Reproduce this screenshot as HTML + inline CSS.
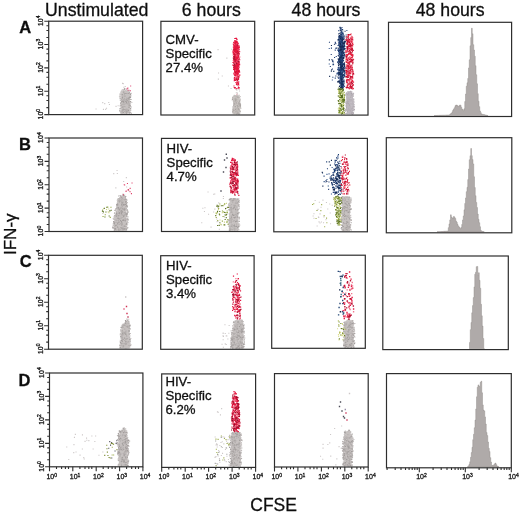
<!DOCTYPE html>
<html><head><meta charset="utf-8"><style>
html,body{margin:0;padding:0;background:#fff;width:520px;height:514px;overflow:hidden}
svg{display:block;font-family:"Liberation Sans", sans-serif}
text{stroke:#111;stroke-width:0.3px}
</style></head><body>
<svg width="520" height="514" viewBox="0 0 520 514">
<defs><filter id="bl" x="-5%" y="-5%" width="110%" height="110%"><feGaussianBlur stdDeviation="0.35"/></filter><filter id="gb" filterUnits="userSpaceOnUse" x="0" y="0" width="520" height="514"><feGaussianBlur stdDeviation="0.3"/></filter></defs>
<rect width="520" height="514" fill="#fff"/>
<g filter="url(#gb)">
<g filter="url(#bl)">
<path fill="#c5c0bf" d="M122.6 90.8 L121.9 92.0 L121.4 93.2 L121.2 94.3 L121.1 95.5 L121.1 113.8 L129.9 113.8 L129.9 95.5 L129.8 94.3 L129.6 93.2 L129.1 92.0 L128.4 90.8Z"/>
<path fill="#e6163f" d="M234.8 41.0 L234.2 45.0 L233.8 55.0 L234.1 68.0 L234.7 75.0 L238.5 75.0 L238.7 68.0 L238.9 55.0 L238.3 45.0 L237.1 41.0Z"/>
<path fill="#c5c0bd" d="M235.0 94.9 L234.2 95.3 L233.7 95.8 L233.4 96.2 L233.3 96.6 L233.2 97.0 L233.2 114.2 L239.6 114.2 L239.6 97.0 L239.5 96.6 L239.4 96.2 L239.1 95.8 L238.6 95.3 L237.8 94.9Z"/>
<path fill="#1f3c70" d="M340.4 34.0 L340.1 40.0 L339.9 70.0 L340.4 82.0 L340.8 89.0 L342.6 89.0 L342.8 82.0 L343.0 70.0 L342.8 40.0 L342.4 34.0Z"/>
<path fill="#c4bfc6" d="M347.8 92.1 L347.3 92.8 L347.0 93.5 L346.9 94.1 L346.8 94.8 L346.8 114.3 L353.0 114.3 L353.0 94.8 L352.9 94.1 L352.8 93.5 L352.5 92.8 L352.0 92.1Z"/>
<path fill="#c5c0bf" d="M120.6 195.4 L119.0 199.0 L117.8 204.7 L114.5 217.9 L113.8 230.7 L126.6 230.7 L126.6 217.9 L126.0 204.7 L125.8 199.0 L125.2 195.4Z"/>
<path fill="#c5c0bf" d="M229.7 198.5 L229.7 230.7 L238.4 230.7 L238.4 198.5Z"/>
<path fill="#c5c0bf" d="M342.3 196.4 L342.3 231.0 L350.0 231.0 L350.0 196.4Z"/>
<path fill="#c5c0bf" d="M126.0 320.5 L123.5 324.0 L121.3 328.6 L120.8 348.4 L129.6 348.4 L129.6 328.6 L129.6 324.0 L129.2 320.5Z"/>
<path fill="#c5c0bf" d="M236.1 319.8 L234.5 322.0 L233.0 330.0 L231.1 348.5 L243.4 348.5 L243.4 330.0 L242.7 322.0 L241.7 319.8Z"/>
<path fill="#c5c0bf" d="M346.9 320.2 L345.8 320.8 L345.2 321.5 L344.7 322.2 L344.5 322.8 L344.4 323.5 L344.4 347.5 L353.6 347.5 L353.6 323.5 L353.5 322.8 L353.3 322.2 L352.8 321.5 L352.2 320.8 L351.1 320.2Z"/>
<path fill="#c5c0bf" d="M121.0 429.8 L119.9 432.2 L119.2 434.5 L118.7 436.8 L118.5 439.2 L118.4 441.5 L119.2 466.0 L127.2 466.0 L127.8 441.5 L127.7 439.2 L127.5 436.8 L127.0 434.5 L126.3 432.2 L125.2 429.8Z"/>
<path fill="#c5c0bf" d="M236.2 431.0 L233.7 431.8 L232.6 432.7 L231.9 433.5 L231.4 434.3 L231.2 435.2 L231.1 436.0 L231.1 466.6 L240.1 466.6 L240.9 436.0 L240.8 435.2 L240.6 434.3 L240.1 433.5 L239.4 432.7 L238.3 431.8 L235.8 431.0Z"/>
<path fill="#c5c0bf" d="M346.4 431.5 L345.4 433.5 L344.8 435.5 L344.4 437.5 L344.2 439.5 L344.1 441.5 L344.1 466.2 L351.2 466.2 L352.0 441.5 L351.9 439.5 L351.7 437.5 L351.3 435.5 L350.7 433.5 L349.7 431.5Z"/>
<path fill="#c7c2c1" d="M127.1 96.5h1.1v1.1h-1.1zM124.5 89.7h1.1v1.1h-1.1zM125.0 104.7h1.1v1.1h-1.1zM126.1 92.8h1.1v1.1h-1.1zM125.9 89.6h1.1v1.1h-1.1zM128.2 99.6h1.1v1.1h-1.1zM127.3 102.2h1.1v1.1h-1.1zM129.0 108.2h1.1v1.1h-1.1zM120.3 92.2h1.1v1.1h-1.1zM122.7 100.6h1.1v1.1h-1.1zM128.0 108.4h1.1v1.1h-1.1zM120.1 104.6h1.1v1.1h-1.1zM122.9 89.4h1.1v1.1h-1.1zM120.9 111.0h1.1v1.1h-1.1zM128.6 110.1h1.1v1.1h-1.1zM130.9 112.9h1.1v1.1h-1.1zM122.7 93.7h1.1v1.1h-1.1zM129.4 99.1h1.1v1.1h-1.1zM129.2 111.5h1.1v1.1h-1.1zM124.5 102.4h1.1v1.1h-1.1zM122.5 102.3h1.1v1.1h-1.1zM123.9 107.6h1.1v1.1h-1.1zM124.6 91.6h1.1v1.1h-1.1zM122.9 96.8h1.1v1.1h-1.1zM122.7 99.3h1.1v1.1h-1.1zM124.7 94.8h1.1v1.1h-1.1zM120.8 103.0h1.1v1.1h-1.1zM125.8 99.7h1.1v1.1h-1.1zM120.6 101.8h1.1v1.1h-1.1zM127.8 96.3h1.1v1.1h-1.1zM122.8 97.0h1.1v1.1h-1.1zM130.3 93.1h1.1v1.1h-1.1zM127.0 96.7h1.1v1.1h-1.1zM122.0 89.2h1.1v1.1h-1.1zM122.5 110.8h1.1v1.1h-1.1zM123.5 91.9h1.1v1.1h-1.1zM118.9 96.2h1.1v1.1h-1.1zM119.5 93.3h1.1v1.1h-1.1zM123.8 89.3h1.1v1.1h-1.1zM127.7 107.4h1.1v1.1h-1.1zM126.3 109.4h1.1v1.1h-1.1zM129.0 101.3h1.1v1.1h-1.1zM127.2 111.3h1.1v1.1h-1.1zM119.5 105.4h1.1v1.1h-1.1zM120.0 101.8h1.1v1.1h-1.1zM121.5 94.3h1.1v1.1h-1.1zM123.0 89.8h1.1v1.1h-1.1zM124.9 111.9h1.1v1.1h-1.1zM130.2 95.2h1.1v1.1h-1.1zM129.4 106.3h1.1v1.1h-1.1zM122.9 100.9h1.1v1.1h-1.1zM124.1 103.4h1.1v1.1h-1.1zM129.9 109.9h1.1v1.1h-1.1zM122.3 94.7h1.1v1.1h-1.1zM123.6 107.5h1.1v1.1h-1.1zM122.3 110.7h1.1v1.1h-1.1zM130.3 109.6h1.1v1.1h-1.1zM124.8 90.8h1.1v1.1h-1.1zM124.7 95.8h1.1v1.1h-1.1zM122.2 105.4h1.1v1.1h-1.1zM128.3 105.5h1.1v1.1h-1.1zM129.8 107.8h1.1v1.1h-1.1zM130.3 99.0h1.1v1.1h-1.1zM128.5 111.4h1.1v1.1h-1.1zM126.5 107.6h1.1v1.1h-1.1zM122.0 92.8h1.1v1.1h-1.1zM123.6 112.8h1.1v1.1h-1.1zM120.9 98.0h1.1v1.1h-1.1zM128.1 98.7h1.1v1.1h-1.1zM128.1 111.9h1.1v1.1h-1.1zM122.2 112.8h1.1v1.1h-1.1zM130.3 111.9h1.1v1.1h-1.1zM127.0 90.1h1.1v1.1h-1.1zM131.3 102.0h1.1v1.1h-1.1zM124.8 89.9h1.1v1.1h-1.1zM123.5 95.5h1.1v1.1h-1.1zM129.0 94.3h1.1v1.1h-1.1zM123.8 103.0h1.1v1.1h-1.1zM120.0 108.1h1.1v1.1h-1.1zM122.9 93.1h1.1v1.1h-1.1zM125.6 93.3h1.1v1.1h-1.1zM120.6 102.6h1.1v1.1h-1.1zM129.9 95.6h1.1v1.1h-1.1zM128.7 93.4h1.1v1.1h-1.1zM126.0 111.9h1.1v1.1h-1.1zM121.7 113.0h1.1v1.1h-1.1zM129.0 93.6h1.1v1.1h-1.1zM122.3 102.4h1.1v1.1h-1.1zM124.8 105.2h1.1v1.1h-1.1zM127.9 94.1h1.1v1.1h-1.1zM124.7 90.9h1.1v1.1h-1.1zM129.4 108.0h1.1v1.1h-1.1zM121.6 101.3h1.1v1.1h-1.1zM128.2 105.0h1.1v1.1h-1.1zM124.6 97.6h1.1v1.1h-1.1zM120.0 96.3h1.1v1.1h-1.1zM120.8 101.6h1.1v1.1h-1.1zM122.0 90.6h1.1v1.1h-1.1zM121.1 104.2h1.1v1.1h-1.1zM119.4 94.4h1.1v1.1h-1.1zM119.7 108.1h1.1v1.1h-1.1zM122.1 107.4h1.1v1.1h-1.1zM127.5 96.4h1.1v1.1h-1.1zM125.7 99.5h1.1v1.1h-1.1zM121.3 91.6h1.1v1.1h-1.1zM120.5 111.9h1.1v1.1h-1.1zM126.7 109.8h1.1v1.1h-1.1zM127.3 90.7h1.1v1.1h-1.1zM123.0 95.8h1.1v1.1h-1.1zM125.5 97.4h1.1v1.1h-1.1zM122.6 95.1h1.1v1.1h-1.1zM126.2 106.3h1.1v1.1h-1.1zM129.6 111.2h1.1v1.1h-1.1zM123.8 111.4h1.1v1.1h-1.1zM127.6 101.7h1.1v1.1h-1.1zM120.5 105.4h1.1v1.1h-1.1zM128.7 91.4h1.1v1.1h-1.1zM121.2 106.4h1.1v1.1h-1.1zM129.4 90.3h1.1v1.1h-1.1zM120.8 93.3h1.1v1.1h-1.1zM126.6 98.4h1.1v1.1h-1.1zM127.3 90.2h1.1v1.1h-1.1zM122.3 97.2h1.1v1.1h-1.1zM121.9 112.3h1.1v1.1h-1.1zM128.8 97.0h1.1v1.1h-1.1zM128.3 102.6h1.1v1.1h-1.1zM121.1 111.3h1.1v1.1h-1.1zM122.2 102.6h1.1v1.1h-1.1zM127.0 100.0h1.1v1.1h-1.1zM126.4 113.0h1.1v1.1h-1.1zM123.5 105.7h1.1v1.1h-1.1zM125.3 97.4h1.1v1.1h-1.1zM128.5 99.3h1.1v1.1h-1.1zM119.8 111.1h1.1v1.1h-1.1zM127.0 111.6h1.1v1.1h-1.1zM126.7 103.9h1.1v1.1h-1.1zM128.1 105.4h1.1v1.1h-1.1zM122.4 102.7h1.1v1.1h-1.1zM119.8 104.7h1.1v1.1h-1.1zM129.7 109.1h1.1v1.1h-1.1zM130.0 103.4h1.1v1.1h-1.1zM127.1 91.6h1.1v1.1h-1.1zM122.8 99.9h1.1v1.1h-1.1zM128.5 103.7h1.1v1.1h-1.1zM122.2 99.7h1.1v1.1h-1.1zM126.5 107.9h1.1v1.1h-1.1zM123.6 97.4h1.1v1.1h-1.1zM123.3 92.0h1.1v1.1h-1.1zM121.6 94.7h1.1v1.1h-1.1zM125.3 102.4h1.1v1.1h-1.1zM120.9 103.5h1.1v1.1h-1.1zM126.5 104.8h1.1v1.1h-1.1zM122.1 112.3h1.1v1.1h-1.1zM120.4 96.4h1.1v1.1h-1.1zM120.4 91.4h1.1v1.1h-1.1zM124.5 97.1h1.1v1.1h-1.1zM119.6 95.4h1.1v1.1h-1.1zM124.5 101.6h1.1v1.1h-1.1zM127.6 91.4h1.1v1.1h-1.1zM122.6 100.7h1.1v1.1h-1.1zM126.4 92.2h1.1v1.1h-1.1zM127.7 101.0h1.1v1.1h-1.1zM120.5 94.2h1.1v1.1h-1.1zM120.2 106.7h1.1v1.1h-1.1zM120.8 90.9h1.1v1.1h-1.1zM121.6 102.5h1.1v1.1h-1.1zM123.8 112.2h1.1v1.1h-1.1zM121.5 94.8h1.1v1.1h-1.1zM124.5 94.4h1.1v1.1h-1.1zM126.5 104.8h1.1v1.1h-1.1zM121.1 100.2h1.1v1.1h-1.1zM126.9 104.2h1.1v1.1h-1.1zM124.5 102.4h1.1v1.1h-1.1zM124.6 94.8h1.1v1.1h-1.1zM120.3 107.9h1.1v1.1h-1.1zM122.7 107.5h1.1v1.1h-1.1zM125.8 212.4h1.1v1.1h-1.1zM118.3 200.1h1.1v1.1h-1.1zM120.3 211.8h1.1v1.1h-1.1zM124.0 203.9h1.1v1.1h-1.1zM125.3 205.6h1.1v1.1h-1.1zM126.0 205.6h1.1v1.1h-1.1zM116.5 204.4h1.1v1.1h-1.1zM117.6 214.4h1.1v1.1h-1.1zM116.8 210.6h1.1v1.1h-1.1zM126.1 229.2h1.1v1.1h-1.1zM113.3 228.0h1.1v1.1h-1.1zM127.5 216.3h1.1v1.1h-1.1zM116.7 229.2h1.1v1.1h-1.1zM116.2 224.5h1.1v1.1h-1.1zM125.3 222.7h1.1v1.1h-1.1zM122.8 220.6h1.1v1.1h-1.1zM116.1 213.2h1.1v1.1h-1.1zM118.5 213.9h1.1v1.1h-1.1zM118.0 200.0h1.1v1.1h-1.1zM124.6 222.8h1.1v1.1h-1.1zM124.3 204.3h1.1v1.1h-1.1zM116.4 214.9h1.1v1.1h-1.1zM121.8 204.3h1.1v1.1h-1.1zM117.0 228.4h1.1v1.1h-1.1zM116.7 217.6h1.1v1.1h-1.1zM116.0 221.0h1.1v1.1h-1.1zM127.4 218.6h1.1v1.1h-1.1zM125.1 222.7h1.1v1.1h-1.1zM122.2 215.4h1.1v1.1h-1.1zM118.7 208.2h1.1v1.1h-1.1zM118.4 222.8h1.1v1.1h-1.1zM120.6 215.3h1.1v1.1h-1.1zM117.7 222.1h1.1v1.1h-1.1zM126.2 202.8h1.1v1.1h-1.1zM116.9 208.6h1.1v1.1h-1.1zM119.3 225.5h1.1v1.1h-1.1zM122.6 228.8h1.1v1.1h-1.1zM126.1 199.2h1.1v1.1h-1.1zM120.6 216.5h1.1v1.1h-1.1zM119.9 210.8h1.1v1.1h-1.1zM121.6 200.5h1.1v1.1h-1.1zM117.0 226.5h1.1v1.1h-1.1zM123.6 204.7h1.1v1.1h-1.1zM124.7 205.1h1.1v1.1h-1.1zM117.2 220.8h1.1v1.1h-1.1zM118.3 206.3h1.1v1.1h-1.1zM119.0 222.2h1.1v1.1h-1.1zM113.0 225.1h1.1v1.1h-1.1zM116.9 201.5h1.1v1.1h-1.1zM119.0 226.5h1.1v1.1h-1.1zM118.7 221.0h1.1v1.1h-1.1zM121.7 201.4h1.1v1.1h-1.1zM116.1 224.5h1.1v1.1h-1.1zM123.1 224.6h1.1v1.1h-1.1zM118.5 227.4h1.1v1.1h-1.1zM114.7 215.4h1.1v1.1h-1.1zM120.8 214.4h1.1v1.1h-1.1zM120.9 215.3h1.1v1.1h-1.1zM124.2 218.5h1.1v1.1h-1.1zM117.0 203.0h1.1v1.1h-1.1zM126.0 220.1h1.1v1.1h-1.1zM115.8 226.9h1.1v1.1h-1.1zM117.1 206.6h1.1v1.1h-1.1zM126.3 226.5h1.1v1.1h-1.1zM123.7 227.1h1.1v1.1h-1.1zM119.6 203.3h1.1v1.1h-1.1zM119.7 203.3h1.1v1.1h-1.1zM125.6 204.1h1.1v1.1h-1.1zM124.0 203.9h1.1v1.1h-1.1zM124.3 197.0h1.1v1.1h-1.1zM122.0 214.1h1.1v1.1h-1.1zM118.7 201.5h1.1v1.1h-1.1zM119.9 199.4h1.1v1.1h-1.1zM118.3 216.7h1.1v1.1h-1.1zM117.0 204.7h1.1v1.1h-1.1zM124.8 228.5h1.1v1.1h-1.1zM123.6 201.5h1.1v1.1h-1.1zM124.1 210.2h1.1v1.1h-1.1zM125.4 209.5h1.1v1.1h-1.1zM118.8 209.9h1.1v1.1h-1.1zM114.0 218.5h1.1v1.1h-1.1zM121.6 213.8h1.1v1.1h-1.1zM117.7 222.8h1.1v1.1h-1.1zM124.8 211.1h1.1v1.1h-1.1zM123.6 209.0h1.1v1.1h-1.1zM126.2 207.1h1.1v1.1h-1.1zM117.0 216.7h1.1v1.1h-1.1zM118.6 205.2h1.1v1.1h-1.1zM117.6 217.3h1.1v1.1h-1.1zM116.5 212.8h1.1v1.1h-1.1zM124.7 198.9h1.1v1.1h-1.1zM123.4 207.9h1.1v1.1h-1.1zM126.4 209.2h1.1v1.1h-1.1zM119.0 226.5h1.1v1.1h-1.1zM124.2 222.8h1.1v1.1h-1.1zM121.7 204.4h1.1v1.1h-1.1zM122.8 195.7h1.1v1.1h-1.1zM116.4 207.2h1.1v1.1h-1.1zM116.9 227.0h1.1v1.1h-1.1zM124.0 219.8h1.1v1.1h-1.1zM121.1 211.4h1.1v1.1h-1.1zM124.3 220.0h1.1v1.1h-1.1zM115.3 210.2h1.1v1.1h-1.1zM114.7 217.9h1.1v1.1h-1.1zM120.9 218.0h1.1v1.1h-1.1zM114.5 224.6h1.1v1.1h-1.1zM116.9 203.0h1.1v1.1h-1.1zM123.2 207.3h1.1v1.1h-1.1zM123.5 226.2h1.1v1.1h-1.1zM124.6 213.6h1.1v1.1h-1.1zM124.0 203.6h1.1v1.1h-1.1zM115.3 216.9h1.1v1.1h-1.1zM121.7 202.2h1.1v1.1h-1.1zM123.5 228.3h1.1v1.1h-1.1zM125.3 206.2h1.1v1.1h-1.1zM118.3 201.7h1.1v1.1h-1.1zM125.9 228.4h1.1v1.1h-1.1zM120.1 211.4h1.1v1.1h-1.1zM116.7 199.7h1.1v1.1h-1.1zM115.9 206.2h1.1v1.1h-1.1zM124.5 213.5h1.1v1.1h-1.1zM118.6 225.2h1.1v1.1h-1.1zM118.2 200.3h1.1v1.1h-1.1zM126.5 199.5h1.1v1.1h-1.1zM122.0 202.0h1.1v1.1h-1.1zM118.3 228.0h1.1v1.1h-1.1zM116.0 225.8h1.1v1.1h-1.1zM125.4 201.8h1.1v1.1h-1.1zM113.3 216.5h1.1v1.1h-1.1zM126.5 199.6h1.1v1.1h-1.1zM121.0 211.9h1.1v1.1h-1.1zM126.4 199.4h1.1v1.1h-1.1zM122.5 196.2h1.1v1.1h-1.1zM122.5 228.6h1.1v1.1h-1.1zM125.6 213.7h1.1v1.1h-1.1zM122.3 203.1h1.1v1.1h-1.1zM120.1 216.9h1.1v1.1h-1.1zM116.7 205.0h1.1v1.1h-1.1zM120.8 209.4h1.1v1.1h-1.1zM115.9 212.9h1.1v1.1h-1.1zM119.4 206.2h1.1v1.1h-1.1zM122.5 215.3h1.1v1.1h-1.1zM122.3 221.9h1.1v1.1h-1.1zM119.9 226.4h1.1v1.1h-1.1zM122.8 223.2h1.1v1.1h-1.1zM125.6 209.9h1.1v1.1h-1.1zM120.2 223.3h1.1v1.1h-1.1zM121.5 227.9h1.1v1.1h-1.1zM123.3 197.5h1.1v1.1h-1.1zM126.0 218.8h1.1v1.1h-1.1zM124.0 196.0h1.1v1.1h-1.1zM115.0 208.4h1.1v1.1h-1.1zM126.3 221.9h1.1v1.1h-1.1zM126.7 219.1h1.1v1.1h-1.1zM117.2 225.6h1.1v1.1h-1.1zM121.6 229.9h1.1v1.1h-1.1zM125.6 203.0h1.1v1.1h-1.1zM124.6 227.3h1.1v1.1h-1.1zM117.1 208.6h1.1v1.1h-1.1zM122.0 227.4h1.1v1.1h-1.1zM116.4 215.5h1.1v1.1h-1.1zM121.5 207.4h1.1v1.1h-1.1zM122.9 219.9h1.1v1.1h-1.1zM118.6 211.3h1.1v1.1h-1.1zM120.9 225.1h1.1v1.1h-1.1zM126.9 227.1h1.1v1.1h-1.1zM121.6 216.1h1.1v1.1h-1.1zM118.1 208.8h1.1v1.1h-1.1zM118.0 211.5h1.1v1.1h-1.1zM125.3 214.4h1.1v1.1h-1.1zM119.5 198.9h1.1v1.1h-1.1zM126.5 223.5h1.1v1.1h-1.1zM123.9 215.4h1.1v1.1h-1.1zM122.0 206.8h1.1v1.1h-1.1zM125.6 205.6h1.1v1.1h-1.1zM121.1 215.7h1.1v1.1h-1.1zM125.4 215.8h1.1v1.1h-1.1zM119.1 222.2h1.1v1.1h-1.1zM118.0 197.9h1.1v1.1h-1.1zM117.2 209.4h1.1v1.1h-1.1zM120.9 214.0h1.1v1.1h-1.1zM117.3 221.3h1.1v1.1h-1.1zM117.2 210.6h1.1v1.1h-1.1zM122.6 211.9h1.1v1.1h-1.1zM118.3 206.3h1.1v1.1h-1.1zM125.6 222.4h1.1v1.1h-1.1zM122.7 205.8h1.1v1.1h-1.1zM119.0 219.7h1.1v1.1h-1.1zM125.1 214.8h1.1v1.1h-1.1zM119.0 220.5h1.1v1.1h-1.1zM116.6 211.1h1.1v1.1h-1.1zM119.1 211.6h1.1v1.1h-1.1zM119.1 204.3h1.1v1.1h-1.1zM124.4 210.2h1.1v1.1h-1.1zM125.7 228.3h1.1v1.1h-1.1zM120.8 220.7h1.1v1.1h-1.1zM123.7 226.6h1.1v1.1h-1.1zM114.8 215.5h1.1v1.1h-1.1zM121.9 199.3h1.1v1.1h-1.1zM125.1 218.3h1.1v1.1h-1.1zM113.9 212.8h1.1v1.1h-1.1zM122.1 229.7h1.1v1.1h-1.1zM123.0 206.2h1.1v1.1h-1.1zM117.7 218.5h1.1v1.1h-1.1zM126.0 223.4h1.1v1.1h-1.1zM122.7 205.6h1.1v1.1h-1.1zM119.1 197.2h1.1v1.1h-1.1zM113.9 215.0h1.1v1.1h-1.1zM120.5 220.0h1.1v1.1h-1.1zM119.9 198.6h1.1v1.1h-1.1zM120.7 221.0h1.1v1.1h-1.1zM121.2 218.9h1.1v1.1h-1.1zM117.5 199.7h1.1v1.1h-1.1zM118.4 228.4h1.1v1.1h-1.1zM119.3 202.9h1.1v1.1h-1.1zM118.4 226.0h1.1v1.1h-1.1zM123.0 216.1h1.1v1.1h-1.1zM113.9 220.6h1.1v1.1h-1.1zM124.1 211.0h1.1v1.1h-1.1zM126.3 227.6h1.1v1.1h-1.1zM117.2 199.4h1.1v1.1h-1.1zM121.1 224.6h1.1v1.1h-1.1zM127.2 211.0h1.1v1.1h-1.1zM119.2 229.4h1.1v1.1h-1.1zM123.2 214.9h1.1v1.1h-1.1zM123.3 201.6h1.1v1.1h-1.1zM122.5 193.6h1.1v1.1h-1.1zM116.1 219.5h1.1v1.1h-1.1zM126.3 224.8h1.1v1.1h-1.1zM116.5 227.3h1.1v1.1h-1.1zM121.6 228.5h1.1v1.1h-1.1zM119.0 220.2h1.1v1.1h-1.1zM123.8 197.9h1.1v1.1h-1.1zM120.4 220.3h1.1v1.1h-1.1zM119.4 207.0h1.1v1.1h-1.1zM115.4 208.4h1.1v1.1h-1.1zM117.0 209.7h1.1v1.1h-1.1zM123.9 204.4h1.1v1.1h-1.1zM124.3 208.0h1.1v1.1h-1.1zM113.3 222.6h1.1v1.1h-1.1zM124.1 199.1h1.1v1.1h-1.1zM116.4 216.9h1.1v1.1h-1.1zM123.2 208.4h1.1v1.1h-1.1zM118.7 211.1h1.1v1.1h-1.1zM123.6 213.9h1.1v1.1h-1.1zM115.8 229.5h1.1v1.1h-1.1zM127.5 227.2h1.1v1.1h-1.1zM117.0 214.2h1.1v1.1h-1.1zM125.8 226.0h1.1v1.1h-1.1zM117.2 226.7h1.1v1.1h-1.1zM119.4 202.8h1.1v1.1h-1.1zM124.2 204.1h1.1v1.1h-1.1zM113.9 215.3h1.1v1.1h-1.1zM125.4 205.3h1.1v1.1h-1.1zM122.9 218.5h1.1v1.1h-1.1zM119.8 198.6h1.1v1.1h-1.1zM120.0 203.8h1.1v1.1h-1.1zM118.8 213.0h1.1v1.1h-1.1zM118.2 215.1h1.1v1.1h-1.1zM126.0 203.7h1.1v1.1h-1.1zM117.3 220.2h1.1v1.1h-1.1zM122.4 201.8h1.1v1.1h-1.1zM118.7 202.7h1.1v1.1h-1.1zM125.0 202.8h1.1v1.1h-1.1zM119.6 209.3h1.1v1.1h-1.1zM116.6 206.1h1.1v1.1h-1.1zM114.9 214.9h1.1v1.1h-1.1zM123.1 217.0h1.1v1.1h-1.1zM118.0 204.8h1.1v1.1h-1.1zM112.3 225.6h1.1v1.1h-1.1zM114.5 218.5h1.1v1.1h-1.1zM121.6 214.4h1.1v1.1h-1.1zM126.9 219.7h1.1v1.1h-1.1zM114.3 224.9h1.1v1.1h-1.1zM125.3 199.6h1.1v1.1h-1.1zM127.5 221.9h1.1v1.1h-1.1zM126.7 221.1h1.1v1.1h-1.1zM114.4 221.2h1.1v1.1h-1.1zM123.9 197.7h1.1v1.1h-1.1zM121.1 196.6h1.1v1.1h-1.1zM119.7 211.9h1.1v1.1h-1.1zM114.9 226.5h1.1v1.1h-1.1zM116.6 211.5h1.1v1.1h-1.1zM123.8 213.5h1.1v1.1h-1.1zM125.6 215.4h1.1v1.1h-1.1zM125.1 205.1h1.1v1.1h-1.1zM116.5 207.7h1.1v1.1h-1.1zM114.1 210.0h1.1v1.1h-1.1zM113.0 222.0h1.1v1.1h-1.1zM113.9 216.9h1.1v1.1h-1.1zM113.8 216.7h1.1v1.1h-1.1zM118.8 229.7h1.1v1.1h-1.1zM126.5 213.6h1.1v1.1h-1.1zM120.1 201.5h1.1v1.1h-1.1zM113.9 215.6h1.1v1.1h-1.1zM112.4 227.8h1.1v1.1h-1.1zM119.0 222.7h1.1v1.1h-1.1zM121.4 228.0h1.1v1.1h-1.1zM118.1 219.2h1.1v1.1h-1.1zM115.0 222.9h1.1v1.1h-1.1zM121.9 214.8h1.1v1.1h-1.1zM126.6 221.2h1.1v1.1h-1.1zM122.8 219.1h1.1v1.1h-1.1zM114.3 225.7h1.1v1.1h-1.1zM125.8 220.3h1.1v1.1h-1.1zM117.7 213.3h1.1v1.1h-1.1zM115.5 227.5h1.1v1.1h-1.1zM115.1 221.5h1.1v1.1h-1.1zM121.8 217.7h1.1v1.1h-1.1zM116.9 222.9h1.1v1.1h-1.1zM125.6 214.5h1.1v1.1h-1.1zM120.8 222.9h1.1v1.1h-1.1zM116.7 202.6h1.1v1.1h-1.1zM115.7 220.6h1.1v1.1h-1.1zM116.3 207.4h1.1v1.1h-1.1zM127.0 221.3h1.1v1.1h-1.1zM116.3 221.2h1.1v1.1h-1.1zM122.3 225.6h1.1v1.1h-1.1zM124.9 206.8h1.1v1.1h-1.1zM124.3 224.6h1.1v1.1h-1.1zM121.7 207.6h1.1v1.1h-1.1zM124.7 206.1h1.1v1.1h-1.1zM123.3 203.4h1.1v1.1h-1.1zM121.1 228.1h1.1v1.1h-1.1zM116.3 229.4h1.1v1.1h-1.1zM119.0 210.3h1.1v1.1h-1.1zM124.7 218.7h1.1v1.1h-1.1zM120.4 227.2h1.1v1.1h-1.1zM127.1 223.5h1.1v1.1h-1.1zM124.6 216.6h1.1v1.1h-1.1zM118.6 215.9h1.1v1.1h-1.1zM119.0 209.7h1.1v1.1h-1.1zM118.5 225.8h1.1v1.1h-1.1zM113.6 222.4h1.1v1.1h-1.1zM123.5 219.3h1.1v1.1h-1.1zM121.6 198.0h1.1v1.1h-1.1zM124.1 194.5h1.1v1.1h-1.1zM125.3 210.6h1.1v1.1h-1.1zM116.0 227.9h1.1v1.1h-1.1zM119.5 215.6h1.1v1.1h-1.1zM112.7 218.1h1.1v1.1h-1.1zM125.3 206.0h1.1v1.1h-1.1zM121.9 214.1h1.1v1.1h-1.1zM113.0 221.0h1.1v1.1h-1.1zM126.4 224.3h1.1v1.1h-1.1zM126.2 215.3h1.1v1.1h-1.1zM114.2 224.8h1.1v1.1h-1.1zM122.4 213.2h1.1v1.1h-1.1zM118.4 208.0h1.1v1.1h-1.1zM120.7 201.7h1.1v1.1h-1.1zM116.4 222.9h1.1v1.1h-1.1zM125.4 199.2h1.1v1.1h-1.1zM114.1 228.0h1.1v1.1h-1.1zM126.9 201.9h1.1v1.1h-1.1zM125.1 219.3h1.1v1.1h-1.1zM116.2 228.1h1.1v1.1h-1.1zM120.4 222.5h1.1v1.1h-1.1zM126.6 214.0h1.1v1.1h-1.1zM234.1 200.9h1.1v1.1h-1.1zM230.1 219.6h1.1v1.1h-1.1zM231.2 220.8h1.1v1.1h-1.1zM237.0 224.3h1.1v1.1h-1.1zM236.8 208.1h1.1v1.1h-1.1zM232.5 221.1h1.1v1.1h-1.1zM236.6 208.7h1.1v1.1h-1.1zM228.2 219.7h1.1v1.1h-1.1zM229.1 209.3h1.1v1.1h-1.1zM237.8 217.3h1.1v1.1h-1.1zM230.1 211.4h1.1v1.1h-1.1zM234.7 225.7h1.1v1.1h-1.1zM231.0 205.0h1.1v1.1h-1.1zM237.0 223.1h1.1v1.1h-1.1zM233.8 200.6h1.1v1.1h-1.1zM229.0 225.4h1.1v1.1h-1.1zM234.2 210.5h1.1v1.1h-1.1zM228.9 209.9h1.1v1.1h-1.1zM229.9 226.7h1.1v1.1h-1.1zM234.7 210.7h1.1v1.1h-1.1zM237.5 201.8h1.1v1.1h-1.1zM234.2 200.7h1.1v1.1h-1.1zM228.8 215.9h1.1v1.1h-1.1zM238.8 224.6h1.1v1.1h-1.1zM231.7 219.8h1.1v1.1h-1.1zM234.5 203.9h1.1v1.1h-1.1zM236.8 208.0h1.1v1.1h-1.1zM239.2 224.6h1.1v1.1h-1.1zM228.8 228.4h1.1v1.1h-1.1zM238.6 219.3h1.1v1.1h-1.1zM229.1 217.2h1.1v1.1h-1.1zM235.1 219.5h1.1v1.1h-1.1zM229.1 202.6h1.1v1.1h-1.1zM229.8 209.6h1.1v1.1h-1.1zM234.2 206.7h1.1v1.1h-1.1zM237.1 203.1h1.1v1.1h-1.1zM237.4 216.6h1.1v1.1h-1.1zM235.7 222.2h1.1v1.1h-1.1zM235.3 207.2h1.1v1.1h-1.1zM237.9 198.7h1.1v1.1h-1.1zM229.4 210.5h1.1v1.1h-1.1zM238.3 198.3h1.1v1.1h-1.1zM235.4 214.6h1.1v1.1h-1.1zM229.1 214.6h1.1v1.1h-1.1zM232.0 210.6h1.1v1.1h-1.1zM234.2 219.5h1.1v1.1h-1.1zM229.5 206.6h1.1v1.1h-1.1zM232.3 217.9h1.1v1.1h-1.1zM231.9 217.6h1.1v1.1h-1.1zM229.0 216.3h1.1v1.1h-1.1zM230.9 209.2h1.1v1.1h-1.1zM233.1 201.5h1.1v1.1h-1.1zM229.6 203.8h1.1v1.1h-1.1zM234.4 213.5h1.1v1.1h-1.1zM232.5 208.0h1.1v1.1h-1.1zM233.1 205.0h1.1v1.1h-1.1zM237.5 224.9h1.1v1.1h-1.1zM237.3 226.9h1.1v1.1h-1.1zM238.2 211.7h1.1v1.1h-1.1zM234.1 206.9h1.1v1.1h-1.1zM227.5 219.8h1.1v1.1h-1.1zM228.6 205.6h1.1v1.1h-1.1zM229.2 208.4h1.1v1.1h-1.1zM238.2 226.3h1.1v1.1h-1.1zM232.8 216.5h1.1v1.1h-1.1zM234.2 210.2h1.1v1.1h-1.1zM236.0 203.9h1.1v1.1h-1.1zM235.7 201.5h1.1v1.1h-1.1zM236.9 229.7h1.1v1.1h-1.1zM228.6 220.5h1.1v1.1h-1.1zM236.3 199.3h1.1v1.1h-1.1zM232.7 217.9h1.1v1.1h-1.1zM235.0 199.3h1.1v1.1h-1.1zM232.6 227.1h1.1v1.1h-1.1zM231.0 209.9h1.1v1.1h-1.1zM230.7 204.2h1.1v1.1h-1.1zM236.8 205.6h1.1v1.1h-1.1zM235.5 222.0h1.1v1.1h-1.1zM230.0 213.5h1.1v1.1h-1.1zM235.7 202.8h1.1v1.1h-1.1zM230.0 201.6h1.1v1.1h-1.1zM232.2 222.7h1.1v1.1h-1.1zM235.8 227.2h1.1v1.1h-1.1zM235.1 224.0h1.1v1.1h-1.1zM235.4 207.2h1.1v1.1h-1.1zM235.2 209.6h1.1v1.1h-1.1zM238.3 223.2h1.1v1.1h-1.1zM236.4 216.8h1.1v1.1h-1.1zM229.1 216.3h1.1v1.1h-1.1zM238.8 220.9h1.1v1.1h-1.1zM233.5 221.7h1.1v1.1h-1.1zM236.1 211.1h1.1v1.1h-1.1zM230.7 211.9h1.1v1.1h-1.1zM232.3 208.1h1.1v1.1h-1.1zM236.9 216.3h1.1v1.1h-1.1zM233.8 227.6h1.1v1.1h-1.1zM232.1 205.7h1.1v1.1h-1.1zM231.7 204.0h1.1v1.1h-1.1zM231.8 220.7h1.1v1.1h-1.1zM236.9 220.9h1.1v1.1h-1.1zM238.2 229.0h1.1v1.1h-1.1zM229.8 216.1h1.1v1.1h-1.1zM237.2 207.7h1.1v1.1h-1.1zM230.4 222.4h1.1v1.1h-1.1zM238.1 203.7h1.1v1.1h-1.1zM230.2 200.1h1.1v1.1h-1.1zM235.4 211.3h1.1v1.1h-1.1zM232.0 198.4h1.1v1.1h-1.1zM228.7 199.1h1.1v1.1h-1.1zM235.2 202.4h1.1v1.1h-1.1zM237.0 222.2h1.1v1.1h-1.1zM233.3 207.1h1.1v1.1h-1.1zM236.4 217.3h1.1v1.1h-1.1zM232.9 217.6h1.1v1.1h-1.1zM236.3 200.0h1.1v1.1h-1.1zM229.2 215.3h1.1v1.1h-1.1zM237.1 212.4h1.1v1.1h-1.1zM237.3 212.5h1.1v1.1h-1.1zM233.9 213.3h1.1v1.1h-1.1zM230.6 226.7h1.1v1.1h-1.1zM236.5 200.7h1.1v1.1h-1.1zM234.0 209.5h1.1v1.1h-1.1zM233.9 206.5h1.1v1.1h-1.1zM238.1 217.3h1.1v1.1h-1.1zM235.4 222.2h1.1v1.1h-1.1zM230.2 220.2h1.1v1.1h-1.1zM238.1 199.3h1.1v1.1h-1.1zM235.7 221.9h1.1v1.1h-1.1zM238.7 202.0h1.1v1.1h-1.1zM232.0 223.5h1.1v1.1h-1.1zM232.6 223.9h1.1v1.1h-1.1zM230.7 213.6h1.1v1.1h-1.1zM229.8 205.1h1.1v1.1h-1.1zM238.2 223.5h1.1v1.1h-1.1zM238.5 203.9h1.1v1.1h-1.1zM235.0 213.8h1.1v1.1h-1.1zM229.4 213.7h1.1v1.1h-1.1zM230.5 199.3h1.1v1.1h-1.1zM238.3 198.4h1.1v1.1h-1.1zM230.0 212.9h1.1v1.1h-1.1zM231.2 224.2h1.1v1.1h-1.1zM232.5 218.9h1.1v1.1h-1.1zM231.9 218.8h1.1v1.1h-1.1zM228.7 219.7h1.1v1.1h-1.1zM231.4 204.6h1.1v1.1h-1.1zM228.9 206.3h1.1v1.1h-1.1zM234.2 225.6h1.1v1.1h-1.1zM238.0 198.5h1.1v1.1h-1.1zM232.1 202.7h1.1v1.1h-1.1zM229.6 206.8h1.1v1.1h-1.1zM229.8 220.7h1.1v1.1h-1.1zM232.0 206.2h1.1v1.1h-1.1zM237.2 213.4h1.1v1.1h-1.1zM232.5 217.9h1.1v1.1h-1.1zM237.2 213.9h1.1v1.1h-1.1zM228.9 214.1h1.1v1.1h-1.1zM233.4 198.7h1.1v1.1h-1.1zM232.7 222.4h1.1v1.1h-1.1zM236.2 203.2h1.1v1.1h-1.1zM228.7 213.2h1.1v1.1h-1.1zM235.1 224.4h1.1v1.1h-1.1zM231.4 217.0h1.1v1.1h-1.1zM228.5 206.8h1.1v1.1h-1.1zM230.8 212.0h1.1v1.1h-1.1zM237.3 213.7h1.1v1.1h-1.1zM234.6 199.7h1.1v1.1h-1.1zM233.6 215.0h1.1v1.1h-1.1zM235.4 215.8h1.1v1.1h-1.1zM231.6 200.6h1.1v1.1h-1.1zM236.5 207.7h1.1v1.1h-1.1zM236.6 228.0h1.1v1.1h-1.1zM228.9 220.2h1.1v1.1h-1.1zM237.6 228.6h1.1v1.1h-1.1zM236.4 213.5h1.1v1.1h-1.1zM234.0 200.2h1.1v1.1h-1.1zM228.5 226.1h1.1v1.1h-1.1zM235.3 216.4h1.1v1.1h-1.1zM232.2 215.6h1.1v1.1h-1.1zM236.1 201.5h1.1v1.1h-1.1zM238.9 217.9h1.1v1.1h-1.1zM232.3 199.0h1.1v1.1h-1.1zM231.8 227.4h1.1v1.1h-1.1zM231.0 222.6h1.1v1.1h-1.1zM236.3 221.6h1.1v1.1h-1.1zM228.1 206.2h1.1v1.1h-1.1zM234.9 210.5h1.1v1.1h-1.1zM234.1 227.9h1.1v1.1h-1.1zM228.5 205.4h1.1v1.1h-1.1zM234.7 215.5h1.1v1.1h-1.1zM235.6 215.8h1.1v1.1h-1.1zM230.5 215.0h1.1v1.1h-1.1zM233.5 216.9h1.1v1.1h-1.1zM229.8 217.3h1.1v1.1h-1.1zM230.3 200.5h1.1v1.1h-1.1zM234.5 221.5h1.1v1.1h-1.1zM231.6 198.2h1.1v1.1h-1.1zM236.4 216.7h1.1v1.1h-1.1zM230.9 205.9h1.1v1.1h-1.1zM231.8 203.0h1.1v1.1h-1.1zM238.8 200.1h1.1v1.1h-1.1zM237.3 213.9h1.1v1.1h-1.1zM231.3 216.7h1.1v1.1h-1.1zM232.4 203.1h1.1v1.1h-1.1zM238.2 200.5h1.1v1.1h-1.1zM230.9 201.5h1.1v1.1h-1.1zM233.8 207.2h1.1v1.1h-1.1zM236.3 223.9h1.1v1.1h-1.1zM236.2 221.5h1.1v1.1h-1.1zM238.2 205.0h1.1v1.1h-1.1zM233.8 203.5h1.1v1.1h-1.1zM231.9 223.3h1.1v1.1h-1.1zM236.5 199.8h1.1v1.1h-1.1zM229.8 223.1h1.1v1.1h-1.1zM232.4 201.1h1.1v1.1h-1.1zM230.0 210.3h1.1v1.1h-1.1zM233.0 221.4h1.1v1.1h-1.1zM233.0 227.8h1.1v1.1h-1.1zM230.3 224.0h1.1v1.1h-1.1zM229.0 223.2h1.1v1.1h-1.1zM234.6 219.6h1.1v1.1h-1.1zM231.8 219.7h1.1v1.1h-1.1zM234.3 198.2h1.1v1.1h-1.1zM235.7 219.8h1.1v1.1h-1.1zM233.9 220.3h1.1v1.1h-1.1zM237.1 227.6h1.1v1.1h-1.1zM233.5 220.2h1.1v1.1h-1.1zM234.2 225.1h1.1v1.1h-1.1zM227.9 223.9h1.1v1.1h-1.1zM237.3 221.1h1.1v1.1h-1.1zM237.8 200.5h1.1v1.1h-1.1zM230.5 200.4h1.1v1.1h-1.1zM231.9 199.4h1.1v1.1h-1.1zM233.1 221.9h1.1v1.1h-1.1zM229.5 224.1h1.1v1.1h-1.1zM237.0 217.8h1.1v1.1h-1.1zM228.8 205.1h1.1v1.1h-1.1zM232.5 224.2h1.1v1.1h-1.1zM236.4 225.4h1.1v1.1h-1.1zM229.1 227.5h1.1v1.1h-1.1zM238.9 207.5h1.1v1.1h-1.1zM238.3 212.7h1.1v1.1h-1.1zM231.1 213.3h1.1v1.1h-1.1zM229.6 213.0h1.1v1.1h-1.1zM238.4 223.1h1.1v1.1h-1.1zM234.3 226.4h1.1v1.1h-1.1zM238.3 229.2h1.1v1.1h-1.1zM230.2 212.5h1.1v1.1h-1.1zM229.5 221.4h1.1v1.1h-1.1zM231.7 207.1h1.1v1.1h-1.1zM232.4 225.2h1.1v1.1h-1.1zM236.0 228.4h1.1v1.1h-1.1zM229.1 198.4h1.1v1.1h-1.1zM235.7 223.8h1.1v1.1h-1.1zM235.8 228.7h1.1v1.1h-1.1zM233.5 221.6h1.1v1.1h-1.1zM235.5 205.4h1.1v1.1h-1.1zM236.8 198.5h1.1v1.1h-1.1zM228.7 226.1h1.1v1.1h-1.1zM236.5 216.4h1.1v1.1h-1.1zM233.8 208.0h1.1v1.1h-1.1zM229.8 215.4h1.1v1.1h-1.1zM231.8 222.2h1.1v1.1h-1.1zM228.7 219.0h1.1v1.1h-1.1zM229.8 198.4h1.1v1.1h-1.1zM229.0 223.5h1.1v1.1h-1.1zM232.2 214.3h1.1v1.1h-1.1zM233.1 216.2h1.1v1.1h-1.1zM234.2 217.0h1.1v1.1h-1.1zM238.4 208.4h1.1v1.1h-1.1zM234.2 206.3h1.1v1.1h-1.1zM232.5 217.5h1.1v1.1h-1.1zM236.2 213.0h1.1v1.1h-1.1zM341.9 229.2h1.1v1.1h-1.1zM347.0 215.1h1.1v1.1h-1.1zM345.4 216.8h1.1v1.1h-1.1zM348.3 208.5h1.1v1.1h-1.1zM343.2 226.5h1.1v1.1h-1.1zM343.7 222.8h1.1v1.1h-1.1zM343.6 201.2h1.1v1.1h-1.1zM341.6 207.4h1.1v1.1h-1.1zM350.0 201.0h1.1v1.1h-1.1zM344.1 220.5h1.1v1.1h-1.1zM350.5 197.6h1.1v1.1h-1.1zM348.3 202.7h1.1v1.1h-1.1zM342.3 211.7h1.1v1.1h-1.1zM348.6 219.4h1.1v1.1h-1.1zM343.2 205.1h1.1v1.1h-1.1zM347.3 224.9h1.1v1.1h-1.1zM350.1 225.1h1.1v1.1h-1.1zM344.0 228.9h1.1v1.1h-1.1zM347.7 197.8h1.1v1.1h-1.1zM345.7 198.5h1.1v1.1h-1.1zM347.8 208.1h1.1v1.1h-1.1zM343.1 224.7h1.1v1.1h-1.1zM344.7 222.6h1.1v1.1h-1.1zM344.4 222.1h1.1v1.1h-1.1zM345.6 218.9h1.1v1.1h-1.1zM341.3 220.4h1.1v1.1h-1.1zM344.1 201.9h1.1v1.1h-1.1zM342.4 226.8h1.1v1.1h-1.1zM340.9 203.2h1.1v1.1h-1.1zM343.5 220.7h1.1v1.1h-1.1zM346.2 209.2h1.1v1.1h-1.1zM347.8 221.3h1.1v1.1h-1.1zM346.3 224.7h1.1v1.1h-1.1zM342.8 222.3h1.1v1.1h-1.1zM342.2 206.7h1.1v1.1h-1.1zM343.4 211.3h1.1v1.1h-1.1zM350.4 199.2h1.1v1.1h-1.1zM346.9 228.6h1.1v1.1h-1.1zM344.5 224.7h1.1v1.1h-1.1zM341.0 220.3h1.1v1.1h-1.1zM346.6 224.4h1.1v1.1h-1.1zM349.5 220.4h1.1v1.1h-1.1zM347.8 223.0h1.1v1.1h-1.1zM341.7 213.6h1.1v1.1h-1.1zM349.2 212.1h1.1v1.1h-1.1zM350.0 201.6h1.1v1.1h-1.1zM344.8 196.2h1.1v1.1h-1.1zM346.7 221.2h1.1v1.1h-1.1zM348.9 216.4h1.1v1.1h-1.1zM349.3 215.5h1.1v1.1h-1.1zM347.6 214.8h1.1v1.1h-1.1zM349.5 205.1h1.1v1.1h-1.1zM341.9 197.4h1.1v1.1h-1.1zM344.8 221.4h1.1v1.1h-1.1zM350.2 214.7h1.1v1.1h-1.1zM343.8 202.6h1.1v1.1h-1.1zM346.0 208.8h1.1v1.1h-1.1zM345.6 224.8h1.1v1.1h-1.1zM341.2 227.1h1.1v1.1h-1.1zM349.7 216.9h1.1v1.1h-1.1zM343.9 202.3h1.1v1.1h-1.1zM346.8 227.1h1.1v1.1h-1.1zM349.9 211.4h1.1v1.1h-1.1zM346.8 202.6h1.1v1.1h-1.1zM343.9 218.6h1.1v1.1h-1.1zM343.9 199.6h1.1v1.1h-1.1zM348.5 200.6h1.1v1.1h-1.1zM345.5 205.4h1.1v1.1h-1.1zM348.0 201.5h1.1v1.1h-1.1zM340.9 209.6h1.1v1.1h-1.1zM349.1 205.2h1.1v1.1h-1.1zM344.1 216.4h1.1v1.1h-1.1zM349.0 221.4h1.1v1.1h-1.1zM341.2 211.2h1.1v1.1h-1.1zM345.3 226.1h1.1v1.1h-1.1zM348.5 225.6h1.1v1.1h-1.1zM349.3 229.3h1.1v1.1h-1.1zM346.0 219.4h1.1v1.1h-1.1zM347.3 229.2h1.1v1.1h-1.1zM344.1 207.3h1.1v1.1h-1.1zM349.2 202.5h1.1v1.1h-1.1zM342.7 205.3h1.1v1.1h-1.1zM340.9 198.2h1.1v1.1h-1.1zM347.7 211.7h1.1v1.1h-1.1zM342.7 219.3h1.1v1.1h-1.1zM346.2 229.6h1.1v1.1h-1.1zM340.9 202.3h1.1v1.1h-1.1zM347.5 209.5h1.1v1.1h-1.1zM346.2 221.9h1.1v1.1h-1.1zM349.5 203.0h1.1v1.1h-1.1zM341.9 200.1h1.1v1.1h-1.1zM346.6 203.9h1.1v1.1h-1.1zM350.5 198.9h1.1v1.1h-1.1zM349.8 228.9h1.1v1.1h-1.1zM347.2 211.6h1.1v1.1h-1.1zM343.0 214.4h1.1v1.1h-1.1zM342.0 226.4h1.1v1.1h-1.1zM349.5 228.2h1.1v1.1h-1.1zM348.0 227.6h1.1v1.1h-1.1zM350.3 197.8h1.1v1.1h-1.1zM349.1 215.2h1.1v1.1h-1.1zM348.2 225.8h1.1v1.1h-1.1zM350.0 208.2h1.1v1.1h-1.1zM346.8 217.5h1.1v1.1h-1.1zM341.0 209.7h1.1v1.1h-1.1zM348.1 225.0h1.1v1.1h-1.1zM343.5 205.5h1.1v1.1h-1.1zM341.1 220.9h1.1v1.1h-1.1zM347.9 228.2h1.1v1.1h-1.1zM345.7 213.0h1.1v1.1h-1.1zM346.0 211.0h1.1v1.1h-1.1zM346.5 221.7h1.1v1.1h-1.1zM347.3 225.9h1.1v1.1h-1.1zM345.3 210.2h1.1v1.1h-1.1zM348.0 202.4h1.1v1.1h-1.1zM343.4 202.2h1.1v1.1h-1.1zM341.6 213.4h1.1v1.1h-1.1zM348.0 210.6h1.1v1.1h-1.1zM346.9 215.3h1.1v1.1h-1.1zM350.1 217.0h1.1v1.1h-1.1zM346.8 223.5h1.1v1.1h-1.1zM346.8 215.8h1.1v1.1h-1.1zM341.8 221.1h1.1v1.1h-1.1zM345.9 226.4h1.1v1.1h-1.1zM350.7 219.5h1.1v1.1h-1.1zM340.9 212.9h1.1v1.1h-1.1zM348.6 200.9h1.1v1.1h-1.1zM344.7 215.8h1.1v1.1h-1.1zM346.4 208.3h1.1v1.1h-1.1zM349.2 212.5h1.1v1.1h-1.1zM341.6 220.5h1.1v1.1h-1.1zM346.7 229.3h1.1v1.1h-1.1zM342.3 217.6h1.1v1.1h-1.1zM347.1 202.9h1.1v1.1h-1.1zM349.5 219.9h1.1v1.1h-1.1zM340.6 220.5h1.1v1.1h-1.1zM344.3 203.5h1.1v1.1h-1.1zM346.6 208.8h1.1v1.1h-1.1zM341.4 204.9h1.1v1.1h-1.1zM341.6 219.0h1.1v1.1h-1.1zM347.4 214.6h1.1v1.1h-1.1zM346.2 213.7h1.1v1.1h-1.1zM347.6 223.3h1.1v1.1h-1.1zM342.7 218.2h1.1v1.1h-1.1zM341.1 213.7h1.1v1.1h-1.1zM341.4 209.1h1.1v1.1h-1.1zM347.4 219.5h1.1v1.1h-1.1zM346.6 221.1h1.1v1.1h-1.1zM344.4 221.6h1.1v1.1h-1.1zM349.8 208.9h1.1v1.1h-1.1zM349.1 202.8h1.1v1.1h-1.1zM341.2 220.2h1.1v1.1h-1.1zM347.0 227.5h1.1v1.1h-1.1zM343.7 229.7h1.1v1.1h-1.1zM345.7 219.7h1.1v1.1h-1.1zM341.7 221.9h1.1v1.1h-1.1zM350.4 202.1h1.1v1.1h-1.1zM347.6 205.3h1.1v1.1h-1.1zM344.1 216.7h1.1v1.1h-1.1zM348.6 217.4h1.1v1.1h-1.1zM346.8 223.4h1.1v1.1h-1.1zM341.8 230.1h1.1v1.1h-1.1zM345.0 202.8h1.1v1.1h-1.1zM346.4 210.1h1.1v1.1h-1.1zM341.3 224.6h1.1v1.1h-1.1zM341.6 196.1h1.1v1.1h-1.1zM347.6 216.4h1.1v1.1h-1.1zM345.0 202.1h1.1v1.1h-1.1zM349.9 215.2h1.1v1.1h-1.1zM343.0 202.7h1.1v1.1h-1.1zM345.5 214.3h1.1v1.1h-1.1zM342.0 200.8h1.1v1.1h-1.1zM344.5 223.2h1.1v1.1h-1.1zM341.0 201.6h1.1v1.1h-1.1zM344.7 197.4h1.1v1.1h-1.1zM344.3 224.6h1.1v1.1h-1.1zM347.4 222.8h1.1v1.1h-1.1zM348.2 213.2h1.1v1.1h-1.1zM346.7 199.4h1.1v1.1h-1.1zM346.7 201.5h1.1v1.1h-1.1zM341.9 216.2h1.1v1.1h-1.1zM341.1 219.9h1.1v1.1h-1.1zM341.9 214.7h1.1v1.1h-1.1zM348.2 228.4h1.1v1.1h-1.1zM344.6 206.8h1.1v1.1h-1.1zM341.9 219.0h1.1v1.1h-1.1zM346.3 217.9h1.1v1.1h-1.1zM342.2 197.8h1.1v1.1h-1.1zM341.4 219.1h1.1v1.1h-1.1zM345.2 212.9h1.1v1.1h-1.1zM349.3 217.3h1.1v1.1h-1.1zM342.3 202.2h1.1v1.1h-1.1zM346.1 230.1h1.1v1.1h-1.1zM348.8 228.2h1.1v1.1h-1.1zM342.0 210.7h1.1v1.1h-1.1zM348.7 214.2h1.1v1.1h-1.1zM346.5 202.6h1.1v1.1h-1.1zM344.0 213.6h1.1v1.1h-1.1zM349.9 226.8h1.1v1.1h-1.1zM342.1 210.6h1.1v1.1h-1.1zM348.5 220.1h1.1v1.1h-1.1zM343.5 226.3h1.1v1.1h-1.1zM342.0 199.6h1.1v1.1h-1.1zM349.3 202.8h1.1v1.1h-1.1zM343.8 214.1h1.1v1.1h-1.1zM346.0 208.8h1.1v1.1h-1.1zM348.6 209.4h1.1v1.1h-1.1zM349.9 207.9h1.1v1.1h-1.1zM348.8 200.5h1.1v1.1h-1.1zM348.9 224.0h1.1v1.1h-1.1zM349.9 206.1h1.1v1.1h-1.1zM346.6 198.4h1.1v1.1h-1.1zM346.0 207.6h1.1v1.1h-1.1zM341.0 216.2h1.1v1.1h-1.1zM340.6 227.8h1.1v1.1h-1.1zM346.4 199.7h1.1v1.1h-1.1zM348.1 221.7h1.1v1.1h-1.1zM344.1 207.6h1.1v1.1h-1.1zM341.1 213.2h1.1v1.1h-1.1zM345.6 210.7h1.1v1.1h-1.1zM345.6 203.0h1.1v1.1h-1.1zM350.3 216.8h1.1v1.1h-1.1zM349.4 200.8h1.1v1.1h-1.1zM345.4 206.7h1.1v1.1h-1.1zM342.7 200.7h1.1v1.1h-1.1zM341.8 214.0h1.1v1.1h-1.1zM345.6 202.7h1.1v1.1h-1.1zM349.2 225.9h1.1v1.1h-1.1zM120.6 344.7h1.1v1.1h-1.1zM124.9 324.1h1.1v1.1h-1.1zM127.7 346.6h1.1v1.1h-1.1zM123.7 337.7h1.1v1.1h-1.1zM122.4 333.5h1.1v1.1h-1.1zM120.6 346.5h1.1v1.1h-1.1zM128.9 342.3h1.1v1.1h-1.1zM124.7 342.8h1.1v1.1h-1.1zM128.9 340.5h1.1v1.1h-1.1zM130.1 345.1h1.1v1.1h-1.1zM122.4 336.2h1.1v1.1h-1.1zM126.6 343.2h1.1v1.1h-1.1zM127.6 345.9h1.1v1.1h-1.1zM123.0 332.8h1.1v1.1h-1.1zM129.5 343.6h1.1v1.1h-1.1zM122.5 325.8h1.1v1.1h-1.1zM119.6 345.9h1.1v1.1h-1.1zM123.0 334.9h1.1v1.1h-1.1zM126.5 338.9h1.1v1.1h-1.1zM121.4 331.6h1.1v1.1h-1.1zM122.5 335.7h1.1v1.1h-1.1zM123.1 341.4h1.1v1.1h-1.1zM127.3 324.9h1.1v1.1h-1.1zM128.5 339.2h1.1v1.1h-1.1zM128.1 323.7h1.1v1.1h-1.1zM121.0 341.9h1.1v1.1h-1.1zM120.3 331.1h1.1v1.1h-1.1zM126.8 326.2h1.1v1.1h-1.1zM126.8 336.6h1.1v1.1h-1.1zM119.9 333.9h1.1v1.1h-1.1zM124.8 339.1h1.1v1.1h-1.1zM122.6 332.9h1.1v1.1h-1.1zM124.4 329.9h1.1v1.1h-1.1zM120.9 330.3h1.1v1.1h-1.1zM121.5 346.0h1.1v1.1h-1.1zM122.9 340.4h1.1v1.1h-1.1zM126.2 343.8h1.1v1.1h-1.1zM130.5 344.2h1.1v1.1h-1.1zM120.2 328.9h1.1v1.1h-1.1zM126.9 326.3h1.1v1.1h-1.1zM129.7 324.4h1.1v1.1h-1.1zM128.9 343.6h1.1v1.1h-1.1zM125.5 333.3h1.1v1.1h-1.1zM122.7 323.9h1.1v1.1h-1.1zM120.8 338.6h1.1v1.1h-1.1zM126.0 335.0h1.1v1.1h-1.1zM120.7 346.9h1.1v1.1h-1.1zM126.3 321.0h1.1v1.1h-1.1zM122.4 332.8h1.1v1.1h-1.1zM122.1 329.5h1.1v1.1h-1.1zM126.6 322.0h1.1v1.1h-1.1zM122.5 344.5h1.1v1.1h-1.1zM127.0 346.2h1.1v1.1h-1.1zM120.0 341.2h1.1v1.1h-1.1zM120.4 334.2h1.1v1.1h-1.1zM122.4 346.2h1.1v1.1h-1.1zM120.4 327.2h1.1v1.1h-1.1zM126.2 320.6h1.1v1.1h-1.1zM121.4 325.1h1.1v1.1h-1.1zM119.8 341.9h1.1v1.1h-1.1zM128.6 342.1h1.1v1.1h-1.1zM127.6 325.5h1.1v1.1h-1.1zM126.8 345.2h1.1v1.1h-1.1zM119.5 345.1h1.1v1.1h-1.1zM125.3 342.6h1.1v1.1h-1.1zM122.3 338.2h1.1v1.1h-1.1zM125.7 325.0h1.1v1.1h-1.1zM129.0 341.2h1.1v1.1h-1.1zM125.1 344.4h1.1v1.1h-1.1zM126.2 344.4h1.1v1.1h-1.1zM122.8 327.4h1.1v1.1h-1.1zM129.0 336.5h1.1v1.1h-1.1zM125.2 334.1h1.1v1.1h-1.1zM122.6 329.4h1.1v1.1h-1.1zM119.8 334.4h1.1v1.1h-1.1zM129.5 341.7h1.1v1.1h-1.1zM128.9 342.9h1.1v1.1h-1.1zM123.6 347.1h1.1v1.1h-1.1zM122.3 329.8h1.1v1.1h-1.1zM126.4 343.3h1.1v1.1h-1.1zM122.3 344.7h1.1v1.1h-1.1zM127.0 346.8h1.1v1.1h-1.1zM123.6 336.0h1.1v1.1h-1.1zM129.8 343.6h1.1v1.1h-1.1zM125.9 329.6h1.1v1.1h-1.1zM121.8 336.4h1.1v1.1h-1.1zM126.8 332.6h1.1v1.1h-1.1zM123.8 346.9h1.1v1.1h-1.1zM122.7 336.8h1.1v1.1h-1.1zM123.4 329.3h1.1v1.1h-1.1zM125.0 334.8h1.1v1.1h-1.1zM125.2 324.9h1.1v1.1h-1.1zM121.4 346.7h1.1v1.1h-1.1zM128.8 323.5h1.1v1.1h-1.1zM119.8 342.6h1.1v1.1h-1.1zM120.2 334.7h1.1v1.1h-1.1zM126.3 333.3h1.1v1.1h-1.1zM122.6 327.1h1.1v1.1h-1.1zM129.0 327.2h1.1v1.1h-1.1zM120.1 345.6h1.1v1.1h-1.1zM126.2 347.5h1.1v1.1h-1.1zM127.7 333.2h1.1v1.1h-1.1zM128.3 323.7h1.1v1.1h-1.1zM121.6 327.2h1.1v1.1h-1.1zM130.3 337.9h1.1v1.1h-1.1zM129.3 342.8h1.1v1.1h-1.1zM123.2 323.5h1.1v1.1h-1.1zM121.8 342.2h1.1v1.1h-1.1zM125.1 347.6h1.1v1.1h-1.1zM125.6 347.1h1.1v1.1h-1.1zM124.6 328.3h1.1v1.1h-1.1zM123.8 343.9h1.1v1.1h-1.1zM121.9 341.3h1.1v1.1h-1.1zM119.5 347.3h1.1v1.1h-1.1zM127.0 328.2h1.1v1.1h-1.1zM124.7 346.3h1.1v1.1h-1.1zM129.1 324.9h1.1v1.1h-1.1zM129.2 346.6h1.1v1.1h-1.1zM123.4 333.1h1.1v1.1h-1.1zM123.2 333.1h1.1v1.1h-1.1zM122.8 335.3h1.1v1.1h-1.1zM123.1 327.3h1.1v1.1h-1.1zM126.8 340.1h1.1v1.1h-1.1zM120.1 329.8h1.1v1.1h-1.1zM127.0 344.2h1.1v1.1h-1.1zM125.9 325.1h1.1v1.1h-1.1zM129.8 328.3h1.1v1.1h-1.1zM127.8 327.3h1.1v1.1h-1.1zM124.2 328.9h1.1v1.1h-1.1zM128.4 322.6h1.1v1.1h-1.1zM125.6 335.2h1.1v1.1h-1.1zM127.3 324.1h1.1v1.1h-1.1zM124.6 330.0h1.1v1.1h-1.1zM124.6 333.5h1.1v1.1h-1.1zM124.7 327.3h1.1v1.1h-1.1zM122.7 340.7h1.1v1.1h-1.1zM123.3 329.9h1.1v1.1h-1.1zM121.7 324.6h1.1v1.1h-1.1zM123.5 333.4h1.1v1.1h-1.1zM119.9 346.1h1.1v1.1h-1.1zM121.2 338.1h1.1v1.1h-1.1zM120.4 335.9h1.1v1.1h-1.1zM120.5 346.8h1.1v1.1h-1.1zM127.4 328.9h1.1v1.1h-1.1zM124.1 330.0h1.1v1.1h-1.1zM129.9 333.0h1.1v1.1h-1.1zM129.4 335.3h1.1v1.1h-1.1zM119.7 333.6h1.1v1.1h-1.1zM124.7 330.6h1.1v1.1h-1.1zM126.1 335.7h1.1v1.1h-1.1zM126.0 346.0h1.1v1.1h-1.1zM120.1 341.6h1.1v1.1h-1.1zM127.5 338.0h1.1v1.1h-1.1zM121.2 337.9h1.1v1.1h-1.1zM120.2 329.1h1.1v1.1h-1.1zM129.0 344.1h1.1v1.1h-1.1zM128.2 318.7h1.1v1.1h-1.1zM122.5 339.8h1.1v1.1h-1.1zM126.6 333.8h1.1v1.1h-1.1zM128.7 330.1h1.1v1.1h-1.1zM122.6 324.2h1.1v1.1h-1.1zM122.2 323.7h1.1v1.1h-1.1zM120.5 342.4h1.1v1.1h-1.1zM122.8 333.3h1.1v1.1h-1.1zM127.1 346.4h1.1v1.1h-1.1zM122.7 330.5h1.1v1.1h-1.1zM119.8 339.8h1.1v1.1h-1.1zM126.7 321.0h1.1v1.1h-1.1zM122.0 335.9h1.1v1.1h-1.1zM128.7 336.9h1.1v1.1h-1.1zM120.0 345.0h1.1v1.1h-1.1zM125.3 330.2h1.1v1.1h-1.1zM120.8 347.2h1.1v1.1h-1.1zM123.5 337.5h1.1v1.1h-1.1zM122.4 332.0h1.1v1.1h-1.1zM122.7 325.3h1.1v1.1h-1.1zM125.7 327.7h1.1v1.1h-1.1zM128.3 325.0h1.1v1.1h-1.1zM120.5 336.2h1.1v1.1h-1.1zM123.4 326.6h1.1v1.1h-1.1zM127.9 330.2h1.1v1.1h-1.1zM121.7 334.8h1.1v1.1h-1.1zM127.3 333.5h1.1v1.1h-1.1zM129.3 337.6h1.1v1.1h-1.1zM127.7 342.3h1.1v1.1h-1.1zM121.9 337.4h1.1v1.1h-1.1zM124.5 345.8h1.1v1.1h-1.1zM125.3 345.0h1.1v1.1h-1.1zM124.9 344.9h1.1v1.1h-1.1zM239.0 325.9h1.1v1.1h-1.1zM238.2 339.4h1.1v1.1h-1.1zM242.4 323.1h1.1v1.1h-1.1zM235.7 347.6h1.1v1.1h-1.1zM232.7 336.6h1.1v1.1h-1.1zM232.4 337.5h1.1v1.1h-1.1zM234.0 342.4h1.1v1.1h-1.1zM235.5 336.0h1.1v1.1h-1.1zM235.7 333.6h1.1v1.1h-1.1zM237.1 321.3h1.1v1.1h-1.1zM240.2 338.1h1.1v1.1h-1.1zM231.0 336.8h1.1v1.1h-1.1zM237.1 322.8h1.1v1.1h-1.1zM240.3 335.8h1.1v1.1h-1.1zM235.6 345.3h1.1v1.1h-1.1zM231.0 337.2h1.1v1.1h-1.1zM236.7 327.9h1.1v1.1h-1.1zM234.5 343.1h1.1v1.1h-1.1zM241.3 319.6h1.1v1.1h-1.1zM235.5 331.0h1.1v1.1h-1.1zM238.9 345.6h1.1v1.1h-1.1zM244.3 337.4h1.1v1.1h-1.1zM233.1 333.7h1.1v1.1h-1.1zM237.2 322.9h1.1v1.1h-1.1zM236.8 323.5h1.1v1.1h-1.1zM239.9 325.4h1.1v1.1h-1.1zM244.0 343.8h1.1v1.1h-1.1zM234.8 327.4h1.1v1.1h-1.1zM239.8 338.4h1.1v1.1h-1.1zM234.4 326.9h1.1v1.1h-1.1zM231.9 330.3h1.1v1.1h-1.1zM233.5 341.6h1.1v1.1h-1.1zM239.4 347.0h1.1v1.1h-1.1zM235.3 339.3h1.1v1.1h-1.1zM243.7 335.0h1.1v1.1h-1.1zM240.2 323.5h1.1v1.1h-1.1zM237.8 347.6h1.1v1.1h-1.1zM237.1 337.7h1.1v1.1h-1.1zM236.4 339.6h1.1v1.1h-1.1zM232.4 336.1h1.1v1.1h-1.1zM241.7 343.9h1.1v1.1h-1.1zM241.7 342.8h1.1v1.1h-1.1zM232.0 340.5h1.1v1.1h-1.1zM234.0 339.0h1.1v1.1h-1.1zM235.1 325.2h1.1v1.1h-1.1zM234.7 347.2h1.1v1.1h-1.1zM243.8 340.6h1.1v1.1h-1.1zM241.9 320.1h1.1v1.1h-1.1zM238.4 339.8h1.1v1.1h-1.1zM232.6 334.7h1.1v1.1h-1.1zM240.4 344.2h1.1v1.1h-1.1zM234.0 340.0h1.1v1.1h-1.1zM239.1 322.9h1.1v1.1h-1.1zM235.2 337.8h1.1v1.1h-1.1zM239.9 344.1h1.1v1.1h-1.1zM232.6 327.4h1.1v1.1h-1.1zM242.5 328.5h1.1v1.1h-1.1zM240.5 328.7h1.1v1.1h-1.1zM235.9 347.5h1.1v1.1h-1.1zM235.5 335.3h1.1v1.1h-1.1zM236.6 334.4h1.1v1.1h-1.1zM236.0 330.8h1.1v1.1h-1.1zM239.6 340.7h1.1v1.1h-1.1zM239.9 335.0h1.1v1.1h-1.1zM238.6 345.4h1.1v1.1h-1.1zM236.4 339.5h1.1v1.1h-1.1zM239.2 331.6h1.1v1.1h-1.1zM232.5 338.0h1.1v1.1h-1.1zM237.3 337.5h1.1v1.1h-1.1zM239.4 332.7h1.1v1.1h-1.1zM243.5 327.9h1.1v1.1h-1.1zM243.5 330.6h1.1v1.1h-1.1zM243.3 327.8h1.1v1.1h-1.1zM231.4 340.2h1.1v1.1h-1.1zM230.3 341.2h1.1v1.1h-1.1zM240.9 346.9h1.1v1.1h-1.1zM234.7 328.2h1.1v1.1h-1.1zM243.9 341.6h1.1v1.1h-1.1zM240.5 324.7h1.1v1.1h-1.1zM236.0 322.7h1.1v1.1h-1.1zM238.6 336.0h1.1v1.1h-1.1zM234.4 332.4h1.1v1.1h-1.1zM240.3 332.1h1.1v1.1h-1.1zM239.3 321.0h1.1v1.1h-1.1zM242.9 345.8h1.1v1.1h-1.1zM240.5 329.4h1.1v1.1h-1.1zM233.8 343.5h1.1v1.1h-1.1zM234.4 332.8h1.1v1.1h-1.1zM230.0 347.6h1.1v1.1h-1.1zM233.8 332.6h1.1v1.1h-1.1zM231.6 343.9h1.1v1.1h-1.1zM239.4 342.4h1.1v1.1h-1.1zM236.3 328.7h1.1v1.1h-1.1zM236.7 328.5h1.1v1.1h-1.1zM237.7 342.6h1.1v1.1h-1.1zM243.5 343.6h1.1v1.1h-1.1zM235.8 329.6h1.1v1.1h-1.1zM234.7 327.3h1.1v1.1h-1.1zM241.1 327.7h1.1v1.1h-1.1zM240.0 338.4h1.1v1.1h-1.1zM242.7 335.7h1.1v1.1h-1.1zM236.5 341.4h1.1v1.1h-1.1zM238.2 321.7h1.1v1.1h-1.1zM237.6 345.1h1.1v1.1h-1.1zM243.8 342.4h1.1v1.1h-1.1zM234.4 326.4h1.1v1.1h-1.1zM235.0 335.1h1.1v1.1h-1.1zM240.9 328.4h1.1v1.1h-1.1zM235.8 325.4h1.1v1.1h-1.1zM232.6 330.5h1.1v1.1h-1.1zM240.1 343.8h1.1v1.1h-1.1zM242.9 336.9h1.1v1.1h-1.1zM232.3 336.9h1.1v1.1h-1.1zM237.6 330.3h1.1v1.1h-1.1zM237.4 343.5h1.1v1.1h-1.1zM235.5 344.7h1.1v1.1h-1.1zM242.1 333.1h1.1v1.1h-1.1zM231.2 335.7h1.1v1.1h-1.1zM238.6 322.3h1.1v1.1h-1.1zM234.2 334.4h1.1v1.1h-1.1zM236.1 332.8h1.1v1.1h-1.1zM236.2 324.2h1.1v1.1h-1.1zM239.6 320.0h1.1v1.1h-1.1zM232.0 338.2h1.1v1.1h-1.1zM239.1 327.2h1.1v1.1h-1.1zM235.0 331.4h1.1v1.1h-1.1zM234.7 341.7h1.1v1.1h-1.1zM238.7 345.5h1.1v1.1h-1.1zM242.2 322.0h1.1v1.1h-1.1zM235.9 335.6h1.1v1.1h-1.1zM239.2 340.8h1.1v1.1h-1.1zM239.5 322.2h1.1v1.1h-1.1zM236.0 336.6h1.1v1.1h-1.1zM239.7 323.8h1.1v1.1h-1.1zM235.6 336.6h1.1v1.1h-1.1zM230.6 330.3h1.1v1.1h-1.1zM233.8 345.8h1.1v1.1h-1.1zM236.2 333.8h1.1v1.1h-1.1zM239.2 338.3h1.1v1.1h-1.1zM242.3 330.1h1.1v1.1h-1.1zM231.4 334.3h1.1v1.1h-1.1zM241.0 324.8h1.1v1.1h-1.1zM242.1 324.0h1.1v1.1h-1.1zM238.5 343.9h1.1v1.1h-1.1zM233.4 334.9h1.1v1.1h-1.1zM238.9 341.6h1.1v1.1h-1.1zM237.8 340.5h1.1v1.1h-1.1zM239.5 331.6h1.1v1.1h-1.1zM242.8 325.3h1.1v1.1h-1.1zM234.2 330.2h1.1v1.1h-1.1zM232.5 347.5h1.1v1.1h-1.1zM239.1 345.6h1.1v1.1h-1.1zM232.0 325.3h1.1v1.1h-1.1zM231.9 332.1h1.1v1.1h-1.1zM239.0 325.1h1.1v1.1h-1.1zM238.5 340.7h1.1v1.1h-1.1zM234.7 342.7h1.1v1.1h-1.1zM237.6 333.1h1.1v1.1h-1.1zM239.2 324.8h1.1v1.1h-1.1zM236.3 344.1h1.1v1.1h-1.1zM234.8 347.7h1.1v1.1h-1.1zM233.6 345.2h1.1v1.1h-1.1zM235.9 346.9h1.1v1.1h-1.1zM232.2 333.2h1.1v1.1h-1.1zM238.4 323.2h1.1v1.1h-1.1zM242.2 337.6h1.1v1.1h-1.1zM237.8 345.3h1.1v1.1h-1.1zM240.7 319.4h1.1v1.1h-1.1zM234.3 344.8h1.1v1.1h-1.1zM232.0 332.7h1.1v1.1h-1.1zM235.7 339.2h1.1v1.1h-1.1zM230.9 332.0h1.1v1.1h-1.1zM239.8 336.0h1.1v1.1h-1.1zM236.2 336.6h1.1v1.1h-1.1zM239.6 336.1h1.1v1.1h-1.1zM233.1 342.7h1.1v1.1h-1.1zM241.8 335.6h1.1v1.1h-1.1zM241.0 336.4h1.1v1.1h-1.1zM234.6 329.8h1.1v1.1h-1.1zM235.3 321.8h1.1v1.1h-1.1zM242.1 343.9h1.1v1.1h-1.1zM239.0 346.3h1.1v1.1h-1.1zM243.3 345.9h1.1v1.1h-1.1zM237.9 332.9h1.1v1.1h-1.1zM240.0 330.7h1.1v1.1h-1.1zM242.8 345.9h1.1v1.1h-1.1zM240.0 322.0h1.1v1.1h-1.1zM242.2 332.0h1.1v1.1h-1.1zM238.5 333.4h1.1v1.1h-1.1zM234.3 336.4h1.1v1.1h-1.1zM240.9 334.3h1.1v1.1h-1.1zM239.6 345.3h1.1v1.1h-1.1zM236.0 325.1h1.1v1.1h-1.1zM233.2 325.3h1.1v1.1h-1.1zM234.6 335.3h1.1v1.1h-1.1zM239.9 346.6h1.1v1.1h-1.1zM232.8 322.5h1.1v1.1h-1.1zM235.8 321.9h1.1v1.1h-1.1zM236.6 337.3h1.1v1.1h-1.1zM233.3 334.8h1.1v1.1h-1.1zM233.6 324.0h1.1v1.1h-1.1zM243.5 335.9h1.1v1.1h-1.1zM236.7 345.8h1.1v1.1h-1.1zM237.2 344.3h1.1v1.1h-1.1zM238.8 320.0h1.1v1.1h-1.1zM237.2 343.2h1.1v1.1h-1.1zM235.2 346.8h1.1v1.1h-1.1zM236.4 332.3h1.1v1.1h-1.1zM231.9 332.9h1.1v1.1h-1.1zM236.2 335.4h1.1v1.1h-1.1zM241.5 326.0h1.1v1.1h-1.1zM236.0 340.3h1.1v1.1h-1.1zM235.3 343.5h1.1v1.1h-1.1zM237.8 326.2h1.1v1.1h-1.1zM236.8 332.0h1.1v1.1h-1.1zM241.2 331.1h1.1v1.1h-1.1zM242.9 329.0h1.1v1.1h-1.1zM235.6 320.3h1.1v1.1h-1.1zM234.5 346.8h1.1v1.1h-1.1zM234.4 347.5h1.1v1.1h-1.1zM241.7 331.8h1.1v1.1h-1.1zM243.6 332.6h1.1v1.1h-1.1zM230.5 337.4h1.1v1.1h-1.1zM241.0 320.6h1.1v1.1h-1.1zM240.1 328.7h1.1v1.1h-1.1zM242.2 328.7h1.1v1.1h-1.1zM234.4 347.2h1.1v1.1h-1.1zM242.9 328.5h1.1v1.1h-1.1zM240.6 343.6h1.1v1.1h-1.1zM233.2 324.0h1.1v1.1h-1.1zM239.4 319.5h1.1v1.1h-1.1zM241.9 322.8h1.1v1.1h-1.1zM237.6 326.9h1.1v1.1h-1.1zM233.2 344.1h1.1v1.1h-1.1zM240.5 347.5h1.1v1.1h-1.1zM238.8 330.0h1.1v1.1h-1.1zM237.0 341.9h1.1v1.1h-1.1zM240.8 329.1h1.1v1.1h-1.1zM233.3 329.4h1.1v1.1h-1.1zM238.6 344.1h1.1v1.1h-1.1zM237.5 327.1h1.1v1.1h-1.1zM237.2 327.8h1.1v1.1h-1.1zM238.2 334.3h1.1v1.1h-1.1zM239.4 337.2h1.1v1.1h-1.1zM233.9 346.3h1.1v1.1h-1.1zM232.1 343.5h1.1v1.1h-1.1zM236.3 319.6h1.1v1.1h-1.1zM235.7 334.9h1.1v1.1h-1.1zM240.3 330.0h1.1v1.1h-1.1zM235.8 346.2h1.1v1.1h-1.1zM232.6 332.2h1.1v1.1h-1.1zM242.9 334.5h1.1v1.1h-1.1zM240.2 345.8h1.1v1.1h-1.1zM235.6 342.6h1.1v1.1h-1.1zM242.1 334.7h1.1v1.1h-1.1zM238.6 329.8h1.1v1.1h-1.1zM240.9 340.2h1.1v1.1h-1.1zM242.5 345.9h1.1v1.1h-1.1zM240.5 327.5h1.1v1.1h-1.1zM233.9 335.1h1.1v1.1h-1.1zM241.5 322.3h1.1v1.1h-1.1zM237.8 320.1h1.1v1.1h-1.1zM234.9 342.6h1.1v1.1h-1.1zM243.6 327.5h1.1v1.1h-1.1zM241.5 322.1h1.1v1.1h-1.1zM230.3 343.2h1.1v1.1h-1.1zM229.9 343.7h1.1v1.1h-1.1zM238.1 330.0h1.1v1.1h-1.1zM242.7 339.5h1.1v1.1h-1.1zM238.1 341.3h1.1v1.1h-1.1zM233.2 339.3h1.1v1.1h-1.1zM239.9 330.5h1.1v1.1h-1.1zM239.8 324.0h1.1v1.1h-1.1zM241.7 339.9h1.1v1.1h-1.1zM241.6 321.7h1.1v1.1h-1.1zM233.0 330.3h1.1v1.1h-1.1zM242.0 339.2h1.1v1.1h-1.1zM239.1 334.2h1.1v1.1h-1.1zM242.6 327.1h1.1v1.1h-1.1zM234.4 342.9h1.1v1.1h-1.1zM239.5 332.9h1.1v1.1h-1.1zM233.4 327.0h1.1v1.1h-1.1zM236.3 330.1h1.1v1.1h-1.1zM236.3 343.4h1.1v1.1h-1.1zM240.8 321.3h1.1v1.1h-1.1zM235.0 323.8h1.1v1.1h-1.1zM236.3 330.5h1.1v1.1h-1.1zM237.2 322.0h1.1v1.1h-1.1zM239.4 327.9h1.1v1.1h-1.1zM237.3 345.8h1.1v1.1h-1.1zM235.3 338.7h1.1v1.1h-1.1zM231.0 339.1h1.1v1.1h-1.1zM234.8 327.0h1.1v1.1h-1.1zM241.6 319.7h1.1v1.1h-1.1zM235.6 345.2h1.1v1.1h-1.1zM237.8 333.3h1.1v1.1h-1.1zM242.0 321.1h1.1v1.1h-1.1zM349.7 323.7h1.1v1.1h-1.1zM353.5 323.1h1.1v1.1h-1.1zM353.3 328.5h1.1v1.1h-1.1zM352.7 324.7h1.1v1.1h-1.1zM354.1 330.4h1.1v1.1h-1.1zM346.5 321.4h1.1v1.1h-1.1zM344.7 329.5h1.1v1.1h-1.1zM343.5 337.3h1.1v1.1h-1.1zM347.3 346.2h1.1v1.1h-1.1zM346.2 340.3h1.1v1.1h-1.1zM343.2 336.4h1.1v1.1h-1.1zM343.8 327.3h1.1v1.1h-1.1zM345.5 329.0h1.1v1.1h-1.1zM354.4 332.9h1.1v1.1h-1.1zM351.4 327.6h1.1v1.1h-1.1zM343.4 321.9h1.1v1.1h-1.1zM343.4 339.0h1.1v1.1h-1.1zM352.6 332.4h1.1v1.1h-1.1zM352.3 337.5h1.1v1.1h-1.1zM349.9 334.2h1.1v1.1h-1.1zM351.0 345.2h1.1v1.1h-1.1zM345.4 333.9h1.1v1.1h-1.1zM347.4 320.3h1.1v1.1h-1.1zM350.4 334.9h1.1v1.1h-1.1zM347.5 329.7h1.1v1.1h-1.1zM349.8 323.2h1.1v1.1h-1.1zM349.6 345.4h1.1v1.1h-1.1zM348.6 342.0h1.1v1.1h-1.1zM354.2 342.4h1.1v1.1h-1.1zM348.7 338.3h1.1v1.1h-1.1zM350.7 339.0h1.1v1.1h-1.1zM344.5 330.1h1.1v1.1h-1.1zM346.8 337.9h1.1v1.1h-1.1zM342.8 328.0h1.1v1.1h-1.1zM346.9 319.4h1.1v1.1h-1.1zM348.5 338.5h1.1v1.1h-1.1zM352.4 334.9h1.1v1.1h-1.1zM347.3 321.8h1.1v1.1h-1.1zM344.2 321.5h1.1v1.1h-1.1zM348.5 342.3h1.1v1.1h-1.1zM347.2 340.2h1.1v1.1h-1.1zM343.6 326.9h1.1v1.1h-1.1zM346.1 342.4h1.1v1.1h-1.1zM351.6 327.6h1.1v1.1h-1.1zM344.7 330.6h1.1v1.1h-1.1zM344.1 338.8h1.1v1.1h-1.1zM343.6 345.1h1.1v1.1h-1.1zM343.5 343.3h1.1v1.1h-1.1zM344.6 337.4h1.1v1.1h-1.1zM353.5 327.7h1.1v1.1h-1.1zM353.0 333.1h1.1v1.1h-1.1zM351.1 321.9h1.1v1.1h-1.1zM351.7 345.8h1.1v1.1h-1.1zM351.2 319.9h1.1v1.1h-1.1zM344.8 340.3h1.1v1.1h-1.1zM350.9 325.1h1.1v1.1h-1.1zM352.1 341.4h1.1v1.1h-1.1zM353.9 333.0h1.1v1.1h-1.1zM354.2 342.4h1.1v1.1h-1.1zM346.5 344.6h1.1v1.1h-1.1zM343.5 337.3h1.1v1.1h-1.1zM347.4 322.2h1.1v1.1h-1.1zM343.3 344.0h1.1v1.1h-1.1zM347.9 336.8h1.1v1.1h-1.1zM346.4 344.9h1.1v1.1h-1.1zM352.0 345.3h1.1v1.1h-1.1zM349.9 329.9h1.1v1.1h-1.1zM343.9 323.8h1.1v1.1h-1.1zM349.8 345.4h1.1v1.1h-1.1zM345.8 330.5h1.1v1.1h-1.1zM346.1 345.0h1.1v1.1h-1.1zM352.4 336.9h1.1v1.1h-1.1zM346.8 323.0h1.1v1.1h-1.1zM354.2 342.1h1.1v1.1h-1.1zM344.9 340.1h1.1v1.1h-1.1zM345.2 337.3h1.1v1.1h-1.1zM348.5 342.0h1.1v1.1h-1.1zM349.4 324.5h1.1v1.1h-1.1zM349.8 321.8h1.1v1.1h-1.1zM344.8 327.0h1.1v1.1h-1.1zM350.7 324.8h1.1v1.1h-1.1zM343.7 340.7h1.1v1.1h-1.1zM342.9 329.3h1.1v1.1h-1.1zM348.5 332.3h1.1v1.1h-1.1zM351.6 329.0h1.1v1.1h-1.1zM350.7 335.7h1.1v1.1h-1.1zM347.0 326.5h1.1v1.1h-1.1zM349.8 321.4h1.1v1.1h-1.1zM347.7 342.5h1.1v1.1h-1.1zM354.3 336.6h1.1v1.1h-1.1zM345.1 344.6h1.1v1.1h-1.1zM349.9 336.5h1.1v1.1h-1.1zM352.2 340.3h1.1v1.1h-1.1zM343.8 346.7h1.1v1.1h-1.1zM352.3 329.1h1.1v1.1h-1.1zM351.4 332.6h1.1v1.1h-1.1zM353.7 326.8h1.1v1.1h-1.1zM346.8 330.1h1.1v1.1h-1.1zM344.5 341.8h1.1v1.1h-1.1zM346.2 335.5h1.1v1.1h-1.1zM351.7 320.1h1.1v1.1h-1.1zM346.2 334.1h1.1v1.1h-1.1zM348.3 339.0h1.1v1.1h-1.1zM351.0 345.8h1.1v1.1h-1.1zM350.5 328.1h1.1v1.1h-1.1zM345.3 342.4h1.1v1.1h-1.1zM354.3 342.6h1.1v1.1h-1.1zM351.7 333.8h1.1v1.1h-1.1zM344.1 342.0h1.1v1.1h-1.1zM350.4 339.7h1.1v1.1h-1.1zM348.9 324.5h1.1v1.1h-1.1zM351.8 345.1h1.1v1.1h-1.1zM346.4 324.5h1.1v1.1h-1.1zM347.7 323.7h1.1v1.1h-1.1zM349.2 341.9h1.1v1.1h-1.1zM348.4 327.0h1.1v1.1h-1.1zM343.7 329.3h1.1v1.1h-1.1zM353.5 331.2h1.1v1.1h-1.1zM352.3 321.7h1.1v1.1h-1.1zM345.1 333.9h1.1v1.1h-1.1zM351.2 331.3h1.1v1.1h-1.1zM345.6 344.0h1.1v1.1h-1.1zM352.5 323.5h1.1v1.1h-1.1zM347.9 328.0h1.1v1.1h-1.1zM344.4 327.4h1.1v1.1h-1.1zM350.7 346.1h1.1v1.1h-1.1zM345.8 331.9h1.1v1.1h-1.1zM346.4 328.3h1.1v1.1h-1.1zM346.8 321.1h1.1v1.1h-1.1zM347.6 336.2h1.1v1.1h-1.1zM350.8 330.5h1.1v1.1h-1.1zM349.4 326.4h1.1v1.1h-1.1zM351.7 328.5h1.1v1.1h-1.1zM346.7 324.5h1.1v1.1h-1.1zM343.0 330.2h1.1v1.1h-1.1zM343.4 340.9h1.1v1.1h-1.1zM346.7 337.7h1.1v1.1h-1.1zM349.8 341.1h1.1v1.1h-1.1zM350.5 326.0h1.1v1.1h-1.1zM353.4 333.4h1.1v1.1h-1.1zM349.9 333.2h1.1v1.1h-1.1zM344.5 336.7h1.1v1.1h-1.1zM347.9 336.6h1.1v1.1h-1.1zM351.1 320.9h1.1v1.1h-1.1zM343.4 344.7h1.1v1.1h-1.1zM348.0 330.4h1.1v1.1h-1.1zM346.0 337.3h1.1v1.1h-1.1zM345.6 323.1h1.1v1.1h-1.1zM347.7 324.6h1.1v1.1h-1.1zM353.1 323.3h1.1v1.1h-1.1zM346.7 322.9h1.1v1.1h-1.1zM352.1 322.7h1.1v1.1h-1.1zM349.3 320.0h1.1v1.1h-1.1zM343.1 341.4h1.1v1.1h-1.1zM347.3 336.3h1.1v1.1h-1.1zM347.0 339.3h1.1v1.1h-1.1zM343.0 336.6h1.1v1.1h-1.1zM348.2 336.1h1.1v1.1h-1.1zM343.7 332.3h1.1v1.1h-1.1zM343.4 324.3h1.1v1.1h-1.1zM350.9 340.1h1.1v1.1h-1.1zM342.9 336.5h1.1v1.1h-1.1zM353.8 329.9h1.1v1.1h-1.1zM349.5 320.9h1.1v1.1h-1.1zM348.4 334.4h1.1v1.1h-1.1zM353.1 343.5h1.1v1.1h-1.1zM343.9 330.9h1.1v1.1h-1.1zM351.4 339.4h1.1v1.1h-1.1zM352.5 339.1h1.1v1.1h-1.1zM350.5 346.7h1.1v1.1h-1.1zM352.5 333.2h1.1v1.1h-1.1zM347.4 323.0h1.1v1.1h-1.1zM343.2 325.4h1.1v1.1h-1.1zM347.3 335.8h1.1v1.1h-1.1zM345.2 335.1h1.1v1.1h-1.1zM344.5 336.0h1.1v1.1h-1.1zM353.5 330.5h1.1v1.1h-1.1zM351.5 331.5h1.1v1.1h-1.1zM344.2 327.6h1.1v1.1h-1.1zM346.9 330.5h1.1v1.1h-1.1zM347.4 346.2h1.1v1.1h-1.1zM343.4 324.5h1.1v1.1h-1.1zM352.1 325.7h1.1v1.1h-1.1zM344.3 325.6h1.1v1.1h-1.1zM344.7 329.7h1.1v1.1h-1.1zM343.1 327.4h1.1v1.1h-1.1zM343.5 331.7h1.1v1.1h-1.1zM345.0 331.1h1.1v1.1h-1.1zM346.5 342.7h1.1v1.1h-1.1zM345.0 343.5h1.1v1.1h-1.1zM349.1 328.9h1.1v1.1h-1.1zM348.6 325.6h1.1v1.1h-1.1zM348.1 342.0h1.1v1.1h-1.1zM351.6 331.7h1.1v1.1h-1.1zM347.9 333.3h1.1v1.1h-1.1zM350.7 340.0h1.1v1.1h-1.1zM353.0 341.4h1.1v1.1h-1.1zM348.4 320.6h1.1v1.1h-1.1zM351.1 342.2h1.1v1.1h-1.1zM344.5 329.9h1.1v1.1h-1.1zM343.9 332.9h1.1v1.1h-1.1zM353.8 329.5h1.1v1.1h-1.1zM351.5 332.9h1.1v1.1h-1.1zM350.9 336.1h1.1v1.1h-1.1zM351.0 340.1h1.1v1.1h-1.1zM344.7 330.8h1.1v1.1h-1.1zM351.0 333.4h1.1v1.1h-1.1zM344.6 342.4h1.1v1.1h-1.1zM349.6 332.3h1.1v1.1h-1.1zM344.2 337.2h1.1v1.1h-1.1zM342.9 340.3h1.1v1.1h-1.1zM345.0 330.0h1.1v1.1h-1.1zM348.5 320.7h1.1v1.1h-1.1zM344.2 337.4h1.1v1.1h-1.1zM351.8 334.0h1.1v1.1h-1.1zM344.1 344.6h1.1v1.1h-1.1zM354.4 323.0h1.1v1.1h-1.1zM350.1 344.4h1.1v1.1h-1.1zM344.6 342.0h1.1v1.1h-1.1zM349.6 320.8h1.1v1.1h-1.1zM344.9 325.5h1.1v1.1h-1.1zM347.2 324.9h1.1v1.1h-1.1zM351.4 322.4h1.1v1.1h-1.1zM347.2 345.6h1.1v1.1h-1.1zM345.2 332.1h1.1v1.1h-1.1zM349.6 322.4h1.1v1.1h-1.1zM344.2 337.2h1.1v1.1h-1.1zM347.3 339.7h1.1v1.1h-1.1zM348.5 322.1h1.1v1.1h-1.1zM353.1 346.2h1.1v1.1h-1.1zM350.8 345.0h1.1v1.1h-1.1zM349.3 334.8h1.1v1.1h-1.1zM346.5 340.7h1.1v1.1h-1.1zM344.4 342.3h1.1v1.1h-1.1zM346.3 326.1h1.1v1.1h-1.1zM346.7 323.6h1.1v1.1h-1.1zM344.4 325.2h1.1v1.1h-1.1zM118.5 440.0h1.1v1.1h-1.1zM118.0 434.6h1.1v1.1h-1.1zM127.1 449.8h1.1v1.1h-1.1zM127.3 463.1h1.1v1.1h-1.1zM124.4 457.7h1.1v1.1h-1.1zM127.9 439.6h1.1v1.1h-1.1zM118.8 440.9h1.1v1.1h-1.1zM126.8 461.2h1.1v1.1h-1.1zM118.4 458.0h1.1v1.1h-1.1zM125.1 445.2h1.1v1.1h-1.1zM119.7 454.2h1.1v1.1h-1.1zM119.3 445.5h1.1v1.1h-1.1zM117.8 444.5h1.1v1.1h-1.1zM125.4 441.5h1.1v1.1h-1.1zM121.9 448.8h1.1v1.1h-1.1zM116.9 445.4h1.1v1.1h-1.1zM123.5 449.8h1.1v1.1h-1.1zM125.6 462.1h1.1v1.1h-1.1zM119.7 440.9h1.1v1.1h-1.1zM126.1 430.2h1.1v1.1h-1.1zM117.8 453.6h1.1v1.1h-1.1zM126.5 464.9h1.1v1.1h-1.1zM119.2 438.2h1.1v1.1h-1.1zM122.2 459.4h1.1v1.1h-1.1zM120.6 456.5h1.1v1.1h-1.1zM126.6 456.6h1.1v1.1h-1.1zM123.0 458.6h1.1v1.1h-1.1zM126.2 460.1h1.1v1.1h-1.1zM120.6 443.7h1.1v1.1h-1.1zM126.9 464.0h1.1v1.1h-1.1zM119.3 451.7h1.1v1.1h-1.1zM121.3 440.5h1.1v1.1h-1.1zM118.9 438.6h1.1v1.1h-1.1zM121.0 455.3h1.1v1.1h-1.1zM117.1 443.4h1.1v1.1h-1.1zM119.7 438.3h1.1v1.1h-1.1zM124.3 439.4h1.1v1.1h-1.1zM118.1 455.4h1.1v1.1h-1.1zM126.2 461.5h1.1v1.1h-1.1zM119.2 446.6h1.1v1.1h-1.1zM127.2 439.8h1.1v1.1h-1.1zM123.2 428.9h1.1v1.1h-1.1zM120.5 461.5h1.1v1.1h-1.1zM121.0 440.6h1.1v1.1h-1.1zM124.1 455.2h1.1v1.1h-1.1zM124.7 461.0h1.1v1.1h-1.1zM125.2 454.3h1.1v1.1h-1.1zM123.6 453.1h1.1v1.1h-1.1zM126.9 450.3h1.1v1.1h-1.1zM123.0 449.9h1.1v1.1h-1.1zM121.5 454.4h1.1v1.1h-1.1zM120.7 446.5h1.1v1.1h-1.1zM120.5 444.8h1.1v1.1h-1.1zM129.1 440.6h1.1v1.1h-1.1zM124.9 462.6h1.1v1.1h-1.1zM119.2 454.6h1.1v1.1h-1.1zM128.0 452.9h1.1v1.1h-1.1zM126.6 442.1h1.1v1.1h-1.1zM127.1 451.2h1.1v1.1h-1.1zM122.8 427.9h1.1v1.1h-1.1zM125.1 448.1h1.1v1.1h-1.1zM126.7 459.8h1.1v1.1h-1.1zM122.7 454.2h1.1v1.1h-1.1zM125.1 450.9h1.1v1.1h-1.1zM117.5 453.4h1.1v1.1h-1.1zM119.5 462.8h1.1v1.1h-1.1zM122.9 446.6h1.1v1.1h-1.1zM124.1 464.1h1.1v1.1h-1.1zM117.1 449.1h1.1v1.1h-1.1zM123.0 436.1h1.1v1.1h-1.1zM126.4 452.2h1.1v1.1h-1.1zM118.7 447.8h1.1v1.1h-1.1zM125.6 431.1h1.1v1.1h-1.1zM123.8 447.9h1.1v1.1h-1.1zM121.2 440.0h1.1v1.1h-1.1zM121.8 438.7h1.1v1.1h-1.1zM123.8 462.0h1.1v1.1h-1.1zM118.6 431.5h1.1v1.1h-1.1zM126.5 464.2h1.1v1.1h-1.1zM116.5 442.2h1.1v1.1h-1.1zM122.3 432.9h1.1v1.1h-1.1zM122.4 440.8h1.1v1.1h-1.1zM121.9 439.4h1.1v1.1h-1.1zM119.2 453.3h1.1v1.1h-1.1zM120.4 442.0h1.1v1.1h-1.1zM119.5 444.9h1.1v1.1h-1.1zM119.5 451.7h1.1v1.1h-1.1zM121.0 456.0h1.1v1.1h-1.1zM119.6 454.8h1.1v1.1h-1.1zM119.4 448.4h1.1v1.1h-1.1zM124.4 435.1h1.1v1.1h-1.1zM121.8 439.3h1.1v1.1h-1.1zM119.1 457.0h1.1v1.1h-1.1zM120.7 461.3h1.1v1.1h-1.1zM124.7 460.2h1.1v1.1h-1.1zM120.4 446.6h1.1v1.1h-1.1zM126.4 434.8h1.1v1.1h-1.1zM122.6 459.0h1.1v1.1h-1.1zM121.2 434.2h1.1v1.1h-1.1zM119.2 450.4h1.1v1.1h-1.1zM117.7 458.2h1.1v1.1h-1.1zM123.3 444.2h1.1v1.1h-1.1zM123.3 440.3h1.1v1.1h-1.1zM118.9 458.3h1.1v1.1h-1.1zM118.8 434.7h1.1v1.1h-1.1zM116.7 443.9h1.1v1.1h-1.1zM128.1 439.4h1.1v1.1h-1.1zM127.7 454.1h1.1v1.1h-1.1zM121.4 445.6h1.1v1.1h-1.1zM118.1 442.8h1.1v1.1h-1.1zM126.0 452.9h1.1v1.1h-1.1zM127.2 461.5h1.1v1.1h-1.1zM122.4 463.7h1.1v1.1h-1.1zM124.8 462.4h1.1v1.1h-1.1zM118.4 448.6h1.1v1.1h-1.1zM120.4 436.6h1.1v1.1h-1.1zM123.3 452.5h1.1v1.1h-1.1zM126.6 460.3h1.1v1.1h-1.1zM119.7 435.4h1.1v1.1h-1.1zM122.9 460.1h1.1v1.1h-1.1zM124.1 460.3h1.1v1.1h-1.1zM117.7 455.2h1.1v1.1h-1.1zM118.7 437.1h1.1v1.1h-1.1zM126.2 440.2h1.1v1.1h-1.1zM126.8 445.2h1.1v1.1h-1.1zM124.8 458.4h1.1v1.1h-1.1zM126.6 453.7h1.1v1.1h-1.1zM125.3 462.3h1.1v1.1h-1.1zM119.8 439.1h1.1v1.1h-1.1zM119.7 454.6h1.1v1.1h-1.1zM125.3 434.9h1.1v1.1h-1.1zM121.2 447.3h1.1v1.1h-1.1zM119.3 459.7h1.1v1.1h-1.1zM122.3 453.8h1.1v1.1h-1.1zM122.9 448.5h1.1v1.1h-1.1zM123.9 441.3h1.1v1.1h-1.1zM120.8 463.4h1.1v1.1h-1.1zM125.7 463.2h1.1v1.1h-1.1zM126.9 438.8h1.1v1.1h-1.1zM127.5 450.6h1.1v1.1h-1.1zM122.2 445.7h1.1v1.1h-1.1zM118.5 451.4h1.1v1.1h-1.1zM121.5 456.3h1.1v1.1h-1.1zM119.3 435.3h1.1v1.1h-1.1zM128.3 440.0h1.1v1.1h-1.1zM126.0 431.8h1.1v1.1h-1.1zM126.8 458.3h1.1v1.1h-1.1zM127.3 446.5h1.1v1.1h-1.1zM121.0 464.4h1.1v1.1h-1.1zM122.8 442.2h1.1v1.1h-1.1zM128.1 442.4h1.1v1.1h-1.1zM123.8 437.9h1.1v1.1h-1.1zM118.5 459.2h1.1v1.1h-1.1zM126.8 431.7h1.1v1.1h-1.1zM120.2 439.1h1.1v1.1h-1.1zM121.1 435.1h1.1v1.1h-1.1zM124.1 443.9h1.1v1.1h-1.1zM116.9 435.1h1.1v1.1h-1.1zM125.0 441.7h1.1v1.1h-1.1zM119.2 431.1h1.1v1.1h-1.1zM118.6 458.4h1.1v1.1h-1.1zM123.6 433.3h1.1v1.1h-1.1zM120.3 455.5h1.1v1.1h-1.1zM127.5 454.7h1.1v1.1h-1.1zM118.7 461.1h1.1v1.1h-1.1zM122.7 442.3h1.1v1.1h-1.1zM121.2 447.0h1.1v1.1h-1.1zM123.1 440.0h1.1v1.1h-1.1zM120.4 432.4h1.1v1.1h-1.1zM123.8 436.3h1.1v1.1h-1.1zM122.5 433.4h1.1v1.1h-1.1zM122.1 436.0h1.1v1.1h-1.1zM121.0 465.1h1.1v1.1h-1.1zM123.7 463.6h1.1v1.1h-1.1zM126.0 432.4h1.1v1.1h-1.1zM120.4 439.1h1.1v1.1h-1.1zM117.2 453.6h1.1v1.1h-1.1zM123.5 430.7h1.1v1.1h-1.1zM122.4 439.6h1.1v1.1h-1.1zM124.7 445.0h1.1v1.1h-1.1zM119.3 463.8h1.1v1.1h-1.1zM123.0 428.2h1.1v1.1h-1.1zM123.0 452.0h1.1v1.1h-1.1zM120.8 464.3h1.1v1.1h-1.1zM122.9 454.5h1.1v1.1h-1.1zM126.6 445.8h1.1v1.1h-1.1zM124.9 432.7h1.1v1.1h-1.1zM123.2 447.8h1.1v1.1h-1.1zM117.8 452.2h1.1v1.1h-1.1zM127.7 443.3h1.1v1.1h-1.1zM119.6 454.1h1.1v1.1h-1.1zM126.1 447.6h1.1v1.1h-1.1zM125.5 462.6h1.1v1.1h-1.1zM120.1 459.4h1.1v1.1h-1.1zM120.5 457.3h1.1v1.1h-1.1zM126.6 450.8h1.1v1.1h-1.1zM122.8 438.1h1.1v1.1h-1.1zM121.8 453.8h1.1v1.1h-1.1zM121.6 446.6h1.1v1.1h-1.1zM121.0 441.3h1.1v1.1h-1.1zM120.7 455.0h1.1v1.1h-1.1zM119.2 454.6h1.1v1.1h-1.1zM120.9 439.1h1.1v1.1h-1.1zM125.4 457.6h1.1v1.1h-1.1zM122.7 445.1h1.1v1.1h-1.1zM125.4 438.2h1.1v1.1h-1.1zM123.9 445.4h1.1v1.1h-1.1zM124.0 444.3h1.1v1.1h-1.1zM128.1 450.0h1.1v1.1h-1.1zM119.5 449.1h1.1v1.1h-1.1zM123.6 462.8h1.1v1.1h-1.1zM120.5 453.2h1.1v1.1h-1.1zM123.5 440.7h1.1v1.1h-1.1zM120.6 451.0h1.1v1.1h-1.1zM126.5 432.9h1.1v1.1h-1.1zM119.8 436.9h1.1v1.1h-1.1zM122.0 441.6h1.1v1.1h-1.1zM123.6 455.0h1.1v1.1h-1.1zM127.1 451.4h1.1v1.1h-1.1zM119.6 455.1h1.1v1.1h-1.1zM123.4 433.1h1.1v1.1h-1.1zM120.1 433.0h1.1v1.1h-1.1zM123.6 433.0h1.1v1.1h-1.1zM127.9 461.3h1.1v1.1h-1.1zM125.5 450.0h1.1v1.1h-1.1zM118.4 437.6h1.1v1.1h-1.1zM123.1 462.7h1.1v1.1h-1.1zM125.2 446.0h1.1v1.1h-1.1zM126.7 447.7h1.1v1.1h-1.1zM123.8 427.2h1.1v1.1h-1.1zM120.4 462.8h1.1v1.1h-1.1zM124.4 461.6h1.1v1.1h-1.1zM123.7 431.7h1.1v1.1h-1.1zM121.0 436.6h1.1v1.1h-1.1zM119.2 463.5h1.1v1.1h-1.1zM123.1 461.0h1.1v1.1h-1.1zM119.7 446.0h1.1v1.1h-1.1zM128.0 442.3h1.1v1.1h-1.1zM117.0 442.5h1.1v1.1h-1.1zM126.4 450.6h1.1v1.1h-1.1zM119.9 435.3h1.1v1.1h-1.1zM128.0 445.3h1.1v1.1h-1.1zM122.1 454.2h1.1v1.1h-1.1zM122.3 445.8h1.1v1.1h-1.1zM122.3 457.7h1.1v1.1h-1.1zM120.1 435.5h1.1v1.1h-1.1zM117.9 449.2h1.1v1.1h-1.1zM126.0 448.2h1.1v1.1h-1.1zM126.8 441.7h1.1v1.1h-1.1zM121.2 436.2h1.1v1.1h-1.1zM123.7 441.7h1.1v1.1h-1.1zM123.9 457.4h1.1v1.1h-1.1zM125.1 431.2h1.1v1.1h-1.1zM125.9 440.6h1.1v1.1h-1.1zM118.3 445.1h1.1v1.1h-1.1zM119.8 449.7h1.1v1.1h-1.1zM118.8 461.6h1.1v1.1h-1.1zM120.6 431.7h1.1v1.1h-1.1zM122.6 457.7h1.1v1.1h-1.1zM120.6 456.6h1.1v1.1h-1.1zM119.0 456.6h1.1v1.1h-1.1zM125.7 456.5h1.1v1.1h-1.1zM120.7 457.3h1.1v1.1h-1.1zM119.6 455.4h1.1v1.1h-1.1zM127.1 464.8h1.1v1.1h-1.1zM123.2 431.7h1.1v1.1h-1.1zM126.5 437.6h1.1v1.1h-1.1zM126.1 455.2h1.1v1.1h-1.1zM121.9 456.5h1.1v1.1h-1.1zM119.1 436.0h1.1v1.1h-1.1zM122.6 450.4h1.1v1.1h-1.1zM124.9 456.6h1.1v1.1h-1.1zM120.5 456.5h1.1v1.1h-1.1zM122.3 444.9h1.1v1.1h-1.1zM125.6 434.3h1.1v1.1h-1.1zM120.5 462.0h1.1v1.1h-1.1zM119.3 434.9h1.1v1.1h-1.1zM124.1 461.1h1.1v1.1h-1.1zM120.5 452.4h1.1v1.1h-1.1zM127.2 440.7h1.1v1.1h-1.1zM123.6 442.7h1.1v1.1h-1.1zM119.8 460.2h1.1v1.1h-1.1zM125.7 458.5h1.1v1.1h-1.1zM124.8 439.4h1.1v1.1h-1.1zM116.4 442.6h1.1v1.1h-1.1zM125.0 458.0h1.1v1.1h-1.1zM119.7 436.2h1.1v1.1h-1.1zM121.8 442.4h1.1v1.1h-1.1zM122.8 461.2h1.1v1.1h-1.1zM121.4 464.1h1.1v1.1h-1.1zM118.3 465.1h1.1v1.1h-1.1zM122.7 451.0h1.1v1.1h-1.1zM127.6 450.5h1.1v1.1h-1.1zM120.0 449.9h1.1v1.1h-1.1zM118.4 434.2h1.1v1.1h-1.1zM123.5 444.1h1.1v1.1h-1.1zM126.0 438.0h1.1v1.1h-1.1zM125.5 439.2h1.1v1.1h-1.1zM123.3 460.4h1.1v1.1h-1.1zM128.5 445.7h1.1v1.1h-1.1zM120.0 459.4h1.1v1.1h-1.1zM118.2 457.1h1.1v1.1h-1.1zM122.7 427.6h1.1v1.1h-1.1zM127.0 440.5h1.1v1.1h-1.1zM128.1 440.2h1.1v1.1h-1.1zM125.2 441.5h1.1v1.1h-1.1zM127.1 464.2h1.1v1.1h-1.1zM123.3 442.4h1.1v1.1h-1.1zM120.5 463.9h1.1v1.1h-1.1zM126.1 437.1h1.1v1.1h-1.1zM127.2 437.1h1.1v1.1h-1.1zM120.2 436.2h1.1v1.1h-1.1zM118.5 463.2h1.1v1.1h-1.1zM119.2 445.6h1.1v1.1h-1.1zM121.3 432.8h1.1v1.1h-1.1zM124.1 451.9h1.1v1.1h-1.1zM119.9 452.8h1.1v1.1h-1.1zM126.8 462.9h1.1v1.1h-1.1zM124.5 439.7h1.1v1.1h-1.1zM125.9 442.0h1.1v1.1h-1.1zM118.1 459.8h1.1v1.1h-1.1zM128.0 442.0h1.1v1.1h-1.1zM125.4 437.9h1.1v1.1h-1.1zM119.0 453.3h1.1v1.1h-1.1zM125.0 430.0h1.1v1.1h-1.1zM119.6 450.1h1.1v1.1h-1.1zM117.7 453.5h1.1v1.1h-1.1zM127.5 458.7h1.1v1.1h-1.1zM123.2 461.1h1.1v1.1h-1.1zM118.2 464.3h1.1v1.1h-1.1zM126.7 440.3h1.1v1.1h-1.1zM121.0 461.2h1.1v1.1h-1.1zM120.9 449.0h1.1v1.1h-1.1zM118.6 437.6h1.1v1.1h-1.1zM119.6 443.4h1.1v1.1h-1.1zM126.6 432.3h1.1v1.1h-1.1zM120.4 446.2h1.1v1.1h-1.1zM118.5 459.0h1.1v1.1h-1.1zM123.2 455.4h1.1v1.1h-1.1zM122.2 447.7h1.1v1.1h-1.1zM118.0 439.2h1.1v1.1h-1.1zM121.8 440.0h1.1v1.1h-1.1zM121.8 434.4h1.1v1.1h-1.1zM121.7 456.8h1.1v1.1h-1.1zM124.7 455.7h1.1v1.1h-1.1zM118.7 430.1h1.1v1.1h-1.1zM122.5 451.9h1.1v1.1h-1.1zM120.7 438.8h1.1v1.1h-1.1zM118.7 440.8h1.1v1.1h-1.1zM126.6 443.1h1.1v1.1h-1.1zM124.0 440.8h1.1v1.1h-1.1zM232.1 460.1h1.1v1.1h-1.1zM234.6 434.7h1.1v1.1h-1.1zM231.8 437.3h1.1v1.1h-1.1zM240.2 454.5h1.1v1.1h-1.1zM233.7 461.7h1.1v1.1h-1.1zM231.1 446.3h1.1v1.1h-1.1zM233.8 465.0h1.1v1.1h-1.1zM230.6 442.7h1.1v1.1h-1.1zM240.5 463.9h1.1v1.1h-1.1zM236.8 450.3h1.1v1.1h-1.1zM233.5 453.2h1.1v1.1h-1.1zM237.6 459.7h1.1v1.1h-1.1zM234.1 443.1h1.1v1.1h-1.1zM240.3 462.0h1.1v1.1h-1.1zM232.7 463.1h1.1v1.1h-1.1zM235.9 453.6h1.1v1.1h-1.1zM234.3 447.3h1.1v1.1h-1.1zM236.7 451.2h1.1v1.1h-1.1zM231.7 452.2h1.1v1.1h-1.1zM237.9 453.3h1.1v1.1h-1.1zM239.4 436.9h1.1v1.1h-1.1zM232.6 456.7h1.1v1.1h-1.1zM238.9 433.2h1.1v1.1h-1.1zM239.4 463.6h1.1v1.1h-1.1zM235.0 438.5h1.1v1.1h-1.1zM233.9 462.3h1.1v1.1h-1.1zM234.5 447.5h1.1v1.1h-1.1zM230.7 442.0h1.1v1.1h-1.1zM237.8 436.7h1.1v1.1h-1.1zM241.0 445.4h1.1v1.1h-1.1zM239.3 449.3h1.1v1.1h-1.1zM237.1 449.7h1.1v1.1h-1.1zM232.2 437.9h1.1v1.1h-1.1zM238.4 465.0h1.1v1.1h-1.1zM235.5 433.6h1.1v1.1h-1.1zM235.2 443.7h1.1v1.1h-1.1zM238.2 455.6h1.1v1.1h-1.1zM239.3 456.3h1.1v1.1h-1.1zM231.6 432.3h1.1v1.1h-1.1zM232.4 457.2h1.1v1.1h-1.1zM237.0 449.4h1.1v1.1h-1.1zM239.4 447.4h1.1v1.1h-1.1zM232.9 449.6h1.1v1.1h-1.1zM239.3 448.0h1.1v1.1h-1.1zM239.8 439.8h1.1v1.1h-1.1zM232.0 444.2h1.1v1.1h-1.1zM237.8 433.6h1.1v1.1h-1.1zM240.3 442.8h1.1v1.1h-1.1zM231.7 446.6h1.1v1.1h-1.1zM234.9 463.8h1.1v1.1h-1.1zM240.2 456.7h1.1v1.1h-1.1zM236.0 459.3h1.1v1.1h-1.1zM233.5 438.1h1.1v1.1h-1.1zM235.2 445.9h1.1v1.1h-1.1zM238.2 456.4h1.1v1.1h-1.1zM232.9 438.8h1.1v1.1h-1.1zM230.9 433.1h1.1v1.1h-1.1zM239.9 459.8h1.1v1.1h-1.1zM230.7 448.3h1.1v1.1h-1.1zM239.6 449.7h1.1v1.1h-1.1zM232.0 452.2h1.1v1.1h-1.1zM235.3 437.6h1.1v1.1h-1.1zM235.8 438.8h1.1v1.1h-1.1zM230.2 444.8h1.1v1.1h-1.1zM236.2 430.9h1.1v1.1h-1.1zM240.7 462.9h1.1v1.1h-1.1zM238.7 453.3h1.1v1.1h-1.1zM231.7 465.5h1.1v1.1h-1.1zM239.5 455.7h1.1v1.1h-1.1zM240.0 438.2h1.1v1.1h-1.1zM238.5 453.3h1.1v1.1h-1.1zM233.0 447.7h1.1v1.1h-1.1zM230.9 456.7h1.1v1.1h-1.1zM238.2 460.9h1.1v1.1h-1.1zM239.0 435.2h1.1v1.1h-1.1zM240.5 455.9h1.1v1.1h-1.1zM240.1 437.2h1.1v1.1h-1.1zM233.9 446.7h1.1v1.1h-1.1zM233.9 459.8h1.1v1.1h-1.1zM239.3 440.1h1.1v1.1h-1.1zM234.6 441.5h1.1v1.1h-1.1zM240.2 461.1h1.1v1.1h-1.1zM238.5 457.0h1.1v1.1h-1.1zM232.3 453.8h1.1v1.1h-1.1zM235.9 460.1h1.1v1.1h-1.1zM229.6 454.7h1.1v1.1h-1.1zM233.8 452.7h1.1v1.1h-1.1zM230.3 465.2h1.1v1.1h-1.1zM241.4 439.4h1.1v1.1h-1.1zM230.5 449.7h1.1v1.1h-1.1zM233.0 446.7h1.1v1.1h-1.1zM235.6 453.1h1.1v1.1h-1.1zM234.5 459.1h1.1v1.1h-1.1zM231.5 451.5h1.1v1.1h-1.1zM239.7 432.5h1.1v1.1h-1.1zM235.3 438.5h1.1v1.1h-1.1zM236.6 449.5h1.1v1.1h-1.1zM233.8 459.8h1.1v1.1h-1.1zM235.9 461.2h1.1v1.1h-1.1zM232.6 455.5h1.1v1.1h-1.1zM236.9 450.1h1.1v1.1h-1.1zM235.1 439.0h1.1v1.1h-1.1zM240.0 458.1h1.1v1.1h-1.1zM238.9 452.1h1.1v1.1h-1.1zM230.4 464.5h1.1v1.1h-1.1zM237.3 436.4h1.1v1.1h-1.1zM236.7 463.0h1.1v1.1h-1.1zM233.0 457.2h1.1v1.1h-1.1zM231.1 446.3h1.1v1.1h-1.1zM240.8 433.6h1.1v1.1h-1.1zM232.2 442.7h1.1v1.1h-1.1zM229.9 440.2h1.1v1.1h-1.1zM233.7 458.4h1.1v1.1h-1.1zM232.4 454.3h1.1v1.1h-1.1zM236.0 438.7h1.1v1.1h-1.1zM238.7 452.3h1.1v1.1h-1.1zM232.2 442.0h1.1v1.1h-1.1zM232.3 456.1h1.1v1.1h-1.1zM232.3 435.5h1.1v1.1h-1.1zM234.0 444.4h1.1v1.1h-1.1zM230.5 456.0h1.1v1.1h-1.1zM235.4 447.7h1.1v1.1h-1.1zM234.9 443.9h1.1v1.1h-1.1zM238.8 456.3h1.1v1.1h-1.1zM240.0 434.0h1.1v1.1h-1.1zM237.7 465.3h1.1v1.1h-1.1zM230.3 447.4h1.1v1.1h-1.1zM232.9 448.7h1.1v1.1h-1.1zM231.1 463.8h1.1v1.1h-1.1zM239.7 440.6h1.1v1.1h-1.1zM233.6 464.9h1.1v1.1h-1.1zM234.3 450.5h1.1v1.1h-1.1zM236.5 438.0h1.1v1.1h-1.1zM231.4 445.5h1.1v1.1h-1.1zM238.0 448.9h1.1v1.1h-1.1zM236.8 461.4h1.1v1.1h-1.1zM235.3 434.5h1.1v1.1h-1.1zM236.3 443.5h1.1v1.1h-1.1zM238.6 443.5h1.1v1.1h-1.1zM239.3 458.3h1.1v1.1h-1.1zM235.3 438.2h1.1v1.1h-1.1zM236.4 447.2h1.1v1.1h-1.1zM239.9 453.1h1.1v1.1h-1.1zM233.3 437.7h1.1v1.1h-1.1zM241.0 443.6h1.1v1.1h-1.1zM236.8 465.2h1.1v1.1h-1.1zM231.8 438.5h1.1v1.1h-1.1zM232.8 447.1h1.1v1.1h-1.1zM229.7 444.0h1.1v1.1h-1.1zM236.8 462.1h1.1v1.1h-1.1zM240.4 444.7h1.1v1.1h-1.1zM236.5 442.2h1.1v1.1h-1.1zM233.6 454.7h1.1v1.1h-1.1zM234.3 453.2h1.1v1.1h-1.1zM234.9 454.4h1.1v1.1h-1.1zM231.7 435.5h1.1v1.1h-1.1zM231.6 449.5h1.1v1.1h-1.1zM230.3 443.8h1.1v1.1h-1.1zM230.7 453.2h1.1v1.1h-1.1zM232.9 434.6h1.1v1.1h-1.1zM235.0 433.7h1.1v1.1h-1.1zM230.5 463.3h1.1v1.1h-1.1zM230.1 461.1h1.1v1.1h-1.1zM229.7 464.2h1.1v1.1h-1.1zM232.3 445.1h1.1v1.1h-1.1zM233.9 462.2h1.1v1.1h-1.1zM231.6 447.5h1.1v1.1h-1.1zM231.8 446.0h1.1v1.1h-1.1zM229.2 454.5h1.1v1.1h-1.1zM232.2 459.7h1.1v1.1h-1.1zM233.1 433.6h1.1v1.1h-1.1zM237.4 456.8h1.1v1.1h-1.1zM235.0 450.0h1.1v1.1h-1.1zM230.8 435.4h1.1v1.1h-1.1zM231.3 438.1h1.1v1.1h-1.1zM236.1 450.1h1.1v1.1h-1.1zM236.4 441.5h1.1v1.1h-1.1zM236.0 459.4h1.1v1.1h-1.1zM234.6 437.5h1.1v1.1h-1.1zM231.5 448.0h1.1v1.1h-1.1zM232.3 450.6h1.1v1.1h-1.1zM237.2 431.7h1.1v1.1h-1.1zM238.0 458.7h1.1v1.1h-1.1zM235.5 461.1h1.1v1.1h-1.1zM229.9 443.3h1.1v1.1h-1.1zM234.4 431.4h1.1v1.1h-1.1zM233.9 463.2h1.1v1.1h-1.1zM232.2 461.2h1.1v1.1h-1.1zM236.9 443.0h1.1v1.1h-1.1zM231.9 461.6h1.1v1.1h-1.1zM229.6 465.5h1.1v1.1h-1.1zM238.7 432.7h1.1v1.1h-1.1zM232.6 448.0h1.1v1.1h-1.1zM234.0 447.3h1.1v1.1h-1.1zM230.9 449.0h1.1v1.1h-1.1zM239.2 439.8h1.1v1.1h-1.1zM235.2 441.3h1.1v1.1h-1.1zM237.6 435.5h1.1v1.1h-1.1zM238.0 465.8h1.1v1.1h-1.1zM234.2 435.3h1.1v1.1h-1.1zM230.4 453.1h1.1v1.1h-1.1zM230.9 451.6h1.1v1.1h-1.1zM234.9 437.1h1.1v1.1h-1.1zM233.5 442.4h1.1v1.1h-1.1zM234.2 465.1h1.1v1.1h-1.1zM234.5 464.8h1.1v1.1h-1.1zM235.6 441.6h1.1v1.1h-1.1zM231.7 459.3h1.1v1.1h-1.1zM231.2 445.2h1.1v1.1h-1.1zM230.9 464.8h1.1v1.1h-1.1zM236.3 444.8h1.1v1.1h-1.1zM234.6 460.3h1.1v1.1h-1.1zM236.5 453.0h1.1v1.1h-1.1zM239.6 461.3h1.1v1.1h-1.1zM240.6 450.4h1.1v1.1h-1.1zM231.8 449.9h1.1v1.1h-1.1zM238.3 456.3h1.1v1.1h-1.1zM229.8 442.8h1.1v1.1h-1.1zM237.2 465.3h1.1v1.1h-1.1zM234.5 446.7h1.1v1.1h-1.1zM232.9 446.3h1.1v1.1h-1.1zM231.8 452.5h1.1v1.1h-1.1zM230.1 440.3h1.1v1.1h-1.1zM238.5 445.4h1.1v1.1h-1.1zM240.3 436.9h1.1v1.1h-1.1zM236.0 434.2h1.1v1.1h-1.1zM232.9 462.0h1.1v1.1h-1.1zM231.0 446.5h1.1v1.1h-1.1zM240.6 452.4h1.1v1.1h-1.1zM232.2 465.6h1.1v1.1h-1.1zM240.4 438.9h1.1v1.1h-1.1zM238.5 441.7h1.1v1.1h-1.1zM229.8 458.0h1.1v1.1h-1.1zM234.5 461.1h1.1v1.1h-1.1zM233.5 459.9h1.1v1.1h-1.1zM231.3 463.9h1.1v1.1h-1.1zM234.2 445.8h1.1v1.1h-1.1zM237.9 439.5h1.1v1.1h-1.1zM236.7 448.0h1.1v1.1h-1.1zM236.9 463.4h1.1v1.1h-1.1zM234.5 446.2h1.1v1.1h-1.1zM231.4 464.0h1.1v1.1h-1.1zM237.2 462.0h1.1v1.1h-1.1zM231.3 453.9h1.1v1.1h-1.1zM231.0 450.3h1.1v1.1h-1.1zM231.1 448.6h1.1v1.1h-1.1zM232.5 455.8h1.1v1.1h-1.1zM237.1 430.8h1.1v1.1h-1.1zM240.8 441.9h1.1v1.1h-1.1zM233.6 445.3h1.1v1.1h-1.1zM235.4 442.8h1.1v1.1h-1.1zM235.0 433.4h1.1v1.1h-1.1zM229.3 444.7h1.1v1.1h-1.1zM235.3 446.4h1.1v1.1h-1.1zM239.9 453.4h1.1v1.1h-1.1zM239.3 451.8h1.1v1.1h-1.1zM234.9 461.8h1.1v1.1h-1.1zM233.5 453.5h1.1v1.1h-1.1zM238.5 441.9h1.1v1.1h-1.1zM238.9 455.5h1.1v1.1h-1.1zM237.7 460.4h1.1v1.1h-1.1zM230.0 436.5h1.1v1.1h-1.1zM239.3 438.9h1.1v1.1h-1.1zM240.9 438.9h1.1v1.1h-1.1zM229.6 463.6h1.1v1.1h-1.1zM236.3 465.4h1.1v1.1h-1.1zM233.8 435.2h1.1v1.1h-1.1zM237.5 440.9h1.1v1.1h-1.1zM230.0 448.4h1.1v1.1h-1.1zM241.6 440.1h1.1v1.1h-1.1zM236.9 434.0h1.1v1.1h-1.1zM235.8 451.5h1.1v1.1h-1.1zM239.6 465.6h1.1v1.1h-1.1zM234.9 437.5h1.1v1.1h-1.1zM237.4 459.4h1.1v1.1h-1.1zM235.3 451.7h1.1v1.1h-1.1zM234.3 436.5h1.1v1.1h-1.1zM236.9 458.0h1.1v1.1h-1.1zM239.1 444.9h1.1v1.1h-1.1zM239.8 459.9h1.1v1.1h-1.1zM233.0 446.9h1.1v1.1h-1.1zM233.2 461.8h1.1v1.1h-1.1zM230.0 448.7h1.1v1.1h-1.1zM235.5 451.7h1.1v1.1h-1.1zM236.7 434.5h1.1v1.1h-1.1zM233.5 451.5h1.1v1.1h-1.1zM237.7 441.9h1.1v1.1h-1.1zM239.6 459.2h1.1v1.1h-1.1zM233.1 434.1h1.1v1.1h-1.1zM231.5 445.0h1.1v1.1h-1.1zM237.3 439.0h1.1v1.1h-1.1zM236.0 463.0h1.1v1.1h-1.1zM239.7 455.3h1.1v1.1h-1.1zM233.1 453.7h1.1v1.1h-1.1zM235.1 444.1h1.1v1.1h-1.1zM231.5 438.8h1.1v1.1h-1.1zM232.7 440.4h1.1v1.1h-1.1zM234.4 449.0h1.1v1.1h-1.1zM231.7 450.7h1.1v1.1h-1.1zM235.1 440.7h1.1v1.1h-1.1zM231.3 433.1h1.1v1.1h-1.1zM232.9 462.2h1.1v1.1h-1.1zM232.8 441.6h1.1v1.1h-1.1zM239.0 444.2h1.1v1.1h-1.1zM232.8 461.6h1.1v1.1h-1.1zM230.4 450.9h1.1v1.1h-1.1zM237.8 457.2h1.1v1.1h-1.1zM239.9 439.0h1.1v1.1h-1.1zM240.0 462.1h1.1v1.1h-1.1zM239.7 458.4h1.1v1.1h-1.1zM239.3 433.5h1.1v1.1h-1.1zM234.7 463.2h1.1v1.1h-1.1zM240.6 462.4h1.1v1.1h-1.1zM232.5 453.4h1.1v1.1h-1.1zM238.8 436.9h1.1v1.1h-1.1zM234.4 436.6h1.1v1.1h-1.1zM230.4 450.0h1.1v1.1h-1.1zM230.9 456.0h1.1v1.1h-1.1zM240.9 435.0h1.1v1.1h-1.1zM232.2 435.3h1.1v1.1h-1.1zM235.7 464.9h1.1v1.1h-1.1zM233.1 457.3h1.1v1.1h-1.1zM236.4 437.9h1.1v1.1h-1.1zM237.7 459.3h1.1v1.1h-1.1zM237.0 442.3h1.1v1.1h-1.1zM231.4 457.8h1.1v1.1h-1.1zM240.6 439.3h1.1v1.1h-1.1zM237.2 454.5h1.1v1.1h-1.1zM230.7 463.0h1.1v1.1h-1.1zM345.9 441.3h1.1v1.1h-1.1zM344.1 447.3h1.1v1.1h-1.1zM349.3 454.6h1.1v1.1h-1.1zM351.8 448.1h1.1v1.1h-1.1zM345.5 441.0h1.1v1.1h-1.1zM344.8 437.4h1.1v1.1h-1.1zM347.0 455.3h1.1v1.1h-1.1zM342.9 453.4h1.1v1.1h-1.1zM347.2 455.1h1.1v1.1h-1.1zM351.3 438.1h1.1v1.1h-1.1zM344.4 446.6h1.1v1.1h-1.1zM343.5 455.6h1.1v1.1h-1.1zM349.3 432.4h1.1v1.1h-1.1zM344.0 456.7h1.1v1.1h-1.1zM342.8 438.9h1.1v1.1h-1.1zM346.6 463.1h1.1v1.1h-1.1zM345.4 464.6h1.1v1.1h-1.1zM349.6 444.4h1.1v1.1h-1.1zM348.6 439.0h1.1v1.1h-1.1zM342.4 453.3h1.1v1.1h-1.1zM347.8 435.1h1.1v1.1h-1.1zM351.3 445.3h1.1v1.1h-1.1zM344.8 430.6h1.1v1.1h-1.1zM347.5 438.9h1.1v1.1h-1.1zM342.5 463.9h1.1v1.1h-1.1zM349.4 459.3h1.1v1.1h-1.1zM350.3 439.8h1.1v1.1h-1.1zM343.6 463.2h1.1v1.1h-1.1zM347.9 461.3h1.1v1.1h-1.1zM350.2 445.1h1.1v1.1h-1.1zM344.3 441.3h1.1v1.1h-1.1zM348.0 455.4h1.1v1.1h-1.1zM350.9 453.0h1.1v1.1h-1.1zM348.5 431.0h1.1v1.1h-1.1zM346.0 450.9h1.1v1.1h-1.1zM348.2 453.2h1.1v1.1h-1.1zM345.0 445.5h1.1v1.1h-1.1zM345.1 442.6h1.1v1.1h-1.1zM349.9 460.9h1.1v1.1h-1.1zM346.5 436.2h1.1v1.1h-1.1zM350.7 445.5h1.1v1.1h-1.1zM348.2 453.7h1.1v1.1h-1.1zM351.7 464.4h1.1v1.1h-1.1zM353.4 439.0h1.1v1.1h-1.1zM342.7 450.7h1.1v1.1h-1.1zM349.1 431.0h1.1v1.1h-1.1zM345.0 448.3h1.1v1.1h-1.1zM344.6 445.2h1.1v1.1h-1.1zM349.9 449.7h1.1v1.1h-1.1zM352.1 439.9h1.1v1.1h-1.1zM351.9 448.8h1.1v1.1h-1.1zM348.4 431.2h1.1v1.1h-1.1zM347.1 444.3h1.1v1.1h-1.1zM343.5 441.8h1.1v1.1h-1.1zM344.4 451.0h1.1v1.1h-1.1zM352.2 446.5h1.1v1.1h-1.1zM344.0 465.3h1.1v1.1h-1.1zM348.5 441.3h1.1v1.1h-1.1zM343.4 443.8h1.1v1.1h-1.1zM342.7 456.4h1.1v1.1h-1.1zM348.3 440.7h1.1v1.1h-1.1zM351.4 450.6h1.1v1.1h-1.1zM351.1 458.7h1.1v1.1h-1.1zM349.8 459.6h1.1v1.1h-1.1zM346.1 434.5h1.1v1.1h-1.1zM344.4 444.4h1.1v1.1h-1.1zM347.7 452.2h1.1v1.1h-1.1zM344.0 441.4h1.1v1.1h-1.1zM344.9 452.5h1.1v1.1h-1.1zM349.3 463.0h1.1v1.1h-1.1zM348.0 433.3h1.1v1.1h-1.1zM348.2 444.3h1.1v1.1h-1.1zM347.8 458.0h1.1v1.1h-1.1zM349.1 449.4h1.1v1.1h-1.1zM343.3 436.5h1.1v1.1h-1.1zM344.8 437.4h1.1v1.1h-1.1zM344.5 440.5h1.1v1.1h-1.1zM349.7 438.3h1.1v1.1h-1.1zM347.5 437.6h1.1v1.1h-1.1zM347.0 432.6h1.1v1.1h-1.1zM343.6 437.5h1.1v1.1h-1.1zM347.5 462.7h1.1v1.1h-1.1zM350.4 464.8h1.1v1.1h-1.1zM352.1 442.9h1.1v1.1h-1.1zM345.5 440.8h1.1v1.1h-1.1zM352.0 456.5h1.1v1.1h-1.1zM349.3 435.9h1.1v1.1h-1.1zM342.6 446.1h1.1v1.1h-1.1zM346.1 462.7h1.1v1.1h-1.1zM347.6 449.2h1.1v1.1h-1.1zM351.4 439.1h1.1v1.1h-1.1zM350.2 441.3h1.1v1.1h-1.1zM348.5 435.4h1.1v1.1h-1.1zM347.4 447.5h1.1v1.1h-1.1zM344.0 433.4h1.1v1.1h-1.1zM341.9 449.9h1.1v1.1h-1.1zM351.9 460.9h1.1v1.1h-1.1zM343.2 448.1h1.1v1.1h-1.1zM350.9 438.1h1.1v1.1h-1.1zM351.4 453.0h1.1v1.1h-1.1zM350.0 460.0h1.1v1.1h-1.1zM342.8 455.2h1.1v1.1h-1.1zM348.6 448.7h1.1v1.1h-1.1zM343.8 458.4h1.1v1.1h-1.1zM351.8 450.6h1.1v1.1h-1.1zM348.5 438.0h1.1v1.1h-1.1zM348.6 449.2h1.1v1.1h-1.1zM344.7 446.1h1.1v1.1h-1.1zM351.0 455.2h1.1v1.1h-1.1zM347.3 459.4h1.1v1.1h-1.1zM345.3 453.1h1.1v1.1h-1.1zM351.2 464.2h1.1v1.1h-1.1zM347.2 442.4h1.1v1.1h-1.1zM351.3 455.5h1.1v1.1h-1.1zM347.1 443.1h1.1v1.1h-1.1zM342.7 457.6h1.1v1.1h-1.1zM349.5 446.6h1.1v1.1h-1.1zM346.8 458.3h1.1v1.1h-1.1zM348.5 447.1h1.1v1.1h-1.1zM342.2 443.1h1.1v1.1h-1.1zM351.7 448.8h1.1v1.1h-1.1zM346.6 463.7h1.1v1.1h-1.1zM351.7 438.3h1.1v1.1h-1.1zM349.5 445.6h1.1v1.1h-1.1zM348.2 429.4h1.1v1.1h-1.1zM343.1 446.6h1.1v1.1h-1.1zM349.9 449.8h1.1v1.1h-1.1zM342.6 464.9h1.1v1.1h-1.1zM349.8 452.1h1.1v1.1h-1.1zM351.9 464.6h1.1v1.1h-1.1zM344.8 454.7h1.1v1.1h-1.1zM349.1 457.6h1.1v1.1h-1.1zM342.4 457.8h1.1v1.1h-1.1zM343.7 456.6h1.1v1.1h-1.1zM352.6 445.2h1.1v1.1h-1.1zM342.8 461.6h1.1v1.1h-1.1zM349.3 435.3h1.1v1.1h-1.1zM344.2 461.0h1.1v1.1h-1.1zM350.0 463.2h1.1v1.1h-1.1zM350.1 438.0h1.1v1.1h-1.1zM349.4 449.0h1.1v1.1h-1.1zM347.6 434.2h1.1v1.1h-1.1zM342.4 440.8h1.1v1.1h-1.1zM345.0 432.8h1.1v1.1h-1.1zM350.4 465.1h1.1v1.1h-1.1zM350.2 443.2h1.1v1.1h-1.1zM344.8 449.8h1.1v1.1h-1.1zM350.8 444.9h1.1v1.1h-1.1zM351.6 444.2h1.1v1.1h-1.1zM350.8 448.8h1.1v1.1h-1.1zM350.1 431.9h1.1v1.1h-1.1zM348.2 457.3h1.1v1.1h-1.1zM347.7 451.8h1.1v1.1h-1.1zM344.4 454.3h1.1v1.1h-1.1zM348.9 441.3h1.1v1.1h-1.1zM348.4 430.7h1.1v1.1h-1.1zM346.8 446.8h1.1v1.1h-1.1zM350.1 452.7h1.1v1.1h-1.1zM349.5 455.0h1.1v1.1h-1.1zM349.7 454.1h1.1v1.1h-1.1zM345.3 456.0h1.1v1.1h-1.1zM348.3 430.1h1.1v1.1h-1.1zM343.0 453.8h1.1v1.1h-1.1zM348.7 431.0h1.1v1.1h-1.1zM352.5 437.5h1.1v1.1h-1.1zM346.9 461.2h1.1v1.1h-1.1zM344.6 443.3h1.1v1.1h-1.1zM348.0 465.3h1.1v1.1h-1.1zM347.1 463.8h1.1v1.1h-1.1zM347.2 457.4h1.1v1.1h-1.1zM344.3 441.3h1.1v1.1h-1.1zM351.3 457.7h1.1v1.1h-1.1zM349.1 440.3h1.1v1.1h-1.1zM351.2 451.2h1.1v1.1h-1.1zM352.4 441.0h1.1v1.1h-1.1zM345.6 448.6h1.1v1.1h-1.1zM347.6 465.1h1.1v1.1h-1.1zM346.8 439.3h1.1v1.1h-1.1zM345.6 462.4h1.1v1.1h-1.1zM345.2 449.4h1.1v1.1h-1.1zM342.3 450.8h1.1v1.1h-1.1zM347.4 452.8h1.1v1.1h-1.1zM346.8 431.0h1.1v1.1h-1.1zM348.5 462.3h1.1v1.1h-1.1zM345.4 443.3h1.1v1.1h-1.1zM347.7 445.9h1.1v1.1h-1.1zM345.2 430.8h1.1v1.1h-1.1zM349.1 449.6h1.1v1.1h-1.1zM343.3 460.2h1.1v1.1h-1.1zM346.6 463.7h1.1v1.1h-1.1zM346.1 434.6h1.1v1.1h-1.1zM349.1 446.8h1.1v1.1h-1.1zM349.2 458.1h1.1v1.1h-1.1zM345.4 449.6h1.1v1.1h-1.1zM344.5 454.1h1.1v1.1h-1.1zM350.7 464.2h1.1v1.1h-1.1zM343.6 455.7h1.1v1.1h-1.1zM346.8 441.7h1.1v1.1h-1.1zM343.1 436.4h1.1v1.1h-1.1zM344.0 433.6h1.1v1.1h-1.1zM342.0 441.0h1.1v1.1h-1.1zM348.8 459.2h1.1v1.1h-1.1zM346.6 439.0h1.1v1.1h-1.1zM343.9 439.1h1.1v1.1h-1.1zM343.1 446.9h1.1v1.1h-1.1zM348.9 446.2h1.1v1.1h-1.1zM346.9 448.0h1.1v1.1h-1.1zM351.2 435.6h1.1v1.1h-1.1zM343.6 449.4h1.1v1.1h-1.1zM347.3 442.7h1.1v1.1h-1.1zM348.3 441.5h1.1v1.1h-1.1zM346.0 446.2h1.1v1.1h-1.1zM349.0 452.3h1.1v1.1h-1.1zM343.1 437.5h1.1v1.1h-1.1zM346.7 435.7h1.1v1.1h-1.1zM342.3 441.2h1.1v1.1h-1.1zM343.2 461.8h1.1v1.1h-1.1zM350.6 438.2h1.1v1.1h-1.1zM347.3 439.9h1.1v1.1h-1.1zM350.5 462.7h1.1v1.1h-1.1zM347.5 430.8h1.1v1.1h-1.1zM347.9 438.8h1.1v1.1h-1.1zM344.0 441.4h1.1v1.1h-1.1zM345.5 441.2h1.1v1.1h-1.1zM343.1 436.7h1.1v1.1h-1.1zM344.2 435.8h1.1v1.1h-1.1zM344.8 452.7h1.1v1.1h-1.1zM347.8 460.7h1.1v1.1h-1.1zM352.0 452.5h1.1v1.1h-1.1zM345.6 437.5h1.1v1.1h-1.1zM342.9 449.6h1.1v1.1h-1.1zM347.6 449.9h1.1v1.1h-1.1zM345.6 445.9h1.1v1.1h-1.1zM350.4 449.1h1.1v1.1h-1.1zM344.5 446.2h1.1v1.1h-1.1zM347.4 462.2h1.1v1.1h-1.1zM342.8 453.2h1.1v1.1h-1.1zM346.3 458.4h1.1v1.1h-1.1zM344.3 445.1h1.1v1.1h-1.1zM344.5 453.5h1.1v1.1h-1.1zM345.9 435.0h1.1v1.1h-1.1zM343.3 448.2h1.1v1.1h-1.1zM350.1 445.0h1.1v1.1h-1.1zM347.5 462.2h1.1v1.1h-1.1zM343.5 453.1h1.1v1.1h-1.1zM349.1 437.2h1.1v1.1h-1.1zM347.3 456.5h1.1v1.1h-1.1zM344.0 440.0h1.1v1.1h-1.1zM347.3 435.0h1.1v1.1h-1.1zM346.1 444.0h1.1v1.1h-1.1zM350.5 446.7h1.1v1.1h-1.1zM350.0 436.4h1.1v1.1h-1.1zM350.5 438.5h1.1v1.1h-1.1zM346.2 459.1h1.1v1.1h-1.1zM345.5 449.7h1.1v1.1h-1.1zM344.0 463.9h1.1v1.1h-1.1zM351.4 437.2h1.1v1.1h-1.1zM351.8 449.3h1.1v1.1h-1.1zM345.9 458.8h1.1v1.1h-1.1zM350.9 444.5h1.1v1.1h-1.1zM348.3 445.9h1.1v1.1h-1.1zM351.8 449.0h1.1v1.1h-1.1zM345.3 446.5h1.1v1.1h-1.1zM343.8 435.8h1.1v1.1h-1.1zM350.0 443.6h1.1v1.1h-1.1zM346.7 444.2h1.1v1.1h-1.1zM347.0 438.7h1.1v1.1h-1.1zM344.7 454.2h1.1v1.1h-1.1zM347.3 455.8h1.1v1.1h-1.1zM346.2 451.3h1.1v1.1h-1.1zM351.2 465.4h1.1v1.1h-1.1zM349.9 434.4h1.1v1.1h-1.1zM348.0 458.0h1.1v1.1h-1.1zM346.3 462.3h1.1v1.1h-1.1zM345.3 431.4h1.1v1.1h-1.1zM351.0 453.7h1.1v1.1h-1.1zM345.2 465.0h1.1v1.1h-1.1zM347.9 463.6h1.1v1.1h-1.1zM343.8 434.0h1.1v1.1h-1.1zM351.2 454.5h1.1v1.1h-1.1zM343.4 457.9h1.1v1.1h-1.1zM347.4 449.7h1.1v1.1h-1.1zM350.7 447.3h1.1v1.1h-1.1zM349.3 464.8h1.1v1.1h-1.1zM343.9 457.6h1.1v1.1h-1.1zM345.6 463.3h1.1v1.1h-1.1zM343.4 443.6h1.1v1.1h-1.1zM348.1 442.5h1.1v1.1h-1.1zM344.2 454.5h1.1v1.1h-1.1zM351.8 456.9h1.1v1.1h-1.1zM345.1 458.3h1.1v1.1h-1.1zM351.0 434.2h1.1v1.1h-1.1zM346.5 434.5h1.1v1.1h-1.1zM351.9 464.6h1.1v1.1h-1.1zM345.3 445.1h1.1v1.1h-1.1zM351.0 459.0h1.1v1.1h-1.1zM351.8 456.9h1.1v1.1h-1.1zM346.2 438.2h1.1v1.1h-1.1zM347.5 455.5h1.1v1.1h-1.1zM344.5 462.7h1.1v1.1h-1.1zM346.0 446.7h1.1v1.1h-1.1zM350.1 443.9h1.1v1.1h-1.1zM350.2 438.7h1.1v1.1h-1.1zM344.3 456.6h1.1v1.1h-1.1zM349.9 454.9h1.1v1.1h-1.1zM347.3 442.1h1.1v1.1h-1.1zM348.6 445.0h1.1v1.1h-1.1zM348.4 432.8h1.1v1.1h-1.1zM349.3 455.8h1.1v1.1h-1.1zM352.8 441.1h1.1v1.1h-1.1zM351.5 441.9h1.1v1.1h-1.1zM350.2 451.4h1.1v1.1h-1.1z"/>
<path fill="#b4afae" d="M121.1 110.5h1.1v1.1h-1.1zM120.9 98.9h1.1v1.1h-1.1zM129.3 103.0h1.1v1.1h-1.1zM128.5 105.0h1.1v1.1h-1.1zM126.6 102.7h1.1v1.1h-1.1zM122.1 110.6h1.1v1.1h-1.1zM119.5 97.4h1.1v1.1h-1.1zM126.7 109.8h1.1v1.1h-1.1zM127.6 111.7h1.1v1.1h-1.1zM121.2 107.2h1.1v1.1h-1.1zM129.2 105.1h1.1v1.1h-1.1zM128.4 92.9h1.1v1.1h-1.1zM124.4 106.1h1.1v1.1h-1.1zM121.3 110.7h1.1v1.1h-1.1zM129.8 105.7h1.1v1.1h-1.1zM120.3 104.5h1.1v1.1h-1.1zM128.3 97.3h1.1v1.1h-1.1zM127.1 97.7h1.1v1.1h-1.1zM124.0 88.0h1.1v1.1h-1.1zM130.5 92.7h1.1v1.1h-1.1zM125.5 111.7h1.1v1.1h-1.1zM128.6 89.7h1.1v1.1h-1.1zM129.3 112.9h1.1v1.1h-1.1zM129.9 101.3h1.1v1.1h-1.1zM120.7 105.1h1.1v1.1h-1.1zM121.7 103.8h1.1v1.1h-1.1zM121.9 111.5h1.1v1.1h-1.1zM121.5 100.5h1.1v1.1h-1.1zM122.8 108.3h1.1v1.1h-1.1zM126.9 98.4h1.1v1.1h-1.1zM121.6 97.8h1.1v1.1h-1.1zM130.4 98.9h1.1v1.1h-1.1zM121.6 111.0h1.1v1.1h-1.1zM130.2 95.5h1.1v1.1h-1.1zM126.4 98.0h1.1v1.1h-1.1zM123.8 98.5h1.1v1.1h-1.1zM125.7 111.3h1.1v1.1h-1.1zM127.1 109.3h1.1v1.1h-1.1zM123.8 110.7h1.1v1.1h-1.1zM125.7 102.8h1.1v1.1h-1.1zM121.2 112.4h1.1v1.1h-1.1zM127.9 102.4h1.1v1.1h-1.1zM129.2 96.3h1.1v1.1h-1.1zM125.4 88.5h1.1v1.1h-1.1zM128.7 97.4h1.1v1.1h-1.1zM119.2 110.3h1.1v1.1h-1.1zM121.0 100.8h1.1v1.1h-1.1zM123.4 102.1h1.1v1.1h-1.1zM129.1 98.6h1.1v1.1h-1.1zM128.0 98.7h1.1v1.1h-1.1zM126.2 110.2h1.1v1.1h-1.1zM120.0 112.4h1.1v1.1h-1.1zM123.2 99.1h1.1v1.1h-1.1zM124.1 97.8h1.1v1.1h-1.1zM122.3 95.3h1.1v1.1h-1.1zM129.9 105.1h1.1v1.1h-1.1zM120.6 105.2h1.1v1.1h-1.1zM127.4 103.6h1.1v1.1h-1.1zM124.4 100.1h1.1v1.1h-1.1zM127.2 111.2h1.1v1.1h-1.1zM125.6 101.1h1.1v1.1h-1.1zM122.2 96.4h1.1v1.1h-1.1zM126.2 108.4h1.1v1.1h-1.1zM121.0 104.8h1.1v1.1h-1.1zM128.1 106.7h1.1v1.1h-1.1zM122.8 109.2h1.1v1.1h-1.1zM123.1 100.5h1.1v1.1h-1.1zM126.1 97.5h1.1v1.1h-1.1zM122.2 106.0h1.1v1.1h-1.1zM124.4 103.5h1.1v1.1h-1.1zM128.6 98.9h1.1v1.1h-1.1zM125.7 109.5h1.1v1.1h-1.1zM123.6 105.9h1.1v1.1h-1.1zM129.7 93.5h1.1v1.1h-1.1zM121.5 100.5h1.1v1.1h-1.1zM129.6 97.1h1.1v1.1h-1.1zM130.7 106.5h1.1v1.1h-1.1zM129.8 93.5h1.1v1.1h-1.1zM125.1 111.4h1.1v1.1h-1.1zM123.3 104.1h1.1v1.1h-1.1zM124.1 110.8h1.1v1.1h-1.1zM121.1 100.7h1.1v1.1h-1.1zM120.0 103.0h1.1v1.1h-1.1zM125.6 92.9h1.1v1.1h-1.1zM124.5 99.2h1.1v1.1h-1.1zM122.0 97.0h1.1v1.1h-1.1zM129.4 104.4h1.1v1.1h-1.1zM122.5 98.7h1.1v1.1h-1.1zM126.3 101.3h1.1v1.1h-1.1zM125.1 109.8h1.1v1.1h-1.1zM127.5 100.3h1.1v1.1h-1.1zM118.2 229.2h1.1v1.1h-1.1zM122.0 205.2h1.1v1.1h-1.1zM117.6 215.0h1.1v1.1h-1.1zM121.2 223.1h1.1v1.1h-1.1zM123.5 195.1h1.1v1.1h-1.1zM114.5 226.1h1.1v1.1h-1.1zM122.9 229.1h1.1v1.1h-1.1zM125.4 225.9h1.1v1.1h-1.1zM117.2 224.0h1.1v1.1h-1.1zM121.3 206.7h1.1v1.1h-1.1zM126.2 228.1h1.1v1.1h-1.1zM126.8 209.4h1.1v1.1h-1.1zM121.5 224.4h1.1v1.1h-1.1zM125.3 218.3h1.1v1.1h-1.1zM116.0 207.5h1.1v1.1h-1.1zM116.2 214.6h1.1v1.1h-1.1zM120.3 215.4h1.1v1.1h-1.1zM121.3 201.1h1.1v1.1h-1.1zM117.3 217.3h1.1v1.1h-1.1zM124.9 212.8h1.1v1.1h-1.1zM115.4 213.7h1.1v1.1h-1.1zM118.3 227.9h1.1v1.1h-1.1zM124.2 218.6h1.1v1.1h-1.1zM116.0 214.8h1.1v1.1h-1.1zM113.8 229.7h1.1v1.1h-1.1zM120.7 214.0h1.1v1.1h-1.1zM120.0 195.4h1.1v1.1h-1.1zM115.3 229.2h1.1v1.1h-1.1zM122.0 210.6h1.1v1.1h-1.1zM121.1 204.9h1.1v1.1h-1.1zM124.5 208.8h1.1v1.1h-1.1zM121.2 199.0h1.1v1.1h-1.1zM123.8 207.5h1.1v1.1h-1.1zM121.1 201.5h1.1v1.1h-1.1zM126.9 219.0h1.1v1.1h-1.1zM116.8 217.6h1.1v1.1h-1.1zM118.8 212.7h1.1v1.1h-1.1zM117.3 198.5h1.1v1.1h-1.1zM115.7 221.7h1.1v1.1h-1.1zM116.0 224.8h1.1v1.1h-1.1zM126.7 227.5h1.1v1.1h-1.1zM114.2 222.0h1.1v1.1h-1.1zM118.3 214.8h1.1v1.1h-1.1zM117.9 222.1h1.1v1.1h-1.1zM114.3 228.7h1.1v1.1h-1.1zM122.0 223.8h1.1v1.1h-1.1zM127.6 211.7h1.1v1.1h-1.1zM125.4 214.1h1.1v1.1h-1.1zM123.9 208.6h1.1v1.1h-1.1zM115.7 211.2h1.1v1.1h-1.1zM121.8 202.9h1.1v1.1h-1.1zM122.4 226.5h1.1v1.1h-1.1zM116.6 207.6h1.1v1.1h-1.1zM125.8 203.1h1.1v1.1h-1.1zM117.1 203.1h1.1v1.1h-1.1zM118.3 219.0h1.1v1.1h-1.1zM124.5 218.6h1.1v1.1h-1.1zM118.9 198.6h1.1v1.1h-1.1zM122.2 216.8h1.1v1.1h-1.1zM116.8 204.4h1.1v1.1h-1.1zM122.7 201.6h1.1v1.1h-1.1zM121.9 198.2h1.1v1.1h-1.1zM114.8 228.5h1.1v1.1h-1.1zM119.0 198.3h1.1v1.1h-1.1zM125.1 218.7h1.1v1.1h-1.1zM125.5 208.2h1.1v1.1h-1.1zM124.1 199.1h1.1v1.1h-1.1zM125.8 200.6h1.1v1.1h-1.1zM124.4 228.1h1.1v1.1h-1.1zM120.8 197.3h1.1v1.1h-1.1zM118.1 212.7h1.1v1.1h-1.1zM115.2 219.5h1.1v1.1h-1.1zM124.4 220.2h1.1v1.1h-1.1zM116.3 204.9h1.1v1.1h-1.1zM127.1 210.2h1.1v1.1h-1.1zM112.3 226.7h1.1v1.1h-1.1zM119.0 221.7h1.1v1.1h-1.1zM122.4 212.3h1.1v1.1h-1.1zM117.9 219.9h1.1v1.1h-1.1zM126.6 209.3h1.1v1.1h-1.1zM127.8 219.3h1.1v1.1h-1.1zM115.8 224.4h1.1v1.1h-1.1zM116.2 208.3h1.1v1.1h-1.1zM126.6 206.4h1.1v1.1h-1.1zM124.5 205.9h1.1v1.1h-1.1zM124.4 213.5h1.1v1.1h-1.1zM127.0 217.7h1.1v1.1h-1.1zM117.2 206.6h1.1v1.1h-1.1zM126.0 214.4h1.1v1.1h-1.1zM121.9 205.5h1.1v1.1h-1.1zM124.3 199.5h1.1v1.1h-1.1zM116.5 203.7h1.1v1.1h-1.1zM122.0 197.5h1.1v1.1h-1.1zM119.8 229.2h1.1v1.1h-1.1zM126.8 206.0h1.1v1.1h-1.1zM117.6 198.8h1.1v1.1h-1.1zM123.1 203.7h1.1v1.1h-1.1zM121.7 206.2h1.1v1.1h-1.1zM124.6 218.7h1.1v1.1h-1.1zM115.1 228.0h1.1v1.1h-1.1zM125.1 212.0h1.1v1.1h-1.1zM125.2 223.7h1.1v1.1h-1.1zM122.5 228.2h1.1v1.1h-1.1zM115.6 215.3h1.1v1.1h-1.1zM124.0 209.3h1.1v1.1h-1.1zM118.1 195.5h1.1v1.1h-1.1zM115.6 207.9h1.1v1.1h-1.1zM122.8 201.7h1.1v1.1h-1.1zM120.3 209.2h1.1v1.1h-1.1zM119.4 198.4h1.1v1.1h-1.1zM124.2 214.4h1.1v1.1h-1.1zM116.3 219.8h1.1v1.1h-1.1zM117.2 222.6h1.1v1.1h-1.1zM119.9 223.0h1.1v1.1h-1.1zM123.0 204.9h1.1v1.1h-1.1zM114.6 215.2h1.1v1.1h-1.1zM124.9 197.2h1.1v1.1h-1.1zM117.7 200.0h1.1v1.1h-1.1zM123.5 199.1h1.1v1.1h-1.1zM114.3 224.4h1.1v1.1h-1.1zM114.8 227.9h1.1v1.1h-1.1zM121.4 199.9h1.1v1.1h-1.1zM116.1 212.5h1.1v1.1h-1.1zM122.4 226.5h1.1v1.1h-1.1zM125.7 207.9h1.1v1.1h-1.1zM112.8 226.7h1.1v1.1h-1.1zM118.3 212.8h1.1v1.1h-1.1zM124.7 206.2h1.1v1.1h-1.1zM119.5 223.6h1.1v1.1h-1.1zM117.5 212.8h1.1v1.1h-1.1zM118.8 224.0h1.1v1.1h-1.1zM123.2 203.6h1.1v1.1h-1.1zM127.1 212.0h1.1v1.1h-1.1zM117.4 200.8h1.1v1.1h-1.1zM123.1 216.1h1.1v1.1h-1.1zM122.5 208.9h1.1v1.1h-1.1zM123.9 211.9h1.1v1.1h-1.1zM114.4 227.9h1.1v1.1h-1.1zM127.3 211.4h1.1v1.1h-1.1zM114.3 214.8h1.1v1.1h-1.1zM118.3 212.7h1.1v1.1h-1.1zM121.8 228.9h1.1v1.1h-1.1zM117.4 226.8h1.1v1.1h-1.1zM125.1 201.3h1.1v1.1h-1.1zM114.2 212.2h1.1v1.1h-1.1zM122.8 208.7h1.1v1.1h-1.1zM118.2 210.7h1.1v1.1h-1.1zM235.3 213.6h1.1v1.1h-1.1zM236.1 215.1h1.1v1.1h-1.1zM228.5 219.7h1.1v1.1h-1.1zM233.2 198.1h1.1v1.1h-1.1zM231.7 200.7h1.1v1.1h-1.1zM236.1 223.6h1.1v1.1h-1.1zM235.9 200.4h1.1v1.1h-1.1zM234.8 203.1h1.1v1.1h-1.1zM228.4 223.1h1.1v1.1h-1.1zM238.0 224.5h1.1v1.1h-1.1zM231.0 217.6h1.1v1.1h-1.1zM230.8 208.1h1.1v1.1h-1.1zM230.5 210.3h1.1v1.1h-1.1zM236.6 225.9h1.1v1.1h-1.1zM230.6 198.0h1.1v1.1h-1.1zM236.6 216.7h1.1v1.1h-1.1zM237.5 201.6h1.1v1.1h-1.1zM232.8 225.1h1.1v1.1h-1.1zM234.9 201.7h1.1v1.1h-1.1zM231.3 224.4h1.1v1.1h-1.1zM230.6 200.2h1.1v1.1h-1.1zM232.6 220.8h1.1v1.1h-1.1zM228.8 199.5h1.1v1.1h-1.1zM235.4 211.6h1.1v1.1h-1.1zM233.9 207.1h1.1v1.1h-1.1zM235.3 228.5h1.1v1.1h-1.1zM238.2 205.0h1.1v1.1h-1.1zM231.1 204.1h1.1v1.1h-1.1zM231.2 219.0h1.1v1.1h-1.1zM235.4 220.8h1.1v1.1h-1.1zM231.0 224.5h1.1v1.1h-1.1zM234.0 217.6h1.1v1.1h-1.1zM235.0 205.1h1.1v1.1h-1.1zM230.2 221.7h1.1v1.1h-1.1zM236.6 198.5h1.1v1.1h-1.1zM236.3 213.6h1.1v1.1h-1.1zM235.1 207.8h1.1v1.1h-1.1zM228.7 206.9h1.1v1.1h-1.1zM234.7 214.1h1.1v1.1h-1.1zM238.1 203.7h1.1v1.1h-1.1zM234.8 198.2h1.1v1.1h-1.1zM231.2 209.3h1.1v1.1h-1.1zM228.5 209.4h1.1v1.1h-1.1zM232.2 226.3h1.1v1.1h-1.1zM234.2 214.6h1.1v1.1h-1.1zM230.8 215.6h1.1v1.1h-1.1zM231.8 229.1h1.1v1.1h-1.1zM228.8 221.9h1.1v1.1h-1.1zM238.0 226.1h1.1v1.1h-1.1zM229.8 207.7h1.1v1.1h-1.1zM236.5 220.3h1.1v1.1h-1.1zM237.2 212.8h1.1v1.1h-1.1zM236.0 202.6h1.1v1.1h-1.1zM229.4 226.4h1.1v1.1h-1.1zM234.2 229.3h1.1v1.1h-1.1zM231.7 218.7h1.1v1.1h-1.1zM236.7 220.9h1.1v1.1h-1.1zM234.9 216.3h1.1v1.1h-1.1zM228.5 221.3h1.1v1.1h-1.1zM238.6 221.0h1.1v1.1h-1.1zM232.2 202.1h1.1v1.1h-1.1zM237.1 198.9h1.1v1.1h-1.1zM233.3 207.6h1.1v1.1h-1.1zM228.4 203.3h1.1v1.1h-1.1zM230.2 209.1h1.1v1.1h-1.1zM233.6 228.7h1.1v1.1h-1.1zM229.5 204.7h1.1v1.1h-1.1zM231.1 198.3h1.1v1.1h-1.1zM234.1 225.5h1.1v1.1h-1.1zM233.5 204.5h1.1v1.1h-1.1zM237.9 205.3h1.1v1.1h-1.1zM233.4 228.4h1.1v1.1h-1.1zM233.8 219.9h1.1v1.1h-1.1zM228.5 225.3h1.1v1.1h-1.1zM233.0 198.3h1.1v1.1h-1.1zM234.5 199.6h1.1v1.1h-1.1zM234.2 227.4h1.1v1.1h-1.1zM233.7 227.6h1.1v1.1h-1.1zM233.4 204.7h1.1v1.1h-1.1zM233.9 224.1h1.1v1.1h-1.1zM231.9 200.0h1.1v1.1h-1.1zM229.5 198.9h1.1v1.1h-1.1zM233.3 220.2h1.1v1.1h-1.1zM238.4 212.0h1.1v1.1h-1.1zM230.9 222.2h1.1v1.1h-1.1zM232.7 199.2h1.1v1.1h-1.1zM232.1 213.9h1.1v1.1h-1.1zM230.6 228.7h1.1v1.1h-1.1zM236.0 206.5h1.1v1.1h-1.1zM236.8 215.5h1.1v1.1h-1.1zM238.6 205.9h1.1v1.1h-1.1zM229.1 229.3h1.1v1.1h-1.1zM229.7 212.1h1.1v1.1h-1.1zM236.2 219.8h1.1v1.1h-1.1zM229.3 219.8h1.1v1.1h-1.1zM234.3 205.8h1.1v1.1h-1.1zM230.0 229.2h1.1v1.1h-1.1zM231.8 224.3h1.1v1.1h-1.1zM340.8 197.5h1.1v1.1h-1.1zM348.3 197.1h1.1v1.1h-1.1zM341.2 228.3h1.1v1.1h-1.1zM341.5 199.4h1.1v1.1h-1.1zM348.1 223.4h1.1v1.1h-1.1zM348.7 202.8h1.1v1.1h-1.1zM343.5 200.1h1.1v1.1h-1.1zM344.4 197.5h1.1v1.1h-1.1zM350.8 208.2h1.1v1.1h-1.1zM349.0 209.1h1.1v1.1h-1.1zM345.1 202.3h1.1v1.1h-1.1zM340.7 217.2h1.1v1.1h-1.1zM341.0 217.5h1.1v1.1h-1.1zM348.5 200.4h1.1v1.1h-1.1zM344.3 206.1h1.1v1.1h-1.1zM345.0 228.4h1.1v1.1h-1.1zM341.7 215.7h1.1v1.1h-1.1zM344.0 222.9h1.1v1.1h-1.1zM340.7 222.0h1.1v1.1h-1.1zM341.7 229.1h1.1v1.1h-1.1zM347.3 205.6h1.1v1.1h-1.1zM345.9 217.7h1.1v1.1h-1.1zM349.4 218.6h1.1v1.1h-1.1zM350.7 219.8h1.1v1.1h-1.1zM344.1 202.3h1.1v1.1h-1.1zM341.7 200.4h1.1v1.1h-1.1zM341.0 202.1h1.1v1.1h-1.1zM344.0 197.3h1.1v1.1h-1.1zM346.8 207.3h1.1v1.1h-1.1zM347.5 214.9h1.1v1.1h-1.1zM342.1 213.2h1.1v1.1h-1.1zM346.3 224.3h1.1v1.1h-1.1zM343.6 218.2h1.1v1.1h-1.1zM348.8 226.3h1.1v1.1h-1.1zM347.1 226.0h1.1v1.1h-1.1zM346.1 222.7h1.1v1.1h-1.1zM341.1 198.5h1.1v1.1h-1.1zM345.4 210.1h1.1v1.1h-1.1zM347.0 216.1h1.1v1.1h-1.1zM346.2 228.3h1.1v1.1h-1.1zM345.6 203.5h1.1v1.1h-1.1zM342.1 213.5h1.1v1.1h-1.1zM347.9 208.4h1.1v1.1h-1.1zM350.1 223.9h1.1v1.1h-1.1zM347.5 201.6h1.1v1.1h-1.1zM342.2 196.0h1.1v1.1h-1.1zM344.1 200.5h1.1v1.1h-1.1zM348.6 226.4h1.1v1.1h-1.1zM341.0 218.7h1.1v1.1h-1.1zM350.5 200.3h1.1v1.1h-1.1zM345.9 218.7h1.1v1.1h-1.1zM342.2 208.2h1.1v1.1h-1.1zM348.6 211.1h1.1v1.1h-1.1zM349.7 204.8h1.1v1.1h-1.1zM347.1 226.9h1.1v1.1h-1.1zM349.3 206.7h1.1v1.1h-1.1zM344.6 227.4h1.1v1.1h-1.1zM342.0 225.1h1.1v1.1h-1.1zM342.6 226.2h1.1v1.1h-1.1zM342.7 214.9h1.1v1.1h-1.1zM346.8 229.7h1.1v1.1h-1.1zM350.6 222.1h1.1v1.1h-1.1zM349.5 225.5h1.1v1.1h-1.1zM343.4 199.8h1.1v1.1h-1.1zM347.7 228.1h1.1v1.1h-1.1zM349.2 197.0h1.1v1.1h-1.1zM340.7 224.6h1.1v1.1h-1.1zM341.5 197.1h1.1v1.1h-1.1zM347.1 209.6h1.1v1.1h-1.1zM342.1 213.2h1.1v1.1h-1.1zM344.4 207.4h1.1v1.1h-1.1zM341.1 228.5h1.1v1.1h-1.1zM344.4 198.0h1.1v1.1h-1.1zM349.4 227.5h1.1v1.1h-1.1zM347.0 215.9h1.1v1.1h-1.1zM342.2 203.5h1.1v1.1h-1.1zM344.0 218.8h1.1v1.1h-1.1zM350.4 219.2h1.1v1.1h-1.1zM345.5 215.6h1.1v1.1h-1.1zM340.9 206.9h1.1v1.1h-1.1zM341.7 210.3h1.1v1.1h-1.1zM346.6 207.6h1.1v1.1h-1.1zM348.5 203.8h1.1v1.1h-1.1zM347.8 198.8h1.1v1.1h-1.1zM121.5 341.4h1.1v1.1h-1.1zM128.3 330.0h1.1v1.1h-1.1zM124.0 342.9h1.1v1.1h-1.1zM127.8 341.3h1.1v1.1h-1.1zM123.3 343.1h1.1v1.1h-1.1zM129.7 345.0h1.1v1.1h-1.1zM124.6 324.9h1.1v1.1h-1.1zM125.4 341.6h1.1v1.1h-1.1zM122.6 326.6h1.1v1.1h-1.1zM127.6 323.0h1.1v1.1h-1.1zM121.9 331.9h1.1v1.1h-1.1zM126.9 337.9h1.1v1.1h-1.1zM127.0 325.5h1.1v1.1h-1.1zM129.0 333.6h1.1v1.1h-1.1zM125.4 323.3h1.1v1.1h-1.1zM121.2 344.6h1.1v1.1h-1.1zM128.9 337.4h1.1v1.1h-1.1zM128.7 325.8h1.1v1.1h-1.1zM126.4 318.6h1.1v1.1h-1.1zM120.1 343.5h1.1v1.1h-1.1zM128.7 328.0h1.1v1.1h-1.1zM121.7 332.7h1.1v1.1h-1.1zM129.9 340.6h1.1v1.1h-1.1zM129.2 328.3h1.1v1.1h-1.1zM126.7 326.4h1.1v1.1h-1.1zM122.6 345.5h1.1v1.1h-1.1zM125.9 333.4h1.1v1.1h-1.1zM125.7 325.8h1.1v1.1h-1.1zM122.1 337.5h1.1v1.1h-1.1zM128.9 327.4h1.1v1.1h-1.1zM124.0 339.9h1.1v1.1h-1.1zM122.5 334.4h1.1v1.1h-1.1zM124.2 332.1h1.1v1.1h-1.1zM125.0 339.3h1.1v1.1h-1.1zM125.9 334.9h1.1v1.1h-1.1zM126.1 343.3h1.1v1.1h-1.1zM127.1 319.8h1.1v1.1h-1.1zM121.3 335.8h1.1v1.1h-1.1zM123.3 333.4h1.1v1.1h-1.1zM120.1 332.7h1.1v1.1h-1.1zM124.4 332.7h1.1v1.1h-1.1zM119.6 341.2h1.1v1.1h-1.1zM124.7 344.2h1.1v1.1h-1.1zM127.5 325.4h1.1v1.1h-1.1zM122.1 338.1h1.1v1.1h-1.1zM126.2 335.8h1.1v1.1h-1.1zM121.8 336.8h1.1v1.1h-1.1zM121.5 326.9h1.1v1.1h-1.1zM122.2 333.4h1.1v1.1h-1.1zM122.1 325.6h1.1v1.1h-1.1zM125.5 330.2h1.1v1.1h-1.1zM126.9 325.6h1.1v1.1h-1.1zM128.3 327.4h1.1v1.1h-1.1zM128.3 344.9h1.1v1.1h-1.1zM125.4 343.1h1.1v1.1h-1.1zM129.0 345.5h1.1v1.1h-1.1zM122.7 324.6h1.1v1.1h-1.1zM127.2 341.6h1.1v1.1h-1.1zM121.2 339.7h1.1v1.1h-1.1zM122.5 327.0h1.1v1.1h-1.1zM128.2 321.2h1.1v1.1h-1.1zM122.5 346.7h1.1v1.1h-1.1zM122.2 345.5h1.1v1.1h-1.1zM124.2 328.6h1.1v1.1h-1.1zM128.2 340.9h1.1v1.1h-1.1zM125.2 338.2h1.1v1.1h-1.1zM121.5 326.2h1.1v1.1h-1.1zM126.7 325.9h1.1v1.1h-1.1zM236.5 329.0h1.1v1.1h-1.1zM242.9 336.2h1.1v1.1h-1.1zM241.3 328.4h1.1v1.1h-1.1zM237.0 326.2h1.1v1.1h-1.1zM232.2 341.1h1.1v1.1h-1.1zM237.3 345.1h1.1v1.1h-1.1zM237.4 343.2h1.1v1.1h-1.1zM239.3 330.6h1.1v1.1h-1.1zM236.6 332.1h1.1v1.1h-1.1zM240.6 329.8h1.1v1.1h-1.1zM236.6 324.6h1.1v1.1h-1.1zM232.8 335.6h1.1v1.1h-1.1zM243.2 327.8h1.1v1.1h-1.1zM240.0 339.5h1.1v1.1h-1.1zM239.1 325.9h1.1v1.1h-1.1zM230.7 338.6h1.1v1.1h-1.1zM239.1 333.3h1.1v1.1h-1.1zM241.9 323.7h1.1v1.1h-1.1zM243.1 328.2h1.1v1.1h-1.1zM237.1 346.1h1.1v1.1h-1.1zM237.2 345.0h1.1v1.1h-1.1zM237.6 335.8h1.1v1.1h-1.1zM237.4 321.4h1.1v1.1h-1.1zM240.9 338.4h1.1v1.1h-1.1zM240.4 336.6h1.1v1.1h-1.1zM233.5 333.5h1.1v1.1h-1.1zM234.5 328.7h1.1v1.1h-1.1zM236.2 330.9h1.1v1.1h-1.1zM233.4 332.8h1.1v1.1h-1.1zM234.8 332.7h1.1v1.1h-1.1zM241.9 345.9h1.1v1.1h-1.1zM231.7 337.8h1.1v1.1h-1.1zM239.6 343.2h1.1v1.1h-1.1zM239.9 330.6h1.1v1.1h-1.1zM230.6 337.6h1.1v1.1h-1.1zM230.4 346.1h1.1v1.1h-1.1zM234.7 326.3h1.1v1.1h-1.1zM238.7 330.5h1.1v1.1h-1.1zM234.9 336.3h1.1v1.1h-1.1zM231.2 334.1h1.1v1.1h-1.1zM240.6 342.9h1.1v1.1h-1.1zM241.3 323.4h1.1v1.1h-1.1zM242.4 337.1h1.1v1.1h-1.1zM241.9 338.9h1.1v1.1h-1.1zM238.2 323.5h1.1v1.1h-1.1zM236.9 334.5h1.1v1.1h-1.1zM233.9 328.9h1.1v1.1h-1.1zM239.8 331.0h1.1v1.1h-1.1zM236.3 339.2h1.1v1.1h-1.1zM232.8 339.4h1.1v1.1h-1.1zM240.1 341.7h1.1v1.1h-1.1zM236.3 325.6h1.1v1.1h-1.1zM241.9 347.1h1.1v1.1h-1.1zM232.2 339.4h1.1v1.1h-1.1zM232.2 340.0h1.1v1.1h-1.1zM234.4 324.6h1.1v1.1h-1.1zM241.7 345.8h1.1v1.1h-1.1zM240.2 328.5h1.1v1.1h-1.1zM238.6 343.4h1.1v1.1h-1.1zM238.2 335.6h1.1v1.1h-1.1zM232.3 341.0h1.1v1.1h-1.1zM243.8 331.4h1.1v1.1h-1.1zM233.1 321.7h1.1v1.1h-1.1zM238.2 330.3h1.1v1.1h-1.1zM239.4 341.1h1.1v1.1h-1.1zM232.0 329.6h1.1v1.1h-1.1zM235.6 347.6h1.1v1.1h-1.1zM238.6 335.1h1.1v1.1h-1.1zM237.5 328.4h1.1v1.1h-1.1zM234.3 329.7h1.1v1.1h-1.1zM235.8 343.2h1.1v1.1h-1.1zM241.7 347.3h1.1v1.1h-1.1zM233.0 342.2h1.1v1.1h-1.1zM242.0 324.3h1.1v1.1h-1.1zM240.6 326.6h1.1v1.1h-1.1zM243.5 324.3h1.1v1.1h-1.1zM234.9 325.7h1.1v1.1h-1.1zM232.4 347.3h1.1v1.1h-1.1zM242.6 321.0h1.1v1.1h-1.1zM232.6 335.9h1.1v1.1h-1.1zM240.4 342.5h1.1v1.1h-1.1zM233.9 342.5h1.1v1.1h-1.1zM234.0 343.1h1.1v1.1h-1.1zM235.4 344.6h1.1v1.1h-1.1zM230.8 344.6h1.1v1.1h-1.1zM238.0 321.1h1.1v1.1h-1.1zM236.7 339.8h1.1v1.1h-1.1zM243.1 326.3h1.1v1.1h-1.1zM233.4 329.9h1.1v1.1h-1.1zM236.9 341.2h1.1v1.1h-1.1zM235.8 330.5h1.1v1.1h-1.1zM243.9 339.2h1.1v1.1h-1.1zM234.5 320.6h1.1v1.1h-1.1zM242.5 331.4h1.1v1.1h-1.1zM239.3 322.6h1.1v1.1h-1.1zM232.1 337.2h1.1v1.1h-1.1zM243.3 330.9h1.1v1.1h-1.1zM233.0 343.9h1.1v1.1h-1.1zM236.3 333.9h1.1v1.1h-1.1zM236.0 336.6h1.1v1.1h-1.1zM239.3 327.4h1.1v1.1h-1.1zM234.4 339.6h1.1v1.1h-1.1zM233.6 327.9h1.1v1.1h-1.1zM232.4 335.5h1.1v1.1h-1.1zM234.0 336.1h1.1v1.1h-1.1zM232.1 338.9h1.1v1.1h-1.1zM239.7 336.4h1.1v1.1h-1.1zM236.2 327.9h1.1v1.1h-1.1zM239.5 347.2h1.1v1.1h-1.1zM238.6 338.0h1.1v1.1h-1.1zM239.2 344.6h1.1v1.1h-1.1zM231.8 332.2h1.1v1.1h-1.1zM236.1 331.7h1.1v1.1h-1.1zM241.8 328.7h1.1v1.1h-1.1zM243.0 343.6h1.1v1.1h-1.1zM241.9 329.2h1.1v1.1h-1.1zM235.4 335.5h1.1v1.1h-1.1zM236.8 324.0h1.1v1.1h-1.1zM238.6 344.8h1.1v1.1h-1.1zM241.2 342.7h1.1v1.1h-1.1zM243.6 337.5h1.1v1.1h-1.1zM239.2 325.7h1.1v1.1h-1.1zM241.2 320.6h1.1v1.1h-1.1zM233.3 341.6h1.1v1.1h-1.1zM237.7 342.6h1.1v1.1h-1.1zM233.2 321.3h1.1v1.1h-1.1zM240.5 339.2h1.1v1.1h-1.1zM236.3 326.9h1.1v1.1h-1.1zM232.3 335.5h1.1v1.1h-1.1zM241.6 334.7h1.1v1.1h-1.1zM240.2 324.1h1.1v1.1h-1.1zM231.5 345.9h1.1v1.1h-1.1zM235.2 328.8h1.1v1.1h-1.1zM236.4 323.4h1.1v1.1h-1.1zM237.3 335.2h1.1v1.1h-1.1zM243.1 347.1h1.1v1.1h-1.1zM231.0 340.1h1.1v1.1h-1.1zM239.3 336.5h1.1v1.1h-1.1zM231.0 339.1h1.1v1.1h-1.1zM236.3 347.1h1.1v1.1h-1.1zM238.7 341.4h1.1v1.1h-1.1zM346.3 340.2h1.1v1.1h-1.1zM350.2 321.8h1.1v1.1h-1.1zM344.3 344.9h1.1v1.1h-1.1zM351.5 337.1h1.1v1.1h-1.1zM351.8 341.2h1.1v1.1h-1.1zM352.8 344.5h1.1v1.1h-1.1zM352.9 340.4h1.1v1.1h-1.1zM353.1 330.9h1.1v1.1h-1.1zM348.7 337.4h1.1v1.1h-1.1zM353.1 346.6h1.1v1.1h-1.1zM351.0 323.3h1.1v1.1h-1.1zM353.1 333.8h1.1v1.1h-1.1zM343.1 331.1h1.1v1.1h-1.1zM348.6 345.6h1.1v1.1h-1.1zM349.0 319.2h1.1v1.1h-1.1zM351.3 326.6h1.1v1.1h-1.1zM351.8 330.1h1.1v1.1h-1.1zM348.8 327.4h1.1v1.1h-1.1zM346.5 330.4h1.1v1.1h-1.1zM344.1 322.6h1.1v1.1h-1.1zM343.4 343.6h1.1v1.1h-1.1zM351.5 338.7h1.1v1.1h-1.1zM349.5 326.3h1.1v1.1h-1.1zM344.7 339.5h1.1v1.1h-1.1zM350.7 345.0h1.1v1.1h-1.1zM348.3 332.2h1.1v1.1h-1.1zM351.8 339.6h1.1v1.1h-1.1zM348.5 326.2h1.1v1.1h-1.1zM345.1 332.4h1.1v1.1h-1.1zM348.1 331.6h1.1v1.1h-1.1zM350.8 338.8h1.1v1.1h-1.1zM352.6 322.0h1.1v1.1h-1.1zM349.5 337.2h1.1v1.1h-1.1zM350.4 324.2h1.1v1.1h-1.1zM350.6 332.9h1.1v1.1h-1.1zM353.6 346.5h1.1v1.1h-1.1zM352.6 337.3h1.1v1.1h-1.1zM345.5 343.7h1.1v1.1h-1.1zM349.7 324.6h1.1v1.1h-1.1zM348.1 325.4h1.1v1.1h-1.1zM349.3 338.7h1.1v1.1h-1.1zM350.0 344.8h1.1v1.1h-1.1zM352.9 341.1h1.1v1.1h-1.1zM348.1 336.0h1.1v1.1h-1.1zM353.7 335.8h1.1v1.1h-1.1zM353.0 345.0h1.1v1.1h-1.1zM348.9 333.8h1.1v1.1h-1.1zM347.8 333.8h1.1v1.1h-1.1zM345.7 323.3h1.1v1.1h-1.1zM347.7 346.4h1.1v1.1h-1.1zM344.8 336.4h1.1v1.1h-1.1zM348.6 329.0h1.1v1.1h-1.1zM344.7 343.6h1.1v1.1h-1.1zM346.5 343.9h1.1v1.1h-1.1zM347.7 338.7h1.1v1.1h-1.1zM352.2 333.0h1.1v1.1h-1.1zM348.3 325.5h1.1v1.1h-1.1zM350.5 332.6h1.1v1.1h-1.1zM343.7 321.7h1.1v1.1h-1.1zM345.4 324.6h1.1v1.1h-1.1zM351.1 336.5h1.1v1.1h-1.1zM349.2 322.4h1.1v1.1h-1.1zM351.7 339.5h1.1v1.1h-1.1zM352.4 326.9h1.1v1.1h-1.1zM345.2 337.1h1.1v1.1h-1.1zM350.9 335.2h1.1v1.1h-1.1zM349.9 322.4h1.1v1.1h-1.1zM346.2 337.9h1.1v1.1h-1.1zM351.6 330.9h1.1v1.1h-1.1zM344.4 325.6h1.1v1.1h-1.1zM351.5 334.5h1.1v1.1h-1.1zM346.4 322.5h1.1v1.1h-1.1zM347.2 346.6h1.1v1.1h-1.1zM344.1 321.9h1.1v1.1h-1.1zM349.9 329.0h1.1v1.1h-1.1zM348.1 324.4h1.1v1.1h-1.1zM349.5 324.1h1.1v1.1h-1.1zM346.0 323.9h1.1v1.1h-1.1zM343.0 345.1h1.1v1.1h-1.1zM345.6 344.0h1.1v1.1h-1.1zM345.0 323.6h1.1v1.1h-1.1zM344.4 331.1h1.1v1.1h-1.1zM126.5 445.7h1.1v1.1h-1.1zM124.8 442.5h1.1v1.1h-1.1zM125.9 464.4h1.1v1.1h-1.1zM118.7 451.3h1.1v1.1h-1.1zM121.9 457.1h1.1v1.1h-1.1zM117.9 437.9h1.1v1.1h-1.1zM127.2 448.0h1.1v1.1h-1.1zM124.5 434.5h1.1v1.1h-1.1zM120.6 453.4h1.1v1.1h-1.1zM122.9 439.5h1.1v1.1h-1.1zM118.7 446.0h1.1v1.1h-1.1zM125.4 458.8h1.1v1.1h-1.1zM117.4 451.9h1.1v1.1h-1.1zM123.6 428.0h1.1v1.1h-1.1zM121.6 431.0h1.1v1.1h-1.1zM118.3 445.8h1.1v1.1h-1.1zM124.3 464.3h1.1v1.1h-1.1zM122.7 461.0h1.1v1.1h-1.1zM118.5 452.0h1.1v1.1h-1.1zM128.1 441.5h1.1v1.1h-1.1zM123.8 459.1h1.1v1.1h-1.1zM123.9 461.4h1.1v1.1h-1.1zM121.6 435.4h1.1v1.1h-1.1zM121.7 456.9h1.1v1.1h-1.1zM125.8 438.1h1.1v1.1h-1.1zM125.5 448.6h1.1v1.1h-1.1zM118.3 454.5h1.1v1.1h-1.1zM123.6 464.3h1.1v1.1h-1.1zM122.7 460.4h1.1v1.1h-1.1zM127.4 462.3h1.1v1.1h-1.1zM125.2 439.9h1.1v1.1h-1.1zM120.9 458.3h1.1v1.1h-1.1zM120.6 463.4h1.1v1.1h-1.1zM122.7 459.9h1.1v1.1h-1.1zM125.1 464.7h1.1v1.1h-1.1zM126.3 437.9h1.1v1.1h-1.1zM122.0 457.9h1.1v1.1h-1.1zM124.5 439.3h1.1v1.1h-1.1zM126.6 460.5h1.1v1.1h-1.1zM124.5 435.9h1.1v1.1h-1.1zM117.6 459.5h1.1v1.1h-1.1zM122.7 446.7h1.1v1.1h-1.1zM123.6 437.0h1.1v1.1h-1.1zM118.2 447.8h1.1v1.1h-1.1zM125.7 458.2h1.1v1.1h-1.1zM127.1 455.1h1.1v1.1h-1.1zM122.3 447.8h1.1v1.1h-1.1zM119.6 452.8h1.1v1.1h-1.1zM126.7 441.0h1.1v1.1h-1.1zM127.1 462.7h1.1v1.1h-1.1zM118.3 453.0h1.1v1.1h-1.1zM123.5 459.4h1.1v1.1h-1.1zM126.1 445.8h1.1v1.1h-1.1zM117.6 464.6h1.1v1.1h-1.1zM123.1 459.0h1.1v1.1h-1.1zM123.7 454.5h1.1v1.1h-1.1zM125.5 431.8h1.1v1.1h-1.1zM126.0 434.1h1.1v1.1h-1.1zM118.7 438.4h1.1v1.1h-1.1zM124.6 453.9h1.1v1.1h-1.1zM116.8 441.9h1.1v1.1h-1.1zM127.8 445.1h1.1v1.1h-1.1zM127.2 449.2h1.1v1.1h-1.1zM125.4 456.6h1.1v1.1h-1.1zM118.9 431.5h1.1v1.1h-1.1zM119.5 435.0h1.1v1.1h-1.1zM118.3 459.9h1.1v1.1h-1.1zM127.5 461.0h1.1v1.1h-1.1zM117.5 439.8h1.1v1.1h-1.1zM125.4 451.7h1.1v1.1h-1.1zM119.1 444.5h1.1v1.1h-1.1zM121.9 429.8h1.1v1.1h-1.1zM127.3 465.0h1.1v1.1h-1.1zM119.3 437.8h1.1v1.1h-1.1zM124.8 455.9h1.1v1.1h-1.1zM123.9 429.3h1.1v1.1h-1.1zM128.4 451.8h1.1v1.1h-1.1zM123.7 452.0h1.1v1.1h-1.1zM123.7 459.1h1.1v1.1h-1.1zM119.6 452.4h1.1v1.1h-1.1zM128.0 453.3h1.1v1.1h-1.1zM125.5 441.9h1.1v1.1h-1.1zM124.3 443.2h1.1v1.1h-1.1zM117.9 433.1h1.1v1.1h-1.1zM121.0 438.5h1.1v1.1h-1.1zM127.8 442.2h1.1v1.1h-1.1zM125.7 449.8h1.1v1.1h-1.1zM119.9 440.4h1.1v1.1h-1.1zM123.2 461.9h1.1v1.1h-1.1zM127.2 461.2h1.1v1.1h-1.1zM122.2 441.7h1.1v1.1h-1.1zM122.7 453.0h1.1v1.1h-1.1zM120.2 447.9h1.1v1.1h-1.1zM127.8 442.2h1.1v1.1h-1.1zM126.9 447.3h1.1v1.1h-1.1zM122.0 458.0h1.1v1.1h-1.1zM124.1 452.7h1.1v1.1h-1.1zM125.4 445.6h1.1v1.1h-1.1zM117.8 433.0h1.1v1.1h-1.1zM126.2 451.0h1.1v1.1h-1.1zM127.7 464.9h1.1v1.1h-1.1zM121.8 439.8h1.1v1.1h-1.1zM119.7 432.2h1.1v1.1h-1.1zM117.6 451.1h1.1v1.1h-1.1zM124.8 439.3h1.1v1.1h-1.1zM122.0 449.6h1.1v1.1h-1.1zM118.4 463.7h1.1v1.1h-1.1zM123.5 453.5h1.1v1.1h-1.1zM125.1 453.6h1.1v1.1h-1.1zM121.0 459.6h1.1v1.1h-1.1zM126.9 456.9h1.1v1.1h-1.1zM121.1 464.0h1.1v1.1h-1.1zM127.4 445.1h1.1v1.1h-1.1zM122.1 456.7h1.1v1.1h-1.1zM122.8 449.1h1.1v1.1h-1.1zM126.3 440.3h1.1v1.1h-1.1zM121.3 445.7h1.1v1.1h-1.1zM117.1 453.3h1.1v1.1h-1.1zM119.4 448.2h1.1v1.1h-1.1zM124.2 451.1h1.1v1.1h-1.1zM124.8 463.4h1.1v1.1h-1.1zM119.4 456.1h1.1v1.1h-1.1zM116.8 439.0h1.1v1.1h-1.1zM126.4 438.0h1.1v1.1h-1.1zM118.0 447.2h1.1v1.1h-1.1zM232.1 432.0h1.1v1.1h-1.1zM238.0 457.0h1.1v1.1h-1.1zM230.6 446.5h1.1v1.1h-1.1zM240.5 452.1h1.1v1.1h-1.1zM229.5 465.5h1.1v1.1h-1.1zM231.2 441.4h1.1v1.1h-1.1zM240.1 458.7h1.1v1.1h-1.1zM238.8 443.2h1.1v1.1h-1.1zM233.3 458.8h1.1v1.1h-1.1zM237.8 443.5h1.1v1.1h-1.1zM237.9 449.8h1.1v1.1h-1.1zM240.1 452.6h1.1v1.1h-1.1zM233.8 453.6h1.1v1.1h-1.1zM237.8 449.7h1.1v1.1h-1.1zM234.3 446.9h1.1v1.1h-1.1zM236.2 453.9h1.1v1.1h-1.1zM235.0 451.6h1.1v1.1h-1.1zM233.8 457.6h1.1v1.1h-1.1zM231.6 450.3h1.1v1.1h-1.1zM229.5 456.2h1.1v1.1h-1.1zM240.2 438.4h1.1v1.1h-1.1zM238.4 444.4h1.1v1.1h-1.1zM235.3 457.1h1.1v1.1h-1.1zM236.2 431.0h1.1v1.1h-1.1zM235.6 457.6h1.1v1.1h-1.1zM229.2 434.8h1.1v1.1h-1.1zM239.2 450.9h1.1v1.1h-1.1zM237.5 446.8h1.1v1.1h-1.1zM236.6 434.6h1.1v1.1h-1.1zM235.4 459.5h1.1v1.1h-1.1zM237.9 437.0h1.1v1.1h-1.1zM233.7 457.2h1.1v1.1h-1.1zM230.7 459.8h1.1v1.1h-1.1zM233.7 452.2h1.1v1.1h-1.1zM230.0 439.4h1.1v1.1h-1.1zM230.9 459.2h1.1v1.1h-1.1zM230.4 436.7h1.1v1.1h-1.1zM236.4 456.5h1.1v1.1h-1.1zM235.0 463.4h1.1v1.1h-1.1zM239.5 447.6h1.1v1.1h-1.1zM232.2 438.8h1.1v1.1h-1.1zM239.0 458.1h1.1v1.1h-1.1zM230.1 452.8h1.1v1.1h-1.1zM232.3 445.1h1.1v1.1h-1.1zM236.7 443.9h1.1v1.1h-1.1zM235.9 455.9h1.1v1.1h-1.1zM233.6 453.7h1.1v1.1h-1.1zM235.9 445.1h1.1v1.1h-1.1zM232.5 460.4h1.1v1.1h-1.1zM239.5 434.0h1.1v1.1h-1.1zM234.2 446.8h1.1v1.1h-1.1zM231.6 438.7h1.1v1.1h-1.1zM234.9 449.8h1.1v1.1h-1.1zM238.5 436.3h1.1v1.1h-1.1zM234.2 440.0h1.1v1.1h-1.1zM237.0 458.3h1.1v1.1h-1.1zM238.1 446.8h1.1v1.1h-1.1zM231.9 453.2h1.1v1.1h-1.1zM236.3 443.9h1.1v1.1h-1.1zM236.1 449.0h1.1v1.1h-1.1zM235.3 459.4h1.1v1.1h-1.1zM241.0 457.9h1.1v1.1h-1.1zM239.4 432.2h1.1v1.1h-1.1zM232.0 432.7h1.1v1.1h-1.1zM232.6 439.9h1.1v1.1h-1.1zM234.2 448.6h1.1v1.1h-1.1zM235.9 456.8h1.1v1.1h-1.1zM231.0 436.5h1.1v1.1h-1.1zM240.7 439.9h1.1v1.1h-1.1zM233.2 445.3h1.1v1.1h-1.1zM235.1 463.0h1.1v1.1h-1.1zM237.0 460.2h1.1v1.1h-1.1zM235.3 440.3h1.1v1.1h-1.1zM231.0 463.1h1.1v1.1h-1.1zM234.9 435.8h1.1v1.1h-1.1zM231.3 438.3h1.1v1.1h-1.1zM241.0 449.7h1.1v1.1h-1.1zM231.5 459.8h1.1v1.1h-1.1zM236.9 450.6h1.1v1.1h-1.1zM232.6 436.4h1.1v1.1h-1.1zM235.4 454.5h1.1v1.1h-1.1zM233.4 437.6h1.1v1.1h-1.1zM230.0 451.4h1.1v1.1h-1.1zM232.6 447.6h1.1v1.1h-1.1zM231.9 454.8h1.1v1.1h-1.1zM238.9 456.5h1.1v1.1h-1.1zM234.5 465.5h1.1v1.1h-1.1zM238.2 434.6h1.1v1.1h-1.1zM232.5 440.9h1.1v1.1h-1.1zM238.9 442.8h1.1v1.1h-1.1zM233.6 451.3h1.1v1.1h-1.1zM237.0 454.6h1.1v1.1h-1.1zM238.8 438.6h1.1v1.1h-1.1zM234.8 439.7h1.1v1.1h-1.1zM234.1 444.3h1.1v1.1h-1.1zM236.2 437.6h1.1v1.1h-1.1zM240.0 465.5h1.1v1.1h-1.1zM229.2 443.6h1.1v1.1h-1.1zM229.7 453.8h1.1v1.1h-1.1zM231.3 461.7h1.1v1.1h-1.1zM229.6 437.8h1.1v1.1h-1.1zM236.5 443.5h1.1v1.1h-1.1zM233.3 433.3h1.1v1.1h-1.1zM234.8 441.8h1.1v1.1h-1.1zM239.2 447.4h1.1v1.1h-1.1zM236.3 449.5h1.1v1.1h-1.1zM237.6 446.9h1.1v1.1h-1.1zM236.6 432.8h1.1v1.1h-1.1zM238.6 452.1h1.1v1.1h-1.1zM236.9 464.3h1.1v1.1h-1.1zM239.0 443.6h1.1v1.1h-1.1zM235.3 444.8h1.1v1.1h-1.1zM232.4 443.7h1.1v1.1h-1.1zM234.5 442.2h1.1v1.1h-1.1zM239.5 454.4h1.1v1.1h-1.1zM240.1 433.9h1.1v1.1h-1.1zM230.5 464.8h1.1v1.1h-1.1zM232.6 433.6h1.1v1.1h-1.1zM234.3 438.6h1.1v1.1h-1.1zM233.4 463.6h1.1v1.1h-1.1zM349.9 449.7h1.1v1.1h-1.1zM349.7 449.7h1.1v1.1h-1.1zM351.7 441.5h1.1v1.1h-1.1zM349.3 465.0h1.1v1.1h-1.1zM348.6 447.6h1.1v1.1h-1.1zM349.2 458.2h1.1v1.1h-1.1zM342.1 450.4h1.1v1.1h-1.1zM350.1 435.9h1.1v1.1h-1.1zM347.8 454.0h1.1v1.1h-1.1zM342.7 463.6h1.1v1.1h-1.1zM349.0 459.5h1.1v1.1h-1.1zM351.3 448.3h1.1v1.1h-1.1zM352.0 454.9h1.1v1.1h-1.1zM351.1 450.7h1.1v1.1h-1.1zM351.2 454.6h1.1v1.1h-1.1zM342.2 447.8h1.1v1.1h-1.1zM344.3 465.2h1.1v1.1h-1.1zM343.7 454.6h1.1v1.1h-1.1zM348.8 454.3h1.1v1.1h-1.1zM348.0 451.7h1.1v1.1h-1.1zM343.1 455.1h1.1v1.1h-1.1zM345.2 464.3h1.1v1.1h-1.1zM343.8 441.7h1.1v1.1h-1.1zM348.1 464.8h1.1v1.1h-1.1zM345.1 441.9h1.1v1.1h-1.1zM350.3 447.9h1.1v1.1h-1.1zM348.4 436.9h1.1v1.1h-1.1zM344.8 432.1h1.1v1.1h-1.1zM347.6 460.1h1.1v1.1h-1.1zM345.1 458.0h1.1v1.1h-1.1zM351.4 456.1h1.1v1.1h-1.1zM351.0 461.0h1.1v1.1h-1.1zM346.6 436.8h1.1v1.1h-1.1zM345.2 462.5h1.1v1.1h-1.1zM348.3 462.6h1.1v1.1h-1.1zM342.2 463.6h1.1v1.1h-1.1zM351.2 444.6h1.1v1.1h-1.1zM348.5 441.4h1.1v1.1h-1.1zM351.7 442.0h1.1v1.1h-1.1zM349.3 462.5h1.1v1.1h-1.1zM349.3 465.2h1.1v1.1h-1.1zM344.4 440.1h1.1v1.1h-1.1zM346.2 448.4h1.1v1.1h-1.1zM344.6 456.3h1.1v1.1h-1.1zM346.0 444.4h1.1v1.1h-1.1zM347.6 449.0h1.1v1.1h-1.1zM343.4 457.8h1.1v1.1h-1.1zM344.0 445.4h1.1v1.1h-1.1zM351.8 451.0h1.1v1.1h-1.1zM344.5 436.8h1.1v1.1h-1.1zM348.3 456.3h1.1v1.1h-1.1zM346.1 436.5h1.1v1.1h-1.1zM348.7 462.9h1.1v1.1h-1.1zM343.8 462.7h1.1v1.1h-1.1zM346.9 451.8h1.1v1.1h-1.1zM342.6 442.7h1.1v1.1h-1.1zM344.1 438.5h1.1v1.1h-1.1zM349.7 455.1h1.1v1.1h-1.1zM349.2 461.3h1.1v1.1h-1.1zM348.9 460.6h1.1v1.1h-1.1zM343.0 457.0h1.1v1.1h-1.1zM346.3 443.8h1.1v1.1h-1.1zM349.0 459.1h1.1v1.1h-1.1zM344.0 447.7h1.1v1.1h-1.1zM351.0 452.7h1.1v1.1h-1.1zM344.2 435.2h1.1v1.1h-1.1zM347.6 448.5h1.1v1.1h-1.1zM347.2 438.2h1.1v1.1h-1.1zM349.5 458.5h1.1v1.1h-1.1zM345.0 443.2h1.1v1.1h-1.1zM345.5 452.5h1.1v1.1h-1.1zM348.7 437.9h1.1v1.1h-1.1zM342.2 454.6h1.1v1.1h-1.1zM344.1 453.6h1.1v1.1h-1.1zM345.3 463.7h1.1v1.1h-1.1zM344.8 450.9h1.1v1.1h-1.1zM348.5 451.5h1.1v1.1h-1.1zM346.1 461.1h1.1v1.1h-1.1zM342.2 445.9h1.1v1.1h-1.1zM351.6 456.9h1.1v1.1h-1.1zM347.4 434.1h1.1v1.1h-1.1zM350.2 443.8h1.1v1.1h-1.1zM344.7 457.0h1.1v1.1h-1.1zM347.8 447.0h1.1v1.1h-1.1zM347.1 439.6h1.1v1.1h-1.1zM343.0 451.7h1.1v1.1h-1.1zM347.4 464.7h1.1v1.1h-1.1zM350.4 459.0h1.1v1.1h-1.1zM342.4 441.1h1.1v1.1h-1.1zM343.2 454.6h1.1v1.1h-1.1zM351.8 461.9h1.1v1.1h-1.1zM345.2 448.3h1.1v1.1h-1.1zM345.4 444.6h1.1v1.1h-1.1zM349.2 456.0h1.1v1.1h-1.1zM343.7 437.9h1.1v1.1h-1.1zM347.5 446.7h1.1v1.1h-1.1zM343.0 456.8h1.1v1.1h-1.1zM344.3 435.2h1.1v1.1h-1.1zM343.7 462.8h1.1v1.1h-1.1zM347.8 457.4h1.1v1.1h-1.1zM345.9 437.8h1.1v1.1h-1.1zM346.5 451.5h1.1v1.1h-1.1zM350.2 455.6h1.1v1.1h-1.1zM348.7 449.9h1.1v1.1h-1.1zM343.3 449.4h1.1v1.1h-1.1zM347.8 451.1h1.1v1.1h-1.1zM343.0 457.4h1.1v1.1h-1.1zM348.3 458.0h1.1v1.1h-1.1zM349.0 429.8h1.1v1.1h-1.1zM347.4 445.1h1.1v1.1h-1.1zM347.6 462.3h1.1v1.1h-1.1zM345.7 442.5h1.1v1.1h-1.1zM349.1 447.3h1.1v1.1h-1.1zM351.3 444.0h1.1v1.1h-1.1zM345.9 440.0h1.1v1.1h-1.1zM347.2 453.5h1.1v1.1h-1.1zM345.2 450.8h1.1v1.1h-1.1zM343.9 457.9h1.1v1.1h-1.1zM350.9 445.2h1.1v1.1h-1.1zM343.0 455.7h1.1v1.1h-1.1zM351.8 440.1h1.1v1.1h-1.1zM351.6 445.0h1.1v1.1h-1.1zM341.6 447.6h1.1v1.1h-1.1zM344.9 450.9h1.1v1.1h-1.1zM351.0 444.9h1.1v1.1h-1.1zM352.5 438.4h1.1v1.1h-1.1zM350.1 431.2h1.1v1.1h-1.1zM349.4 452.7h1.1v1.1h-1.1zM343.2 450.6h1.1v1.1h-1.1zM348.0 430.2h1.1v1.1h-1.1zM344.3 465.0h1.1v1.1h-1.1zM348.5 456.7h1.1v1.1h-1.1zM342.7 449.6h1.1v1.1h-1.1zM350.2 443.6h1.1v1.1h-1.1zM343.4 464.7h1.1v1.1h-1.1zM343.4 459.0h1.1v1.1h-1.1z"/>
<path fill="#a29d9c" d="M119.7 98.2h1.1v1.1h-1.1zM122.1 109.4h1.1v1.1h-1.1zM128.7 96.9h1.1v1.1h-1.1zM125.9 101.8h1.1v1.1h-1.1zM123.1 102.2h1.1v1.1h-1.1zM121.7 94.0h1.1v1.1h-1.1zM130.0 96.8h1.1v1.1h-1.1zM123.1 100.9h1.1v1.1h-1.1zM124.4 95.6h1.1v1.1h-1.1zM121.0 101.4h1.1v1.1h-1.1zM127.9 109.8h1.1v1.1h-1.1zM122.3 106.7h1.1v1.1h-1.1zM126.6 99.8h1.1v1.1h-1.1zM123.2 91.6h1.1v1.1h-1.1zM128.9 92.2h1.1v1.1h-1.1zM121.9 97.1h1.1v1.1h-1.1zM126.3 111.3h1.1v1.1h-1.1zM119.8 99.7h1.1v1.1h-1.1zM122.8 111.9h1.1v1.1h-1.1zM119.5 108.2h1.1v1.1h-1.1zM130.1 101.1h1.1v1.1h-1.1zM123.7 88.8h1.1v1.1h-1.1zM128.7 104.5h1.1v1.1h-1.1zM122.7 109.2h1.1v1.1h-1.1zM130.0 93.9h1.1v1.1h-1.1zM119.5 109.7h1.1v1.1h-1.1zM125.8 99.2h1.1v1.1h-1.1zM127.6 92.9h1.1v1.1h-1.1zM128.3 101.3h1.1v1.1h-1.1zM123.8 93.3h1.1v1.1h-1.1zM124.3 109.0h1.1v1.1h-1.1zM129.6 96.9h1.1v1.1h-1.1zM125.3 92.9h1.1v1.1h-1.1zM125.7 112.7h1.1v1.1h-1.1zM130.1 107.9h1.1v1.1h-1.1zM122.3 100.6h1.1v1.1h-1.1zM129.0 96.7h1.1v1.1h-1.1zM128.6 106.7h1.1v1.1h-1.1zM125.2 100.9h1.1v1.1h-1.1zM129.4 111.9h1.1v1.1h-1.1zM121.5 101.1h1.1v1.1h-1.1zM127.9 98.2h1.1v1.1h-1.1zM120.8 211.6h1.1v1.1h-1.1zM116.9 226.4h1.1v1.1h-1.1zM125.5 201.0h1.1v1.1h-1.1zM123.3 219.9h1.1v1.1h-1.1zM123.6 208.4h1.1v1.1h-1.1zM125.2 198.5h1.1v1.1h-1.1zM121.0 224.4h1.1v1.1h-1.1zM126.4 213.9h1.1v1.1h-1.1zM121.2 227.6h1.1v1.1h-1.1zM123.3 214.8h1.1v1.1h-1.1zM116.3 213.7h1.1v1.1h-1.1zM117.8 207.1h1.1v1.1h-1.1zM125.2 195.9h1.1v1.1h-1.1zM114.5 227.9h1.1v1.1h-1.1zM124.7 204.0h1.1v1.1h-1.1zM116.2 204.1h1.1v1.1h-1.1zM126.3 204.8h1.1v1.1h-1.1zM116.2 215.7h1.1v1.1h-1.1zM122.4 227.7h1.1v1.1h-1.1zM119.5 195.2h1.1v1.1h-1.1zM126.3 215.6h1.1v1.1h-1.1zM122.8 219.3h1.1v1.1h-1.1zM119.1 213.1h1.1v1.1h-1.1zM114.8 209.4h1.1v1.1h-1.1zM117.0 222.7h1.1v1.1h-1.1zM118.2 229.4h1.1v1.1h-1.1zM122.2 219.8h1.1v1.1h-1.1zM125.8 229.2h1.1v1.1h-1.1zM114.7 228.3h1.1v1.1h-1.1zM123.1 215.9h1.1v1.1h-1.1zM115.9 212.8h1.1v1.1h-1.1zM118.3 207.7h1.1v1.1h-1.1zM126.7 213.0h1.1v1.1h-1.1zM125.2 201.5h1.1v1.1h-1.1zM121.6 201.9h1.1v1.1h-1.1zM125.9 213.3h1.1v1.1h-1.1zM119.9 220.1h1.1v1.1h-1.1zM113.4 218.7h1.1v1.1h-1.1zM118.2 215.3h1.1v1.1h-1.1zM117.2 204.3h1.1v1.1h-1.1zM119.3 200.2h1.1v1.1h-1.1zM122.1 208.2h1.1v1.1h-1.1zM117.9 207.5h1.1v1.1h-1.1zM124.3 228.3h1.1v1.1h-1.1zM121.1 204.2h1.1v1.1h-1.1zM120.9 212.9h1.1v1.1h-1.1zM115.2 224.9h1.1v1.1h-1.1zM121.0 221.3h1.1v1.1h-1.1zM121.5 222.5h1.1v1.1h-1.1zM123.8 209.5h1.1v1.1h-1.1zM124.9 220.2h1.1v1.1h-1.1zM120.8 196.7h1.1v1.1h-1.1zM112.7 223.4h1.1v1.1h-1.1zM126.2 222.7h1.1v1.1h-1.1zM119.5 200.4h1.1v1.1h-1.1zM121.3 203.6h1.1v1.1h-1.1zM120.8 220.7h1.1v1.1h-1.1zM119.2 218.5h1.1v1.1h-1.1zM118.3 221.5h1.1v1.1h-1.1zM113.9 222.6h1.1v1.1h-1.1zM125.8 205.3h1.1v1.1h-1.1zM121.6 211.1h1.1v1.1h-1.1zM120.6 217.4h1.1v1.1h-1.1zM121.4 211.9h1.1v1.1h-1.1zM120.3 207.6h1.1v1.1h-1.1zM122.9 203.9h1.1v1.1h-1.1zM121.7 214.5h1.1v1.1h-1.1zM118.7 201.5h1.1v1.1h-1.1zM114.5 227.9h1.1v1.1h-1.1zM126.0 223.7h1.1v1.1h-1.1zM125.0 203.9h1.1v1.1h-1.1zM118.5 208.8h1.1v1.1h-1.1zM120.3 211.3h1.1v1.1h-1.1zM124.3 225.7h1.1v1.1h-1.1zM122.3 194.5h1.1v1.1h-1.1zM126.6 205.5h1.1v1.1h-1.1zM118.8 212.1h1.1v1.1h-1.1zM120.3 227.2h1.1v1.1h-1.1zM125.5 198.8h1.1v1.1h-1.1zM120.7 209.9h1.1v1.1h-1.1zM113.5 223.4h1.1v1.1h-1.1zM123.6 228.6h1.1v1.1h-1.1zM112.4 227.0h1.1v1.1h-1.1zM122.9 194.8h1.1v1.1h-1.1zM123.6 204.3h1.1v1.1h-1.1zM118.9 209.3h1.1v1.1h-1.1zM117.5 217.9h1.1v1.1h-1.1zM125.7 202.4h1.1v1.1h-1.1zM123.7 225.6h1.1v1.1h-1.1zM118.1 217.7h1.1v1.1h-1.1zM113.2 221.1h1.1v1.1h-1.1zM236.7 209.5h1.1v1.1h-1.1zM235.0 209.1h1.1v1.1h-1.1zM234.9 221.1h1.1v1.1h-1.1zM233.7 225.1h1.1v1.1h-1.1zM237.1 227.1h1.1v1.1h-1.1zM232.5 200.1h1.1v1.1h-1.1zM230.5 206.8h1.1v1.1h-1.1zM230.7 225.7h1.1v1.1h-1.1zM229.4 227.7h1.1v1.1h-1.1zM238.8 216.7h1.1v1.1h-1.1zM229.9 198.4h1.1v1.1h-1.1zM236.8 202.4h1.1v1.1h-1.1zM238.3 225.9h1.1v1.1h-1.1zM232.6 208.1h1.1v1.1h-1.1zM228.8 229.7h1.1v1.1h-1.1zM229.5 229.4h1.1v1.1h-1.1zM230.6 206.7h1.1v1.1h-1.1zM229.4 217.8h1.1v1.1h-1.1zM230.7 220.4h1.1v1.1h-1.1zM234.5 216.9h1.1v1.1h-1.1zM236.8 216.5h1.1v1.1h-1.1zM233.4 217.0h1.1v1.1h-1.1zM232.0 213.8h1.1v1.1h-1.1zM229.4 218.3h1.1v1.1h-1.1zM228.1 204.5h1.1v1.1h-1.1zM232.3 214.6h1.1v1.1h-1.1zM233.6 198.3h1.1v1.1h-1.1zM231.3 211.6h1.1v1.1h-1.1zM233.1 214.8h1.1v1.1h-1.1zM237.2 213.1h1.1v1.1h-1.1zM235.5 220.9h1.1v1.1h-1.1zM235.9 225.8h1.1v1.1h-1.1zM233.7 205.5h1.1v1.1h-1.1zM231.0 216.7h1.1v1.1h-1.1zM237.7 209.2h1.1v1.1h-1.1zM233.5 207.0h1.1v1.1h-1.1zM229.1 199.0h1.1v1.1h-1.1zM238.2 200.8h1.1v1.1h-1.1zM228.5 208.9h1.1v1.1h-1.1zM234.5 226.0h1.1v1.1h-1.1zM344.8 206.6h1.1v1.1h-1.1zM341.8 203.0h1.1v1.1h-1.1zM346.0 209.9h1.1v1.1h-1.1zM349.5 209.3h1.1v1.1h-1.1zM346.4 196.4h1.1v1.1h-1.1zM348.1 203.0h1.1v1.1h-1.1zM346.1 221.3h1.1v1.1h-1.1zM344.0 216.0h1.1v1.1h-1.1zM349.1 218.2h1.1v1.1h-1.1zM343.6 206.1h1.1v1.1h-1.1zM345.4 209.7h1.1v1.1h-1.1zM344.7 203.0h1.1v1.1h-1.1zM340.8 197.1h1.1v1.1h-1.1zM348.8 204.7h1.1v1.1h-1.1zM341.2 212.4h1.1v1.1h-1.1zM346.5 221.3h1.1v1.1h-1.1zM348.4 211.6h1.1v1.1h-1.1zM342.2 198.6h1.1v1.1h-1.1zM343.8 208.2h1.1v1.1h-1.1zM346.4 201.1h1.1v1.1h-1.1zM341.9 209.3h1.1v1.1h-1.1zM350.7 229.5h1.1v1.1h-1.1zM341.1 226.9h1.1v1.1h-1.1zM342.9 214.9h1.1v1.1h-1.1zM348.3 216.7h1.1v1.1h-1.1zM341.3 219.3h1.1v1.1h-1.1zM346.5 210.5h1.1v1.1h-1.1zM341.5 200.0h1.1v1.1h-1.1zM343.0 222.3h1.1v1.1h-1.1zM342.7 226.0h1.1v1.1h-1.1zM341.7 224.8h1.1v1.1h-1.1zM341.9 208.4h1.1v1.1h-1.1zM340.8 200.7h1.1v1.1h-1.1zM343.7 214.1h1.1v1.1h-1.1zM344.8 199.4h1.1v1.1h-1.1zM346.7 204.6h1.1v1.1h-1.1zM345.6 223.0h1.1v1.1h-1.1zM345.7 203.7h1.1v1.1h-1.1zM347.3 221.8h1.1v1.1h-1.1zM346.3 228.9h1.1v1.1h-1.1zM342.6 207.2h1.1v1.1h-1.1zM345.7 227.0h1.1v1.1h-1.1zM348.5 226.3h1.1v1.1h-1.1zM350.4 208.9h1.1v1.1h-1.1zM342.1 207.8h1.1v1.1h-1.1zM346.6 225.3h1.1v1.1h-1.1zM340.8 200.0h1.1v1.1h-1.1zM345.1 215.2h1.1v1.1h-1.1zM346.3 207.0h1.1v1.1h-1.1zM345.2 215.3h1.1v1.1h-1.1zM341.0 212.6h1.1v1.1h-1.1zM343.7 212.5h1.1v1.1h-1.1zM350.2 199.5h1.1v1.1h-1.1zM343.1 229.6h1.1v1.1h-1.1zM347.6 211.9h1.1v1.1h-1.1zM343.9 210.6h1.1v1.1h-1.1zM129.6 339.1h1.1v1.1h-1.1zM125.4 320.9h1.1v1.1h-1.1zM121.7 330.3h1.1v1.1h-1.1zM127.3 326.5h1.1v1.1h-1.1zM120.4 337.3h1.1v1.1h-1.1zM124.9 320.1h1.1v1.1h-1.1zM122.5 339.0h1.1v1.1h-1.1zM123.9 337.6h1.1v1.1h-1.1zM123.6 324.6h1.1v1.1h-1.1zM121.4 334.3h1.1v1.1h-1.1zM125.2 331.4h1.1v1.1h-1.1zM121.0 339.9h1.1v1.1h-1.1zM126.2 338.4h1.1v1.1h-1.1zM129.3 325.0h1.1v1.1h-1.1zM125.2 334.0h1.1v1.1h-1.1zM120.2 335.9h1.1v1.1h-1.1zM128.6 330.2h1.1v1.1h-1.1zM125.3 341.1h1.1v1.1h-1.1zM124.6 333.0h1.1v1.1h-1.1zM128.5 330.9h1.1v1.1h-1.1zM123.4 331.7h1.1v1.1h-1.1zM123.0 345.5h1.1v1.1h-1.1zM125.4 343.5h1.1v1.1h-1.1zM129.5 325.5h1.1v1.1h-1.1zM125.0 322.6h1.1v1.1h-1.1zM119.4 344.6h1.1v1.1h-1.1zM121.9 340.6h1.1v1.1h-1.1zM120.7 326.8h1.1v1.1h-1.1zM119.7 347.1h1.1v1.1h-1.1zM122.2 332.9h1.1v1.1h-1.1zM128.6 333.4h1.1v1.1h-1.1zM120.0 342.1h1.1v1.1h-1.1zM121.3 342.9h1.1v1.1h-1.1zM129.1 339.2h1.1v1.1h-1.1zM236.5 336.9h1.1v1.1h-1.1zM231.2 332.7h1.1v1.1h-1.1zM238.4 345.4h1.1v1.1h-1.1zM238.1 332.0h1.1v1.1h-1.1zM243.3 345.8h1.1v1.1h-1.1zM233.4 333.5h1.1v1.1h-1.1zM236.8 337.1h1.1v1.1h-1.1zM238.9 325.9h1.1v1.1h-1.1zM239.7 336.5h1.1v1.1h-1.1zM232.3 327.8h1.1v1.1h-1.1zM238.2 330.4h1.1v1.1h-1.1zM237.6 334.8h1.1v1.1h-1.1zM231.7 339.1h1.1v1.1h-1.1zM237.7 338.7h1.1v1.1h-1.1zM240.2 341.4h1.1v1.1h-1.1zM230.9 342.1h1.1v1.1h-1.1zM238.4 347.4h1.1v1.1h-1.1zM235.8 347.4h1.1v1.1h-1.1zM236.2 337.1h1.1v1.1h-1.1zM241.4 346.8h1.1v1.1h-1.1zM237.9 346.0h1.1v1.1h-1.1zM241.4 337.5h1.1v1.1h-1.1zM230.9 342.7h1.1v1.1h-1.1zM241.1 329.1h1.1v1.1h-1.1zM231.1 344.5h1.1v1.1h-1.1zM237.0 347.3h1.1v1.1h-1.1zM241.7 328.2h1.1v1.1h-1.1zM240.7 332.2h1.1v1.1h-1.1zM233.6 338.2h1.1v1.1h-1.1zM232.0 347.5h1.1v1.1h-1.1zM234.5 344.2h1.1v1.1h-1.1zM234.0 341.7h1.1v1.1h-1.1zM237.3 335.4h1.1v1.1h-1.1zM232.5 337.5h1.1v1.1h-1.1zM233.4 321.8h1.1v1.1h-1.1zM237.1 321.5h1.1v1.1h-1.1zM237.0 328.2h1.1v1.1h-1.1zM240.9 331.5h1.1v1.1h-1.1zM232.5 344.8h1.1v1.1h-1.1zM240.0 337.2h1.1v1.1h-1.1zM243.1 325.1h1.1v1.1h-1.1zM240.2 324.5h1.1v1.1h-1.1zM233.8 328.9h1.1v1.1h-1.1zM237.7 321.6h1.1v1.1h-1.1zM237.4 332.2h1.1v1.1h-1.1zM238.9 335.4h1.1v1.1h-1.1zM241.0 344.7h1.1v1.1h-1.1zM230.5 345.7h1.1v1.1h-1.1zM241.7 342.4h1.1v1.1h-1.1zM231.9 344.5h1.1v1.1h-1.1zM241.9 330.6h1.1v1.1h-1.1zM242.3 331.4h1.1v1.1h-1.1zM243.2 343.8h1.1v1.1h-1.1zM241.2 347.2h1.1v1.1h-1.1zM230.8 338.5h1.1v1.1h-1.1zM241.8 336.7h1.1v1.1h-1.1zM230.4 346.5h1.1v1.1h-1.1zM239.1 347.6h1.1v1.1h-1.1zM241.3 330.4h1.1v1.1h-1.1zM237.5 338.7h1.1v1.1h-1.1zM353.2 335.0h1.1v1.1h-1.1zM346.8 334.3h1.1v1.1h-1.1zM348.8 325.0h1.1v1.1h-1.1zM351.3 327.3h1.1v1.1h-1.1zM349.9 326.5h1.1v1.1h-1.1zM347.9 334.6h1.1v1.1h-1.1zM352.5 337.2h1.1v1.1h-1.1zM344.8 338.4h1.1v1.1h-1.1zM345.3 328.6h1.1v1.1h-1.1zM343.7 324.6h1.1v1.1h-1.1zM348.3 330.1h1.1v1.1h-1.1zM348.8 337.5h1.1v1.1h-1.1zM346.9 336.8h1.1v1.1h-1.1zM348.0 338.9h1.1v1.1h-1.1zM345.7 346.0h1.1v1.1h-1.1zM345.1 346.4h1.1v1.1h-1.1zM348.2 329.0h1.1v1.1h-1.1zM353.9 332.7h1.1v1.1h-1.1zM350.8 346.7h1.1v1.1h-1.1zM352.6 340.7h1.1v1.1h-1.1zM346.6 338.5h1.1v1.1h-1.1zM353.9 343.1h1.1v1.1h-1.1zM350.4 343.5h1.1v1.1h-1.1zM347.1 340.6h1.1v1.1h-1.1zM348.1 326.4h1.1v1.1h-1.1zM349.6 323.7h1.1v1.1h-1.1zM351.2 343.1h1.1v1.1h-1.1zM349.0 344.3h1.1v1.1h-1.1zM345.2 341.8h1.1v1.1h-1.1zM346.2 333.6h1.1v1.1h-1.1zM352.3 320.3h1.1v1.1h-1.1zM352.5 323.1h1.1v1.1h-1.1zM353.8 340.3h1.1v1.1h-1.1zM347.4 331.2h1.1v1.1h-1.1zM351.4 327.4h1.1v1.1h-1.1zM353.4 328.7h1.1v1.1h-1.1zM344.2 327.2h1.1v1.1h-1.1zM350.1 344.7h1.1v1.1h-1.1zM346.8 326.7h1.1v1.1h-1.1zM351.6 323.0h1.1v1.1h-1.1zM352.3 333.7h1.1v1.1h-1.1zM344.5 335.3h1.1v1.1h-1.1zM343.4 339.8h1.1v1.1h-1.1zM343.5 345.1h1.1v1.1h-1.1zM345.2 344.7h1.1v1.1h-1.1zM122.7 444.9h1.1v1.1h-1.1zM125.6 432.0h1.1v1.1h-1.1zM127.8 448.4h1.1v1.1h-1.1zM119.2 430.6h1.1v1.1h-1.1zM124.4 438.9h1.1v1.1h-1.1zM120.0 437.8h1.1v1.1h-1.1zM121.8 443.0h1.1v1.1h-1.1zM127.8 451.3h1.1v1.1h-1.1zM125.4 438.0h1.1v1.1h-1.1zM120.8 449.1h1.1v1.1h-1.1zM120.3 447.1h1.1v1.1h-1.1zM125.4 464.1h1.1v1.1h-1.1zM127.9 439.8h1.1v1.1h-1.1zM118.0 436.4h1.1v1.1h-1.1zM122.5 460.4h1.1v1.1h-1.1zM128.1 460.3h1.1v1.1h-1.1zM121.7 456.9h1.1v1.1h-1.1zM120.1 430.9h1.1v1.1h-1.1zM123.6 455.1h1.1v1.1h-1.1zM127.4 439.8h1.1v1.1h-1.1zM119.2 438.9h1.1v1.1h-1.1zM126.8 450.0h1.1v1.1h-1.1zM125.0 435.7h1.1v1.1h-1.1zM124.9 446.7h1.1v1.1h-1.1zM123.6 454.3h1.1v1.1h-1.1zM124.0 460.7h1.1v1.1h-1.1zM126.8 456.4h1.1v1.1h-1.1zM117.9 433.3h1.1v1.1h-1.1zM118.6 436.0h1.1v1.1h-1.1zM121.1 465.2h1.1v1.1h-1.1zM125.6 461.9h1.1v1.1h-1.1zM122.9 432.1h1.1v1.1h-1.1zM127.2 444.9h1.1v1.1h-1.1zM118.4 444.2h1.1v1.1h-1.1zM122.3 434.5h1.1v1.1h-1.1zM124.9 440.9h1.1v1.1h-1.1zM126.9 450.1h1.1v1.1h-1.1zM123.3 442.2h1.1v1.1h-1.1zM120.8 461.1h1.1v1.1h-1.1zM118.7 449.4h1.1v1.1h-1.1zM126.1 448.1h1.1v1.1h-1.1zM117.4 449.5h1.1v1.1h-1.1zM125.0 457.2h1.1v1.1h-1.1zM120.2 431.6h1.1v1.1h-1.1zM119.1 445.8h1.1v1.1h-1.1zM123.7 460.3h1.1v1.1h-1.1zM123.5 461.4h1.1v1.1h-1.1zM122.7 428.3h1.1v1.1h-1.1zM125.5 447.2h1.1v1.1h-1.1zM117.6 452.8h1.1v1.1h-1.1zM126.9 465.0h1.1v1.1h-1.1zM125.2 462.0h1.1v1.1h-1.1zM117.6 451.3h1.1v1.1h-1.1zM118.4 452.1h1.1v1.1h-1.1zM123.9 431.5h1.1v1.1h-1.1zM125.5 447.8h1.1v1.1h-1.1zM125.8 443.8h1.1v1.1h-1.1zM122.1 459.0h1.1v1.1h-1.1zM118.0 447.2h1.1v1.1h-1.1zM124.8 442.1h1.1v1.1h-1.1zM124.5 434.9h1.1v1.1h-1.1zM118.9 451.7h1.1v1.1h-1.1zM119.6 454.3h1.1v1.1h-1.1zM125.1 428.4h1.1v1.1h-1.1zM117.7 435.1h1.1v1.1h-1.1zM119.4 449.2h1.1v1.1h-1.1zM123.2 448.7h1.1v1.1h-1.1zM124.6 441.0h1.1v1.1h-1.1zM125.0 450.4h1.1v1.1h-1.1zM122.3 443.9h1.1v1.1h-1.1zM232.8 449.3h1.1v1.1h-1.1zM235.0 449.2h1.1v1.1h-1.1zM239.3 435.0h1.1v1.1h-1.1zM239.2 454.8h1.1v1.1h-1.1zM233.5 458.3h1.1v1.1h-1.1zM239.5 445.7h1.1v1.1h-1.1zM234.0 446.8h1.1v1.1h-1.1zM234.1 444.5h1.1v1.1h-1.1zM239.0 461.6h1.1v1.1h-1.1zM240.3 461.9h1.1v1.1h-1.1zM229.9 441.9h1.1v1.1h-1.1zM238.0 457.3h1.1v1.1h-1.1zM240.4 461.8h1.1v1.1h-1.1zM232.0 441.7h1.1v1.1h-1.1zM236.2 434.5h1.1v1.1h-1.1zM232.5 456.0h1.1v1.1h-1.1zM233.8 436.6h1.1v1.1h-1.1zM234.5 448.3h1.1v1.1h-1.1zM232.2 443.1h1.1v1.1h-1.1zM234.1 448.5h1.1v1.1h-1.1zM231.5 463.4h1.1v1.1h-1.1zM237.5 444.2h1.1v1.1h-1.1zM235.0 433.0h1.1v1.1h-1.1zM231.7 436.6h1.1v1.1h-1.1zM231.3 461.9h1.1v1.1h-1.1zM231.5 451.1h1.1v1.1h-1.1zM231.1 462.6h1.1v1.1h-1.1zM232.4 442.9h1.1v1.1h-1.1zM239.0 439.9h1.1v1.1h-1.1zM238.8 432.5h1.1v1.1h-1.1zM231.0 436.2h1.1v1.1h-1.1zM235.7 464.7h1.1v1.1h-1.1zM238.8 432.2h1.1v1.1h-1.1zM235.6 433.4h1.1v1.1h-1.1zM236.1 444.2h1.1v1.1h-1.1zM233.2 465.8h1.1v1.1h-1.1zM231.7 462.3h1.1v1.1h-1.1zM233.5 454.4h1.1v1.1h-1.1zM233.9 462.3h1.1v1.1h-1.1zM234.2 440.3h1.1v1.1h-1.1zM238.5 442.4h1.1v1.1h-1.1zM241.2 447.4h1.1v1.1h-1.1zM236.9 431.6h1.1v1.1h-1.1zM230.2 458.1h1.1v1.1h-1.1zM234.2 454.9h1.1v1.1h-1.1zM239.2 452.3h1.1v1.1h-1.1zM236.3 435.9h1.1v1.1h-1.1zM230.4 463.0h1.1v1.1h-1.1zM231.1 460.9h1.1v1.1h-1.1zM230.1 449.0h1.1v1.1h-1.1zM231.6 453.2h1.1v1.1h-1.1zM231.7 442.5h1.1v1.1h-1.1zM231.3 460.2h1.1v1.1h-1.1zM236.9 433.7h1.1v1.1h-1.1zM232.9 451.3h1.1v1.1h-1.1zM344.2 453.5h1.1v1.1h-1.1zM348.7 463.3h1.1v1.1h-1.1zM351.4 436.5h1.1v1.1h-1.1zM346.6 450.7h1.1v1.1h-1.1zM342.8 463.3h1.1v1.1h-1.1zM347.1 445.6h1.1v1.1h-1.1zM349.8 452.4h1.1v1.1h-1.1zM348.5 447.3h1.1v1.1h-1.1zM352.4 440.2h1.1v1.1h-1.1zM343.3 448.8h1.1v1.1h-1.1zM342.8 458.7h1.1v1.1h-1.1zM346.5 458.7h1.1v1.1h-1.1zM350.1 464.8h1.1v1.1h-1.1zM352.6 450.5h1.1v1.1h-1.1zM346.2 440.5h1.1v1.1h-1.1zM350.6 456.5h1.1v1.1h-1.1zM347.0 455.6h1.1v1.1h-1.1zM343.5 445.5h1.1v1.1h-1.1zM351.2 458.8h1.1v1.1h-1.1zM348.5 445.6h1.1v1.1h-1.1zM344.0 455.0h1.1v1.1h-1.1zM351.4 441.1h1.1v1.1h-1.1zM347.6 443.6h1.1v1.1h-1.1zM346.7 452.2h1.1v1.1h-1.1zM345.8 459.1h1.1v1.1h-1.1zM344.3 432.5h1.1v1.1h-1.1zM350.5 441.4h1.1v1.1h-1.1zM350.9 450.9h1.1v1.1h-1.1zM348.1 446.2h1.1v1.1h-1.1zM351.8 453.7h1.1v1.1h-1.1zM345.0 445.9h1.1v1.1h-1.1zM343.5 453.1h1.1v1.1h-1.1zM348.0 440.7h1.1v1.1h-1.1zM343.9 431.6h1.1v1.1h-1.1zM351.1 435.4h1.1v1.1h-1.1zM344.5 449.7h1.1v1.1h-1.1zM348.2 450.9h1.1v1.1h-1.1zM351.6 433.6h1.1v1.1h-1.1zM351.7 448.5h1.1v1.1h-1.1zM343.8 442.5h1.1v1.1h-1.1zM349.5 442.3h1.1v1.1h-1.1zM344.4 431.8h1.1v1.1h-1.1zM348.6 441.5h1.1v1.1h-1.1zM347.7 447.5h1.1v1.1h-1.1zM351.3 451.3h1.1v1.1h-1.1zM346.8 464.3h1.1v1.1h-1.1zM349.5 437.2h1.1v1.1h-1.1zM350.3 455.9h1.1v1.1h-1.1zM352.0 446.4h1.1v1.1h-1.1zM351.1 440.8h1.1v1.1h-1.1zM351.3 461.9h1.1v1.1h-1.1zM344.3 449.5h1.1v1.1h-1.1zM344.7 438.7h1.1v1.1h-1.1zM344.5 461.9h1.1v1.1h-1.1zM347.2 456.3h1.1v1.1h-1.1zM342.7 448.4h1.1v1.1h-1.1zM344.9 462.2h1.1v1.1h-1.1zM342.6 443.4h1.1v1.1h-1.1zM342.5 457.0h1.1v1.1h-1.1zM346.4 453.3h1.1v1.1h-1.1z"/>
<path fill="#cdc8c8" d="M95.5 108.5h1.1v1.1h-1.1zM108.9 103.9h1.1v1.1h-1.1zM117.6 105.2h1.1v1.1h-1.1zM105.1 108.8h1.1v1.1h-1.1zM115.5 105.8h1.1v1.1h-1.1zM104.2 103.1h1.1v1.1h-1.1zM106.0 107.7h1.1v1.1h-1.1zM102.2 102.1h1.1v1.1h-1.1zM108.2 102.0h1.1v1.1h-1.1zM102.9 108.8h1.1v1.1h-1.1zM124.7 85.9h1.1v1.1h-1.1zM122.7 83.1h1.1v1.1h-1.1zM122.0 82.8h1.1v1.1h-1.1zM123.3 86.7h1.1v1.1h-1.1zM120.9 89.7h1.1v1.1h-1.1zM235.8 92.2h1.1v1.1h-1.1zM235.4 88.8h1.1v1.1h-1.1zM236.3 89.7h1.1v1.1h-1.1zM236.9 92.6h1.1v1.1h-1.1zM237.3 94.4h1.1v1.1h-1.1zM239.0 90.5h1.1v1.1h-1.1zM238.5 88.9h1.1v1.1h-1.1zM231.2 48.7h1.1v1.1h-1.1zM221.7 75.4h1.1v1.1h-1.1zM227.9 85.4h1.1v1.1h-1.1zM230.5 88.0h1.1v1.1h-1.1zM217.5 49.1h1.1v1.1h-1.1zM218.0 72.5h1.1v1.1h-1.1zM217.8 78.6h1.1v1.1h-1.1zM226.3 57.6h1.1v1.1h-1.1zM115.3 187.3h1.1v1.1h-1.1zM102.3 213.0h1.1v1.1h-1.1zM125.8 177.1h1.1v1.1h-1.1zM128.8 190.7h1.1v1.1h-1.1zM109.4 210.2h1.1v1.1h-1.1zM126.3 220.2h1.1v1.1h-1.1zM124.0 206.2h1.1v1.1h-1.1zM116.5 169.9h1.1v1.1h-1.1zM113.2 173.1h1.1v1.1h-1.1zM126.1 186.4h1.1v1.1h-1.1zM116.8 173.0h1.1v1.1h-1.1zM123.1 181.0h1.1v1.1h-1.1zM223.3 216.0h1.1v1.1h-1.1zM218.2 202.3h1.1v1.1h-1.1zM208.0 213.7h1.1v1.1h-1.1zM207.5 191.4h1.1v1.1h-1.1zM222.9 196.0h1.1v1.1h-1.1zM226.6 212.8h1.1v1.1h-1.1zM203.9 210.9h1.1v1.1h-1.1zM222.8 198.0h1.1v1.1h-1.1zM226.2 207.6h1.1v1.1h-1.1zM213.1 193.7h1.1v1.1h-1.1zM202.3 207.7h1.1v1.1h-1.1zM225.4 207.8h1.1v1.1h-1.1zM214.3 208.6h1.1v1.1h-1.1zM223.9 216.3h1.1v1.1h-1.1zM214.2 193.5h1.1v1.1h-1.1zM201.2 222.2h1.1v1.1h-1.1zM217.3 207.1h1.1v1.1h-1.1zM216.2 218.4h1.1v1.1h-1.1zM204.4 207.2h1.1v1.1h-1.1zM220.7 224.1h1.1v1.1h-1.1zM217.3 220.9h1.1v1.1h-1.1zM216.5 221.2h1.1v1.1h-1.1zM218.8 228.7h1.1v1.1h-1.1zM210.5 226.6h1.1v1.1h-1.1zM213.1 211.4h1.1v1.1h-1.1zM319.5 222.4h1.1v1.1h-1.1zM325.9 201.9h1.1v1.1h-1.1zM330.0 223.2h1.1v1.1h-1.1zM317.9 216.6h1.1v1.1h-1.1zM313.4 217.7h1.1v1.1h-1.1zM316.7 209.8h1.1v1.1h-1.1zM323.4 216.3h1.1v1.1h-1.1zM318.2 216.8h1.1v1.1h-1.1zM322.4 199.6h1.1v1.1h-1.1zM320.5 206.7h1.1v1.1h-1.1zM323.0 222.2h1.1v1.1h-1.1zM329.7 212.5h1.1v1.1h-1.1zM320.9 221.5h1.1v1.1h-1.1zM313.4 213.2h1.1v1.1h-1.1zM318.8 201.7h1.1v1.1h-1.1zM325.4 219.2h1.1v1.1h-1.1zM327.2 208.5h1.1v1.1h-1.1zM319.5 213.3h1.1v1.1h-1.1zM314.6 199.9h1.1v1.1h-1.1zM312.6 215.4h1.1v1.1h-1.1zM316.6 225.5h1.1v1.1h-1.1zM329.2 203.4h1.1v1.1h-1.1zM318.5 221.3h1.1v1.1h-1.1zM317.5 208.8h1.1v1.1h-1.1zM331.7 204.7h1.1v1.1h-1.1zM125.0 296.3h1.4v1.4h-1.4zM222.6 339.2h1.1v1.1h-1.1zM227.3 338.5h1.1v1.1h-1.1zM228.6 324.9h1.1v1.1h-1.1zM221.5 343.7h1.1v1.1h-1.1zM230.1 339.9h1.1v1.1h-1.1zM225.7 335.3h1.1v1.1h-1.1zM222.6 332.8h1.1v1.1h-1.1zM224.7 343.3h1.1v1.1h-1.1zM222.8 346.7h1.1v1.1h-1.1zM226.3 335.5h1.1v1.1h-1.1zM230.3 341.8h1.1v1.1h-1.1zM228.3 332.7h1.1v1.1h-1.1zM225.7 344.0h1.1v1.1h-1.1zM224.7 332.9h1.1v1.1h-1.1zM222.5 335.3h1.1v1.1h-1.1zM224.4 324.2h1.1v1.1h-1.1zM222.6 332.6h1.1v1.1h-1.1zM222.9 335.8h1.1v1.1h-1.1zM88.3 440.1h1.1v1.1h-1.1zM68.2 459.0h1.1v1.1h-1.1zM98.4 454.7h1.1v1.1h-1.1zM66.2 446.5h1.1v1.1h-1.1zM83.7 458.5h1.1v1.1h-1.1zM81.9 434.3h1.1v1.1h-1.1zM92.6 448.5h1.1v1.1h-1.1zM75.5 451.4h1.1v1.1h-1.1zM73.2 452.1h1.1v1.1h-1.1zM74.8 433.8h1.1v1.1h-1.1zM95.1 435.4h1.1v1.1h-1.1zM84.5 440.8h1.1v1.1h-1.1zM73.9 436.8h1.1v1.1h-1.1zM81.8 448.4h1.1v1.1h-1.1zM83.2 457.1h1.1v1.1h-1.1zM86.0 437.6h1.1v1.1h-1.1zM91.3 435.5h1.1v1.1h-1.1zM94.3 440.9h1.1v1.1h-1.1zM73.4 444.1h1.1v1.1h-1.1zM86.3 439.7h1.1v1.1h-1.1zM102.3 451.5h1.1v1.1h-1.1zM79.5 454.6h1.1v1.1h-1.1zM223.3 443.3h1.1v1.1h-1.1zM217.6 455.5h1.1v1.1h-1.1zM219.3 445.0h1.1v1.1h-1.1zM221.7 441.2h1.1v1.1h-1.1zM218.7 451.1h1.1v1.1h-1.1zM227.5 439.1h1.1v1.1h-1.1zM215.4 456.1h1.1v1.1h-1.1zM216.1 443.3h1.1v1.1h-1.1zM226.1 447.7h1.1v1.1h-1.1zM216.7 446.5h1.1v1.1h-1.1zM220.8 454.9h1.1v1.1h-1.1zM224.2 460.1h1.1v1.1h-1.1zM218.9 458.0h1.1v1.1h-1.1zM222.0 452.8h1.1v1.1h-1.1zM229.2 438.4h1.1v1.1h-1.1zM222.5 436.3h1.1v1.1h-1.1zM229.3 451.9h1.1v1.1h-1.1zM224.9 448.8h1.1v1.1h-1.1zM215.5 444.4h1.1v1.1h-1.1zM225.7 461.1h1.1v1.1h-1.1zM228.4 436.1h1.1v1.1h-1.1zM218.9 459.5h1.1v1.1h-1.1zM215.6 465.1h1.1v1.1h-1.1zM226.9 442.8h1.1v1.1h-1.1zM228.9 454.6h1.1v1.1h-1.1zM214.6 436.4h1.1v1.1h-1.1zM216.8 444.3h1.1v1.1h-1.1zM219.3 461.7h1.1v1.1h-1.1zM224.0 459.0h1.1v1.1h-1.1zM214.5 456.8h1.1v1.1h-1.1zM226.4 455.7h1.1v1.1h-1.1zM228.7 445.6h1.1v1.1h-1.1zM216.0 463.2h1.1v1.1h-1.1zM224.1 436.7h1.1v1.1h-1.1zM221.9 447.0h1.1v1.1h-1.1zM220.4 442.0h1.1v1.1h-1.1zM218.1 450.0h1.1v1.1h-1.1zM228.4 464.5h1.1v1.1h-1.1zM227.3 442.3h1.1v1.1h-1.1zM227.9 458.9h1.1v1.1h-1.1zM226.0 440.7h1.1v1.1h-1.1zM221.1 408.1h1.1v1.1h-1.1zM219.9 414.3h1.1v1.1h-1.1zM217.8 411.7h1.1v1.1h-1.1zM216.9 411.3h1.1v1.1h-1.1zM348.8 392.8h1.4v1.4h-1.4zM322.5 447.6h1.1v1.1h-1.1zM335.3 464.3h1.1v1.1h-1.1zM334.1 427.9h1.1v1.1h-1.1zM340.7 447.8h1.1v1.1h-1.1zM330.0 434.0h1.1v1.1h-1.1zM329.2 442.3h1.1v1.1h-1.1zM338.5 446.1h1.1v1.1h-1.1zM320.0 455.7h1.1v1.1h-1.1zM322.5 443.8h1.1v1.1h-1.1zM330.2 455.6h1.1v1.1h-1.1zM322.2 458.7h1.1v1.1h-1.1zM327.3 443.9h1.1v1.1h-1.1zM336.3 458.3h1.1v1.1h-1.1zM341.1 425.5h1.1v1.1h-1.1z"/>
<path fill="#e0507a" d="M127.7 89.7h1.1v1.1h-1.1zM129.8 90.2h1.1v1.1h-1.1zM127.3 87.6h1.1v1.1h-1.1zM130.1 85.5h1.1v1.1h-1.1zM126.6 88.3h1.1v1.1h-1.1z"/>
<path fill="#e6163f" d="M236.6 62.8h1.1v1.1h-1.1zM234.9 64.1h1.1v1.1h-1.1zM234.7 64.5h1.1v1.1h-1.1zM236.9 62.4h1.1v1.1h-1.1zM235.8 79.1h1.1v1.1h-1.1zM234.1 59.1h1.1v1.1h-1.1zM235.8 47.4h1.1v1.1h-1.1zM233.5 67.5h1.1v1.1h-1.1zM238.7 70.5h1.1v1.1h-1.1zM233.5 45.8h1.1v1.1h-1.1zM233.8 78.5h1.1v1.1h-1.1zM234.7 55.9h1.1v1.1h-1.1zM235.6 55.5h1.1v1.1h-1.1zM233.6 69.1h1.1v1.1h-1.1zM238.2 53.2h1.1v1.1h-1.1zM233.7 57.8h1.1v1.1h-1.1zM232.9 52.5h1.1v1.1h-1.1zM236.7 41.2h1.1v1.1h-1.1zM232.5 52.0h1.1v1.1h-1.1zM234.8 73.5h1.1v1.1h-1.1zM236.5 46.1h1.1v1.1h-1.1zM235.8 44.2h1.1v1.1h-1.1zM234.7 71.1h1.1v1.1h-1.1zM236.1 71.5h1.1v1.1h-1.1zM234.6 41.3h1.1v1.1h-1.1zM238.1 58.0h1.1v1.1h-1.1zM236.8 51.7h1.1v1.1h-1.1zM234.6 71.0h1.1v1.1h-1.1zM238.2 46.7h1.1v1.1h-1.1zM234.2 39.9h1.1v1.1h-1.1zM233.8 53.3h1.1v1.1h-1.1zM234.0 77.0h1.1v1.1h-1.1zM237.8 50.5h1.1v1.1h-1.1zM237.1 59.0h1.1v1.1h-1.1zM232.9 44.0h1.1v1.1h-1.1zM234.7 70.1h1.1v1.1h-1.1zM233.3 47.7h1.1v1.1h-1.1zM235.7 50.0h1.1v1.1h-1.1zM236.3 82.8h1.1v1.1h-1.1zM236.7 76.2h1.1v1.1h-1.1zM235.0 80.0h1.1v1.1h-1.1zM237.0 52.0h1.1v1.1h-1.1zM237.6 75.8h1.1v1.1h-1.1zM238.4 70.3h1.1v1.1h-1.1zM237.5 44.7h1.1v1.1h-1.1zM238.8 70.3h1.1v1.1h-1.1zM234.5 75.3h1.1v1.1h-1.1zM238.0 65.7h1.1v1.1h-1.1zM237.8 69.4h1.1v1.1h-1.1zM234.4 63.0h1.1v1.1h-1.1zM238.6 46.1h1.1v1.1h-1.1zM233.0 47.2h1.1v1.1h-1.1zM236.6 59.3h1.1v1.1h-1.1zM238.1 59.9h1.1v1.1h-1.1zM234.9 60.3h1.1v1.1h-1.1zM233.0 69.0h1.1v1.1h-1.1zM234.2 62.4h1.1v1.1h-1.1zM235.8 47.4h1.1v1.1h-1.1zM235.8 67.1h1.1v1.1h-1.1zM236.5 47.1h1.1v1.1h-1.1zM233.9 42.6h1.1v1.1h-1.1zM235.8 66.8h1.1v1.1h-1.1zM236.7 41.4h1.1v1.1h-1.1zM233.5 66.2h1.1v1.1h-1.1zM236.5 56.8h1.1v1.1h-1.1zM237.2 82.1h1.1v1.1h-1.1zM235.5 79.2h1.1v1.1h-1.1zM237.7 43.0h1.1v1.1h-1.1zM235.6 50.5h1.1v1.1h-1.1zM236.2 39.0h1.1v1.1h-1.1zM234.2 72.5h1.1v1.1h-1.1zM238.0 45.4h1.1v1.1h-1.1zM235.0 69.0h1.1v1.1h-1.1zM234.5 40.0h1.1v1.1h-1.1zM236.3 55.7h1.1v1.1h-1.1zM234.5 87.7h1.1v1.1h-1.1zM237.5 72.1h1.1v1.1h-1.1zM235.4 55.6h1.1v1.1h-1.1zM233.9 56.4h1.1v1.1h-1.1zM234.6 60.4h1.1v1.1h-1.1zM233.0 67.1h1.1v1.1h-1.1zM232.7 51.8h1.1v1.1h-1.1zM233.4 48.6h1.1v1.1h-1.1zM238.5 47.7h1.1v1.1h-1.1zM237.1 48.4h1.1v1.1h-1.1zM235.6 54.9h1.1v1.1h-1.1zM233.9 74.5h1.1v1.1h-1.1zM236.0 59.1h1.1v1.1h-1.1zM234.0 54.3h1.1v1.1h-1.1zM238.8 53.5h1.1v1.1h-1.1zM233.4 85.5h1.1v1.1h-1.1zM234.0 56.1h1.1v1.1h-1.1zM233.6 55.9h1.1v1.1h-1.1zM234.9 62.9h1.1v1.1h-1.1zM237.9 83.6h1.1v1.1h-1.1zM234.4 69.7h1.1v1.1h-1.1zM236.3 48.5h1.1v1.1h-1.1zM238.3 66.5h1.1v1.1h-1.1zM234.7 79.5h1.1v1.1h-1.1zM235.2 72.2h1.1v1.1h-1.1zM238.8 47.0h1.1v1.1h-1.1zM238.8 87.3h1.1v1.1h-1.1zM232.9 46.6h1.1v1.1h-1.1zM236.2 39.4h1.1v1.1h-1.1zM234.1 49.6h1.1v1.1h-1.1zM236.4 82.4h1.1v1.1h-1.1zM237.2 72.5h1.1v1.1h-1.1zM234.3 74.9h1.1v1.1h-1.1zM236.2 63.6h1.1v1.1h-1.1zM234.3 74.3h1.1v1.1h-1.1zM233.4 57.3h1.1v1.1h-1.1zM235.8 54.6h1.1v1.1h-1.1zM239.1 63.8h1.1v1.1h-1.1zM234.7 56.9h1.1v1.1h-1.1zM236.2 54.3h1.1v1.1h-1.1zM236.1 64.5h1.1v1.1h-1.1zM238.4 70.2h1.1v1.1h-1.1zM234.5 44.1h1.1v1.1h-1.1zM232.3 64.5h1.1v1.1h-1.1zM237.8 60.4h1.1v1.1h-1.1zM233.8 56.5h1.1v1.1h-1.1zM233.7 66.6h1.1v1.1h-1.1zM232.7 49.8h1.1v1.1h-1.1zM236.5 59.2h1.1v1.1h-1.1zM234.0 56.5h1.1v1.1h-1.1zM236.9 73.9h1.1v1.1h-1.1zM236.2 56.8h1.1v1.1h-1.1zM235.8 67.7h1.1v1.1h-1.1zM237.7 62.4h1.1v1.1h-1.1zM237.7 65.9h1.1v1.1h-1.1zM234.1 79.0h1.1v1.1h-1.1zM236.3 72.4h1.1v1.1h-1.1zM236.7 45.1h1.1v1.1h-1.1zM234.4 50.9h1.1v1.1h-1.1zM232.6 50.8h1.1v1.1h-1.1zM234.3 65.9h1.1v1.1h-1.1zM237.7 54.4h1.1v1.1h-1.1zM238.0 67.9h1.1v1.1h-1.1zM232.9 59.7h1.1v1.1h-1.1zM235.6 66.0h1.1v1.1h-1.1zM233.7 48.4h1.1v1.1h-1.1zM238.3 71.1h1.1v1.1h-1.1zM237.9 73.1h1.1v1.1h-1.1zM238.5 45.5h1.1v1.1h-1.1zM236.5 70.3h1.1v1.1h-1.1zM237.1 42.4h1.1v1.1h-1.1zM235.2 40.5h1.1v1.1h-1.1zM233.8 77.7h1.1v1.1h-1.1zM236.3 61.3h1.1v1.1h-1.1zM235.0 67.0h1.1v1.1h-1.1zM233.3 62.0h1.1v1.1h-1.1zM235.8 65.1h1.1v1.1h-1.1zM235.2 56.4h1.1v1.1h-1.1zM238.0 82.9h1.1v1.1h-1.1zM237.6 72.8h1.1v1.1h-1.1zM234.5 57.6h1.1v1.1h-1.1zM237.5 49.6h1.1v1.1h-1.1zM233.1 58.9h1.1v1.1h-1.1zM233.6 45.5h1.1v1.1h-1.1zM238.5 62.8h1.1v1.1h-1.1zM238.1 69.6h1.1v1.1h-1.1zM237.9 77.8h1.1v1.1h-1.1zM238.2 49.5h1.1v1.1h-1.1zM238.1 67.9h1.1v1.1h-1.1zM235.4 59.1h1.1v1.1h-1.1zM234.1 52.4h1.1v1.1h-1.1zM237.6 78.7h1.1v1.1h-1.1zM238.0 55.9h1.1v1.1h-1.1zM233.6 47.4h1.1v1.1h-1.1zM239.0 63.7h1.1v1.1h-1.1zM238.4 69.6h1.1v1.1h-1.1zM237.3 56.7h1.1v1.1h-1.1zM238.0 87.1h1.1v1.1h-1.1zM236.6 82.9h1.1v1.1h-1.1zM236.4 70.9h1.1v1.1h-1.1zM233.5 72.6h1.1v1.1h-1.1zM236.0 55.3h1.1v1.1h-1.1zM233.6 53.6h1.1v1.1h-1.1zM235.2 50.9h1.1v1.1h-1.1zM234.3 77.1h1.1v1.1h-1.1zM234.2 72.0h1.1v1.1h-1.1zM234.2 52.3h1.1v1.1h-1.1zM238.7 66.6h1.1v1.1h-1.1zM236.5 65.7h1.1v1.1h-1.1zM238.7 53.1h1.1v1.1h-1.1zM237.3 57.9h1.1v1.1h-1.1zM238.0 55.4h1.1v1.1h-1.1zM235.8 83.5h1.1v1.1h-1.1zM236.2 67.3h1.1v1.1h-1.1zM237.2 82.1h1.1v1.1h-1.1zM234.8 79.6h1.1v1.1h-1.1zM233.0 55.9h1.1v1.1h-1.1zM234.8 69.7h1.1v1.1h-1.1zM238.0 78.8h1.1v1.1h-1.1zM236.4 55.3h1.1v1.1h-1.1zM238.0 65.0h1.1v1.1h-1.1zM235.1 74.5h1.1v1.1h-1.1zM232.7 54.5h1.1v1.1h-1.1zM235.6 72.4h1.1v1.1h-1.1zM237.0 52.1h1.1v1.1h-1.1zM235.0 74.3h1.1v1.1h-1.1zM233.2 53.5h1.1v1.1h-1.1zM233.5 61.0h1.1v1.1h-1.1zM233.9 79.4h1.1v1.1h-1.1zM235.3 59.6h1.1v1.1h-1.1zM233.0 67.2h1.1v1.1h-1.1zM234.2 64.6h1.1v1.1h-1.1zM234.6 70.1h1.1v1.1h-1.1zM233.6 67.8h1.1v1.1h-1.1zM233.5 73.5h1.1v1.1h-1.1zM237.3 58.3h1.1v1.1h-1.1zM238.4 61.6h1.1v1.1h-1.1zM237.7 57.5h1.1v1.1h-1.1zM233.9 78.8h1.1v1.1h-1.1zM238.0 73.9h1.1v1.1h-1.1zM237.6 84.1h1.1v1.1h-1.1zM237.8 69.2h1.1v1.1h-1.1zM232.5 52.5h1.1v1.1h-1.1zM234.6 42.8h1.1v1.1h-1.1zM234.2 37.9h1.1v1.1h-1.1zM236.2 60.6h1.1v1.1h-1.1zM238.1 82.4h1.1v1.1h-1.1zM237.8 64.9h1.1v1.1h-1.1zM235.9 45.8h1.1v1.1h-1.1zM234.8 87.1h1.1v1.1h-1.1zM239.1 51.1h1.1v1.1h-1.1zM237.5 72.9h1.1v1.1h-1.1zM235.0 72.7h1.1v1.1h-1.1zM237.1 71.1h1.1v1.1h-1.1zM236.1 44.9h1.1v1.1h-1.1zM233.9 76.9h1.1v1.1h-1.1zM233.4 60.3h1.1v1.1h-1.1zM237.6 49.1h1.1v1.1h-1.1zM236.1 45.7h1.1v1.1h-1.1zM236.3 57.2h1.1v1.1h-1.1zM238.2 81.2h1.1v1.1h-1.1zM235.3 77.7h1.1v1.1h-1.1zM235.6 78.0h1.1v1.1h-1.1zM233.7 80.2h1.1v1.1h-1.1zM233.7 73.8h1.1v1.1h-1.1zM233.8 64.3h1.1v1.1h-1.1zM235.5 51.1h1.1v1.1h-1.1zM232.4 62.0h1.1v1.1h-1.1zM236.1 61.8h1.1v1.1h-1.1zM233.1 41.9h1.1v1.1h-1.1zM238.1 75.9h1.1v1.1h-1.1zM237.9 62.0h1.1v1.1h-1.1zM234.2 48.7h1.1v1.1h-1.1zM237.2 58.4h1.1v1.1h-1.1zM236.7 79.9h1.1v1.1h-1.1zM235.1 74.1h1.1v1.1h-1.1zM236.3 44.7h1.1v1.1h-1.1zM234.9 46.4h1.1v1.1h-1.1zM235.8 51.5h1.1v1.1h-1.1zM233.9 63.6h1.1v1.1h-1.1zM238.0 47.5h1.1v1.1h-1.1zM234.4 50.7h1.1v1.1h-1.1zM235.7 75.1h1.1v1.1h-1.1zM236.0 77.6h1.1v1.1h-1.1zM234.6 49.3h1.1v1.1h-1.1zM234.4 49.1h1.1v1.1h-1.1zM236.7 59.0h1.1v1.1h-1.1zM234.1 73.5h1.1v1.1h-1.1zM238.6 45.6h1.1v1.1h-1.1zM238.9 70.2h1.1v1.1h-1.1zM236.8 50.5h1.1v1.1h-1.1zM235.9 47.7h1.1v1.1h-1.1zM236.6 38.7h1.1v1.1h-1.1zM235.1 64.2h1.1v1.1h-1.1zM233.2 41.8h1.1v1.1h-1.1zM234.0 55.0h1.1v1.1h-1.1zM235.0 45.4h1.1v1.1h-1.1zM236.8 78.6h1.1v1.1h-1.1zM233.9 77.7h1.1v1.1h-1.1zM233.1 47.4h1.1v1.1h-1.1zM237.8 59.3h1.1v1.1h-1.1zM236.6 52.3h1.1v1.1h-1.1zM234.3 53.6h1.1v1.1h-1.1zM237.7 53.5h1.1v1.1h-1.1zM235.5 47.8h1.1v1.1h-1.1zM233.5 64.6h1.1v1.1h-1.1zM233.8 50.7h1.1v1.1h-1.1zM236.5 76.7h1.1v1.1h-1.1zM236.0 83.8h1.1v1.1h-1.1zM235.8 60.1h1.1v1.1h-1.1zM233.4 52.4h1.1v1.1h-1.1zM233.9 64.9h1.1v1.1h-1.1zM234.2 54.9h1.1v1.1h-1.1zM237.2 52.3h1.1v1.1h-1.1zM237.9 86.4h1.1v1.1h-1.1zM234.9 45.5h1.1v1.1h-1.1zM238.0 47.1h1.1v1.1h-1.1zM238.0 54.5h1.1v1.1h-1.1zM233.2 56.0h1.1v1.1h-1.1zM238.6 75.6h1.1v1.1h-1.1zM235.1 50.5h1.1v1.1h-1.1zM237.9 70.8h1.1v1.1h-1.1zM235.4 81.9h1.1v1.1h-1.1zM233.0 49.2h1.1v1.1h-1.1zM237.1 61.9h1.1v1.1h-1.1zM237.0 43.1h1.1v1.1h-1.1zM235.3 48.2h1.1v1.1h-1.1zM236.3 84.2h1.1v1.1h-1.1zM237.2 42.3h1.1v1.1h-1.1zM238.6 48.9h1.1v1.1h-1.1zM237.5 53.2h1.1v1.1h-1.1zM239.1 71.6h1.1v1.1h-1.1zM237.8 66.0h1.1v1.1h-1.1zM237.2 45.1h1.1v1.1h-1.1zM235.7 51.8h1.1v1.1h-1.1zM237.5 55.1h1.1v1.1h-1.1zM238.3 46.8h1.1v1.1h-1.1zM233.1 60.0h1.1v1.1h-1.1zM238.9 61.3h1.1v1.1h-1.1zM235.0 47.7h1.1v1.1h-1.1zM233.7 49.0h1.1v1.1h-1.1zM238.2 62.1h1.1v1.1h-1.1zM233.6 47.8h1.1v1.1h-1.1zM234.7 55.6h1.1v1.1h-1.1zM237.0 74.6h1.1v1.1h-1.1zM236.8 52.5h1.1v1.1h-1.1zM237.4 56.2h1.1v1.1h-1.1zM233.6 58.0h1.1v1.1h-1.1zM235.4 54.4h1.1v1.1h-1.1zM236.5 64.7h1.1v1.1h-1.1zM234.2 68.7h1.1v1.1h-1.1zM238.1 51.9h1.1v1.1h-1.1zM237.8 47.6h1.1v1.1h-1.1zM237.8 50.9h1.1v1.1h-1.1zM238.3 84.5h1.1v1.1h-1.1zM234.2 87.3h1.1v1.1h-1.1zM234.0 69.9h1.1v1.1h-1.1zM235.0 57.5h1.1v1.1h-1.1zM233.3 46.8h1.1v1.1h-1.1zM232.3 64.7h1.1v1.1h-1.1zM233.4 66.3h1.1v1.1h-1.1zM237.4 64.0h1.1v1.1h-1.1zM239.3 74.6h1.1v1.1h-1.1zM234.7 53.6h1.1v1.1h-1.1zM237.5 72.8h1.1v1.1h-1.1zM233.5 51.6h1.1v1.1h-1.1zM233.1 59.3h1.1v1.1h-1.1zM234.1 59.9h1.1v1.1h-1.1zM233.8 62.7h1.1v1.1h-1.1zM236.9 66.8h1.1v1.1h-1.1zM233.3 65.1h1.1v1.1h-1.1zM237.0 61.8h1.1v1.1h-1.1zM233.6 44.8h1.1v1.1h-1.1zM236.0 65.0h1.1v1.1h-1.1zM237.0 84.5h1.1v1.1h-1.1zM235.6 44.8h1.1v1.1h-1.1zM234.7 57.3h1.1v1.1h-1.1zM236.6 52.1h1.1v1.1h-1.1zM236.7 65.4h1.1v1.1h-1.1zM233.7 87.0h1.1v1.1h-1.1zM238.9 71.7h1.1v1.1h-1.1zM235.3 37.8h1.1v1.1h-1.1zM234.9 79.8h1.1v1.1h-1.1zM235.1 54.1h1.1v1.1h-1.1zM237.7 87.6h1.1v1.1h-1.1zM233.8 69.2h1.1v1.1h-1.1zM233.2 44.8h1.1v1.1h-1.1zM235.9 63.3h1.1v1.1h-1.1zM234.3 40.6h1.1v1.1h-1.1zM235.4 50.1h1.1v1.1h-1.1zM233.4 68.4h1.1v1.1h-1.1zM234.1 70.6h1.1v1.1h-1.1zM235.1 45.5h1.1v1.1h-1.1zM233.7 46.0h1.1v1.1h-1.1zM235.9 69.5h1.1v1.1h-1.1zM234.0 74.0h1.1v1.1h-1.1zM232.7 57.5h1.1v1.1h-1.1zM233.6 51.4h1.1v1.1h-1.1zM236.6 45.6h1.1v1.1h-1.1zM233.7 63.1h1.1v1.1h-1.1zM237.7 52.6h1.1v1.1h-1.1zM236.1 44.0h1.1v1.1h-1.1zM232.8 43.4h1.1v1.1h-1.1zM237.1 73.4h1.1v1.1h-1.1zM235.9 37.8h1.1v1.1h-1.1zM236.7 43.6h1.1v1.1h-1.1zM235.7 66.5h1.1v1.1h-1.1zM234.0 63.8h1.1v1.1h-1.1zM233.5 59.0h1.1v1.1h-1.1zM238.3 64.0h1.1v1.1h-1.1zM237.5 58.2h1.1v1.1h-1.1zM234.2 60.9h1.1v1.1h-1.1zM237.3 48.1h1.1v1.1h-1.1zM239.0 64.3h1.1v1.1h-1.1zM235.3 75.3h1.1v1.1h-1.1zM239.1 59.2h1.1v1.1h-1.1zM238.3 54.6h1.1v1.1h-1.1zM238.3 56.8h1.1v1.1h-1.1zM235.0 50.7h1.1v1.1h-1.1zM236.9 76.3h1.1v1.1h-1.1zM236.2 49.6h1.1v1.1h-1.1zM236.1 70.5h1.1v1.1h-1.1zM239.2 59.2h1.1v1.1h-1.1zM236.6 81.2h1.1v1.1h-1.1zM236.7 78.9h1.1v1.1h-1.1zM236.8 56.7h1.1v1.1h-1.1zM233.1 57.6h1.1v1.1h-1.1zM236.2 88.1h1.1v1.1h-1.1zM235.0 42.4h1.1v1.1h-1.1zM235.3 46.5h1.1v1.1h-1.1zM236.6 56.5h1.1v1.1h-1.1zM234.7 59.0h1.1v1.1h-1.1zM235.5 71.7h1.1v1.1h-1.1zM235.0 74.9h1.1v1.1h-1.1zM234.0 63.1h1.1v1.1h-1.1z"/>
<path fill="#c01434" d="M237.4 77.7h1.1v1.1h-1.1zM233.3 49.2h1.1v1.1h-1.1zM234.1 67.5h1.1v1.1h-1.1zM237.0 50.7h1.1v1.1h-1.1zM233.7 57.5h1.1v1.1h-1.1zM238.3 77.1h1.1v1.1h-1.1zM235.0 63.3h1.1v1.1h-1.1zM235.9 70.5h1.1v1.1h-1.1zM234.3 68.8h1.1v1.1h-1.1zM234.9 58.9h1.1v1.1h-1.1zM233.7 53.8h1.1v1.1h-1.1zM234.2 71.5h1.1v1.1h-1.1zM235.7 78.9h1.1v1.1h-1.1zM237.1 80.1h1.1v1.1h-1.1zM233.1 65.1h1.1v1.1h-1.1zM235.4 51.7h1.1v1.1h-1.1zM234.7 48.7h1.1v1.1h-1.1zM234.0 65.7h1.1v1.1h-1.1zM238.2 70.7h1.1v1.1h-1.1zM233.7 56.6h1.1v1.1h-1.1zM237.9 52.5h1.1v1.1h-1.1zM235.1 54.6h1.1v1.1h-1.1zM238.7 58.3h1.1v1.1h-1.1zM236.6 79.2h1.1v1.1h-1.1zM234.4 61.7h1.1v1.1h-1.1zM234.9 72.2h1.1v1.1h-1.1z"/>
<path fill="#f05070" d="M234.4 78.0h1.1v1.1h-1.1zM238.0 57.8h1.1v1.1h-1.1zM236.8 60.8h1.1v1.1h-1.1zM233.7 61.5h1.1v1.1h-1.1zM233.7 62.5h1.1v1.1h-1.1zM237.8 74.4h1.1v1.1h-1.1zM236.9 59.2h1.1v1.1h-1.1zM235.5 63.0h1.1v1.1h-1.1zM234.8 69.6h1.1v1.1h-1.1zM236.4 53.3h1.1v1.1h-1.1zM236.2 44.5h1.1v1.1h-1.1zM234.2 62.8h1.1v1.1h-1.1zM235.5 44.5h1.1v1.1h-1.1zM236.0 81.7h1.1v1.1h-1.1zM235.9 74.4h1.1v1.1h-1.1zM236.5 55.6h1.1v1.1h-1.1zM235.0 62.4h1.1v1.1h-1.1zM233.3 59.5h1.1v1.1h-1.1zM234.8 64.3h1.1v1.1h-1.1zM238.2 44.7h1.1v1.1h-1.1zM235.6 55.1h1.1v1.1h-1.1zM237.9 59.7h1.1v1.1h-1.1zM234.1 51.9h1.1v1.1h-1.1zM232.9 46.5h1.1v1.1h-1.1zM234.2 73.3h1.1v1.1h-1.1zM235.2 69.9h1.1v1.1h-1.1zM238.2 50.2h1.1v1.1h-1.1zM232.6 51.0h1.1v1.1h-1.1zM233.9 44.0h1.1v1.1h-1.1zM234.9 53.1h1.1v1.1h-1.1zM232.7 60.2h1.1v1.1h-1.1zM236.8 53.9h1.1v1.1h-1.1zM237.1 61.8h1.1v1.1h-1.1zM234.4 73.3h1.1v1.1h-1.1zM236.3 43.1h1.1v1.1h-1.1zM238.0 73.8h1.1v1.1h-1.1zM236.3 60.8h1.1v1.1h-1.1zM233.6 43.7h1.1v1.1h-1.1zM233.9 72.4h1.1v1.1h-1.1zM239.3 56.5h1.1v1.1h-1.1zM237.5 49.1h1.1v1.1h-1.1zM238.0 53.7h1.1v1.1h-1.1zM233.4 72.9h1.1v1.1h-1.1zM236.2 54.8h1.1v1.1h-1.1z"/>
<path fill="#9a1430" d="M234.1 63.9h1.1v1.1h-1.1zM233.3 62.7h1.1v1.1h-1.1zM233.6 58.8h1.1v1.1h-1.1zM234.5 60.4h1.1v1.1h-1.1zM233.3 57.8h1.1v1.1h-1.1zM236.5 44.6h1.1v1.1h-1.1zM234.5 65.2h1.1v1.1h-1.1zM236.0 62.9h1.1v1.1h-1.1zM237.5 61.2h1.1v1.1h-1.1zM233.9 56.3h1.1v1.1h-1.1zM237.8 61.0h1.1v1.1h-1.1zM237.3 53.3h1.1v1.1h-1.1z"/>
<path fill="#c9c4c2" d="M238.4 103.1h1.1v1.1h-1.1zM239.0 108.4h1.1v1.1h-1.1zM236.9 95.4h1.1v1.1h-1.1zM239.8 99.3h1.1v1.1h-1.1zM239.5 110.0h1.1v1.1h-1.1zM239.1 105.5h1.1v1.1h-1.1zM237.3 111.1h1.1v1.1h-1.1zM238.8 109.5h1.1v1.1h-1.1zM238.4 103.9h1.1v1.1h-1.1zM233.8 110.5h1.1v1.1h-1.1zM235.9 105.8h1.1v1.1h-1.1zM238.0 99.7h1.1v1.1h-1.1zM233.5 107.8h1.1v1.1h-1.1zM238.7 97.1h1.1v1.1h-1.1zM235.3 105.8h1.1v1.1h-1.1zM236.8 98.8h1.1v1.1h-1.1zM232.5 107.1h1.1v1.1h-1.1zM232.2 111.2h1.1v1.1h-1.1zM233.8 95.9h1.1v1.1h-1.1zM232.7 110.1h1.1v1.1h-1.1zM238.3 96.2h1.1v1.1h-1.1zM239.2 109.5h1.1v1.1h-1.1zM232.7 111.2h1.1v1.1h-1.1zM235.3 107.4h1.1v1.1h-1.1zM235.4 111.4h1.1v1.1h-1.1zM238.5 106.8h1.1v1.1h-1.1zM234.8 100.8h1.1v1.1h-1.1zM234.7 101.5h1.1v1.1h-1.1zM239.4 104.8h1.1v1.1h-1.1zM238.0 98.2h1.1v1.1h-1.1zM239.1 102.9h1.1v1.1h-1.1zM237.9 96.2h1.1v1.1h-1.1zM233.0 103.7h1.1v1.1h-1.1zM233.0 97.8h1.1v1.1h-1.1zM233.8 106.0h1.1v1.1h-1.1zM234.1 99.9h1.1v1.1h-1.1zM233.9 110.5h1.1v1.1h-1.1zM239.5 112.5h1.1v1.1h-1.1zM237.2 98.0h1.1v1.1h-1.1zM233.7 111.6h1.1v1.1h-1.1zM233.6 108.0h1.1v1.1h-1.1zM237.6 101.5h1.1v1.1h-1.1zM234.0 110.9h1.1v1.1h-1.1zM238.9 101.3h1.1v1.1h-1.1zM233.4 97.2h1.1v1.1h-1.1zM238.4 108.9h1.1v1.1h-1.1zM231.6 99.5h1.1v1.1h-1.1zM232.0 111.6h1.1v1.1h-1.1zM236.6 94.4h1.1v1.1h-1.1zM235.4 99.8h1.1v1.1h-1.1zM237.7 111.1h1.1v1.1h-1.1zM236.1 110.8h1.1v1.1h-1.1zM234.7 110.5h1.1v1.1h-1.1zM235.6 109.8h1.1v1.1h-1.1zM233.5 106.4h1.1v1.1h-1.1zM235.5 96.6h1.1v1.1h-1.1zM233.4 110.2h1.1v1.1h-1.1zM235.1 103.4h1.1v1.1h-1.1zM236.6 111.5h1.1v1.1h-1.1zM231.9 98.1h1.1v1.1h-1.1zM239.9 110.9h1.1v1.1h-1.1zM232.0 99.3h1.1v1.1h-1.1zM237.9 102.0h1.1v1.1h-1.1zM239.6 107.3h1.1v1.1h-1.1zM234.2 105.6h1.1v1.1h-1.1zM234.9 110.6h1.1v1.1h-1.1zM234.6 99.2h1.1v1.1h-1.1zM239.7 105.4h1.1v1.1h-1.1zM239.5 110.7h1.1v1.1h-1.1zM234.8 110.7h1.1v1.1h-1.1zM238.5 107.9h1.1v1.1h-1.1zM238.2 107.6h1.1v1.1h-1.1zM235.6 99.6h1.1v1.1h-1.1zM233.5 101.2h1.1v1.1h-1.1zM233.5 107.4h1.1v1.1h-1.1zM237.7 110.1h1.1v1.1h-1.1zM235.5 106.9h1.1v1.1h-1.1zM233.8 105.6h1.1v1.1h-1.1zM235.6 109.7h1.1v1.1h-1.1zM234.0 112.9h1.1v1.1h-1.1zM238.7 111.0h1.1v1.1h-1.1zM233.0 107.0h1.1v1.1h-1.1zM235.0 103.2h1.1v1.1h-1.1zM236.0 113.3h1.1v1.1h-1.1zM239.6 104.0h1.1v1.1h-1.1zM239.4 108.0h1.1v1.1h-1.1zM233.9 105.3h1.1v1.1h-1.1zM233.8 109.1h1.1v1.1h-1.1zM237.2 107.8h1.1v1.1h-1.1zM237.4 100.4h1.1v1.1h-1.1zM234.5 102.2h1.1v1.1h-1.1zM232.1 109.3h1.1v1.1h-1.1zM236.6 98.1h1.1v1.1h-1.1zM234.6 100.8h1.1v1.1h-1.1zM238.0 109.0h1.1v1.1h-1.1zM234.6 108.1h1.1v1.1h-1.1zM232.8 100.9h1.1v1.1h-1.1zM232.1 111.0h1.1v1.1h-1.1zM232.8 96.4h1.1v1.1h-1.1zM236.1 102.9h1.1v1.1h-1.1zM236.1 112.8h1.1v1.1h-1.1zM233.1 112.0h1.1v1.1h-1.1zM236.3 108.2h1.1v1.1h-1.1zM236.1 107.8h1.1v1.1h-1.1zM234.1 108.6h1.1v1.1h-1.1zM232.1 97.3h1.1v1.1h-1.1zM235.9 98.4h1.1v1.1h-1.1zM235.7 101.7h1.1v1.1h-1.1zM240.4 107.7h1.1v1.1h-1.1zM237.4 108.4h1.1v1.1h-1.1zM234.7 106.2h1.1v1.1h-1.1zM238.9 94.7h1.1v1.1h-1.1zM232.0 111.0h1.1v1.1h-1.1zM238.7 97.2h1.1v1.1h-1.1zM239.9 104.5h1.1v1.1h-1.1zM235.8 100.4h1.1v1.1h-1.1zM236.7 98.1h1.1v1.1h-1.1zM239.9 110.9h1.1v1.1h-1.1zM237.1 108.6h1.1v1.1h-1.1zM235.0 105.8h1.1v1.1h-1.1zM234.7 101.7h1.1v1.1h-1.1zM236.5 102.1h1.1v1.1h-1.1zM233.8 111.9h1.1v1.1h-1.1zM239.7 96.1h1.1v1.1h-1.1zM239.4 107.5h1.1v1.1h-1.1zM234.2 105.9h1.1v1.1h-1.1zM235.2 97.6h1.1v1.1h-1.1zM234.8 106.2h1.1v1.1h-1.1zM236.3 94.8h1.1v1.1h-1.1zM235.5 97.1h1.1v1.1h-1.1zM234.1 96.8h1.1v1.1h-1.1zM235.9 99.0h1.1v1.1h-1.1zM234.6 96.6h1.1v1.1h-1.1zM234.4 98.0h1.1v1.1h-1.1zM233.7 105.3h1.1v1.1h-1.1zM237.8 110.0h1.1v1.1h-1.1zM233.8 94.8h1.1v1.1h-1.1zM239.8 102.6h1.1v1.1h-1.1zM235.5 101.1h1.1v1.1h-1.1zM236.2 107.1h1.1v1.1h-1.1zM232.1 112.3h1.1v1.1h-1.1zM237.5 107.9h1.1v1.1h-1.1zM233.0 107.6h1.1v1.1h-1.1zM235.8 102.0h1.1v1.1h-1.1zM239.3 100.6h1.1v1.1h-1.1zM235.9 100.6h1.1v1.1h-1.1zM238.8 108.0h1.1v1.1h-1.1zM238.3 99.6h1.1v1.1h-1.1zM236.9 105.2h1.1v1.1h-1.1zM234.1 94.9h1.1v1.1h-1.1zM236.5 109.6h1.1v1.1h-1.1zM239.7 103.5h1.1v1.1h-1.1zM237.6 103.1h1.1v1.1h-1.1zM235.9 112.3h1.1v1.1h-1.1zM235.2 108.6h1.1v1.1h-1.1zM236.3 96.6h1.1v1.1h-1.1zM235.2 111.3h1.1v1.1h-1.1zM234.3 94.9h1.1v1.1h-1.1zM237.3 99.9h1.1v1.1h-1.1zM238.3 112.0h1.1v1.1h-1.1zM232.9 109.1h1.1v1.1h-1.1zM238.3 106.5h1.1v1.1h-1.1zM239.2 100.1h1.1v1.1h-1.1zM239.9 105.1h1.1v1.1h-1.1zM238.9 113.4h1.1v1.1h-1.1zM233.6 102.6h1.1v1.1h-1.1zM232.9 101.1h1.1v1.1h-1.1zM239.1 110.2h1.1v1.1h-1.1zM233.4 105.4h1.1v1.1h-1.1zM239.1 105.8h1.1v1.1h-1.1zM232.2 106.2h1.1v1.1h-1.1zM239.0 99.1h1.1v1.1h-1.1zM235.1 109.4h1.1v1.1h-1.1zM233.9 106.1h1.1v1.1h-1.1zM239.7 98.6h1.1v1.1h-1.1zM237.3 97.5h1.1v1.1h-1.1zM232.4 107.5h1.1v1.1h-1.1z"/>
<path fill="#b8b3b0" d="M232.1 110.8h1.1v1.1h-1.1zM233.6 110.0h1.1v1.1h-1.1zM236.6 110.9h1.1v1.1h-1.1zM239.4 111.1h1.1v1.1h-1.1zM233.6 105.5h1.1v1.1h-1.1zM233.2 108.4h1.1v1.1h-1.1zM236.3 110.1h1.1v1.1h-1.1zM233.0 109.5h1.1v1.1h-1.1zM238.9 102.4h1.1v1.1h-1.1zM237.4 108.7h1.1v1.1h-1.1zM239.4 105.2h1.1v1.1h-1.1zM233.5 95.4h1.1v1.1h-1.1zM238.2 105.8h1.1v1.1h-1.1zM232.6 111.5h1.1v1.1h-1.1zM239.0 105.0h1.1v1.1h-1.1zM234.6 103.4h1.1v1.1h-1.1zM233.4 99.8h1.1v1.1h-1.1zM235.1 111.3h1.1v1.1h-1.1zM238.3 97.1h1.1v1.1h-1.1zM236.2 103.0h1.1v1.1h-1.1zM235.4 97.5h1.1v1.1h-1.1zM235.8 111.0h1.1v1.1h-1.1zM236.5 107.7h1.1v1.1h-1.1zM239.2 104.5h1.1v1.1h-1.1zM233.0 104.9h1.1v1.1h-1.1zM240.0 106.4h1.1v1.1h-1.1zM237.7 111.8h1.1v1.1h-1.1zM236.8 112.7h1.1v1.1h-1.1zM233.7 112.5h1.1v1.1h-1.1zM233.8 103.3h1.1v1.1h-1.1zM236.3 98.8h1.1v1.1h-1.1zM233.6 112.4h1.1v1.1h-1.1zM232.3 108.6h1.1v1.1h-1.1zM234.3 101.3h1.1v1.1h-1.1zM235.6 97.5h1.1v1.1h-1.1zM238.3 97.0h1.1v1.1h-1.1zM236.5 100.7h1.1v1.1h-1.1zM234.7 110.5h1.1v1.1h-1.1zM233.2 101.4h1.1v1.1h-1.1zM237.9 109.2h1.1v1.1h-1.1zM232.0 96.7h1.1v1.1h-1.1zM235.4 99.7h1.1v1.1h-1.1zM232.6 108.4h1.1v1.1h-1.1zM235.6 96.0h1.1v1.1h-1.1z"/>
<path fill="#a8a3a0" d="M234.9 108.9h1.1v1.1h-1.1zM236.5 112.7h1.1v1.1h-1.1zM232.1 98.8h1.1v1.1h-1.1zM235.3 108.6h1.1v1.1h-1.1zM240.0 104.5h1.1v1.1h-1.1zM233.7 103.3h1.1v1.1h-1.1zM237.9 108.3h1.1v1.1h-1.1zM239.1 100.6h1.1v1.1h-1.1zM235.7 102.2h1.1v1.1h-1.1zM239.8 106.2h1.1v1.1h-1.1zM236.7 105.0h1.1v1.1h-1.1zM239.8 104.9h1.1v1.1h-1.1zM237.1 106.3h1.1v1.1h-1.1zM238.3 113.3h1.1v1.1h-1.1zM239.5 103.5h1.1v1.1h-1.1zM237.2 96.7h1.1v1.1h-1.1zM238.3 102.3h1.1v1.1h-1.1zM234.6 98.3h1.1v1.1h-1.1zM234.8 106.1h1.1v1.1h-1.1zM238.7 109.5h1.1v1.1h-1.1zM235.1 100.4h1.1v1.1h-1.1zM236.7 112.5h1.1v1.1h-1.1zM235.3 99.3h1.1v1.1h-1.1zM238.4 103.6h1.1v1.1h-1.1zM232.7 110.2h1.1v1.1h-1.1zM237.2 96.6h1.1v1.1h-1.1z"/>
<path fill="#e8a0b0" d="M236.3 93.7h1.1v1.1h-1.1z"/>
<path fill="#1f3d72" d="M343.3 79.6h1.1v1.1h-1.1zM339.0 56.7h1.1v1.1h-1.1zM339.9 65.0h1.1v1.1h-1.1zM342.8 76.5h1.1v1.1h-1.1zM341.2 79.0h1.1v1.1h-1.1zM344.4 74.4h1.1v1.1h-1.1zM344.3 46.0h1.1v1.1h-1.1zM341.4 88.2h1.1v1.1h-1.1zM340.2 71.9h1.1v1.1h-1.1zM338.1 44.7h1.1v1.1h-1.1zM342.5 38.3h1.1v1.1h-1.1zM341.3 36.4h1.1v1.1h-1.1zM343.9 48.4h1.1v1.1h-1.1zM339.2 39.5h1.1v1.1h-1.1zM339.5 41.8h1.1v1.1h-1.1zM338.0 72.4h1.1v1.1h-1.1zM343.5 38.6h1.1v1.1h-1.1zM341.1 32.6h1.1v1.1h-1.1zM338.9 49.3h1.1v1.1h-1.1zM342.8 49.6h1.1v1.1h-1.1zM341.5 65.5h1.1v1.1h-1.1zM339.4 59.2h1.1v1.1h-1.1zM338.9 81.6h1.1v1.1h-1.1zM340.5 41.1h1.1v1.1h-1.1zM343.7 52.1h1.1v1.1h-1.1zM344.5 70.5h1.1v1.1h-1.1zM340.9 75.9h1.1v1.1h-1.1zM340.3 47.9h1.1v1.1h-1.1zM338.5 56.0h1.1v1.1h-1.1zM339.4 38.8h1.1v1.1h-1.1zM341.1 61.5h1.1v1.1h-1.1zM340.0 43.8h1.1v1.1h-1.1zM343.4 75.1h1.1v1.1h-1.1zM342.9 76.8h1.1v1.1h-1.1zM342.3 70.6h1.1v1.1h-1.1zM338.3 35.8h1.1v1.1h-1.1zM342.0 82.4h1.1v1.1h-1.1zM340.8 31.9h1.1v1.1h-1.1zM342.3 87.7h1.1v1.1h-1.1zM343.1 83.8h1.1v1.1h-1.1zM342.8 86.7h1.1v1.1h-1.1zM342.8 53.4h1.1v1.1h-1.1zM343.8 73.4h1.1v1.1h-1.1zM341.5 33.6h1.1v1.1h-1.1zM342.3 82.0h1.1v1.1h-1.1zM338.7 74.3h1.1v1.1h-1.1zM341.6 61.9h1.1v1.1h-1.1zM342.2 45.3h1.1v1.1h-1.1zM341.2 42.0h1.1v1.1h-1.1zM343.8 47.5h1.1v1.1h-1.1zM340.4 68.1h1.1v1.1h-1.1zM341.7 75.1h1.1v1.1h-1.1zM341.7 61.4h1.1v1.1h-1.1zM343.5 43.2h1.1v1.1h-1.1zM340.8 30.8h1.1v1.1h-1.1zM339.1 78.4h1.1v1.1h-1.1zM339.4 76.2h1.1v1.1h-1.1zM343.5 85.7h1.1v1.1h-1.1zM342.8 57.0h1.1v1.1h-1.1zM339.7 82.0h1.1v1.1h-1.1zM342.2 42.9h1.1v1.1h-1.1zM341.3 44.4h1.1v1.1h-1.1zM340.5 69.5h1.1v1.1h-1.1zM340.1 69.0h1.1v1.1h-1.1zM340.1 70.2h1.1v1.1h-1.1zM342.3 66.9h1.1v1.1h-1.1zM339.1 73.3h1.1v1.1h-1.1zM340.1 80.5h1.1v1.1h-1.1zM340.8 48.0h1.1v1.1h-1.1zM344.6 67.3h1.1v1.1h-1.1zM343.3 79.2h1.1v1.1h-1.1zM343.5 63.7h1.1v1.1h-1.1zM344.0 48.7h1.1v1.1h-1.1zM340.4 36.4h1.1v1.1h-1.1zM342.4 48.0h1.1v1.1h-1.1zM339.0 54.4h1.1v1.1h-1.1zM340.5 34.4h1.1v1.1h-1.1zM339.9 50.8h1.1v1.1h-1.1zM342.9 60.1h1.1v1.1h-1.1zM340.5 84.1h1.1v1.1h-1.1zM342.1 67.9h1.1v1.1h-1.1zM340.7 70.8h1.1v1.1h-1.1zM341.3 37.4h1.1v1.1h-1.1zM338.6 40.7h1.1v1.1h-1.1zM340.1 76.3h1.1v1.1h-1.1zM342.2 31.5h1.1v1.1h-1.1zM339.8 74.4h1.1v1.1h-1.1zM339.8 78.2h1.1v1.1h-1.1zM340.8 64.7h1.1v1.1h-1.1zM341.1 38.7h1.1v1.1h-1.1zM338.7 40.3h1.1v1.1h-1.1zM342.5 32.7h1.1v1.1h-1.1zM342.9 57.2h1.1v1.1h-1.1zM341.3 78.4h1.1v1.1h-1.1zM341.4 71.8h1.1v1.1h-1.1zM343.7 66.4h1.1v1.1h-1.1zM343.8 85.9h1.1v1.1h-1.1zM341.3 35.9h1.1v1.1h-1.1zM343.7 68.1h1.1v1.1h-1.1zM343.3 66.7h1.1v1.1h-1.1zM342.2 39.4h1.1v1.1h-1.1zM340.5 60.2h1.1v1.1h-1.1zM342.8 68.8h1.1v1.1h-1.1zM341.7 37.1h1.1v1.1h-1.1zM338.5 50.2h1.1v1.1h-1.1zM338.2 67.1h1.1v1.1h-1.1zM339.2 58.0h1.1v1.1h-1.1zM339.4 82.4h1.1v1.1h-1.1zM340.9 66.6h1.1v1.1h-1.1zM342.8 38.4h1.1v1.1h-1.1zM338.7 61.2h1.1v1.1h-1.1zM341.8 64.0h1.1v1.1h-1.1zM341.8 79.2h1.1v1.1h-1.1zM338.4 71.3h1.1v1.1h-1.1zM342.0 65.5h1.1v1.1h-1.1zM341.0 72.9h1.1v1.1h-1.1zM338.6 42.3h1.1v1.1h-1.1zM341.7 58.6h1.1v1.1h-1.1zM342.8 80.8h1.1v1.1h-1.1zM342.1 85.6h1.1v1.1h-1.1zM341.3 68.8h1.1v1.1h-1.1zM339.9 75.6h1.1v1.1h-1.1zM342.1 85.4h1.1v1.1h-1.1zM342.0 68.4h1.1v1.1h-1.1zM341.3 77.7h1.1v1.1h-1.1zM341.5 46.1h1.1v1.1h-1.1zM339.5 26.7h1.1v1.1h-1.1zM338.5 72.5h1.1v1.1h-1.1zM338.0 74.4h1.1v1.1h-1.1zM340.3 50.2h1.1v1.1h-1.1zM339.2 42.4h1.1v1.1h-1.1zM344.5 48.1h1.1v1.1h-1.1zM340.5 29.7h1.1v1.1h-1.1zM338.4 68.5h1.1v1.1h-1.1zM343.1 80.6h1.1v1.1h-1.1zM338.7 68.7h1.1v1.1h-1.1zM342.1 62.6h1.1v1.1h-1.1zM341.5 38.7h1.1v1.1h-1.1zM342.5 80.9h1.1v1.1h-1.1zM340.5 73.7h1.1v1.1h-1.1zM338.6 36.4h1.1v1.1h-1.1zM338.4 60.3h1.1v1.1h-1.1zM338.1 36.7h1.1v1.1h-1.1zM343.9 75.3h1.1v1.1h-1.1zM341.9 76.1h1.1v1.1h-1.1zM340.1 28.1h1.1v1.1h-1.1zM342.1 41.5h1.1v1.1h-1.1zM338.3 65.4h1.1v1.1h-1.1zM340.8 56.4h1.1v1.1h-1.1zM342.2 33.1h1.1v1.1h-1.1zM341.8 86.1h1.1v1.1h-1.1zM340.0 58.7h1.1v1.1h-1.1zM339.4 57.2h1.1v1.1h-1.1zM340.4 60.6h1.1v1.1h-1.1zM341.4 27.0h1.1v1.1h-1.1zM338.3 58.3h1.1v1.1h-1.1zM344.2 55.6h1.1v1.1h-1.1zM343.0 60.4h1.1v1.1h-1.1zM341.6 87.3h1.1v1.1h-1.1zM337.3 49.6h1.1v1.1h-1.1zM338.2 38.2h1.1v1.1h-1.1zM342.8 64.3h1.1v1.1h-1.1zM342.7 74.7h1.1v1.1h-1.1zM337.8 63.4h1.1v1.1h-1.1zM340.2 67.9h1.1v1.1h-1.1zM342.7 43.4h1.1v1.1h-1.1zM342.6 46.7h1.1v1.1h-1.1zM341.9 83.5h1.1v1.1h-1.1zM342.2 29.5h1.1v1.1h-1.1zM340.8 62.1h1.1v1.1h-1.1zM342.9 46.6h1.1v1.1h-1.1zM339.9 78.6h1.1v1.1h-1.1zM338.5 50.8h1.1v1.1h-1.1zM337.8 80.8h1.1v1.1h-1.1zM340.0 42.2h1.1v1.1h-1.1zM340.9 76.3h1.1v1.1h-1.1zM344.1 72.9h1.1v1.1h-1.1zM340.7 37.5h1.1v1.1h-1.1zM344.1 45.4h1.1v1.1h-1.1zM342.5 72.0h1.1v1.1h-1.1zM342.9 84.0h1.1v1.1h-1.1zM342.1 39.5h1.1v1.1h-1.1zM339.6 52.8h1.1v1.1h-1.1zM340.3 70.6h1.1v1.1h-1.1zM343.4 45.5h1.1v1.1h-1.1zM341.0 48.6h1.1v1.1h-1.1zM339.0 36.3h1.1v1.1h-1.1zM343.0 84.8h1.1v1.1h-1.1zM340.3 77.4h1.1v1.1h-1.1zM338.0 69.6h1.1v1.1h-1.1zM341.4 43.7h1.1v1.1h-1.1zM338.3 30.1h1.1v1.1h-1.1zM343.0 33.7h1.1v1.1h-1.1zM343.1 82.4h1.1v1.1h-1.1zM340.3 64.0h1.1v1.1h-1.1zM339.5 51.8h1.1v1.1h-1.1zM344.1 69.8h1.1v1.1h-1.1zM343.5 48.3h1.1v1.1h-1.1zM341.7 47.9h1.1v1.1h-1.1zM340.1 77.7h1.1v1.1h-1.1zM340.4 49.4h1.1v1.1h-1.1zM340.5 70.9h1.1v1.1h-1.1zM343.8 65.3h1.1v1.1h-1.1zM342.2 63.4h1.1v1.1h-1.1zM342.2 74.7h1.1v1.1h-1.1zM342.3 81.5h1.1v1.1h-1.1zM342.5 87.5h1.1v1.1h-1.1zM339.4 53.6h1.1v1.1h-1.1zM339.8 37.5h1.1v1.1h-1.1zM341.0 72.3h1.1v1.1h-1.1zM343.9 64.1h1.1v1.1h-1.1zM338.4 45.1h1.1v1.1h-1.1zM339.5 84.9h1.1v1.1h-1.1zM337.4 67.5h1.1v1.1h-1.1zM340.5 69.0h1.1v1.1h-1.1zM340.8 72.9h1.1v1.1h-1.1zM339.0 37.1h1.1v1.1h-1.1zM341.7 56.0h1.1v1.1h-1.1zM343.8 44.3h1.1v1.1h-1.1zM340.8 54.2h1.1v1.1h-1.1zM342.2 57.7h1.1v1.1h-1.1zM343.5 62.9h1.1v1.1h-1.1zM338.8 69.9h1.1v1.1h-1.1zM339.0 39.5h1.1v1.1h-1.1zM341.1 54.8h1.1v1.1h-1.1zM339.8 81.9h1.1v1.1h-1.1zM339.8 41.9h1.1v1.1h-1.1zM344.0 42.6h1.1v1.1h-1.1zM342.0 83.7h1.1v1.1h-1.1zM339.1 68.8h1.1v1.1h-1.1zM344.2 70.8h1.1v1.1h-1.1zM341.0 28.4h1.1v1.1h-1.1zM343.0 49.6h1.1v1.1h-1.1zM340.0 69.1h1.1v1.1h-1.1zM341.3 54.4h1.1v1.1h-1.1zM338.1 60.1h1.1v1.1h-1.1zM343.6 40.9h1.1v1.1h-1.1zM338.8 52.3h1.1v1.1h-1.1zM338.7 53.6h1.1v1.1h-1.1zM339.1 45.4h1.1v1.1h-1.1zM341.9 29.0h1.1v1.1h-1.1zM343.4 37.0h1.1v1.1h-1.1zM342.9 76.8h1.1v1.1h-1.1zM340.0 74.5h1.1v1.1h-1.1zM341.3 82.2h1.1v1.1h-1.1zM342.1 64.4h1.1v1.1h-1.1zM339.0 46.1h1.1v1.1h-1.1zM339.0 73.4h1.1v1.1h-1.1zM341.2 81.7h1.1v1.1h-1.1zM342.4 70.5h1.1v1.1h-1.1zM342.5 84.8h1.1v1.1h-1.1zM339.7 72.9h1.1v1.1h-1.1zM338.6 48.0h1.1v1.1h-1.1zM339.8 61.3h1.1v1.1h-1.1zM343.8 80.7h1.1v1.1h-1.1zM343.2 51.3h1.1v1.1h-1.1zM342.7 51.9h1.1v1.1h-1.1zM344.3 76.3h1.1v1.1h-1.1zM339.3 35.1h1.1v1.1h-1.1zM342.6 36.5h1.1v1.1h-1.1zM339.1 39.5h1.1v1.1h-1.1zM337.9 74.7h1.1v1.1h-1.1zM337.7 49.8h1.1v1.1h-1.1zM339.1 51.7h1.1v1.1h-1.1zM342.9 49.3h1.1v1.1h-1.1zM342.7 55.1h1.1v1.1h-1.1zM342.7 60.0h1.1v1.1h-1.1zM343.2 46.5h1.1v1.1h-1.1zM342.6 64.2h1.1v1.1h-1.1zM338.8 52.6h1.1v1.1h-1.1zM337.7 54.9h1.1v1.1h-1.1zM343.1 47.8h1.1v1.1h-1.1zM340.9 78.1h1.1v1.1h-1.1zM339.5 81.9h1.1v1.1h-1.1zM344.2 66.2h1.1v1.1h-1.1zM342.5 63.5h1.1v1.1h-1.1zM342.3 54.9h1.1v1.1h-1.1zM338.0 51.0h1.1v1.1h-1.1zM342.4 46.5h1.1v1.1h-1.1zM343.8 70.5h1.1v1.1h-1.1zM342.8 53.4h1.1v1.1h-1.1zM338.7 81.3h1.1v1.1h-1.1zM342.2 38.0h1.1v1.1h-1.1zM340.0 67.5h1.1v1.1h-1.1zM343.7 73.5h1.1v1.1h-1.1zM342.7 56.9h1.1v1.1h-1.1zM339.3 43.2h1.1v1.1h-1.1zM343.8 54.9h1.1v1.1h-1.1zM344.4 72.1h1.1v1.1h-1.1zM340.3 50.6h1.1v1.1h-1.1zM342.2 59.5h1.1v1.1h-1.1zM340.9 76.5h1.1v1.1h-1.1zM342.8 57.6h1.1v1.1h-1.1zM343.0 73.9h1.1v1.1h-1.1zM337.5 61.0h1.1v1.1h-1.1zM339.0 58.3h1.1v1.1h-1.1zM338.3 48.4h1.1v1.1h-1.1zM339.6 88.3h1.1v1.1h-1.1zM340.1 41.8h1.1v1.1h-1.1zM339.9 44.0h1.1v1.1h-1.1zM343.1 80.5h1.1v1.1h-1.1zM340.6 33.9h1.1v1.1h-1.1zM343.4 52.9h1.1v1.1h-1.1zM338.4 52.5h1.1v1.1h-1.1zM337.5 45.0h1.1v1.1h-1.1zM339.2 41.3h1.1v1.1h-1.1zM340.3 33.9h1.1v1.1h-1.1zM342.6 42.4h1.1v1.1h-1.1zM341.2 39.6h1.1v1.1h-1.1zM339.6 28.4h1.1v1.1h-1.1zM342.4 83.9h1.1v1.1h-1.1zM339.7 48.8h1.1v1.1h-1.1zM340.8 38.3h1.1v1.1h-1.1zM338.9 41.2h1.1v1.1h-1.1zM339.3 32.8h1.1v1.1h-1.1zM338.7 80.3h1.1v1.1h-1.1zM340.9 70.8h1.1v1.1h-1.1zM338.6 74.3h1.1v1.1h-1.1zM342.4 41.8h1.1v1.1h-1.1zM338.6 68.4h1.1v1.1h-1.1zM339.4 61.3h1.1v1.1h-1.1zM340.4 48.5h1.1v1.1h-1.1zM343.9 53.9h1.1v1.1h-1.1zM340.4 80.4h1.1v1.1h-1.1zM341.5 71.7h1.1v1.1h-1.1zM341.4 40.3h1.1v1.1h-1.1zM343.2 48.8h1.1v1.1h-1.1zM340.6 59.9h1.1v1.1h-1.1zM340.1 38.9h1.1v1.1h-1.1zM340.7 53.6h1.1v1.1h-1.1zM342.2 60.1h1.1v1.1h-1.1zM340.0 87.5h1.1v1.1h-1.1zM343.0 52.7h1.1v1.1h-1.1zM338.9 38.7h1.1v1.1h-1.1zM341.3 42.4h1.1v1.1h-1.1zM337.5 39.1h1.1v1.1h-1.1zM341.5 43.2h1.1v1.1h-1.1zM341.2 46.6h1.1v1.1h-1.1zM344.0 44.4h1.1v1.1h-1.1zM340.2 36.8h1.1v1.1h-1.1zM335.2 47.7h1.1v1.1h-1.1zM332.4 64.2h1.1v1.1h-1.1zM328.9 41.7h1.1v1.1h-1.1zM337.2 69.1h1.1v1.1h-1.1zM335.7 55.9h1.1v1.1h-1.1zM332.3 76.7h1.1v1.1h-1.1zM335.2 43.1h1.1v1.1h-1.1zM332.2 59.7h1.1v1.1h-1.1zM337.2 61.8h1.1v1.1h-1.1zM334.8 41.8h1.1v1.1h-1.1zM334.0 56.9h1.1v1.1h-1.1zM329.8 65.9h1.1v1.1h-1.1zM332.1 60.8h1.1v1.1h-1.1zM337.9 77.6h1.1v1.1h-1.1zM334.7 77.6h1.1v1.1h-1.1zM337.2 72.9h1.1v1.1h-1.1zM331.9 68.5h1.1v1.1h-1.1zM330.9 47.6h1.1v1.1h-1.1zM332.6 61.3h1.1v1.1h-1.1zM330.7 53.9h1.1v1.1h-1.1zM334.7 49.6h1.1v1.1h-1.1zM335.9 47.6h1.1v1.1h-1.1zM336.4 73.3h1.1v1.1h-1.1zM333.0 64.2h1.1v1.1h-1.1zM332.7 63.4h1.1v1.1h-1.1zM343.7 38.2h1.1v1.1h-1.1zM345.6 34.5h1.1v1.1h-1.1zM344.3 40.6h1.1v1.1h-1.1zM337.1 161.6h1.1v1.1h-1.1zM337.6 184.3h1.1v1.1h-1.1zM333.7 170.5h1.1v1.1h-1.1zM337.0 178.8h1.1v1.1h-1.1zM336.0 176.2h1.1v1.1h-1.1zM339.4 181.2h1.1v1.1h-1.1zM340.1 173.1h1.1v1.1h-1.1zM336.6 165.6h1.1v1.1h-1.1zM331.8 184.7h1.1v1.1h-1.1zM338.7 182.4h1.1v1.1h-1.1zM337.8 191.7h1.1v1.1h-1.1zM336.6 185.7h1.1v1.1h-1.1zM338.2 163.2h1.1v1.1h-1.1zM336.3 183.4h1.1v1.1h-1.1zM338.6 182.2h1.1v1.1h-1.1zM331.3 177.7h1.1v1.1h-1.1zM332.7 191.8h1.1v1.1h-1.1zM335.6 168.1h1.1v1.1h-1.1zM338.8 178.1h1.1v1.1h-1.1zM339.1 180.1h1.1v1.1h-1.1zM335.8 160.0h1.1v1.1h-1.1zM332.3 187.3h1.1v1.1h-1.1zM335.2 176.2h1.1v1.1h-1.1zM339.3 187.1h1.1v1.1h-1.1zM332.5 172.1h1.1v1.1h-1.1zM337.3 175.2h1.1v1.1h-1.1zM332.0 186.9h1.1v1.1h-1.1zM337.6 187.3h1.1v1.1h-1.1zM335.8 191.6h1.1v1.1h-1.1zM341.0 170.9h1.1v1.1h-1.1zM333.5 191.9h1.1v1.1h-1.1zM332.5 186.6h1.1v1.1h-1.1zM332.9 186.6h1.1v1.1h-1.1zM332.1 184.0h1.1v1.1h-1.1zM337.2 176.0h1.1v1.1h-1.1zM335.2 169.6h1.1v1.1h-1.1zM335.2 176.5h1.1v1.1h-1.1zM334.9 191.5h1.1v1.1h-1.1zM334.0 163.4h1.1v1.1h-1.1zM336.7 166.1h1.1v1.1h-1.1zM334.2 171.5h1.1v1.1h-1.1zM332.8 188.9h1.1v1.1h-1.1zM337.5 161.5h1.1v1.1h-1.1zM335.5 176.3h1.1v1.1h-1.1zM334.7 192.7h1.1v1.1h-1.1zM338.0 186.5h1.1v1.1h-1.1zM338.2 169.5h1.1v1.1h-1.1zM340.4 165.9h1.1v1.1h-1.1zM337.2 174.3h1.1v1.1h-1.1zM337.8 175.9h1.1v1.1h-1.1zM335.9 192.2h1.1v1.1h-1.1zM337.0 171.8h1.1v1.1h-1.1zM333.4 168.4h1.1v1.1h-1.1zM340.2 185.3h1.1v1.1h-1.1zM336.6 173.4h1.1v1.1h-1.1zM337.0 186.3h1.1v1.1h-1.1zM336.2 182.5h1.1v1.1h-1.1zM336.7 173.6h1.1v1.1h-1.1zM334.3 193.7h1.1v1.1h-1.1zM334.6 159.8h1.1v1.1h-1.1zM340.7 184.6h1.1v1.1h-1.1zM338.0 176.4h1.1v1.1h-1.1zM333.6 179.8h1.1v1.1h-1.1zM339.8 193.8h1.1v1.1h-1.1zM332.2 174.6h1.1v1.1h-1.1zM340.5 172.1h1.1v1.1h-1.1zM332.8 189.3h1.1v1.1h-1.1zM337.2 180.5h1.1v1.1h-1.1zM332.3 178.8h1.1v1.1h-1.1zM335.7 192.6h1.1v1.1h-1.1zM334.7 169.4h1.1v1.1h-1.1zM339.9 180.7h1.1v1.1h-1.1zM335.2 183.0h1.1v1.1h-1.1zM335.1 177.6h1.1v1.1h-1.1zM338.2 185.2h1.1v1.1h-1.1zM332.7 173.9h1.1v1.1h-1.1zM337.2 164.6h1.1v1.1h-1.1zM333.0 177.2h1.1v1.1h-1.1zM333.7 180.2h1.1v1.1h-1.1zM330.8 178.3h1.1v1.1h-1.1zM336.9 169.8h1.1v1.1h-1.1zM333.4 168.8h1.1v1.1h-1.1zM338.6 187.3h1.1v1.1h-1.1zM339.0 175.2h1.1v1.1h-1.1zM339.7 188.1h1.1v1.1h-1.1zM335.4 180.9h1.1v1.1h-1.1zM340.6 183.1h1.1v1.1h-1.1zM335.2 181.7h1.1v1.1h-1.1zM338.6 188.2h1.1v1.1h-1.1zM336.1 181.9h1.1v1.1h-1.1zM334.1 168.7h1.1v1.1h-1.1zM334.3 170.2h1.1v1.1h-1.1zM338.3 166.3h1.1v1.1h-1.1zM338.5 190.1h1.1v1.1h-1.1zM337.5 181.3h1.1v1.1h-1.1zM338.7 175.2h1.1v1.1h-1.1zM334.0 170.1h1.1v1.1h-1.1zM339.0 184.5h1.1v1.1h-1.1zM330.1 178.7h1.1v1.1h-1.1zM333.8 171.2h1.1v1.1h-1.1zM339.5 179.8h1.1v1.1h-1.1zM337.3 155.6h1.1v1.1h-1.1zM336.7 170.0h1.1v1.1h-1.1zM340.2 185.2h1.1v1.1h-1.1zM337.5 166.7h1.1v1.1h-1.1zM335.5 187.7h1.1v1.1h-1.1zM337.7 180.3h1.1v1.1h-1.1zM336.3 157.4h1.1v1.1h-1.1zM337.4 178.8h1.1v1.1h-1.1zM337.3 167.8h1.1v1.1h-1.1zM340.4 172.6h1.1v1.1h-1.1zM334.7 180.6h1.1v1.1h-1.1zM339.3 169.7h1.1v1.1h-1.1zM335.2 179.9h1.1v1.1h-1.1zM337.8 175.5h1.1v1.1h-1.1zM337.3 168.4h1.1v1.1h-1.1zM340.0 190.0h1.1v1.1h-1.1zM340.3 171.5h1.1v1.1h-1.1zM333.5 187.1h1.1v1.1h-1.1zM335.6 182.9h1.1v1.1h-1.1zM340.8 192.5h1.1v1.1h-1.1zM337.2 173.2h1.1v1.1h-1.1zM336.6 186.5h1.1v1.1h-1.1zM338.9 175.6h1.1v1.1h-1.1zM338.3 169.2h1.1v1.1h-1.1zM335.9 174.5h1.1v1.1h-1.1zM337.1 161.6h1.1v1.1h-1.1zM333.0 172.3h1.1v1.1h-1.1zM335.8 178.0h1.1v1.1h-1.1zM336.3 164.0h1.1v1.1h-1.1zM340.1 179.7h1.1v1.1h-1.1zM332.5 179.7h1.1v1.1h-1.1zM338.4 186.9h1.1v1.1h-1.1zM334.8 161.4h1.1v1.1h-1.1zM337.9 154.1h1.1v1.1h-1.1zM336.1 183.0h1.1v1.1h-1.1zM331.3 183.5h1.1v1.1h-1.1zM338.0 194.1h1.1v1.1h-1.1zM331.7 183.2h1.1v1.1h-1.1zM334.1 170.7h1.1v1.1h-1.1zM339.1 185.2h1.1v1.1h-1.1zM337.2 171.6h1.1v1.1h-1.1zM339.9 174.7h1.1v1.1h-1.1zM326.9 168.2h1.1v1.1h-1.1zM329.5 177.7h1.1v1.1h-1.1zM326.1 161.3h1.1v1.1h-1.1zM327.7 185.4h1.1v1.1h-1.1zM330.9 175.3h1.1v1.1h-1.1zM328.4 181.5h1.1v1.1h-1.1zM323.6 181.1h1.1v1.1h-1.1zM325.5 179.9h1.1v1.1h-1.1zM331.1 182.1h1.1v1.1h-1.1zM322.0 172.5h1.1v1.1h-1.1zM323.5 175.6h1.1v1.1h-1.1zM328.1 188.8h1.1v1.1h-1.1zM329.8 176.5h1.1v1.1h-1.1z"/>
<path fill="#3a5a90" d="M338.0 42.2h1.1v1.1h-1.1zM340.7 74.7h1.1v1.1h-1.1zM339.2 50.1h1.1v1.1h-1.1zM338.5 48.9h1.1v1.1h-1.1zM342.0 55.6h1.1v1.1h-1.1zM339.2 58.9h1.1v1.1h-1.1zM341.0 35.1h1.1v1.1h-1.1zM341.7 32.1h1.1v1.1h-1.1zM339.1 82.2h1.1v1.1h-1.1zM340.5 58.0h1.1v1.1h-1.1zM342.1 74.5h1.1v1.1h-1.1zM338.9 88.1h1.1v1.1h-1.1zM342.3 34.7h1.1v1.1h-1.1zM340.9 38.6h1.1v1.1h-1.1zM343.2 35.6h1.1v1.1h-1.1zM343.5 56.9h1.1v1.1h-1.1zM342.6 77.9h1.1v1.1h-1.1zM338.6 77.1h1.1v1.1h-1.1zM343.8 49.1h1.1v1.1h-1.1zM340.6 51.2h1.1v1.1h-1.1zM338.3 68.3h1.1v1.1h-1.1zM340.9 67.1h1.1v1.1h-1.1zM338.7 38.8h1.1v1.1h-1.1zM344.2 72.3h1.1v1.1h-1.1zM338.1 44.6h1.1v1.1h-1.1zM338.6 71.8h1.1v1.1h-1.1zM342.7 63.1h1.1v1.1h-1.1zM340.0 53.3h1.1v1.1h-1.1zM342.7 70.6h1.1v1.1h-1.1zM341.2 58.4h1.1v1.1h-1.1zM341.8 47.2h1.1v1.1h-1.1zM340.0 51.4h1.1v1.1h-1.1zM340.4 39.9h1.1v1.1h-1.1zM340.6 71.9h1.1v1.1h-1.1zM341.1 71.0h1.1v1.1h-1.1zM340.5 48.5h1.1v1.1h-1.1zM341.3 62.0h1.1v1.1h-1.1zM339.1 50.7h1.1v1.1h-1.1zM343.8 73.4h1.1v1.1h-1.1zM338.2 69.1h1.1v1.1h-1.1zM341.1 43.3h1.1v1.1h-1.1zM341.8 75.9h1.1v1.1h-1.1zM338.6 67.3h1.1v1.1h-1.1zM341.3 43.0h1.1v1.1h-1.1zM342.5 38.2h1.1v1.1h-1.1zM342.0 66.9h1.1v1.1h-1.1zM338.5 61.1h1.1v1.1h-1.1zM343.7 48.7h1.1v1.1h-1.1zM338.6 52.5h1.1v1.1h-1.1zM338.4 61.5h1.1v1.1h-1.1zM339.4 43.8h1.1v1.1h-1.1zM339.2 53.2h1.1v1.1h-1.1zM339.1 61.8h1.1v1.1h-1.1zM342.0 70.6h1.1v1.1h-1.1zM340.5 72.5h1.1v1.1h-1.1zM344.2 68.1h1.1v1.1h-1.1zM343.1 55.6h1.1v1.1h-1.1zM340.1 28.7h1.1v1.1h-1.1zM341.8 81.0h1.1v1.1h-1.1zM343.8 85.8h1.1v1.1h-1.1zM340.5 67.1h1.1v1.1h-1.1zM328.7 48.0h1.1v1.1h-1.1zM328.7 63.4h1.1v1.1h-1.1zM337.0 73.1h1.1v1.1h-1.1zM331.8 79.5h1.1v1.1h-1.1zM336.8 72.3h1.1v1.1h-1.1zM346.3 30.0h1.1v1.1h-1.1zM340.0 187.6h1.1v1.1h-1.1zM334.5 161.5h1.1v1.1h-1.1zM336.5 178.2h1.1v1.1h-1.1zM330.6 178.5h1.1v1.1h-1.1zM336.1 157.0h1.1v1.1h-1.1zM332.9 181.6h1.1v1.1h-1.1zM335.6 185.4h1.1v1.1h-1.1zM336.4 163.9h1.1v1.1h-1.1zM340.3 191.0h1.1v1.1h-1.1zM339.0 193.5h1.1v1.1h-1.1zM335.3 164.0h1.1v1.1h-1.1zM333.0 172.0h1.1v1.1h-1.1zM333.7 191.6h1.1v1.1h-1.1zM332.8 179.9h1.1v1.1h-1.1zM340.0 170.5h1.1v1.1h-1.1zM341.2 189.4h1.1v1.1h-1.1zM337.6 190.9h1.1v1.1h-1.1zM339.3 162.8h1.1v1.1h-1.1zM332.6 178.3h1.1v1.1h-1.1zM337.7 157.5h1.1v1.1h-1.1zM326.4 179.0h1.1v1.1h-1.1zM328.5 173.3h1.1v1.1h-1.1zM331.6 167.0h1.1v1.1h-1.1zM330.9 193.5h1.1v1.1h-1.1zM325.3 181.5h1.1v1.1h-1.1zM326.4 173.8h1.1v1.1h-1.1z"/>
<path fill="#152a52" d="M339.5 71.9h1.1v1.1h-1.1zM339.3 46.8h1.1v1.1h-1.1zM343.1 46.1h1.1v1.1h-1.1zM342.4 51.4h1.1v1.1h-1.1zM341.0 55.6h1.1v1.1h-1.1zM340.0 45.9h1.1v1.1h-1.1zM339.7 36.0h1.1v1.1h-1.1zM339.6 27.1h1.1v1.1h-1.1zM339.3 61.1h1.1v1.1h-1.1zM339.8 42.9h1.1v1.1h-1.1zM338.2 58.9h1.1v1.1h-1.1zM344.0 42.6h1.1v1.1h-1.1zM339.3 56.5h1.1v1.1h-1.1zM341.9 55.0h1.1v1.1h-1.1zM340.2 87.6h1.1v1.1h-1.1zM344.0 65.5h1.1v1.1h-1.1zM340.1 86.6h1.1v1.1h-1.1zM341.2 65.9h1.1v1.1h-1.1zM339.9 38.0h1.1v1.1h-1.1zM343.6 35.6h1.1v1.1h-1.1zM341.3 46.5h1.1v1.1h-1.1zM339.8 66.9h1.1v1.1h-1.1zM339.4 82.5h1.1v1.1h-1.1zM339.7 73.5h1.1v1.1h-1.1zM338.9 60.2h1.1v1.1h-1.1zM343.2 70.3h1.1v1.1h-1.1zM339.3 61.6h1.1v1.1h-1.1zM339.2 58.6h1.1v1.1h-1.1zM338.1 39.0h1.1v1.1h-1.1zM344.1 41.9h1.1v1.1h-1.1zM342.4 68.3h1.1v1.1h-1.1zM337.6 47.6h1.1v1.1h-1.1zM341.9 46.7h1.1v1.1h-1.1zM338.9 86.0h1.1v1.1h-1.1zM339.6 83.1h1.1v1.1h-1.1zM342.4 43.1h1.1v1.1h-1.1zM339.6 43.0h1.1v1.1h-1.1zM338.3 33.3h1.1v1.1h-1.1zM342.6 38.8h1.1v1.1h-1.1zM339.9 57.1h1.1v1.1h-1.1zM341.3 86.6h1.1v1.1h-1.1zM339.3 44.6h1.1v1.1h-1.1zM343.6 71.2h1.1v1.1h-1.1zM338.3 72.9h1.1v1.1h-1.1zM341.0 68.3h1.1v1.1h-1.1zM340.9 57.5h1.1v1.1h-1.1zM340.4 46.0h1.1v1.1h-1.1zM342.6 49.2h1.1v1.1h-1.1zM342.8 44.4h1.1v1.1h-1.1zM343.8 62.3h1.1v1.1h-1.1zM342.9 42.9h1.1v1.1h-1.1zM343.2 57.9h1.1v1.1h-1.1zM342.7 39.2h1.1v1.1h-1.1zM341.9 50.7h1.1v1.1h-1.1zM339.6 62.2h1.1v1.1h-1.1zM342.8 57.1h1.1v1.1h-1.1zM338.9 70.2h1.1v1.1h-1.1zM339.2 58.3h1.1v1.1h-1.1zM341.8 39.8h1.1v1.1h-1.1zM342.6 41.9h1.1v1.1h-1.1zM339.9 44.2h1.1v1.1h-1.1zM341.4 81.2h1.1v1.1h-1.1zM342.2 65.8h1.1v1.1h-1.1zM337.6 58.4h1.1v1.1h-1.1zM339.3 50.1h1.1v1.1h-1.1zM338.0 62.6h1.1v1.1h-1.1zM338.1 72.5h1.1v1.1h-1.1zM344.2 48.3h1.1v1.1h-1.1zM341.0 78.8h1.1v1.1h-1.1zM342.3 55.2h1.1v1.1h-1.1zM341.0 48.8h1.1v1.1h-1.1zM341.8 83.6h1.1v1.1h-1.1zM341.6 75.6h1.1v1.1h-1.1zM339.2 50.0h1.1v1.1h-1.1zM341.5 64.6h1.1v1.1h-1.1zM340.4 47.4h1.1v1.1h-1.1zM339.6 37.8h1.1v1.1h-1.1zM338.3 73.9h1.1v1.1h-1.1zM340.8 80.3h1.1v1.1h-1.1zM342.4 53.5h1.1v1.1h-1.1zM338.0 64.8h1.1v1.1h-1.1zM338.8 35.0h1.1v1.1h-1.1zM338.8 80.6h1.1v1.1h-1.1zM338.4 71.8h1.1v1.1h-1.1zM338.0 81.3h1.1v1.1h-1.1zM343.6 63.8h1.1v1.1h-1.1zM341.6 84.3h1.1v1.1h-1.1zM340.0 32.5h1.1v1.1h-1.1zM341.6 88.2h1.1v1.1h-1.1zM342.0 45.5h1.1v1.1h-1.1zM342.8 69.5h1.1v1.1h-1.1zM342.2 80.9h1.1v1.1h-1.1zM338.3 54.7h1.1v1.1h-1.1zM340.6 73.5h1.1v1.1h-1.1zM341.3 78.2h1.1v1.1h-1.1zM338.2 43.5h1.1v1.1h-1.1zM337.4 76.5h1.1v1.1h-1.1zM341.2 62.0h1.1v1.1h-1.1zM340.9 66.8h1.1v1.1h-1.1zM341.1 87.1h1.1v1.1h-1.1zM341.2 51.7h1.1v1.1h-1.1zM340.0 50.1h1.1v1.1h-1.1zM342.4 58.6h1.1v1.1h-1.1zM342.1 74.6h1.1v1.1h-1.1zM340.2 30.1h1.1v1.1h-1.1zM342.9 67.3h1.1v1.1h-1.1zM341.1 39.2h1.1v1.1h-1.1zM337.7 40.2h1.1v1.1h-1.1zM338.7 63.6h1.1v1.1h-1.1zM340.7 73.5h1.1v1.1h-1.1zM340.1 48.9h1.1v1.1h-1.1zM338.6 60.5h1.1v1.1h-1.1zM343.7 82.4h1.1v1.1h-1.1zM341.6 64.7h1.1v1.1h-1.1zM341.6 37.7h1.1v1.1h-1.1zM341.0 83.4h1.1v1.1h-1.1zM339.9 43.5h1.1v1.1h-1.1zM339.8 63.9h1.1v1.1h-1.1zM343.5 63.6h1.1v1.1h-1.1zM333.9 43.7h1.1v1.1h-1.1zM328.8 59.3h1.1v1.1h-1.1zM330.9 45.0h1.1v1.1h-1.1zM331.1 69.2h1.1v1.1h-1.1zM335.3 75.5h1.1v1.1h-1.1zM329.1 75.8h1.1v1.1h-1.1zM331.3 59.2h1.1v1.1h-1.1zM337.1 81.3h1.1v1.1h-1.1zM333.2 70.8h1.1v1.1h-1.1zM330.8 70.6h1.1v1.1h-1.1zM344.5 30.7h1.1v1.1h-1.1zM345.8 36.0h1.1v1.1h-1.1zM345.9 39.8h1.1v1.1h-1.1zM344.8 41.1h1.1v1.1h-1.1zM344.3 41.6h1.1v1.1h-1.1zM345.9 38.5h1.1v1.1h-1.1zM335.3 185.4h1.1v1.1h-1.1zM336.6 178.8h1.1v1.1h-1.1zM338.2 167.3h1.1v1.1h-1.1zM339.7 177.6h1.1v1.1h-1.1zM333.8 189.7h1.1v1.1h-1.1zM338.2 174.3h1.1v1.1h-1.1zM334.2 188.2h1.1v1.1h-1.1zM334.9 164.7h1.1v1.1h-1.1zM335.0 192.1h1.1v1.1h-1.1zM336.8 182.9h1.1v1.1h-1.1zM335.7 179.7h1.1v1.1h-1.1zM336.3 172.9h1.1v1.1h-1.1zM335.4 179.6h1.1v1.1h-1.1zM336.4 167.0h1.1v1.1h-1.1zM337.9 194.0h1.1v1.1h-1.1zM339.2 160.7h1.1v1.1h-1.1zM339.7 185.5h1.1v1.1h-1.1zM337.8 175.1h1.1v1.1h-1.1zM330.4 179.8h1.1v1.1h-1.1zM333.9 188.8h1.1v1.1h-1.1zM337.5 186.9h1.1v1.1h-1.1zM335.3 165.3h1.1v1.1h-1.1zM334.8 164.7h1.1v1.1h-1.1zM337.9 162.7h1.1v1.1h-1.1zM333.8 181.9h1.1v1.1h-1.1zM333.2 174.8h1.1v1.1h-1.1zM338.1 188.5h1.1v1.1h-1.1zM335.4 177.8h1.1v1.1h-1.1zM338.1 187.8h1.1v1.1h-1.1zM332.9 180.2h1.1v1.1h-1.1zM338.7 165.1h1.1v1.1h-1.1zM331.0 177.5h1.1v1.1h-1.1zM331.2 182.2h1.1v1.1h-1.1zM339.1 168.6h1.1v1.1h-1.1zM338.1 181.3h1.1v1.1h-1.1zM333.6 183.9h1.1v1.1h-1.1zM336.4 177.7h1.1v1.1h-1.1zM338.9 174.9h1.1v1.1h-1.1zM338.5 177.0h1.1v1.1h-1.1zM333.7 178.4h1.1v1.1h-1.1zM336.3 179.7h1.1v1.1h-1.1zM335.8 178.7h1.1v1.1h-1.1zM339.1 176.5h1.1v1.1h-1.1zM335.9 191.7h1.1v1.1h-1.1zM339.6 181.7h1.1v1.1h-1.1zM336.6 158.4h1.1v1.1h-1.1zM333.0 188.7h1.1v1.1h-1.1zM336.7 192.4h1.1v1.1h-1.1zM336.2 178.8h1.1v1.1h-1.1zM338.4 172.3h1.1v1.1h-1.1zM336.4 172.9h1.1v1.1h-1.1zM340.7 189.4h1.1v1.1h-1.1zM331.6 179.1h1.1v1.1h-1.1zM341.2 188.6h1.1v1.1h-1.1zM339.1 178.0h1.1v1.1h-1.1zM339.0 172.3h1.1v1.1h-1.1zM335.3 167.8h1.1v1.1h-1.1zM328.7 161.3h1.1v1.1h-1.1zM322.3 185.6h1.1v1.1h-1.1zM330.9 159.8h1.1v1.1h-1.1zM329.8 164.6h1.1v1.1h-1.1zM326.3 180.9h1.1v1.1h-1.1zM321.7 171.8h1.1v1.1h-1.1z"/>
<path fill="#e4203e" d="M350.0 67.2h1.2v1.2h-1.2zM345.7 54.2h1.2v1.2h-1.2zM351.7 61.5h1.2v1.2h-1.2zM351.1 41.7h1.2v1.2h-1.2zM350.9 59.1h1.2v1.2h-1.2zM350.2 44.9h1.2v1.2h-1.2zM352.3 54.3h1.2v1.2h-1.2zM348.6 45.6h1.2v1.2h-1.2zM347.4 42.5h1.2v1.2h-1.2zM346.4 54.1h1.2v1.2h-1.2zM347.7 86.9h1.2v1.2h-1.2zM348.4 53.5h1.2v1.2h-1.2zM346.0 59.1h1.2v1.2h-1.2zM348.6 60.7h1.2v1.2h-1.2zM347.9 64.6h1.2v1.2h-1.2zM347.1 76.8h1.2v1.2h-1.2zM353.2 73.4h1.2v1.2h-1.2zM350.3 76.5h1.2v1.2h-1.2zM347.4 46.0h1.2v1.2h-1.2zM351.4 79.4h1.2v1.2h-1.2zM345.3 52.0h1.2v1.2h-1.2zM350.0 57.4h1.2v1.2h-1.2zM345.2 76.0h1.2v1.2h-1.2zM351.8 49.0h1.2v1.2h-1.2zM347.6 34.7h1.2v1.2h-1.2zM345.9 80.2h1.2v1.2h-1.2zM347.1 65.1h1.2v1.2h-1.2zM345.4 39.2h1.2v1.2h-1.2zM349.3 87.0h1.2v1.2h-1.2zM350.7 87.0h1.2v1.2h-1.2zM347.6 72.8h1.2v1.2h-1.2zM348.0 44.5h1.2v1.2h-1.2zM351.0 60.9h1.2v1.2h-1.2zM345.6 55.7h1.2v1.2h-1.2zM351.8 47.7h1.2v1.2h-1.2zM345.6 64.4h1.2v1.2h-1.2zM350.9 57.0h1.2v1.2h-1.2zM352.1 77.6h1.2v1.2h-1.2zM347.7 83.4h1.2v1.2h-1.2zM346.7 70.9h1.2v1.2h-1.2zM349.6 38.4h1.2v1.2h-1.2zM346.5 48.2h1.2v1.2h-1.2zM349.9 43.1h1.2v1.2h-1.2zM350.3 82.8h1.2v1.2h-1.2zM346.7 58.9h1.2v1.2h-1.2zM350.7 60.2h1.2v1.2h-1.2zM351.4 40.7h1.2v1.2h-1.2zM345.7 56.9h1.2v1.2h-1.2zM350.1 65.7h1.2v1.2h-1.2zM347.8 62.6h1.2v1.2h-1.2zM350.7 71.1h1.2v1.2h-1.2zM350.6 59.9h1.2v1.2h-1.2zM350.9 65.3h1.2v1.2h-1.2zM346.8 39.4h1.2v1.2h-1.2zM351.7 66.9h1.2v1.2h-1.2zM350.7 68.8h1.2v1.2h-1.2zM347.0 75.1h1.2v1.2h-1.2zM347.5 54.0h1.2v1.2h-1.2zM351.6 81.1h1.2v1.2h-1.2zM350.2 46.5h1.2v1.2h-1.2zM350.8 82.0h1.2v1.2h-1.2zM352.4 43.8h1.2v1.2h-1.2zM346.6 46.3h1.2v1.2h-1.2zM349.6 87.0h1.2v1.2h-1.2zM352.1 70.7h1.2v1.2h-1.2zM351.6 54.1h1.2v1.2h-1.2zM350.3 48.4h1.2v1.2h-1.2zM349.3 78.9h1.2v1.2h-1.2zM349.5 43.3h1.2v1.2h-1.2zM347.1 76.9h1.2v1.2h-1.2zM351.8 76.2h1.2v1.2h-1.2zM347.9 53.2h1.2v1.2h-1.2zM349.3 77.7h1.2v1.2h-1.2zM346.4 47.6h1.2v1.2h-1.2zM350.3 70.4h1.2v1.2h-1.2zM347.1 62.5h1.2v1.2h-1.2zM346.8 43.8h1.2v1.2h-1.2zM350.5 33.4h1.2v1.2h-1.2zM350.1 53.8h1.2v1.2h-1.2zM351.9 39.6h1.2v1.2h-1.2zM348.9 48.0h1.2v1.2h-1.2zM349.5 77.7h1.2v1.2h-1.2zM352.6 84.5h1.2v1.2h-1.2zM348.8 79.5h1.2v1.2h-1.2zM347.6 40.7h1.2v1.2h-1.2zM349.3 77.5h1.2v1.2h-1.2zM351.9 55.6h1.2v1.2h-1.2zM346.6 78.7h1.2v1.2h-1.2zM347.4 84.5h1.2v1.2h-1.2zM349.6 86.3h1.2v1.2h-1.2zM347.6 75.8h1.2v1.2h-1.2zM347.2 64.8h1.2v1.2h-1.2zM346.8 58.0h1.2v1.2h-1.2zM349.3 71.4h1.2v1.2h-1.2zM347.2 40.2h1.2v1.2h-1.2zM352.0 68.9h1.2v1.2h-1.2zM352.2 61.6h1.2v1.2h-1.2zM351.5 49.5h1.2v1.2h-1.2zM346.7 85.5h1.2v1.2h-1.2zM345.3 54.5h1.2v1.2h-1.2zM350.6 59.6h1.2v1.2h-1.2zM349.0 34.3h1.2v1.2h-1.2zM349.1 75.2h1.2v1.2h-1.2zM346.0 72.2h1.2v1.2h-1.2zM348.8 52.2h1.2v1.2h-1.2zM347.7 34.1h1.2v1.2h-1.2zM346.5 54.3h1.2v1.2h-1.2zM351.9 42.7h1.2v1.2h-1.2zM350.6 44.6h1.2v1.2h-1.2zM346.6 41.1h1.2v1.2h-1.2zM348.3 46.5h1.2v1.2h-1.2zM351.0 35.8h1.2v1.2h-1.2zM345.8 56.8h1.2v1.2h-1.2zM350.8 60.6h1.2v1.2h-1.2zM350.6 80.8h1.2v1.2h-1.2zM347.9 48.3h1.2v1.2h-1.2zM351.4 59.7h1.2v1.2h-1.2zM349.9 61.4h1.2v1.2h-1.2zM349.4 53.4h1.2v1.2h-1.2zM350.5 47.3h1.2v1.2h-1.2zM348.2 65.9h1.2v1.2h-1.2zM347.9 57.2h1.2v1.2h-1.2zM347.5 83.8h1.2v1.2h-1.2zM349.9 72.9h1.2v1.2h-1.2zM347.5 68.2h1.2v1.2h-1.2zM352.4 84.5h1.2v1.2h-1.2zM348.1 87.3h1.2v1.2h-1.2zM345.6 86.8h1.2v1.2h-1.2zM346.5 76.9h1.2v1.2h-1.2zM346.3 43.5h1.2v1.2h-1.2zM351.7 59.9h1.2v1.2h-1.2zM350.1 52.1h1.2v1.2h-1.2zM349.1 60.8h1.2v1.2h-1.2zM349.8 44.3h1.2v1.2h-1.2zM346.4 66.5h1.2v1.2h-1.2zM347.8 39.6h1.2v1.2h-1.2zM348.1 65.1h1.2v1.2h-1.2zM350.1 73.1h1.2v1.2h-1.2zM349.0 65.6h1.2v1.2h-1.2zM351.7 57.1h1.2v1.2h-1.2zM349.3 85.7h1.2v1.2h-1.2zM348.1 34.0h1.2v1.2h-1.2zM345.8 51.0h1.2v1.2h-1.2zM347.2 79.1h1.2v1.2h-1.2zM346.1 42.5h1.2v1.2h-1.2zM351.5 56.7h1.2v1.2h-1.2zM349.5 58.5h1.2v1.2h-1.2zM351.9 79.9h1.2v1.2h-1.2zM351.6 67.5h1.2v1.2h-1.2zM349.7 71.3h1.2v1.2h-1.2zM346.1 54.3h1.2v1.2h-1.2zM352.9 58.7h1.2v1.2h-1.2zM349.2 40.0h1.2v1.2h-1.2zM348.9 40.9h1.2v1.2h-1.2zM348.0 40.0h1.2v1.2h-1.2zM346.3 74.2h1.2v1.2h-1.2zM352.3 55.4h1.2v1.2h-1.2zM348.4 87.4h1.2v1.2h-1.2zM348.9 61.3h1.2v1.2h-1.2zM349.1 44.8h1.2v1.2h-1.2zM346.4 58.0h1.2v1.2h-1.2zM351.8 50.9h1.2v1.2h-1.2zM345.7 61.8h1.2v1.2h-1.2zM346.2 73.8h1.2v1.2h-1.2zM347.8 63.7h1.2v1.2h-1.2zM349.5 67.8h1.2v1.2h-1.2zM347.9 66.5h1.2v1.2h-1.2zM351.9 86.7h1.2v1.2h-1.2zM347.9 67.3h1.2v1.2h-1.2zM348.7 50.4h1.2v1.2h-1.2zM347.8 79.0h1.2v1.2h-1.2zM351.9 76.7h1.2v1.2h-1.2zM348.9 42.0h1.2v1.2h-1.2zM350.2 37.7h1.2v1.2h-1.2zM352.9 81.6h1.2v1.2h-1.2zM352.4 70.7h1.2v1.2h-1.2zM351.4 54.2h1.2v1.2h-1.2zM349.1 67.3h1.2v1.2h-1.2zM345.4 58.6h1.2v1.2h-1.2zM351.7 88.3h1.2v1.2h-1.2zM347.4 80.3h1.2v1.2h-1.2zM352.4 73.1h1.2v1.2h-1.2zM351.3 65.3h1.2v1.2h-1.2zM347.6 57.8h1.2v1.2h-1.2zM351.7 39.6h1.2v1.2h-1.2zM347.1 60.0h1.2v1.2h-1.2zM350.2 53.6h1.2v1.2h-1.2zM348.2 52.5h1.2v1.2h-1.2zM346.5 67.5h1.2v1.2h-1.2zM345.2 69.9h1.2v1.2h-1.2zM349.9 84.5h1.2v1.2h-1.2zM348.0 62.5h1.2v1.2h-1.2zM349.5 38.4h1.2v1.2h-1.2zM349.4 72.6h1.2v1.2h-1.2zM347.5 38.9h1.2v1.2h-1.2zM350.5 61.4h1.2v1.2h-1.2zM346.2 81.7h1.2v1.2h-1.2zM347.6 50.7h1.2v1.2h-1.2zM350.5 87.1h1.2v1.2h-1.2zM346.7 40.1h1.2v1.2h-1.2zM350.3 83.4h1.2v1.2h-1.2zM347.8 73.8h1.2v1.2h-1.2zM352.1 75.2h1.2v1.2h-1.2zM349.1 73.2h1.2v1.2h-1.2zM350.8 87.5h1.2v1.2h-1.2zM347.3 65.0h1.2v1.2h-1.2zM348.9 79.5h1.2v1.2h-1.2zM348.5 68.2h1.2v1.2h-1.2zM351.7 36.7h1.2v1.2h-1.2zM350.4 41.2h1.2v1.2h-1.2zM352.2 71.9h1.2v1.2h-1.2zM348.8 63.4h1.2v1.2h-1.2zM346.0 71.4h1.2v1.2h-1.2zM352.7 83.9h1.2v1.2h-1.2zM352.3 71.6h1.2v1.2h-1.2zM351.3 47.4h1.2v1.2h-1.2zM347.1 75.8h1.2v1.2h-1.2zM346.8 84.6h1.2v1.2h-1.2zM350.5 76.3h1.2v1.2h-1.2zM351.0 80.6h1.2v1.2h-1.2zM350.7 56.8h1.2v1.2h-1.2zM347.0 70.2h1.2v1.2h-1.2zM347.8 36.2h1.2v1.2h-1.2zM348.5 41.0h1.2v1.2h-1.2zM349.5 53.0h1.2v1.2h-1.2zM351.6 79.7h1.2v1.2h-1.2zM346.9 49.5h1.2v1.2h-1.2zM351.0 39.3h1.2v1.2h-1.2zM351.1 38.7h1.2v1.2h-1.2zM347.9 74.7h1.2v1.2h-1.2zM345.8 66.7h1.2v1.2h-1.2zM345.8 70.5h1.2v1.2h-1.2zM349.8 34.1h1.2v1.2h-1.2zM347.6 36.1h1.2v1.2h-1.2zM350.4 47.9h1.2v1.2h-1.2zM349.2 70.2h1.2v1.2h-1.2zM352.0 63.2h1.2v1.2h-1.2zM346.1 66.0h1.2v1.2h-1.2zM347.2 75.3h1.2v1.2h-1.2zM349.9 45.7h1.2v1.2h-1.2zM346.5 73.2h1.2v1.2h-1.2zM346.8 59.0h1.2v1.2h-1.2zM348.7 60.7h1.2v1.2h-1.2zM345.4 50.0h1.2v1.2h-1.2zM349.6 82.6h1.2v1.2h-1.2zM351.1 40.9h1.2v1.2h-1.2zM349.8 70.9h1.2v1.2h-1.2zM350.6 49.9h1.2v1.2h-1.2zM352.2 60.1h1.2v1.2h-1.2zM351.2 39.2h1.2v1.2h-1.2zM350.3 43.7h1.2v1.2h-1.2zM346.3 61.2h1.2v1.2h-1.2zM351.3 53.8h1.2v1.2h-1.2zM349.1 63.9h1.2v1.2h-1.2zM349.9 69.6h1.2v1.2h-1.2zM352.0 44.4h1.2v1.2h-1.2zM351.9 79.9h1.2v1.2h-1.2zM346.4 86.8h1.2v1.2h-1.2zM349.3 77.9h1.2v1.2h-1.2zM350.2 76.4h1.2v1.2h-1.2zM346.8 68.1h1.2v1.2h-1.2zM347.8 71.6h1.2v1.2h-1.2zM350.1 57.6h1.2v1.2h-1.2zM346.4 64.6h1.2v1.2h-1.2zM350.7 54.9h1.2v1.2h-1.2zM352.7 88.0h1.2v1.2h-1.2zM345.5 68.3h1.2v1.2h-1.2zM347.1 59.3h1.2v1.2h-1.2zM347.5 50.7h1.2v1.2h-1.2zM352.0 76.9h1.2v1.2h-1.2zM345.4 72.4h1.2v1.2h-1.2zM346.1 80.8h1.2v1.2h-1.2zM350.4 85.8h1.2v1.2h-1.2zM346.1 56.8h1.2v1.2h-1.2zM347.9 65.2h1.2v1.2h-1.2zM351.8 42.5h1.2v1.2h-1.2zM351.1 66.0h1.2v1.2h-1.2zM352.2 73.7h1.2v1.2h-1.2zM347.6 62.1h1.2v1.2h-1.2zM348.7 44.1h1.2v1.2h-1.2zM347.7 79.0h1.2v1.2h-1.2zM351.6 37.8h1.2v1.2h-1.2zM346.6 54.0h1.2v1.2h-1.2zM347.5 36.5h1.2v1.2h-1.2zM348.5 71.0h1.2v1.2h-1.2zM352.0 45.2h1.2v1.2h-1.2zM351.2 85.8h1.2v1.2h-1.2zM349.8 83.1h1.2v1.2h-1.2zM349.5 72.5h1.2v1.2h-1.2zM345.7 86.9h1.2v1.2h-1.2zM350.6 78.2h1.2v1.2h-1.2zM350.8 67.3h1.2v1.2h-1.2zM345.4 50.7h1.2v1.2h-1.2zM350.6 48.5h1.2v1.2h-1.2zM352.1 80.4h1.2v1.2h-1.2zM347.7 45.0h1.2v1.2h-1.2zM350.6 53.3h1.2v1.2h-1.2zM350.1 49.0h1.2v1.2h-1.2zM350.1 60.6h1.2v1.2h-1.2zM349.9 40.3h1.2v1.2h-1.2zM342.6 173.3h1.1v1.1h-1.1zM346.0 157.9h1.1v1.1h-1.1zM342.2 181.9h1.1v1.1h-1.1zM342.6 169.5h1.1v1.1h-1.1zM344.4 181.9h1.1v1.1h-1.1zM345.9 161.6h1.1v1.1h-1.1zM342.2 177.8h1.1v1.1h-1.1zM348.1 172.1h1.1v1.1h-1.1zM342.2 157.0h1.1v1.1h-1.1zM345.7 188.7h1.1v1.1h-1.1zM346.2 181.3h1.1v1.1h-1.1zM342.1 176.0h1.1v1.1h-1.1zM341.2 189.4h1.1v1.1h-1.1zM348.9 184.5h1.1v1.1h-1.1zM347.1 186.9h1.1v1.1h-1.1zM346.1 172.5h1.1v1.1h-1.1zM342.6 173.3h1.1v1.1h-1.1zM347.1 178.9h1.1v1.1h-1.1zM342.1 163.8h1.1v1.1h-1.1zM340.7 186.9h1.1v1.1h-1.1zM346.1 159.2h1.1v1.1h-1.1zM343.9 172.3h1.1v1.1h-1.1zM344.0 167.0h1.1v1.1h-1.1zM348.0 189.1h1.1v1.1h-1.1zM345.3 166.0h1.1v1.1h-1.1zM345.3 184.8h1.1v1.1h-1.1zM340.7 174.8h1.1v1.1h-1.1zM343.6 183.3h1.1v1.1h-1.1zM343.7 180.8h1.1v1.1h-1.1zM345.0 189.4h1.1v1.1h-1.1zM344.6 181.4h1.1v1.1h-1.1zM340.9 184.1h1.1v1.1h-1.1zM344.9 178.4h1.1v1.1h-1.1zM340.5 187.0h1.1v1.1h-1.1zM341.7 179.0h1.1v1.1h-1.1zM345.2 161.9h1.1v1.1h-1.1zM348.9 170.8h1.1v1.1h-1.1zM344.0 159.1h1.1v1.1h-1.1zM340.9 160.1h1.1v1.1h-1.1zM340.9 167.5h1.1v1.1h-1.1zM344.4 161.4h1.1v1.1h-1.1zM347.5 185.4h1.1v1.1h-1.1zM341.8 177.4h1.1v1.1h-1.1zM347.5 163.6h1.1v1.1h-1.1zM345.6 174.5h1.1v1.1h-1.1zM342.3 174.7h1.1v1.1h-1.1zM341.2 176.7h1.1v1.1h-1.1zM340.8 191.0h1.1v1.1h-1.1zM344.0 157.4h1.1v1.1h-1.1zM343.9 166.4h1.1v1.1h-1.1zM341.9 175.5h1.1v1.1h-1.1zM344.0 193.3h1.1v1.1h-1.1zM343.3 183.3h1.1v1.1h-1.1zM347.2 189.6h1.1v1.1h-1.1zM343.6 182.6h1.1v1.1h-1.1zM346.0 181.5h1.1v1.1h-1.1zM343.9 184.9h1.1v1.1h-1.1zM343.3 169.3h1.1v1.1h-1.1zM341.0 178.0h1.1v1.1h-1.1zM346.8 173.3h1.1v1.1h-1.1zM347.7 173.2h1.1v1.1h-1.1zM347.4 191.4h1.1v1.1h-1.1zM341.7 156.5h1.1v1.1h-1.1zM345.4 171.6h1.1v1.1h-1.1zM346.9 190.6h1.1v1.1h-1.1zM346.3 177.2h1.1v1.1h-1.1zM343.5 161.6h1.1v1.1h-1.1zM342.3 178.3h1.1v1.1h-1.1zM342.6 193.4h1.1v1.1h-1.1zM342.3 175.0h1.1v1.1h-1.1zM344.3 186.3h1.1v1.1h-1.1zM348.5 182.0h1.1v1.1h-1.1zM345.9 188.8h1.1v1.1h-1.1zM344.9 169.8h1.1v1.1h-1.1zM344.8 163.6h1.1v1.1h-1.1zM346.5 170.1h1.1v1.1h-1.1zM347.5 173.8h1.1v1.1h-1.1zM341.9 159.1h1.1v1.1h-1.1zM347.3 168.2h1.1v1.1h-1.1zM346.9 161.4h1.1v1.1h-1.1zM344.3 187.1h1.1v1.1h-1.1zM341.1 167.5h1.1v1.1h-1.1zM340.8 170.6h1.1v1.1h-1.1zM342.5 172.6h1.1v1.1h-1.1zM344.9 170.1h1.1v1.1h-1.1zM343.4 165.9h1.1v1.1h-1.1zM346.2 164.3h1.1v1.1h-1.1zM346.9 183.7h1.1v1.1h-1.1zM343.0 186.5h1.1v1.1h-1.1zM342.7 169.9h1.1v1.1h-1.1zM346.8 180.7h1.1v1.1h-1.1zM347.2 166.8h1.1v1.1h-1.1zM343.6 168.2h1.1v1.1h-1.1zM347.7 188.7h1.1v1.1h-1.1zM345.9 188.3h1.1v1.1h-1.1zM347.0 180.1h1.1v1.1h-1.1zM345.6 162.2h1.1v1.1h-1.1zM344.4 182.3h1.1v1.1h-1.1zM347.0 190.3h1.1v1.1h-1.1zM346.1 193.3h1.1v1.1h-1.1zM341.9 180.4h1.1v1.1h-1.1zM348.2 182.6h1.1v1.1h-1.1zM349.3 184.4h1.1v1.1h-1.1z"/>
<path fill="#b81030" d="M351.4 48.6h1.2v1.2h-1.2zM350.0 60.7h1.2v1.2h-1.2zM351.2 36.4h1.2v1.2h-1.2zM345.9 39.2h1.2v1.2h-1.2zM346.8 43.4h1.2v1.2h-1.2zM346.9 55.3h1.2v1.2h-1.2zM347.1 41.4h1.2v1.2h-1.2zM349.2 39.2h1.2v1.2h-1.2zM348.4 70.3h1.2v1.2h-1.2zM351.5 85.9h1.2v1.2h-1.2zM348.3 72.9h1.2v1.2h-1.2zM346.7 82.2h1.2v1.2h-1.2zM352.8 73.0h1.2v1.2h-1.2zM352.1 84.9h1.2v1.2h-1.2zM347.3 69.0h1.2v1.2h-1.2zM347.4 86.7h1.2v1.2h-1.2zM346.0 76.0h1.2v1.2h-1.2zM350.7 44.9h1.2v1.2h-1.2zM346.9 47.4h1.2v1.2h-1.2zM346.8 40.7h1.2v1.2h-1.2zM346.0 69.9h1.2v1.2h-1.2zM351.2 49.6h1.2v1.2h-1.2zM349.9 75.8h1.2v1.2h-1.2zM350.0 76.1h1.2v1.2h-1.2zM350.0 76.5h1.2v1.2h-1.2zM347.7 34.0h1.2v1.2h-1.2zM348.3 58.4h1.2v1.2h-1.2zM347.6 76.7h1.2v1.2h-1.2zM351.9 82.8h1.2v1.2h-1.2zM349.8 51.6h1.2v1.2h-1.2zM351.4 59.3h1.2v1.2h-1.2zM351.4 83.6h1.2v1.2h-1.2zM346.9 72.7h1.2v1.2h-1.2zM350.1 69.2h1.2v1.2h-1.2zM349.8 43.3h1.2v1.2h-1.2zM348.1 83.3h1.2v1.2h-1.2zM347.1 36.6h1.2v1.2h-1.2zM348.1 63.6h1.2v1.2h-1.2zM350.5 66.6h1.2v1.2h-1.2zM348.6 72.1h1.2v1.2h-1.2zM351.9 84.3h1.2v1.2h-1.2zM346.4 51.2h1.2v1.2h-1.2zM346.9 48.5h1.2v1.2h-1.2zM349.2 45.8h1.2v1.2h-1.2zM350.4 87.6h1.2v1.2h-1.2zM345.8 56.1h1.2v1.2h-1.2zM346.1 79.5h1.2v1.2h-1.2zM352.0 38.9h1.2v1.2h-1.2zM349.2 82.1h1.2v1.2h-1.2zM347.1 46.3h1.2v1.2h-1.2zM347.6 38.1h1.2v1.2h-1.2zM351.3 52.0h1.2v1.2h-1.2zM350.0 44.4h1.2v1.2h-1.2zM349.0 48.9h1.2v1.2h-1.2zM351.9 59.7h1.2v1.2h-1.2zM345.8 36.7h1.2v1.2h-1.2zM352.3 62.3h1.2v1.2h-1.2zM348.7 56.9h1.2v1.2h-1.2zM347.4 66.1h1.2v1.2h-1.2zM351.0 82.1h1.2v1.2h-1.2zM346.0 38.8h1.2v1.2h-1.2zM349.4 50.8h1.2v1.2h-1.2zM349.8 51.3h1.2v1.2h-1.2zM349.5 67.5h1.2v1.2h-1.2zM349.0 41.9h1.2v1.2h-1.2zM350.8 87.4h1.2v1.2h-1.2zM349.2 58.8h1.2v1.2h-1.2zM349.1 62.2h1.2v1.2h-1.2zM351.4 58.8h1.2v1.2h-1.2zM349.2 83.6h1.2v1.2h-1.2zM350.4 64.9h1.2v1.2h-1.2zM349.0 49.8h1.2v1.2h-1.2zM345.5 60.5h1.2v1.2h-1.2zM352.1 70.3h1.2v1.2h-1.2zM351.2 76.2h1.2v1.2h-1.2zM350.7 45.5h1.2v1.2h-1.2zM349.8 49.2h1.2v1.2h-1.2zM346.5 46.1h1.2v1.2h-1.2zM352.6 49.8h1.2v1.2h-1.2zM347.5 71.0h1.2v1.2h-1.2zM347.6 71.6h1.2v1.2h-1.2zM348.9 39.1h1.2v1.2h-1.2zM347.1 59.7h1.2v1.2h-1.2zM346.2 87.3h1.2v1.2h-1.2zM349.8 85.5h1.2v1.2h-1.2zM348.8 88.0h1.2v1.2h-1.2zM347.4 41.7h1.2v1.2h-1.2zM347.4 189.3h1.1v1.1h-1.1zM343.0 170.6h1.1v1.1h-1.1zM345.1 168.3h1.1v1.1h-1.1zM346.8 181.7h1.1v1.1h-1.1zM344.9 171.4h1.1v1.1h-1.1zM344.1 161.7h1.1v1.1h-1.1zM344.6 157.5h1.1v1.1h-1.1zM346.9 164.5h1.1v1.1h-1.1zM343.2 178.8h1.1v1.1h-1.1zM345.9 178.1h1.1v1.1h-1.1zM347.3 193.3h1.1v1.1h-1.1zM344.8 154.4h1.1v1.1h-1.1zM342.6 163.9h1.1v1.1h-1.1zM342.9 162.7h1.1v1.1h-1.1zM341.2 184.5h1.1v1.1h-1.1zM342.9 172.5h1.1v1.1h-1.1zM344.6 169.4h1.1v1.1h-1.1zM346.2 161.2h1.1v1.1h-1.1zM340.6 183.8h1.1v1.1h-1.1zM344.7 183.6h1.1v1.1h-1.1zM341.6 178.5h1.1v1.1h-1.1zM344.5 182.1h1.1v1.1h-1.1zM343.0 188.4h1.1v1.1h-1.1zM346.0 193.2h1.1v1.1h-1.1zM341.5 184.8h1.1v1.1h-1.1zM346.2 158.4h1.1v1.1h-1.1zM345.0 180.8h1.1v1.1h-1.1zM346.3 161.7h1.1v1.1h-1.1zM346.4 191.5h1.1v1.1h-1.1zM347.7 168.1h1.1v1.1h-1.1zM343.2 190.6h1.1v1.1h-1.1zM344.0 187.9h1.1v1.1h-1.1zM343.5 177.7h1.1v1.1h-1.1zM346.5 189.2h1.1v1.1h-1.1zM347.4 165.0h1.1v1.1h-1.1zM344.7 166.2h1.1v1.1h-1.1zM341.8 163.4h1.1v1.1h-1.1zM347.8 172.1h1.1v1.1h-1.1zM344.1 182.4h1.1v1.1h-1.1zM342.5 176.7h1.1v1.1h-1.1z"/>
<path fill="#f27088" d="M347.0 69.4h1.2v1.2h-1.2zM350.8 36.1h1.2v1.2h-1.2zM350.7 64.4h1.2v1.2h-1.2zM352.4 71.4h1.2v1.2h-1.2zM348.3 83.2h1.2v1.2h-1.2zM348.0 56.9h1.2v1.2h-1.2zM347.1 68.7h1.2v1.2h-1.2zM352.0 86.4h1.2v1.2h-1.2zM350.0 83.4h1.2v1.2h-1.2zM347.1 57.7h1.2v1.2h-1.2zM347.6 71.4h1.2v1.2h-1.2zM351.7 46.3h1.2v1.2h-1.2zM352.1 84.0h1.2v1.2h-1.2zM349.4 71.0h1.2v1.2h-1.2zM349.0 48.7h1.2v1.2h-1.2zM352.0 39.8h1.2v1.2h-1.2zM348.1 60.1h1.2v1.2h-1.2zM345.8 36.6h1.2v1.2h-1.2zM352.3 71.8h1.2v1.2h-1.2zM345.6 50.5h1.2v1.2h-1.2zM350.2 41.8h1.2v1.2h-1.2zM350.8 66.2h1.2v1.2h-1.2zM349.7 37.0h1.2v1.2h-1.2zM348.6 81.8h1.2v1.2h-1.2zM349.5 40.0h1.2v1.2h-1.2zM348.7 87.3h1.2v1.2h-1.2zM346.9 67.4h1.2v1.2h-1.2zM347.8 59.1h1.2v1.2h-1.2zM347.9 63.7h1.2v1.2h-1.2zM347.2 72.8h1.2v1.2h-1.2zM352.2 37.2h1.2v1.2h-1.2zM348.5 73.9h1.2v1.2h-1.2zM348.7 57.3h1.2v1.2h-1.2zM350.2 68.1h1.2v1.2h-1.2zM352.0 41.8h1.2v1.2h-1.2zM346.4 36.2h1.2v1.2h-1.2zM349.2 56.1h1.2v1.2h-1.2zM348.9 81.0h1.2v1.2h-1.2zM345.9 66.6h1.2v1.2h-1.2zM350.1 50.1h1.2v1.2h-1.2zM345.2 39.1h1.2v1.2h-1.2zM350.7 80.1h1.2v1.2h-1.2zM350.9 71.2h1.2v1.2h-1.2zM340.7 172.9h1.1v1.1h-1.1zM343.3 187.4h1.1v1.1h-1.1zM342.8 177.2h1.1v1.1h-1.1zM343.5 187.9h1.1v1.1h-1.1zM342.9 163.1h1.1v1.1h-1.1zM343.5 161.7h1.1v1.1h-1.1zM342.5 192.8h1.1v1.1h-1.1zM347.1 163.2h1.1v1.1h-1.1zM345.1 163.3h1.1v1.1h-1.1zM344.7 167.5h1.1v1.1h-1.1zM343.3 170.7h1.1v1.1h-1.1zM344.9 174.8h1.1v1.1h-1.1zM342.4 155.7h1.1v1.1h-1.1zM345.6 182.1h1.1v1.1h-1.1zM344.1 178.8h1.1v1.1h-1.1zM341.5 190.8h1.1v1.1h-1.1zM348.5 190.3h1.1v1.1h-1.1z"/>
<path fill="#92a63c" d="M339.3 112.4h1.2v1.2h-1.2zM343.5 91.7h1.2v1.2h-1.2zM343.6 95.2h1.2v1.2h-1.2zM343.0 104.8h1.2v1.2h-1.2zM341.5 111.7h1.2v1.2h-1.2zM339.1 111.8h1.2v1.2h-1.2zM340.0 89.1h1.2v1.2h-1.2zM342.5 99.3h1.2v1.2h-1.2zM338.6 107.2h1.2v1.2h-1.2zM342.5 107.9h1.2v1.2h-1.2zM338.6 89.7h1.2v1.2h-1.2zM342.4 98.1h1.2v1.2h-1.2zM340.3 98.6h1.2v1.2h-1.2zM339.3 88.6h1.2v1.2h-1.2zM341.8 99.9h1.2v1.2h-1.2zM340.3 99.5h1.2v1.2h-1.2zM340.4 112.2h1.2v1.2h-1.2zM342.8 106.9h1.2v1.2h-1.2zM338.5 112.2h1.2v1.2h-1.2zM339.4 110.1h1.2v1.2h-1.2zM341.3 90.4h1.2v1.2h-1.2zM343.9 94.2h1.2v1.2h-1.2zM338.2 112.1h1.2v1.2h-1.2zM339.8 90.8h1.2v1.2h-1.2zM339.1 108.6h1.2v1.2h-1.2zM342.3 97.8h1.2v1.2h-1.2zM338.9 95.2h1.2v1.2h-1.2zM339.4 111.0h1.2v1.2h-1.2zM338.6 90.2h1.2v1.2h-1.2zM340.5 88.0h1.2v1.2h-1.2zM341.1 96.5h1.2v1.2h-1.2zM342.5 93.0h1.2v1.2h-1.2zM341.8 91.2h1.2v1.2h-1.2zM338.2 92.9h1.2v1.2h-1.2zM342.7 103.3h1.2v1.2h-1.2zM343.6 100.1h1.2v1.2h-1.2zM340.5 89.6h1.2v1.2h-1.2zM343.7 98.2h1.2v1.2h-1.2zM341.3 96.0h1.2v1.2h-1.2zM341.8 112.2h1.2v1.2h-1.2zM341.2 105.5h1.2v1.2h-1.2zM338.6 92.4h1.2v1.2h-1.2zM341.9 96.5h1.2v1.2h-1.2zM340.0 93.5h1.2v1.2h-1.2zM342.6 88.4h1.2v1.2h-1.2zM342.6 111.8h1.2v1.2h-1.2zM341.7 96.0h1.2v1.2h-1.2zM343.1 109.0h1.2v1.2h-1.2zM340.3 92.5h1.2v1.2h-1.2zM340.6 103.8h1.2v1.2h-1.2zM342.2 105.4h1.2v1.2h-1.2zM341.8 101.3h1.2v1.2h-1.2zM340.6 92.9h1.2v1.2h-1.2zM343.2 101.4h1.2v1.2h-1.2zM343.7 96.8h1.2v1.2h-1.2zM340.4 109.6h1.2v1.2h-1.2zM342.5 107.5h1.2v1.2h-1.2zM339.5 105.0h1.2v1.2h-1.2zM341.0 101.5h1.2v1.2h-1.2zM343.8 99.3h1.2v1.2h-1.2zM342.0 112.2h1.2v1.2h-1.2zM339.9 94.1h1.2v1.2h-1.2zM339.3 95.3h1.2v1.2h-1.2zM341.8 89.8h1.2v1.2h-1.2zM339.7 95.3h1.2v1.2h-1.2zM342.4 111.9h1.2v1.2h-1.2zM338.5 109.8h1.2v1.2h-1.2zM343.4 99.8h1.2v1.2h-1.2zM338.7 90.9h1.2v1.2h-1.2zM104.7 214.2h1.1v1.1h-1.1zM109.7 216.8h1.1v1.1h-1.1zM110.4 206.7h1.1v1.1h-1.1zM102.5 216.0h1.1v1.1h-1.1zM102.2 209.5h1.1v1.1h-1.1zM103.6 207.9h1.1v1.1h-1.1zM107.2 206.6h1.1v1.1h-1.1zM219.1 214.3h1.1v1.1h-1.1zM226.6 210.5h1.1v1.1h-1.1zM216.9 211.6h1.1v1.1h-1.1zM224.0 203.6h1.1v1.1h-1.1zM226.8 212.0h1.1v1.1h-1.1zM217.2 220.0h1.1v1.1h-1.1zM225.5 214.9h1.1v1.1h-1.1zM222.5 215.9h1.1v1.1h-1.1zM225.3 212.1h1.1v1.1h-1.1zM226.5 220.8h1.1v1.1h-1.1zM227.1 206.8h1.1v1.1h-1.1zM223.4 224.3h1.1v1.1h-1.1zM215.7 212.5h1.1v1.1h-1.1zM215.7 216.9h1.1v1.1h-1.1zM223.2 211.3h1.1v1.1h-1.1zM227.5 223.7h1.1v1.1h-1.1zM221.9 210.5h1.1v1.1h-1.1zM218.1 208.0h1.1v1.1h-1.1zM226.4 222.0h1.1v1.1h-1.1zM219.3 203.5h1.1v1.1h-1.1zM227.3 219.0h1.1v1.1h-1.1zM221.8 220.6h1.1v1.1h-1.1zM216.1 213.2h1.1v1.1h-1.1zM224.2 203.3h1.1v1.1h-1.1zM339.4 210.0h1.1v1.1h-1.1zM337.4 220.9h1.1v1.1h-1.1zM336.4 217.0h1.1v1.1h-1.1zM338.2 223.3h1.1v1.1h-1.1zM333.4 199.0h1.1v1.1h-1.1zM338.2 208.6h1.1v1.1h-1.1zM338.8 209.6h1.1v1.1h-1.1zM340.7 200.0h1.1v1.1h-1.1zM339.5 211.0h1.1v1.1h-1.1zM335.1 214.3h1.1v1.1h-1.1zM340.4 220.4h1.1v1.1h-1.1zM337.2 201.3h1.1v1.1h-1.1zM337.8 218.9h1.1v1.1h-1.1zM340.8 197.4h1.1v1.1h-1.1zM336.9 202.1h1.1v1.1h-1.1zM338.6 219.2h1.1v1.1h-1.1zM340.2 203.2h1.1v1.1h-1.1zM339.6 211.0h1.1v1.1h-1.1zM337.7 216.2h1.1v1.1h-1.1zM336.7 197.3h1.1v1.1h-1.1zM338.9 224.3h1.1v1.1h-1.1zM336.9 213.4h1.1v1.1h-1.1zM334.2 198.6h1.1v1.1h-1.1zM339.4 203.4h1.1v1.1h-1.1zM337.8 212.3h1.1v1.1h-1.1zM340.4 210.0h1.1v1.1h-1.1zM336.8 198.4h1.1v1.1h-1.1zM336.6 216.6h1.1v1.1h-1.1zM337.8 220.9h1.1v1.1h-1.1zM335.5 204.7h1.1v1.1h-1.1zM336.2 202.3h1.1v1.1h-1.1zM336.8 216.9h1.1v1.1h-1.1zM337.7 200.2h1.1v1.1h-1.1zM336.9 208.0h1.1v1.1h-1.1zM338.8 221.7h1.1v1.1h-1.1zM337.7 207.2h1.1v1.1h-1.1zM340.2 206.8h1.1v1.1h-1.1zM337.6 197.0h1.1v1.1h-1.1zM335.2 201.4h1.1v1.1h-1.1zM337.4 222.7h1.1v1.1h-1.1zM338.0 217.9h1.1v1.1h-1.1zM337.8 198.5h1.1v1.1h-1.1zM338.3 207.8h1.1v1.1h-1.1zM340.3 220.6h1.1v1.1h-1.1zM339.4 214.7h1.1v1.1h-1.1zM339.8 199.2h1.1v1.1h-1.1zM335.0 203.4h1.1v1.1h-1.1zM337.1 210.8h1.1v1.1h-1.1zM337.3 196.9h1.1v1.1h-1.1zM339.0 216.1h1.1v1.1h-1.1zM338.8 217.4h1.1v1.1h-1.1zM339.1 198.3h1.1v1.1h-1.1zM336.1 211.7h1.1v1.1h-1.1zM337.9 222.7h1.1v1.1h-1.1zM338.2 203.0h1.1v1.1h-1.1zM335.7 209.1h1.1v1.1h-1.1zM337.5 216.3h1.1v1.1h-1.1zM334.7 200.7h1.1v1.1h-1.1zM335.1 196.1h1.1v1.1h-1.1zM339.5 210.8h1.1v1.1h-1.1z"/>
<path fill="#587020" d="M342.2 93.2h1.2v1.2h-1.2zM337.6 88.8h1.2v1.2h-1.2zM339.1 99.1h1.2v1.2h-1.2zM341.7 95.8h1.2v1.2h-1.2zM340.7 97.4h1.2v1.2h-1.2zM341.8 96.7h1.2v1.2h-1.2zM342.7 108.9h1.2v1.2h-1.2zM338.9 91.6h1.2v1.2h-1.2zM339.4 93.1h1.2v1.2h-1.2zM341.0 113.3h1.2v1.2h-1.2zM343.8 112.2h1.2v1.2h-1.2zM340.8 104.5h1.2v1.2h-1.2zM338.7 109.7h1.2v1.2h-1.2zM340.0 103.1h1.2v1.2h-1.2zM337.7 95.4h1.2v1.2h-1.2zM342.7 98.9h1.2v1.2h-1.2zM340.7 88.7h1.2v1.2h-1.2zM342.3 108.9h1.2v1.2h-1.2zM338.7 96.2h1.2v1.2h-1.2zM341.5 101.2h1.2v1.2h-1.2zM343.4 101.2h1.2v1.2h-1.2zM340.8 90.0h1.2v1.2h-1.2zM340.7 101.0h1.2v1.2h-1.2zM342.2 89.6h1.2v1.2h-1.2zM342.1 111.3h1.2v1.2h-1.2zM338.1 100.7h1.2v1.2h-1.2zM341.9 99.7h1.2v1.2h-1.2zM338.3 87.4h1.2v1.2h-1.2zM343.3 110.0h1.2v1.2h-1.2zM343.3 99.2h1.2v1.2h-1.2zM341.9 94.7h1.2v1.2h-1.2zM341.8 99.2h1.2v1.2h-1.2zM340.5 105.6h1.2v1.2h-1.2zM339.6 92.3h1.2v1.2h-1.2zM343.6 98.9h1.2v1.2h-1.2zM342.6 107.5h1.2v1.2h-1.2zM341.2 106.3h1.2v1.2h-1.2zM338.9 94.7h1.2v1.2h-1.2zM339.6 111.8h1.2v1.2h-1.2zM342.6 90.1h1.2v1.2h-1.2zM340.5 96.7h1.2v1.2h-1.2zM342.0 112.7h1.2v1.2h-1.2zM341.6 100.8h1.2v1.2h-1.2zM342.7 89.1h1.2v1.2h-1.2zM340.2 107.8h1.2v1.2h-1.2zM343.3 101.5h1.2v1.2h-1.2zM338.6 110.6h1.2v1.2h-1.2zM341.3 100.5h1.2v1.2h-1.2zM339.3 94.7h1.2v1.2h-1.2zM340.8 105.1h1.2v1.2h-1.2zM337.7 100.0h1.2v1.2h-1.2zM343.3 107.8h1.2v1.2h-1.2zM340.6 91.4h1.2v1.2h-1.2zM342.3 99.5h1.2v1.2h-1.2zM342.6 108.4h1.2v1.2h-1.2zM339.0 103.0h1.2v1.2h-1.2zM340.9 96.1h1.2v1.2h-1.2zM339.6 89.0h1.2v1.2h-1.2zM340.4 91.6h1.2v1.2h-1.2zM342.3 100.9h1.2v1.2h-1.2zM342.0 93.9h1.2v1.2h-1.2zM340.1 95.0h1.2v1.2h-1.2zM340.7 109.6h1.2v1.2h-1.2zM340.9 95.2h1.2v1.2h-1.2zM342.7 105.0h1.2v1.2h-1.2zM340.2 108.5h1.2v1.2h-1.2zM338.2 103.0h1.2v1.2h-1.2zM343.7 99.8h1.2v1.2h-1.2zM339.3 96.9h1.2v1.2h-1.2zM339.1 89.1h1.2v1.2h-1.2zM341.2 95.1h1.2v1.2h-1.2zM108.6 215.4h1.1v1.1h-1.1zM103.8 207.7h1.1v1.1h-1.1zM105.4 211.5h1.1v1.1h-1.1zM104.4 216.4h1.1v1.1h-1.1zM106.2 206.7h1.1v1.1h-1.1zM110.7 209.7h1.1v1.1h-1.1zM102.9 211.3h1.1v1.1h-1.1zM109.3 210.3h1.1v1.1h-1.1zM101.9 210.6h1.1v1.1h-1.1zM217.1 224.9h1.1v1.1h-1.1zM215.2 215.1h1.1v1.1h-1.1zM226.1 214.0h1.1v1.1h-1.1zM220.8 205.2h1.1v1.1h-1.1zM218.7 224.8h1.1v1.1h-1.1zM225.7 217.1h1.1v1.1h-1.1zM219.2 211.0h1.1v1.1h-1.1zM224.6 218.9h1.1v1.1h-1.1zM217.8 206.1h1.1v1.1h-1.1zM218.8 213.6h1.1v1.1h-1.1zM224.2 224.3h1.1v1.1h-1.1zM216.4 206.0h1.1v1.1h-1.1zM216.6 204.8h1.1v1.1h-1.1zM219.3 222.2h1.1v1.1h-1.1zM218.1 205.6h1.1v1.1h-1.1zM227.7 206.9h1.1v1.1h-1.1zM217.0 210.8h1.1v1.1h-1.1zM224.1 212.0h1.1v1.1h-1.1zM224.6 214.3h1.1v1.1h-1.1zM222.3 205.1h1.1v1.1h-1.1zM225.0 208.1h1.1v1.1h-1.1zM335.9 212.4h1.1v1.1h-1.1zM338.2 221.4h1.1v1.1h-1.1zM335.1 209.3h1.1v1.1h-1.1zM339.0 203.4h1.1v1.1h-1.1zM339.6 212.1h1.1v1.1h-1.1zM336.7 197.8h1.1v1.1h-1.1zM336.3 219.5h1.1v1.1h-1.1zM337.1 219.3h1.1v1.1h-1.1zM335.5 197.8h1.1v1.1h-1.1zM339.5 212.9h1.1v1.1h-1.1zM339.6 199.3h1.1v1.1h-1.1zM336.5 209.7h1.1v1.1h-1.1zM341.2 201.8h1.1v1.1h-1.1zM340.5 197.5h1.1v1.1h-1.1zM339.0 220.8h1.1v1.1h-1.1zM339.1 214.3h1.1v1.1h-1.1zM340.3 221.5h1.1v1.1h-1.1zM335.4 196.8h1.1v1.1h-1.1zM335.5 214.3h1.1v1.1h-1.1zM334.3 198.2h1.1v1.1h-1.1zM337.6 222.3h1.1v1.1h-1.1zM334.1 205.6h1.1v1.1h-1.1zM337.6 224.3h1.1v1.1h-1.1zM334.4 202.6h1.1v1.1h-1.1zM337.1 213.2h1.1v1.1h-1.1zM338.1 196.2h1.1v1.1h-1.1zM333.5 197.5h1.1v1.1h-1.1zM338.6 222.7h1.1v1.1h-1.1zM337.3 214.8h1.1v1.1h-1.1zM337.7 220.0h1.1v1.1h-1.1zM335.1 201.2h1.1v1.1h-1.1zM338.3 210.9h1.1v1.1h-1.1zM337.1 211.6h1.1v1.1h-1.1zM338.7 220.9h1.1v1.1h-1.1zM339.6 214.6h1.1v1.1h-1.1zM337.2 207.0h1.1v1.1h-1.1zM335.6 212.3h1.1v1.1h-1.1zM338.3 201.2h1.1v1.1h-1.1zM336.4 221.1h1.1v1.1h-1.1zM334.4 198.6h1.1v1.1h-1.1zM335.9 216.1h1.1v1.1h-1.1zM339.4 200.0h1.1v1.1h-1.1zM337.0 211.7h1.1v1.1h-1.1zM338.7 197.0h1.1v1.1h-1.1zM336.6 219.7h1.1v1.1h-1.1zM336.7 222.9h1.1v1.1h-1.1zM338.7 197.6h1.1v1.1h-1.1zM338.7 198.3h1.1v1.1h-1.1zM337.6 197.5h1.1v1.1h-1.1zM340.1 203.2h1.1v1.1h-1.1zM333.7 197.2h1.1v1.1h-1.1zM335.4 209.2h1.1v1.1h-1.1zM338.8 216.0h1.1v1.1h-1.1zM336.1 206.6h1.1v1.1h-1.1zM336.5 210.2h1.1v1.1h-1.1zM336.9 195.6h1.1v1.1h-1.1zM338.2 200.7h1.1v1.1h-1.1zM335.3 208.9h1.1v1.1h-1.1zM338.4 198.4h1.1v1.1h-1.1zM339.5 219.3h1.1v1.1h-1.1zM339.5 200.8h1.1v1.1h-1.1zM334.8 197.8h1.1v1.1h-1.1zM339.3 202.9h1.1v1.1h-1.1zM336.2 203.8h1.1v1.1h-1.1zM336.2 213.6h1.1v1.1h-1.1zM336.0 206.3h1.1v1.1h-1.1zM338.0 213.4h1.1v1.1h-1.1zM340.4 211.5h1.1v1.1h-1.1zM338.4 210.1h1.1v1.1h-1.1zM334.9 198.4h1.1v1.1h-1.1zM335.8 200.4h1.1v1.1h-1.1zM336.3 195.9h1.1v1.1h-1.1zM339.9 207.8h1.1v1.1h-1.1zM338.5 214.2h1.1v1.1h-1.1zM335.6 203.3h1.1v1.1h-1.1zM339.2 204.2h1.1v1.1h-1.1zM337.1 201.9h1.1v1.1h-1.1z"/>
<path fill="#d0d488" d="M339.5 98.3h1.2v1.2h-1.2zM342.8 113.4h1.2v1.2h-1.2zM340.4 112.0h1.2v1.2h-1.2zM341.4 100.4h1.2v1.2h-1.2zM338.7 101.5h1.2v1.2h-1.2zM340.3 98.2h1.2v1.2h-1.2zM339.9 91.3h1.2v1.2h-1.2zM341.5 93.0h1.2v1.2h-1.2zM339.4 105.5h1.2v1.2h-1.2zM343.2 103.9h1.2v1.2h-1.2zM339.0 94.6h1.2v1.2h-1.2zM340.5 101.0h1.2v1.2h-1.2zM337.8 108.2h1.2v1.2h-1.2zM340.2 99.1h1.2v1.2h-1.2zM343.0 92.9h1.2v1.2h-1.2zM342.7 111.9h1.2v1.2h-1.2zM340.9 89.9h1.2v1.2h-1.2zM340.6 90.0h1.2v1.2h-1.2zM343.8 113.2h1.2v1.2h-1.2zM339.1 109.0h1.2v1.2h-1.2zM341.5 93.6h1.2v1.2h-1.2zM339.3 95.8h1.2v1.2h-1.2zM338.2 90.2h1.2v1.2h-1.2zM339.9 111.6h1.2v1.2h-1.2zM342.6 110.4h1.2v1.2h-1.2zM342.0 107.0h1.2v1.2h-1.2zM342.0 103.9h1.2v1.2h-1.2zM342.2 104.1h1.2v1.2h-1.2zM338.2 91.5h1.2v1.2h-1.2zM338.1 89.9h1.2v1.2h-1.2zM108.4 212.2h1.1v1.1h-1.1zM107.7 211.3h1.1v1.1h-1.1zM108.2 208.5h1.1v1.1h-1.1zM106.0 208.9h1.1v1.1h-1.1zM218.5 205.5h1.1v1.1h-1.1zM223.9 221.6h1.1v1.1h-1.1zM220.6 224.1h1.1v1.1h-1.1zM225.9 202.8h1.1v1.1h-1.1zM223.3 204.5h1.1v1.1h-1.1zM220.1 223.5h1.1v1.1h-1.1zM217.9 209.1h1.1v1.1h-1.1zM215.5 212.7h1.1v1.1h-1.1zM219.5 219.4h1.1v1.1h-1.1zM221.8 212.1h1.1v1.1h-1.1zM337.5 204.9h1.1v1.1h-1.1zM336.7 213.8h1.1v1.1h-1.1zM339.6 215.9h1.1v1.1h-1.1zM334.3 198.2h1.1v1.1h-1.1zM340.1 198.4h1.1v1.1h-1.1zM336.3 201.1h1.1v1.1h-1.1zM339.5 205.9h1.1v1.1h-1.1zM338.5 206.3h1.1v1.1h-1.1zM339.3 198.3h1.1v1.1h-1.1zM335.5 209.7h1.1v1.1h-1.1zM334.2 200.4h1.1v1.1h-1.1zM335.1 204.1h1.1v1.1h-1.1zM336.2 205.6h1.1v1.1h-1.1zM338.9 204.4h1.1v1.1h-1.1zM338.1 223.4h1.1v1.1h-1.1zM340.3 215.6h1.1v1.1h-1.1zM336.9 196.8h1.1v1.1h-1.1zM334.1 199.1h1.1v1.1h-1.1zM334.7 205.0h1.1v1.1h-1.1zM336.4 219.0h1.1v1.1h-1.1zM339.9 220.0h1.1v1.1h-1.1zM335.5 203.2h1.1v1.1h-1.1zM337.1 197.1h1.1v1.1h-1.1zM336.1 202.4h1.1v1.1h-1.1zM335.9 197.8h1.1v1.1h-1.1zM338.6 202.0h1.1v1.1h-1.1zM339.2 214.6h1.1v1.1h-1.1zM333.9 201.3h1.1v1.1h-1.1zM334.7 197.8h1.1v1.1h-1.1zM340.4 212.9h1.1v1.1h-1.1zM338.6 211.4h1.1v1.1h-1.1zM333.9 199.7h1.1v1.1h-1.1zM333.6 197.0h1.1v1.1h-1.1zM334.9 204.0h1.1v1.1h-1.1zM340.4 217.9h1.1v1.1h-1.1zM339.8 224.1h1.1v1.1h-1.1zM337.0 213.4h1.1v1.1h-1.1zM336.6 215.0h1.1v1.1h-1.1zM337.0 218.7h1.1v1.1h-1.1zM337.0 210.7h1.1v1.1h-1.1zM339.2 209.5h1.1v1.1h-1.1zM334.4 204.2h1.1v1.1h-1.1zM336.1 208.3h1.1v1.1h-1.1z"/>
<path fill="#aaa4aa" d="M351.3 92.7h1.1v1.1h-1.1zM352.9 105.7h1.1v1.1h-1.1zM353.0 112.5h1.1v1.1h-1.1zM347.5 109.3h1.1v1.1h-1.1zM345.4 102.2h1.1v1.1h-1.1zM345.4 93.4h1.1v1.1h-1.1zM348.6 91.1h1.1v1.1h-1.1zM353.8 109.1h1.1v1.1h-1.1zM347.2 94.5h1.1v1.1h-1.1zM346.4 104.9h1.1v1.1h-1.1zM352.7 95.6h1.1v1.1h-1.1zM350.4 92.8h1.1v1.1h-1.1zM346.7 97.2h1.1v1.1h-1.1zM346.4 100.9h1.1v1.1h-1.1zM346.9 103.6h1.1v1.1h-1.1zM346.6 100.9h1.1v1.1h-1.1zM345.8 104.0h1.1v1.1h-1.1zM349.6 105.7h1.1v1.1h-1.1zM352.3 103.3h1.1v1.1h-1.1zM350.1 90.8h1.1v1.1h-1.1zM348.3 101.0h1.1v1.1h-1.1zM345.9 104.4h1.1v1.1h-1.1zM349.3 99.1h1.1v1.1h-1.1zM348.0 101.3h1.1v1.1h-1.1zM352.2 108.2h1.1v1.1h-1.1zM352.2 109.9h1.1v1.1h-1.1zM351.6 107.8h1.1v1.1h-1.1zM350.3 110.8h1.1v1.1h-1.1zM349.9 95.2h1.1v1.1h-1.1zM348.5 98.2h1.1v1.1h-1.1zM349.7 106.3h1.1v1.1h-1.1zM347.8 106.7h1.1v1.1h-1.1zM350.5 99.1h1.1v1.1h-1.1zM348.2 103.9h1.1v1.1h-1.1zM346.7 111.2h1.1v1.1h-1.1zM352.5 94.1h1.1v1.1h-1.1zM346.2 96.6h1.1v1.1h-1.1zM346.4 93.2h1.1v1.1h-1.1zM346.2 92.2h1.1v1.1h-1.1zM351.9 113.5h1.1v1.1h-1.1zM346.1 107.6h1.1v1.1h-1.1zM349.5 112.6h1.1v1.1h-1.1zM348.0 107.6h1.1v1.1h-1.1zM345.5 109.4h1.1v1.1h-1.1zM346.9 94.0h1.1v1.1h-1.1zM345.7 105.4h1.1v1.1h-1.1zM350.9 93.5h1.1v1.1h-1.1zM352.3 111.9h1.1v1.1h-1.1zM350.4 96.7h1.1v1.1h-1.1zM345.9 103.4h1.1v1.1h-1.1zM348.5 109.3h1.1v1.1h-1.1zM347.8 99.6h1.1v1.1h-1.1zM352.9 103.4h1.1v1.1h-1.1zM349.2 108.0h1.1v1.1h-1.1zM347.8 102.9h1.1v1.1h-1.1zM351.1 111.6h1.1v1.1h-1.1zM346.8 104.5h1.1v1.1h-1.1zM350.8 95.6h1.1v1.1h-1.1zM352.8 101.3h1.1v1.1h-1.1zM351.9 94.1h1.1v1.1h-1.1zM352.4 99.4h1.1v1.1h-1.1zM344.8 110.6h1.1v1.1h-1.1zM348.8 104.6h1.1v1.1h-1.1zM350.5 108.9h1.1v1.1h-1.1zM353.4 103.8h1.1v1.1h-1.1zM352.7 113.0h1.1v1.1h-1.1zM348.7 93.2h1.1v1.1h-1.1zM348.2 92.6h1.1v1.1h-1.1zM349.8 96.7h1.1v1.1h-1.1zM350.4 96.2h1.1v1.1h-1.1zM346.0 102.8h1.1v1.1h-1.1zM346.6 92.6h1.1v1.1h-1.1zM346.4 101.7h1.1v1.1h-1.1zM348.4 107.8h1.1v1.1h-1.1zM352.6 107.3h1.1v1.1h-1.1zM346.0 112.9h1.1v1.1h-1.1zM346.9 100.2h1.1v1.1h-1.1zM350.9 113.2h1.1v1.1h-1.1zM345.9 108.5h1.1v1.1h-1.1zM350.5 94.7h1.1v1.1h-1.1zM348.7 98.0h1.1v1.1h-1.1zM352.6 105.8h1.1v1.1h-1.1zM351.4 107.9h1.1v1.1h-1.1zM347.5 102.1h1.1v1.1h-1.1zM350.6 94.4h1.1v1.1h-1.1zM347.3 110.0h1.1v1.1h-1.1zM348.8 93.7h1.1v1.1h-1.1zM353.6 106.1h1.1v1.1h-1.1zM352.1 100.1h1.1v1.1h-1.1zM350.4 100.1h1.1v1.1h-1.1zM348.7 109.5h1.1v1.1h-1.1zM345.9 106.4h1.1v1.1h-1.1zM353.4 109.2h1.1v1.1h-1.1zM351.2 96.4h1.1v1.1h-1.1zM349.9 109.7h1.1v1.1h-1.1zM345.2 108.7h1.1v1.1h-1.1zM352.7 113.2h1.1v1.1h-1.1zM346.2 109.5h1.1v1.1h-1.1z"/>
<path fill="#bcb6bc" d="M345.9 95.6h1.1v1.1h-1.1zM351.3 111.0h1.1v1.1h-1.1zM352.0 102.1h1.1v1.1h-1.1zM351.2 96.5h1.1v1.1h-1.1zM346.8 105.6h1.1v1.1h-1.1zM350.3 103.4h1.1v1.1h-1.1zM350.1 96.4h1.1v1.1h-1.1zM351.7 103.3h1.1v1.1h-1.1zM348.6 110.2h1.1v1.1h-1.1zM348.9 107.9h1.1v1.1h-1.1zM350.5 103.1h1.1v1.1h-1.1zM349.6 91.8h1.1v1.1h-1.1zM352.2 97.9h1.1v1.1h-1.1zM350.0 99.4h1.1v1.1h-1.1zM347.7 100.0h1.1v1.1h-1.1zM345.1 102.5h1.1v1.1h-1.1zM351.4 100.7h1.1v1.1h-1.1zM350.1 94.5h1.1v1.1h-1.1zM353.3 110.3h1.1v1.1h-1.1zM345.6 94.8h1.1v1.1h-1.1zM346.0 105.4h1.1v1.1h-1.1zM345.1 109.3h1.1v1.1h-1.1zM349.1 98.1h1.1v1.1h-1.1zM352.2 106.0h1.1v1.1h-1.1zM346.7 97.0h1.1v1.1h-1.1zM346.2 112.8h1.1v1.1h-1.1zM349.7 110.7h1.1v1.1h-1.1zM351.7 104.0h1.1v1.1h-1.1zM347.5 109.0h1.1v1.1h-1.1zM348.2 111.7h1.1v1.1h-1.1zM345.2 94.7h1.1v1.1h-1.1zM350.2 99.3h1.1v1.1h-1.1zM353.5 107.3h1.1v1.1h-1.1zM350.4 106.3h1.1v1.1h-1.1zM347.2 104.8h1.1v1.1h-1.1zM351.6 99.8h1.1v1.1h-1.1zM346.7 109.3h1.1v1.1h-1.1zM350.3 95.9h1.1v1.1h-1.1zM349.2 107.2h1.1v1.1h-1.1zM350.5 106.5h1.1v1.1h-1.1zM347.8 107.0h1.1v1.1h-1.1zM352.2 113.4h1.1v1.1h-1.1zM350.0 94.7h1.1v1.1h-1.1zM351.5 94.0h1.1v1.1h-1.1zM346.5 112.9h1.1v1.1h-1.1zM351.5 108.2h1.1v1.1h-1.1zM349.0 112.7h1.1v1.1h-1.1zM349.3 103.0h1.1v1.1h-1.1zM347.5 104.2h1.1v1.1h-1.1zM353.8 101.5h1.1v1.1h-1.1zM352.8 98.8h1.1v1.1h-1.1zM348.1 97.0h1.1v1.1h-1.1zM352.4 105.8h1.1v1.1h-1.1zM350.4 106.5h1.1v1.1h-1.1zM349.6 108.9h1.1v1.1h-1.1zM348.6 107.8h1.1v1.1h-1.1zM349.1 112.5h1.1v1.1h-1.1zM352.6 109.8h1.1v1.1h-1.1zM352.5 99.1h1.1v1.1h-1.1zM347.2 103.7h1.1v1.1h-1.1zM352.3 112.9h1.1v1.1h-1.1zM347.3 91.1h1.1v1.1h-1.1zM352.3 100.7h1.1v1.1h-1.1zM345.3 113.0h1.1v1.1h-1.1zM345.5 100.8h1.1v1.1h-1.1zM350.7 96.1h1.1v1.1h-1.1zM353.0 93.2h1.1v1.1h-1.1zM351.2 90.9h1.1v1.1h-1.1zM347.3 98.5h1.1v1.1h-1.1zM353.3 104.8h1.1v1.1h-1.1zM348.5 110.7h1.1v1.1h-1.1zM352.6 107.4h1.1v1.1h-1.1zM351.7 98.6h1.1v1.1h-1.1zM346.1 103.8h1.1v1.1h-1.1zM345.5 99.3h1.1v1.1h-1.1zM351.8 102.2h1.1v1.1h-1.1zM349.0 100.3h1.1v1.1h-1.1zM347.4 98.4h1.1v1.1h-1.1zM350.4 104.2h1.1v1.1h-1.1zM347.4 91.2h1.1v1.1h-1.1zM349.6 106.3h1.1v1.1h-1.1zM346.2 97.8h1.1v1.1h-1.1zM349.6 93.7h1.1v1.1h-1.1zM345.4 105.5h1.1v1.1h-1.1zM347.0 92.9h1.1v1.1h-1.1zM350.6 109.3h1.1v1.1h-1.1zM347.4 107.3h1.1v1.1h-1.1zM352.0 95.7h1.1v1.1h-1.1zM349.5 95.2h1.1v1.1h-1.1zM353.0 92.7h1.1v1.1h-1.1zM347.2 95.4h1.1v1.1h-1.1zM347.9 104.5h1.1v1.1h-1.1zM353.1 109.3h1.1v1.1h-1.1zM347.6 105.3h1.1v1.1h-1.1zM346.2 109.9h1.1v1.1h-1.1zM348.8 93.1h1.1v1.1h-1.1zM349.0 94.4h1.1v1.1h-1.1zM350.0 99.7h1.1v1.1h-1.1zM347.4 101.5h1.1v1.1h-1.1zM353.3 99.3h1.1v1.1h-1.1zM352.3 99.6h1.1v1.1h-1.1zM349.5 93.0h1.1v1.1h-1.1zM347.5 99.6h1.1v1.1h-1.1zM346.8 105.1h1.1v1.1h-1.1zM351.0 96.9h1.1v1.1h-1.1zM350.0 107.0h1.1v1.1h-1.1zM347.7 104.9h1.1v1.1h-1.1zM349.6 100.7h1.1v1.1h-1.1zM347.4 110.0h1.1v1.1h-1.1zM347.6 106.6h1.1v1.1h-1.1zM349.7 94.2h1.1v1.1h-1.1zM350.0 95.0h1.1v1.1h-1.1zM350.1 95.1h1.1v1.1h-1.1zM351.5 95.6h1.1v1.1h-1.1zM347.1 97.4h1.1v1.1h-1.1zM346.0 101.8h1.1v1.1h-1.1zM352.5 112.8h1.1v1.1h-1.1zM352.5 104.5h1.1v1.1h-1.1zM352.9 103.0h1.1v1.1h-1.1zM352.2 95.6h1.1v1.1h-1.1zM349.4 101.3h1.1v1.1h-1.1zM348.7 97.8h1.1v1.1h-1.1zM352.9 111.9h1.1v1.1h-1.1zM345.5 109.0h1.1v1.1h-1.1zM349.8 112.8h1.1v1.1h-1.1zM352.1 100.9h1.1v1.1h-1.1zM348.7 110.2h1.1v1.1h-1.1zM346.5 93.4h1.1v1.1h-1.1zM348.7 101.1h1.1v1.1h-1.1zM351.8 97.6h1.1v1.1h-1.1zM348.6 112.6h1.1v1.1h-1.1zM346.1 108.1h1.1v1.1h-1.1zM350.6 110.0h1.1v1.1h-1.1zM353.2 108.7h1.1v1.1h-1.1zM346.0 100.7h1.1v1.1h-1.1zM345.5 94.0h1.1v1.1h-1.1zM348.0 95.1h1.1v1.1h-1.1zM348.3 102.0h1.1v1.1h-1.1zM348.5 99.6h1.1v1.1h-1.1zM352.8 102.2h1.1v1.1h-1.1zM348.4 106.4h1.1v1.1h-1.1zM348.0 91.5h1.1v1.1h-1.1zM353.2 98.6h1.1v1.1h-1.1zM346.8 99.0h1.1v1.1h-1.1zM346.7 99.1h1.1v1.1h-1.1zM349.7 105.8h1.1v1.1h-1.1z"/>
<path fill="#e0406a" d="M125.5 191.0h1.1v1.1h-1.1zM126.9 182.9h1.1v1.1h-1.1zM125.6 190.4h1.1v1.1h-1.1zM131.5 182.4h1.1v1.1h-1.1zM123.7 184.2h1.1v1.1h-1.1zM122.9 194.2h1.1v1.1h-1.1zM130.9 193.1h1.1v1.1h-1.1zM129.6 191.2h1.1v1.1h-1.1zM127.5 189.3h1.1v1.1h-1.1zM129.6 187.8h1.1v1.1h-1.1zM124.1 184.5h1.1v1.1h-1.1z"/>
<path fill="#c83050" d="M128.0 189.3h1.1v1.1h-1.1z"/>
<path fill="#e41840" d="M231.8 182.6h1.25v1.25h-1.25zM232.6 159.7h1.25v1.25h-1.25zM234.1 161.2h1.25v1.25h-1.25zM230.3 191.2h1.25v1.25h-1.25zM233.0 175.9h1.25v1.25h-1.25zM233.4 169.3h1.25v1.25h-1.25zM235.1 179.1h1.25v1.25h-1.25zM234.3 161.6h1.25v1.25h-1.25zM233.4 185.5h1.25v1.25h-1.25zM234.2 162.4h1.25v1.25h-1.25zM236.2 166.4h1.25v1.25h-1.25zM234.7 178.6h1.25v1.25h-1.25zM233.4 163.5h1.25v1.25h-1.25zM230.0 161.7h1.25v1.25h-1.25zM230.3 174.1h1.25v1.25h-1.25zM233.9 161.1h1.25v1.25h-1.25zM236.7 180.8h1.25v1.25h-1.25zM235.1 182.6h1.25v1.25h-1.25zM232.1 171.2h1.25v1.25h-1.25zM233.6 165.6h1.25v1.25h-1.25zM233.9 177.5h1.25v1.25h-1.25zM231.2 177.8h1.25v1.25h-1.25zM233.4 173.2h1.25v1.25h-1.25zM234.5 184.4h1.25v1.25h-1.25zM237.3 186.9h1.25v1.25h-1.25zM231.9 182.2h1.25v1.25h-1.25zM231.7 157.8h1.25v1.25h-1.25zM234.1 173.8h1.25v1.25h-1.25zM236.1 179.9h1.25v1.25h-1.25zM231.2 159.5h1.25v1.25h-1.25zM231.2 190.9h1.25v1.25h-1.25zM231.8 181.9h1.25v1.25h-1.25zM229.8 167.2h1.25v1.25h-1.25zM233.4 188.8h1.25v1.25h-1.25zM235.2 164.7h1.25v1.25h-1.25zM231.0 159.9h1.25v1.25h-1.25zM236.4 167.5h1.25v1.25h-1.25zM236.9 164.7h1.25v1.25h-1.25zM237.1 173.0h1.25v1.25h-1.25zM233.1 172.4h1.25v1.25h-1.25zM232.6 190.7h1.25v1.25h-1.25zM231.8 171.4h1.25v1.25h-1.25zM230.6 187.9h1.25v1.25h-1.25zM237.1 179.4h1.25v1.25h-1.25zM229.5 177.3h1.25v1.25h-1.25zM232.7 182.5h1.25v1.25h-1.25zM231.9 171.9h1.25v1.25h-1.25zM232.7 190.8h1.25v1.25h-1.25zM236.9 192.1h1.25v1.25h-1.25zM232.2 179.6h1.25v1.25h-1.25zM231.4 167.2h1.25v1.25h-1.25zM234.6 174.1h1.25v1.25h-1.25zM234.5 168.4h1.25v1.25h-1.25zM236.2 189.0h1.25v1.25h-1.25zM232.2 178.7h1.25v1.25h-1.25zM233.0 175.7h1.25v1.25h-1.25zM231.5 172.1h1.25v1.25h-1.25zM230.0 172.3h1.25v1.25h-1.25zM231.7 158.8h1.25v1.25h-1.25zM232.2 179.7h1.25v1.25h-1.25zM234.6 176.9h1.25v1.25h-1.25zM236.5 165.1h1.25v1.25h-1.25zM237.3 187.7h1.25v1.25h-1.25zM230.4 180.0h1.25v1.25h-1.25zM234.6 179.4h1.25v1.25h-1.25zM231.7 168.6h1.25v1.25h-1.25zM232.8 179.3h1.25v1.25h-1.25zM232.4 164.3h1.25v1.25h-1.25zM232.8 167.4h1.25v1.25h-1.25zM235.1 172.8h1.25v1.25h-1.25zM234.6 188.8h1.25v1.25h-1.25zM233.6 173.3h1.25v1.25h-1.25zM230.2 190.0h1.25v1.25h-1.25zM229.7 186.1h1.25v1.25h-1.25zM235.1 169.6h1.25v1.25h-1.25zM233.4 180.3h1.25v1.25h-1.25zM232.1 173.9h1.25v1.25h-1.25zM231.3 173.4h1.25v1.25h-1.25zM234.0 193.5h1.25v1.25h-1.25zM230.1 181.5h1.25v1.25h-1.25zM230.4 167.9h1.25v1.25h-1.25zM237.7 180.5h1.25v1.25h-1.25zM230.5 175.1h1.25v1.25h-1.25zM236.0 181.6h1.25v1.25h-1.25zM233.0 174.3h1.25v1.25h-1.25zM231.1 166.5h1.25v1.25h-1.25zM236.7 183.7h1.25v1.25h-1.25zM230.9 190.6h1.25v1.25h-1.25zM235.8 174.5h1.25v1.25h-1.25zM231.0 171.0h1.25v1.25h-1.25zM230.5 174.5h1.25v1.25h-1.25zM229.8 181.9h1.25v1.25h-1.25zM237.1 183.3h1.25v1.25h-1.25zM232.2 174.7h1.25v1.25h-1.25zM233.5 172.5h1.25v1.25h-1.25zM235.4 179.6h1.25v1.25h-1.25zM234.7 159.8h1.25v1.25h-1.25zM232.9 158.3h1.25v1.25h-1.25zM234.7 188.6h1.25v1.25h-1.25zM231.0 164.5h1.25v1.25h-1.25zM230.1 177.0h1.25v1.25h-1.25zM235.5 188.4h1.25v1.25h-1.25zM235.2 170.9h1.25v1.25h-1.25zM232.0 167.3h1.25v1.25h-1.25zM233.5 166.8h1.25v1.25h-1.25zM237.1 166.2h1.25v1.25h-1.25zM232.0 192.5h1.25v1.25h-1.25zM236.6 164.2h1.25v1.25h-1.25zM231.4 161.9h1.25v1.25h-1.25zM237.0 178.4h1.25v1.25h-1.25zM236.4 186.9h1.25v1.25h-1.25zM237.0 173.6h1.25v1.25h-1.25zM236.4 167.7h1.25v1.25h-1.25zM230.5 172.4h1.25v1.25h-1.25zM235.7 175.1h1.25v1.25h-1.25zM232.2 159.4h1.25v1.25h-1.25zM238.2 194.8h1.25v1.25h-1.25zM229.1 183.6h1.25v1.25h-1.25zM234.5 176.8h1.25v1.25h-1.25zM230.5 165.2h1.25v1.25h-1.25zM237.0 170.3h1.25v1.25h-1.25zM235.0 185.0h1.25v1.25h-1.25zM231.3 183.5h1.25v1.25h-1.25zM235.6 161.9h1.25v1.25h-1.25zM230.0 168.9h1.25v1.25h-1.25zM230.9 179.1h1.25v1.25h-1.25zM233.6 180.9h1.25v1.25h-1.25zM233.2 190.5h1.25v1.25h-1.25zM235.5 191.4h1.25v1.25h-1.25zM232.8 178.4h1.25v1.25h-1.25zM235.1 184.8h1.25v1.25h-1.25zM235.0 172.3h1.25v1.25h-1.25zM236.3 164.0h1.25v1.25h-1.25zM236.2 165.1h1.25v1.25h-1.25zM231.1 168.1h1.25v1.25h-1.25zM234.2 186.4h1.25v1.25h-1.25zM236.4 174.6h1.25v1.25h-1.25zM230.9 177.9h1.25v1.25h-1.25zM234.2 190.1h1.25v1.25h-1.25zM233.1 191.4h1.25v1.25h-1.25zM236.3 178.8h1.25v1.25h-1.25zM231.9 185.1h1.25v1.25h-1.25zM235.4 181.3h1.25v1.25h-1.25zM233.6 178.6h1.25v1.25h-1.25zM235.2 163.8h1.25v1.25h-1.25zM231.8 169.2h1.25v1.25h-1.25zM233.2 184.8h1.25v1.25h-1.25zM236.1 179.1h1.25v1.25h-1.25zM237.2 187.8h1.25v1.25h-1.25zM235.0 189.3h1.25v1.25h-1.25zM232.9 163.7h1.25v1.25h-1.25zM234.6 171.8h1.25v1.25h-1.25zM237.4 181.3h1.25v1.25h-1.25zM235.3 168.5h1.25v1.25h-1.25zM236.7 168.2h1.25v1.25h-1.25zM237.7 174.8h1.25v1.25h-1.25zM234.0 177.4h1.25v1.25h-1.25zM235.1 172.8h1.25v1.25h-1.25zM231.7 191.3h1.25v1.25h-1.25zM234.1 173.8h1.25v1.25h-1.25zM234.9 180.9h1.25v1.25h-1.25zM230.5 180.7h1.25v1.25h-1.25zM234.0 181.1h1.25v1.25h-1.25zM236.1 181.1h1.25v1.25h-1.25zM237.2 182.3h1.25v1.25h-1.25zM235.9 174.0h1.25v1.25h-1.25zM230.4 177.4h1.25v1.25h-1.25zM230.9 164.8h1.25v1.25h-1.25zM230.0 167.4h1.25v1.25h-1.25zM235.2 169.1h1.25v1.25h-1.25zM234.3 159.0h1.25v1.25h-1.25zM235.2 173.2h1.25v1.25h-1.25zM235.2 177.8h1.25v1.25h-1.25zM231.8 166.9h1.25v1.25h-1.25zM234.4 178.9h1.25v1.25h-1.25zM233.4 191.2h1.25v1.25h-1.25zM230.2 186.4h1.25v1.25h-1.25zM236.2 190.8h1.25v1.25h-1.25zM237.1 171.7h1.25v1.25h-1.25zM232.2 168.4h1.25v1.25h-1.25zM231.6 163.2h1.25v1.25h-1.25zM234.4 288.9h1.2v1.2h-1.2zM236.6 288.6h1.2v1.2h-1.2zM237.8 277.9h1.2v1.2h-1.2zM238.5 298.8h1.2v1.2h-1.2zM235.1 301.3h1.2v1.2h-1.2zM236.1 287.8h1.2v1.2h-1.2zM234.7 298.3h1.2v1.2h-1.2zM239.2 311.4h1.2v1.2h-1.2zM238.1 295.4h1.2v1.2h-1.2zM237.1 294.9h1.2v1.2h-1.2zM238.0 299.2h1.2v1.2h-1.2zM239.8 317.4h1.2v1.2h-1.2zM237.0 318.2h1.2v1.2h-1.2zM232.9 275.5h1.2v1.2h-1.2zM236.5 311.3h1.2v1.2h-1.2zM232.0 309.8h1.2v1.2h-1.2zM232.9 286.0h1.2v1.2h-1.2zM237.0 309.1h1.2v1.2h-1.2zM233.7 288.4h1.2v1.2h-1.2zM232.7 286.0h1.2v1.2h-1.2zM240.0 299.8h1.2v1.2h-1.2zM238.7 297.2h1.2v1.2h-1.2zM237.3 296.8h1.2v1.2h-1.2zM239.0 288.3h1.2v1.2h-1.2zM238.9 286.0h1.2v1.2h-1.2zM235.9 304.1h1.2v1.2h-1.2zM236.5 302.0h1.2v1.2h-1.2zM238.2 311.1h1.2v1.2h-1.2zM236.4 294.1h1.2v1.2h-1.2zM239.3 315.5h1.2v1.2h-1.2zM238.5 285.1h1.2v1.2h-1.2zM239.5 296.9h1.2v1.2h-1.2zM233.1 289.2h1.2v1.2h-1.2zM237.2 298.2h1.2v1.2h-1.2zM239.6 309.8h1.2v1.2h-1.2zM238.0 302.7h1.2v1.2h-1.2zM238.0 283.1h1.2v1.2h-1.2zM232.1 288.9h1.2v1.2h-1.2zM237.5 278.2h1.2v1.2h-1.2zM232.9 293.4h1.2v1.2h-1.2zM236.9 291.1h1.2v1.2h-1.2zM235.9 308.9h1.2v1.2h-1.2zM239.1 318.4h1.2v1.2h-1.2zM235.1 280.6h1.2v1.2h-1.2zM236.9 293.0h1.2v1.2h-1.2zM234.7 315.6h1.2v1.2h-1.2zM236.7 273.4h1.2v1.2h-1.2zM235.7 306.7h1.2v1.2h-1.2zM236.4 295.1h1.2v1.2h-1.2zM239.0 305.7h1.2v1.2h-1.2zM237.7 306.9h1.2v1.2h-1.2zM235.6 287.2h1.2v1.2h-1.2zM234.1 314.8h1.2v1.2h-1.2zM233.3 306.9h1.2v1.2h-1.2zM238.7 305.7h1.2v1.2h-1.2zM239.1 306.2h1.2v1.2h-1.2zM237.7 309.6h1.2v1.2h-1.2zM234.2 296.7h1.2v1.2h-1.2zM238.4 305.9h1.2v1.2h-1.2zM240.0 306.6h1.2v1.2h-1.2zM239.5 303.4h1.2v1.2h-1.2zM235.2 317.4h1.2v1.2h-1.2zM233.6 308.8h1.2v1.2h-1.2zM234.4 304.7h1.2v1.2h-1.2zM232.1 306.0h1.2v1.2h-1.2zM232.7 307.6h1.2v1.2h-1.2zM234.6 309.2h1.2v1.2h-1.2zM235.4 291.8h1.2v1.2h-1.2zM238.3 289.4h1.2v1.2h-1.2zM233.1 293.2h1.2v1.2h-1.2zM239.1 310.3h1.2v1.2h-1.2zM231.2 291.8h1.2v1.2h-1.2zM232.8 301.7h1.2v1.2h-1.2zM238.3 305.5h1.2v1.2h-1.2zM233.2 308.5h1.2v1.2h-1.2zM236.3 283.7h1.2v1.2h-1.2zM236.9 282.0h1.2v1.2h-1.2zM236.3 314.4h1.2v1.2h-1.2zM238.7 306.5h1.2v1.2h-1.2zM235.7 286.6h1.2v1.2h-1.2zM236.0 287.5h1.2v1.2h-1.2zM232.3 291.3h1.2v1.2h-1.2zM237.3 316.5h1.2v1.2h-1.2zM239.7 315.1h1.2v1.2h-1.2zM232.1 297.7h1.2v1.2h-1.2zM234.5 289.8h1.2v1.2h-1.2zM235.4 299.9h1.2v1.2h-1.2zM235.5 294.9h1.2v1.2h-1.2zM237.4 297.6h1.2v1.2h-1.2zM234.1 288.6h1.2v1.2h-1.2zM234.4 311.0h1.2v1.2h-1.2zM236.6 311.5h1.2v1.2h-1.2zM238.5 300.8h1.2v1.2h-1.2zM238.3 284.4h1.2v1.2h-1.2zM237.6 287.2h1.2v1.2h-1.2zM234.7 281.8h1.2v1.2h-1.2zM236.7 292.2h1.2v1.2h-1.2zM238.5 293.8h1.2v1.2h-1.2zM233.4 287.3h1.2v1.2h-1.2zM239.7 285.2h1.2v1.2h-1.2zM235.9 315.0h1.2v1.2h-1.2zM236.5 295.1h1.2v1.2h-1.2zM232.4 299.0h1.2v1.2h-1.2zM237.3 304.7h1.2v1.2h-1.2zM232.5 295.1h1.2v1.2h-1.2zM237.8 311.0h1.2v1.2h-1.2zM237.6 291.8h1.2v1.2h-1.2zM236.9 307.9h1.2v1.2h-1.2zM236.1 286.3h1.2v1.2h-1.2zM239.4 313.4h1.2v1.2h-1.2zM233.4 289.0h1.2v1.2h-1.2zM238.5 287.7h1.2v1.2h-1.2zM239.9 290.3h1.2v1.2h-1.2zM237.0 299.2h1.2v1.2h-1.2zM238.2 300.0h1.2v1.2h-1.2zM235.8 308.1h1.2v1.2h-1.2zM236.6 305.7h1.2v1.2h-1.2zM237.6 290.6h1.2v1.2h-1.2zM238.5 294.8h1.2v1.2h-1.2zM232.9 296.8h1.2v1.2h-1.2zM236.5 303.1h1.2v1.2h-1.2zM237.6 295.1h1.2v1.2h-1.2zM235.8 303.9h1.2v1.2h-1.2zM238.7 301.2h1.2v1.2h-1.2zM234.7 286.3h1.2v1.2h-1.2zM234.6 305.8h1.2v1.2h-1.2zM238.6 310.3h1.2v1.2h-1.2zM347.7 286.7h1.35v1.35h-1.35zM348.8 314.1h1.35v1.35h-1.35zM347.1 315.0h1.35v1.35h-1.35zM348.0 302.2h1.35v1.35h-1.35zM349.7 304.7h1.35v1.35h-1.35zM351.2 299.8h1.35v1.35h-1.35zM343.8 285.2h1.35v1.35h-1.35zM342.5 310.1h1.35v1.35h-1.35zM349.1 298.2h1.35v1.35h-1.35zM344.4 287.2h1.35v1.35h-1.35zM345.3 273.0h1.35v1.35h-1.35zM348.0 316.0h1.35v1.35h-1.35zM352.9 308.3h1.35v1.35h-1.35zM349.7 313.7h1.35v1.35h-1.35zM345.5 275.0h1.35v1.35h-1.35zM343.2 315.9h1.35v1.35h-1.35zM349.0 276.0h1.35v1.35h-1.35zM349.3 302.2h1.35v1.35h-1.35zM352.0 287.6h1.35v1.35h-1.35zM346.7 282.1h1.35v1.35h-1.35zM348.9 314.6h1.35v1.35h-1.35zM348.9 271.3h1.35v1.35h-1.35zM350.8 286.0h1.35v1.35h-1.35zM348.6 295.6h1.35v1.35h-1.35zM343.6 318.0h1.35v1.35h-1.35zM348.3 285.0h1.35v1.35h-1.35zM351.4 297.0h1.35v1.35h-1.35zM349.5 304.3h1.35v1.35h-1.35zM344.0 284.7h1.35v1.35h-1.35zM348.4 293.6h1.35v1.35h-1.35zM350.9 288.2h1.35v1.35h-1.35zM350.8 284.5h1.35v1.35h-1.35zM346.6 316.5h1.35v1.35h-1.35zM343.8 303.6h1.35v1.35h-1.35zM344.5 286.4h1.35v1.35h-1.35zM348.1 293.0h1.35v1.35h-1.35zM346.5 313.5h1.35v1.35h-1.35zM346.3 311.8h1.35v1.35h-1.35zM343.9 298.2h1.35v1.35h-1.35zM351.5 296.7h1.35v1.35h-1.35zM343.2 302.1h1.35v1.35h-1.35zM351.3 301.4h1.35v1.35h-1.35zM342.7 295.2h1.35v1.35h-1.35zM344.4 308.5h1.35v1.35h-1.35zM350.6 298.6h1.35v1.35h-1.35zM343.2 315.3h1.35v1.35h-1.35zM346.5 316.3h1.35v1.35h-1.35zM343.8 298.2h1.35v1.35h-1.35zM345.7 277.1h1.35v1.35h-1.35zM350.4 278.4h1.35v1.35h-1.35zM346.6 300.5h1.35v1.35h-1.35zM344.6 309.5h1.35v1.35h-1.35zM344.1 316.2h1.35v1.35h-1.35zM233.4 393.5h1.25v1.25h-1.25zM236.5 412.1h1.25v1.25h-1.25zM237.6 411.6h1.25v1.25h-1.25zM234.4 393.1h1.25v1.25h-1.25zM238.9 418.8h1.25v1.25h-1.25zM235.9 408.6h1.25v1.25h-1.25zM235.8 396.1h1.25v1.25h-1.25zM234.1 423.9h1.25v1.25h-1.25zM235.5 422.4h1.25v1.25h-1.25zM236.8 410.8h1.25v1.25h-1.25zM235.8 423.8h1.25v1.25h-1.25zM237.7 426.4h1.25v1.25h-1.25zM232.5 406.7h1.25v1.25h-1.25zM236.6 405.9h1.25v1.25h-1.25zM236.4 400.2h1.25v1.25h-1.25zM236.7 410.4h1.25v1.25h-1.25zM234.4 406.0h1.25v1.25h-1.25zM235.1 393.2h1.25v1.25h-1.25zM231.8 418.4h1.25v1.25h-1.25zM234.5 407.2h1.25v1.25h-1.25zM238.5 415.1h1.25v1.25h-1.25zM238.3 406.4h1.25v1.25h-1.25zM236.8 425.0h1.25v1.25h-1.25zM236.1 422.0h1.25v1.25h-1.25zM231.8 420.2h1.25v1.25h-1.25zM234.1 403.2h1.25v1.25h-1.25zM232.8 408.1h1.25v1.25h-1.25zM232.4 400.3h1.25v1.25h-1.25zM233.0 409.9h1.25v1.25h-1.25zM231.8 420.5h1.25v1.25h-1.25zM233.5 397.6h1.25v1.25h-1.25zM236.3 424.9h1.25v1.25h-1.25zM232.9 411.4h1.25v1.25h-1.25zM232.8 419.3h1.25v1.25h-1.25zM234.9 423.2h1.25v1.25h-1.25zM235.7 403.0h1.25v1.25h-1.25zM238.9 420.7h1.25v1.25h-1.25zM236.0 411.2h1.25v1.25h-1.25zM233.9 430.9h1.25v1.25h-1.25zM234.3 413.7h1.25v1.25h-1.25zM235.6 429.5h1.25v1.25h-1.25zM235.3 427.6h1.25v1.25h-1.25zM236.1 416.3h1.25v1.25h-1.25zM238.6 420.1h1.25v1.25h-1.25zM231.9 397.5h1.25v1.25h-1.25zM235.9 397.7h1.25v1.25h-1.25zM238.2 415.9h1.25v1.25h-1.25zM231.5 418.6h1.25v1.25h-1.25zM236.2 421.5h1.25v1.25h-1.25zM237.7 431.1h1.25v1.25h-1.25zM233.4 396.4h1.25v1.25h-1.25zM236.4 399.8h1.25v1.25h-1.25zM237.2 427.7h1.25v1.25h-1.25zM234.6 428.4h1.25v1.25h-1.25zM233.5 419.8h1.25v1.25h-1.25zM237.1 421.3h1.25v1.25h-1.25zM237.2 408.5h1.25v1.25h-1.25zM235.8 428.6h1.25v1.25h-1.25zM233.4 417.8h1.25v1.25h-1.25zM237.0 426.8h1.25v1.25h-1.25zM235.0 397.1h1.25v1.25h-1.25zM235.9 419.6h1.25v1.25h-1.25zM236.0 401.1h1.25v1.25h-1.25zM232.3 412.6h1.25v1.25h-1.25zM233.7 424.9h1.25v1.25h-1.25zM233.5 398.9h1.25v1.25h-1.25zM233.4 422.4h1.25v1.25h-1.25zM234.7 417.7h1.25v1.25h-1.25zM237.4 419.0h1.25v1.25h-1.25zM231.2 418.6h1.25v1.25h-1.25zM234.7 398.9h1.25v1.25h-1.25zM232.8 402.1h1.25v1.25h-1.25zM234.4 414.8h1.25v1.25h-1.25zM231.7 413.4h1.25v1.25h-1.25zM232.4 414.2h1.25v1.25h-1.25zM231.6 412.3h1.25v1.25h-1.25zM234.5 418.2h1.25v1.25h-1.25zM238.4 411.0h1.25v1.25h-1.25zM231.9 415.6h1.25v1.25h-1.25zM238.5 428.1h1.25v1.25h-1.25zM235.1 403.7h1.25v1.25h-1.25zM231.3 420.4h1.25v1.25h-1.25zM233.4 411.0h1.25v1.25h-1.25zM237.6 410.7h1.25v1.25h-1.25zM237.8 403.1h1.25v1.25h-1.25zM232.6 410.4h1.25v1.25h-1.25zM233.7 407.2h1.25v1.25h-1.25zM232.4 397.3h1.25v1.25h-1.25zM233.7 424.8h1.25v1.25h-1.25zM238.2 403.8h1.25v1.25h-1.25zM236.4 430.4h1.25v1.25h-1.25zM232.9 398.6h1.25v1.25h-1.25zM235.2 423.8h1.25v1.25h-1.25zM238.3 406.4h1.25v1.25h-1.25zM231.3 416.3h1.25v1.25h-1.25zM237.7 405.8h1.25v1.25h-1.25zM236.6 418.0h1.25v1.25h-1.25zM234.0 424.1h1.25v1.25h-1.25zM234.1 416.2h1.25v1.25h-1.25zM233.9 404.5h1.25v1.25h-1.25zM232.8 400.6h1.25v1.25h-1.25zM238.9 412.0h1.25v1.25h-1.25zM234.5 395.7h1.25v1.25h-1.25zM235.5 423.5h1.25v1.25h-1.25zM235.6 392.9h1.25v1.25h-1.25zM232.0 404.2h1.25v1.25h-1.25zM234.6 406.8h1.25v1.25h-1.25zM238.7 420.6h1.25v1.25h-1.25zM233.4 428.4h1.25v1.25h-1.25zM236.3 426.7h1.25v1.25h-1.25zM236.6 417.0h1.25v1.25h-1.25zM237.9 404.4h1.25v1.25h-1.25zM236.7 406.6h1.25v1.25h-1.25zM236.9 418.4h1.25v1.25h-1.25zM236.7 421.9h1.25v1.25h-1.25zM233.3 410.1h1.25v1.25h-1.25zM236.3 414.0h1.25v1.25h-1.25zM232.5 404.0h1.25v1.25h-1.25zM234.9 421.0h1.25v1.25h-1.25zM232.8 403.5h1.25v1.25h-1.25zM236.4 430.1h1.25v1.25h-1.25zM235.8 398.6h1.25v1.25h-1.25zM233.1 423.9h1.25v1.25h-1.25zM236.3 401.5h1.25v1.25h-1.25zM234.0 417.9h1.25v1.25h-1.25zM232.5 420.9h1.25v1.25h-1.25zM239.1 424.8h1.25v1.25h-1.25zM237.3 400.0h1.25v1.25h-1.25zM238.3 410.7h1.25v1.25h-1.25zM237.0 401.0h1.25v1.25h-1.25zM233.4 426.4h1.25v1.25h-1.25zM237.8 407.9h1.25v1.25h-1.25zM236.3 417.8h1.25v1.25h-1.25zM232.1 406.7h1.25v1.25h-1.25zM234.2 417.1h1.25v1.25h-1.25zM233.0 401.8h1.25v1.25h-1.25zM234.2 397.4h1.25v1.25h-1.25zM233.2 402.8h1.25v1.25h-1.25zM235.3 425.9h1.25v1.25h-1.25zM234.6 391.7h1.25v1.25h-1.25zM236.5 419.7h1.25v1.25h-1.25zM233.8 423.3h1.25v1.25h-1.25zM235.5 408.5h1.25v1.25h-1.25zM238.6 424.6h1.25v1.25h-1.25zM232.6 410.9h1.25v1.25h-1.25zM236.1 425.4h1.25v1.25h-1.25zM232.5 418.2h1.25v1.25h-1.25zM232.1 421.4h1.25v1.25h-1.25zM231.1 406.6h1.25v1.25h-1.25zM238.4 422.4h1.25v1.25h-1.25zM234.8 418.9h1.25v1.25h-1.25zM237.7 420.5h1.25v1.25h-1.25zM235.5 424.7h1.25v1.25h-1.25zM237.1 419.4h1.25v1.25h-1.25zM236.1 424.7h1.25v1.25h-1.25zM236.6 408.8h1.25v1.25h-1.25zM234.4 404.1h1.25v1.25h-1.25zM233.2 427.7h1.25v1.25h-1.25zM234.2 410.7h1.25v1.25h-1.25zM239.1 425.6h1.25v1.25h-1.25zM238.3 427.8h1.25v1.25h-1.25zM232.1 410.5h1.25v1.25h-1.25zM235.3 398.9h1.25v1.25h-1.25zM234.5 420.1h1.25v1.25h-1.25zM234.8 400.4h1.25v1.25h-1.25zM234.6 397.8h1.25v1.25h-1.25zM236.1 405.7h1.25v1.25h-1.25zM231.3 403.0h1.25v1.25h-1.25zM233.4 410.8h1.25v1.25h-1.25zM231.4 402.2h1.25v1.25h-1.25zM236.9 426.1h1.25v1.25h-1.25zM235.4 399.3h1.25v1.25h-1.25zM231.8 405.0h1.25v1.25h-1.25zM237.2 423.5h1.25v1.25h-1.25zM233.2 423.4h1.25v1.25h-1.25zM234.1 407.7h1.25v1.25h-1.25zM235.7 425.7h1.25v1.25h-1.25zM232.6 412.9h1.25v1.25h-1.25zM236.6 426.7h1.25v1.25h-1.25zM234.6 423.3h1.25v1.25h-1.25zM237.5 409.9h1.25v1.25h-1.25zM237.5 408.9h1.25v1.25h-1.25zM231.8 405.2h1.25v1.25h-1.25zM234.0 404.6h1.25v1.25h-1.25zM233.4 391.1h1.25v1.25h-1.25zM235.4 429.3h1.25v1.25h-1.25zM234.9 404.4h1.25v1.25h-1.25zM236.4 411.6h1.25v1.25h-1.25zM233.5 397.7h1.25v1.25h-1.25zM235.4 416.5h1.25v1.25h-1.25zM237.2 410.3h1.25v1.25h-1.25zM235.0 396.7h1.25v1.25h-1.25zM236.2 416.9h1.25v1.25h-1.25zM235.2 398.4h1.25v1.25h-1.25zM236.7 398.5h1.25v1.25h-1.25zM236.1 424.4h1.25v1.25h-1.25zM234.6 400.7h1.25v1.25h-1.25zM235.9 398.7h1.25v1.25h-1.25zM237.6 424.7h1.25v1.25h-1.25zM238.0 422.7h1.25v1.25h-1.25zM231.7 416.5h1.25v1.25h-1.25zM237.7 416.0h1.25v1.25h-1.25z"/>
<path fill="#b41232" d="M234.8 163.4h1.25v1.25h-1.25zM229.6 185.6h1.25v1.25h-1.25zM232.9 185.2h1.25v1.25h-1.25zM230.0 186.0h1.25v1.25h-1.25zM234.9 186.5h1.25v1.25h-1.25zM232.4 191.3h1.25v1.25h-1.25zM230.2 173.6h1.25v1.25h-1.25zM236.9 168.7h1.25v1.25h-1.25zM237.1 190.9h1.25v1.25h-1.25zM234.9 186.8h1.25v1.25h-1.25zM233.1 176.2h1.25v1.25h-1.25zM235.2 173.0h1.25v1.25h-1.25zM233.5 178.3h1.25v1.25h-1.25zM235.4 187.7h1.25v1.25h-1.25zM230.4 189.6h1.25v1.25h-1.25zM233.9 159.6h1.25v1.25h-1.25zM230.7 187.3h1.25v1.25h-1.25zM231.5 163.1h1.25v1.25h-1.25zM231.6 171.0h1.25v1.25h-1.25zM231.8 190.5h1.25v1.25h-1.25zM233.5 178.8h1.25v1.25h-1.25zM235.1 183.3h1.25v1.25h-1.25zM235.9 170.1h1.25v1.25h-1.25zM236.0 188.1h1.25v1.25h-1.25zM235.7 182.4h1.25v1.25h-1.25zM232.7 186.8h1.25v1.25h-1.25zM230.2 168.5h1.25v1.25h-1.25zM234.9 191.7h1.25v1.25h-1.25zM230.1 182.8h1.25v1.25h-1.25zM235.7 166.2h1.25v1.25h-1.25zM231.6 166.9h1.25v1.25h-1.25zM236.3 162.4h1.25v1.25h-1.25zM230.0 169.3h1.25v1.25h-1.25zM229.9 171.8h1.25v1.25h-1.25zM231.9 178.0h1.25v1.25h-1.25zM235.0 179.3h1.25v1.25h-1.25zM237.0 180.2h1.25v1.25h-1.25zM234.9 181.6h1.25v1.25h-1.25zM232.8 183.1h1.25v1.25h-1.25zM231.1 175.3h1.25v1.25h-1.25zM236.8 185.3h1.25v1.25h-1.25zM232.9 188.1h1.25v1.25h-1.25zM233.6 187.9h1.25v1.25h-1.25zM233.6 172.0h1.25v1.25h-1.25zM236.4 166.5h1.25v1.25h-1.25zM230.4 191.9h1.25v1.25h-1.25zM232.0 176.0h1.25v1.25h-1.25zM234.6 165.1h1.25v1.25h-1.25zM235.9 169.7h1.25v1.25h-1.25zM236.4 174.1h1.25v1.25h-1.25zM236.1 183.7h1.25v1.25h-1.25zM230.7 167.0h1.25v1.25h-1.25zM235.1 187.7h1.25v1.25h-1.25zM233.8 183.9h1.25v1.25h-1.25zM236.8 190.8h1.25v1.25h-1.25zM237.4 185.4h1.25v1.25h-1.25zM234.4 194.5h1.25v1.25h-1.25zM232.5 181.0h1.25v1.25h-1.25zM231.8 175.7h1.25v1.25h-1.25zM235.6 167.3h1.25v1.25h-1.25zM229.7 174.5h1.25v1.25h-1.25zM234.3 177.4h1.25v1.25h-1.25zM238.1 284.3h1.2v1.2h-1.2zM235.4 284.0h1.2v1.2h-1.2zM240.4 296.4h1.2v1.2h-1.2zM236.6 300.9h1.2v1.2h-1.2zM233.1 289.3h1.2v1.2h-1.2zM235.5 293.6h1.2v1.2h-1.2zM236.1 289.4h1.2v1.2h-1.2zM237.0 300.1h1.2v1.2h-1.2zM235.7 299.0h1.2v1.2h-1.2zM236.0 280.1h1.2v1.2h-1.2zM236.5 314.8h1.2v1.2h-1.2zM236.8 317.5h1.2v1.2h-1.2zM236.9 299.3h1.2v1.2h-1.2zM233.1 295.3h1.2v1.2h-1.2zM232.9 293.8h1.2v1.2h-1.2zM239.0 294.5h1.2v1.2h-1.2zM238.9 306.0h1.2v1.2h-1.2zM236.8 301.4h1.2v1.2h-1.2zM232.2 303.6h1.2v1.2h-1.2zM240.3 308.8h1.2v1.2h-1.2zM236.6 296.3h1.2v1.2h-1.2zM234.7 303.8h1.2v1.2h-1.2zM233.6 294.4h1.2v1.2h-1.2zM238.8 287.1h1.2v1.2h-1.2zM237.6 284.0h1.2v1.2h-1.2zM233.3 285.4h1.2v1.2h-1.2zM232.4 299.6h1.2v1.2h-1.2zM238.9 288.7h1.2v1.2h-1.2zM237.9 299.6h1.2v1.2h-1.2zM239.7 309.0h1.2v1.2h-1.2zM239.1 312.7h1.2v1.2h-1.2zM233.1 289.1h1.2v1.2h-1.2zM234.6 293.8h1.2v1.2h-1.2zM234.2 289.9h1.2v1.2h-1.2zM350.0 298.1h1.35v1.35h-1.35zM348.3 317.0h1.35v1.35h-1.35zM346.8 281.9h1.35v1.35h-1.35zM348.5 313.4h1.35v1.35h-1.35zM344.0 276.3h1.35v1.35h-1.35zM344.2 306.1h1.35v1.35h-1.35zM344.1 298.1h1.35v1.35h-1.35zM346.0 307.2h1.35v1.35h-1.35zM349.8 280.1h1.35v1.35h-1.35zM344.5 293.9h1.35v1.35h-1.35zM344.8 309.2h1.35v1.35h-1.35zM346.6 295.9h1.35v1.35h-1.35zM348.5 305.8h1.35v1.35h-1.35zM352.7 305.3h1.35v1.35h-1.35zM348.2 293.1h1.35v1.35h-1.35zM349.2 289.3h1.35v1.35h-1.35zM348.2 284.2h1.35v1.35h-1.35zM350.7 303.0h1.35v1.35h-1.35zM348.2 315.7h1.35v1.35h-1.35zM349.6 314.6h1.35v1.35h-1.35zM346.7 300.4h1.35v1.35h-1.35zM348.2 318.6h1.35v1.35h-1.35zM350.6 314.5h1.35v1.35h-1.35zM342.9 302.1h1.35v1.35h-1.35zM351.4 303.3h1.35v1.35h-1.35zM346.9 280.9h1.35v1.35h-1.35zM345.4 274.9h1.35v1.35h-1.35zM346.3 273.0h1.35v1.35h-1.35zM349.4 315.8h1.35v1.35h-1.35zM343.4 285.4h1.35v1.35h-1.35zM344.5 275.2h1.35v1.35h-1.35zM232.2 421.1h1.25v1.25h-1.25zM236.5 405.5h1.25v1.25h-1.25zM232.9 398.2h1.25v1.25h-1.25zM236.9 410.3h1.25v1.25h-1.25zM231.8 413.1h1.25v1.25h-1.25zM235.4 418.2h1.25v1.25h-1.25zM237.3 397.1h1.25v1.25h-1.25zM232.6 399.5h1.25v1.25h-1.25zM234.7 408.6h1.25v1.25h-1.25zM238.1 426.7h1.25v1.25h-1.25zM236.8 396.7h1.25v1.25h-1.25zM234.5 416.3h1.25v1.25h-1.25zM238.0 403.6h1.25v1.25h-1.25zM238.5 410.0h1.25v1.25h-1.25zM237.7 413.7h1.25v1.25h-1.25zM238.1 421.5h1.25v1.25h-1.25zM236.5 424.6h1.25v1.25h-1.25zM231.1 419.4h1.25v1.25h-1.25zM232.7 409.1h1.25v1.25h-1.25zM233.4 424.3h1.25v1.25h-1.25zM237.9 407.1h1.25v1.25h-1.25zM236.7 425.6h1.25v1.25h-1.25zM239.0 414.1h1.25v1.25h-1.25zM236.9 412.1h1.25v1.25h-1.25zM235.9 421.4h1.25v1.25h-1.25zM231.6 423.2h1.25v1.25h-1.25zM231.6 415.8h1.25v1.25h-1.25zM236.1 407.1h1.25v1.25h-1.25zM237.9 421.3h1.25v1.25h-1.25zM231.6 401.1h1.25v1.25h-1.25zM237.2 425.6h1.25v1.25h-1.25zM237.4 408.2h1.25v1.25h-1.25zM235.3 420.2h1.25v1.25h-1.25zM233.8 395.6h1.25v1.25h-1.25zM232.9 406.7h1.25v1.25h-1.25zM236.8 404.3h1.25v1.25h-1.25zM233.0 428.3h1.25v1.25h-1.25zM236.9 408.8h1.25v1.25h-1.25zM236.8 410.3h1.25v1.25h-1.25zM235.7 419.6h1.25v1.25h-1.25zM236.2 422.3h1.25v1.25h-1.25zM232.2 402.2h1.25v1.25h-1.25zM232.2 413.3h1.25v1.25h-1.25zM237.5 403.2h1.25v1.25h-1.25zM233.3 429.9h1.25v1.25h-1.25zM234.8 412.0h1.25v1.25h-1.25zM232.9 411.4h1.25v1.25h-1.25zM232.1 403.1h1.25v1.25h-1.25zM235.5 397.5h1.25v1.25h-1.25zM236.1 427.7h1.25v1.25h-1.25zM237.7 418.4h1.25v1.25h-1.25zM232.9 409.2h1.25v1.25h-1.25zM233.0 429.5h1.25v1.25h-1.25zM239.4 422.3h1.25v1.25h-1.25zM233.3 402.6h1.25v1.25h-1.25zM235.6 426.7h1.25v1.25h-1.25zM237.4 418.0h1.25v1.25h-1.25zM234.4 414.8h1.25v1.25h-1.25zM232.9 401.6h1.25v1.25h-1.25zM234.0 406.9h1.25v1.25h-1.25zM237.5 404.1h1.25v1.25h-1.25zM235.1 407.0h1.25v1.25h-1.25zM235.8 417.1h1.25v1.25h-1.25zM232.1 394.6h1.25v1.25h-1.25zM238.6 413.0h1.25v1.25h-1.25zM235.3 419.4h1.25v1.25h-1.25zM231.6 427.4h1.25v1.25h-1.25zM234.5 428.1h1.25v1.25h-1.25zM234.3 430.3h1.25v1.25h-1.25zM233.8 418.1h1.25v1.25h-1.25zM236.7 398.7h1.25v1.25h-1.25zM237.8 400.3h1.25v1.25h-1.25zM234.9 410.0h1.25v1.25h-1.25zM236.4 407.4h1.25v1.25h-1.25zM235.9 408.2h1.25v1.25h-1.25zM233.8 424.6h1.25v1.25h-1.25zM237.7 412.7h1.25v1.25h-1.25zM237.2 425.4h1.25v1.25h-1.25zM233.4 423.0h1.25v1.25h-1.25z"/>
<path fill="#f27890" d="M231.0 167.2h1.25v1.25h-1.25zM230.7 172.2h1.25v1.25h-1.25zM233.4 186.4h1.25v1.25h-1.25zM231.6 178.3h1.25v1.25h-1.25zM232.3 182.1h1.25v1.25h-1.25zM233.6 168.2h1.25v1.25h-1.25zM233.5 158.4h1.25v1.25h-1.25zM229.9 169.6h1.25v1.25h-1.25zM234.7 191.7h1.25v1.25h-1.25zM231.3 181.2h1.25v1.25h-1.25zM235.8 190.2h1.25v1.25h-1.25zM229.9 166.2h1.25v1.25h-1.25zM230.8 171.7h1.25v1.25h-1.25zM232.3 161.4h1.25v1.25h-1.25zM231.0 163.1h1.25v1.25h-1.25zM236.8 184.5h1.25v1.25h-1.25zM236.3 171.2h1.25v1.25h-1.25zM231.1 177.2h1.25v1.25h-1.25zM235.1 168.6h1.25v1.25h-1.25zM231.1 180.8h1.25v1.25h-1.25zM235.2 166.3h1.25v1.25h-1.25zM235.8 178.3h1.25v1.25h-1.25zM234.1 191.0h1.25v1.25h-1.25zM233.2 179.6h1.25v1.25h-1.25zM231.4 163.5h1.25v1.25h-1.25zM235.8 190.4h1.25v1.25h-1.25zM231.0 164.2h1.25v1.25h-1.25zM235.8 179.0h1.25v1.25h-1.25zM237.2 183.4h1.25v1.25h-1.25zM231.7 189.2h1.25v1.25h-1.25zM231.7 173.1h1.25v1.25h-1.25zM230.0 188.9h1.25v1.25h-1.25zM235.3 181.0h1.25v1.25h-1.25zM233.0 187.7h1.25v1.25h-1.25zM234.2 174.4h1.25v1.25h-1.25zM236.0 165.0h1.25v1.25h-1.25zM231.5 175.1h1.25v1.25h-1.25zM235.8 300.8h1.2v1.2h-1.2zM238.2 314.9h1.2v1.2h-1.2zM234.6 306.3h1.2v1.2h-1.2zM234.1 291.8h1.2v1.2h-1.2zM236.0 307.4h1.2v1.2h-1.2zM233.7 290.4h1.2v1.2h-1.2zM234.5 288.5h1.2v1.2h-1.2zM236.5 297.9h1.2v1.2h-1.2zM235.3 278.0h1.2v1.2h-1.2zM232.7 281.3h1.2v1.2h-1.2zM235.7 308.1h1.2v1.2h-1.2zM236.8 291.1h1.2v1.2h-1.2zM233.4 303.9h1.2v1.2h-1.2zM238.9 304.4h1.2v1.2h-1.2zM233.1 301.2h1.2v1.2h-1.2zM236.6 292.6h1.2v1.2h-1.2zM236.4 283.8h1.2v1.2h-1.2zM239.4 313.5h1.2v1.2h-1.2zM235.8 317.0h1.2v1.2h-1.2zM348.5 282.5h1.35v1.35h-1.35zM346.5 289.2h1.35v1.35h-1.35zM352.9 311.1h1.35v1.35h-1.35zM349.2 288.7h1.35v1.35h-1.35zM348.2 306.8h1.35v1.35h-1.35zM351.0 293.0h1.35v1.35h-1.35zM351.6 281.8h1.35v1.35h-1.35zM348.0 306.2h1.35v1.35h-1.35zM345.1 292.4h1.35v1.35h-1.35zM344.3 302.2h1.35v1.35h-1.35zM344.7 314.8h1.35v1.35h-1.35zM342.4 292.1h1.35v1.35h-1.35zM349.7 313.7h1.35v1.35h-1.35zM349.1 289.5h1.35v1.35h-1.35zM349.9 303.7h1.35v1.35h-1.35zM349.5 308.9h1.35v1.35h-1.35zM347.6 313.6h1.35v1.35h-1.35zM346.7 277.5h1.35v1.35h-1.35zM344.8 315.7h1.35v1.35h-1.35zM349.5 294.8h1.35v1.35h-1.35zM343.9 309.8h1.35v1.35h-1.35zM351.9 285.2h1.35v1.35h-1.35zM351.2 287.9h1.35v1.35h-1.35zM349.0 308.0h1.35v1.35h-1.35zM345.6 295.0h1.35v1.35h-1.35zM347.1 301.7h1.35v1.35h-1.35zM234.6 399.1h1.25v1.25h-1.25zM233.5 399.7h1.25v1.25h-1.25zM235.7 412.7h1.25v1.25h-1.25zM233.4 406.4h1.25v1.25h-1.25zM237.6 423.2h1.25v1.25h-1.25zM232.1 422.9h1.25v1.25h-1.25zM232.7 408.4h1.25v1.25h-1.25zM232.8 399.4h1.25v1.25h-1.25zM237.3 418.7h1.25v1.25h-1.25zM231.3 426.5h1.25v1.25h-1.25zM237.4 408.9h1.25v1.25h-1.25zM236.4 419.4h1.25v1.25h-1.25zM231.9 421.4h1.25v1.25h-1.25zM238.5 422.3h1.25v1.25h-1.25zM237.1 410.6h1.25v1.25h-1.25zM233.8 417.3h1.25v1.25h-1.25zM231.5 402.4h1.25v1.25h-1.25zM231.3 426.2h1.25v1.25h-1.25zM233.1 407.6h1.25v1.25h-1.25zM236.9 425.1h1.25v1.25h-1.25zM235.4 425.2h1.25v1.25h-1.25zM235.4 393.8h1.25v1.25h-1.25zM235.1 400.6h1.25v1.25h-1.25zM235.8 419.3h1.25v1.25h-1.25zM232.6 411.1h1.25v1.25h-1.25zM231.8 422.6h1.25v1.25h-1.25zM234.2 398.5h1.25v1.25h-1.25zM230.8 417.2h1.25v1.25h-1.25zM236.5 414.9h1.25v1.25h-1.25z"/>
<path fill="#8a1028" d="M237.4 193.2h1.1v1.1h-1.1zM230.8 174.9h1.1v1.1h-1.1zM235.8 187.3h1.1v1.1h-1.1zM236.6 163.7h1.1v1.1h-1.1zM232.5 181.0h1.1v1.1h-1.1zM232.7 168.8h1.1v1.1h-1.1zM232.5 171.9h1.1v1.1h-1.1zM236.7 184.4h1.1v1.1h-1.1zM232.3 178.4h1.1v1.1h-1.1zM232.3 181.6h1.1v1.1h-1.1zM236.0 172.6h1.1v1.1h-1.1zM231.9 182.7h1.1v1.1h-1.1zM229.7 170.7h1.1v1.1h-1.1zM231.2 176.8h1.1v1.1h-1.1zM232.7 167.3h1.1v1.1h-1.1zM231.0 182.5h1.1v1.1h-1.1zM233.9 161.9h1.1v1.1h-1.1zM236.7 161.3h1.1v1.1h-1.1zM231.9 166.0h1.1v1.1h-1.1zM234.0 164.0h1.1v1.1h-1.1zM232.4 295.4h1.1v1.1h-1.1zM239.3 315.7h1.1v1.1h-1.1zM237.1 289.9h1.1v1.1h-1.1zM232.2 293.7h1.1v1.1h-1.1zM235.3 301.5h1.1v1.1h-1.1zM237.1 311.6h1.1v1.1h-1.1zM236.6 287.5h1.1v1.1h-1.1zM232.1 294.0h1.1v1.1h-1.1zM236.8 306.0h1.1v1.1h-1.1zM237.2 314.5h1.1v1.1h-1.1zM238.9 309.4h1.1v1.1h-1.1zM235.8 284.6h1.1v1.1h-1.1zM234.6 290.9h1.1v1.1h-1.1zM232.3 289.5h1.1v1.1h-1.1zM231.0 429.4h1.1v1.1h-1.1zM232.2 396.2h1.1v1.1h-1.1zM236.1 396.8h1.1v1.1h-1.1zM235.6 418.4h1.1v1.1h-1.1zM238.1 406.8h1.1v1.1h-1.1zM238.6 424.9h1.1v1.1h-1.1zM237.3 427.1h1.1v1.1h-1.1zM236.9 419.4h1.1v1.1h-1.1zM234.2 424.0h1.1v1.1h-1.1zM233.3 425.8h1.1v1.1h-1.1zM231.9 418.1h1.1v1.1h-1.1zM232.2 419.9h1.1v1.1h-1.1zM238.6 425.9h1.1v1.1h-1.1zM236.6 420.2h1.1v1.1h-1.1zM236.8 403.0h1.1v1.1h-1.1zM234.5 412.2h1.1v1.1h-1.1zM232.0 420.1h1.1v1.1h-1.1zM238.8 415.9h1.1v1.1h-1.1zM234.0 427.7h1.1v1.1h-1.1zM231.4 417.6h1.1v1.1h-1.1z"/>
<path fill="#4a4a55" d="M225.6 153.6h1.4v1.4h-1.4zM223.8 159.3h1.4v1.4h-1.4zM225.3 166.8h1.4v1.4h-1.4zM222.8 171.3h1.4v1.4h-1.4zM220.3 190.3h1.4v1.4h-1.4zM226.3 157.3h1.4v1.4h-1.4zM108.2 447.7h1.1v1.1h-1.1zM115.6 442.8h1.1v1.1h-1.1zM111.1 442.1h1.1v1.1h-1.1zM109.2 441.1h1.1v1.1h-1.1zM110.0 444.6h1.1v1.1h-1.1zM114.5 450.5h1.1v1.1h-1.1zM111.2 457.4h1.1v1.1h-1.1zM116.2 440.2h1.1v1.1h-1.1zM339.8 401.3h1.4v1.4h-1.4zM338.8 405.8h1.4v1.4h-1.4zM341.3 410.3h1.4v1.4h-1.4zM343.8 417.3h1.4v1.4h-1.4zM342.8 415.8h1.4v1.4h-1.4z"/>
<path fill="#a0b050" d="M320.3 210.1h1.1v1.1h-1.1zM316.4 209.9h1.1v1.1h-1.1zM323.6 215.1h1.1v1.1h-1.1zM326.3 222.2h1.1v1.1h-1.1zM321.1 204.1h1.1v1.1h-1.1zM312.0 203.9h1.1v1.1h-1.1zM324.1 226.2h1.1v1.1h-1.1zM313.2 203.2h1.1v1.1h-1.1zM326.0 217.6h1.1v1.1h-1.1zM315.5 217.9h1.1v1.1h-1.1zM111.6 454.4h1.1v1.1h-1.1zM113.1 454.5h1.1v1.1h-1.1zM111.7 446.7h1.1v1.1h-1.1zM116.1 449.2h1.1v1.1h-1.1zM215.8 448.7h1.1v1.1h-1.1zM217.0 453.7h1.1v1.1h-1.1zM223.9 437.9h1.1v1.1h-1.1zM216.3 452.0h1.1v1.1h-1.1zM228.0 444.3h1.1v1.1h-1.1zM217.6 438.9h1.1v1.1h-1.1zM215.6 465.2h1.1v1.1h-1.1zM215.4 438.6h1.1v1.1h-1.1zM220.8 435.5h1.1v1.1h-1.1zM223.3 457.3h1.1v1.1h-1.1zM229.1 436.6h1.1v1.1h-1.1zM217.5 438.7h1.1v1.1h-1.1zM225.5 439.1h1.1v1.1h-1.1zM222.3 459.4h1.1v1.1h-1.1zM228.7 443.3h1.1v1.1h-1.1zM226.5 442.9h1.1v1.1h-1.1z"/>
<path fill="#d03050" d="M125.8 305.8h1.4v1.4h-1.4zM126.3 312.8h1.4v1.4h-1.4z"/>
<path fill="#e06080" d="M123.3 308.3h1.4v1.4h-1.4z"/>
<path fill="#c04060" d="M127.3 316.3h1.4v1.4h-1.4z"/>
<path fill="#3a6a80" d="M340.2 279.9h1.4v1.4h-1.4zM340.0 278.0h1.4v1.4h-1.4zM339.6 282.7h1.4v1.4h-1.4zM340.5 293.8h1.4v1.4h-1.4zM341.3 290.8h1.4v1.4h-1.4zM340.2 295.9h1.4v1.4h-1.4zM341.5 276.1h1.4v1.4h-1.4zM340.1 282.3h1.4v1.4h-1.4z"/>
<path fill="#2a4a78" d="M342.1 302.9h1.4v1.4h-1.4zM342.3 274.4h1.4v1.4h-1.4zM338.4 306.8h1.4v1.4h-1.4zM339.3 270.9h1.4v1.4h-1.4zM342.4 313.4h1.4v1.4h-1.4zM337.6 270.7h1.4v1.4h-1.4zM337.9 314.2h1.4v1.4h-1.4zM342.0 299.8h1.4v1.4h-1.4zM342.5 286.8h1.4v1.4h-1.4zM340.1 284.3h1.4v1.4h-1.4zM344.0 293.6h1.4v1.4h-1.4zM343.0 312.3h1.4v1.4h-1.4zM341.8 311.0h1.4v1.4h-1.4zM341.6 290.5h1.4v1.4h-1.4zM339.3 302.8h1.4v1.4h-1.4zM340.1 296.1h1.4v1.4h-1.4zM339.6 275.8h1.4v1.4h-1.4z"/>
<path fill="#1a2a50" d="M339.0 289.2h1.4v1.4h-1.4zM341.2 275.6h1.4v1.4h-1.4zM339.7 311.1h1.4v1.4h-1.4z"/>
<path fill="#dcdf90" d="M343.3 327.2h1.1v1.1h-1.1zM338.1 335.9h1.1v1.1h-1.1zM343.6 336.2h1.1v1.1h-1.1zM341.5 335.2h1.1v1.1h-1.1zM341.8 334.9h1.1v1.1h-1.1zM341.1 334.4h1.1v1.1h-1.1zM337.0 328.2h1.1v1.1h-1.1zM342.3 332.9h1.1v1.1h-1.1zM341.9 323.0h1.1v1.1h-1.1zM343.2 334.0h1.1v1.1h-1.1zM341.9 334.6h1.1v1.1h-1.1zM339.2 325.5h1.1v1.1h-1.1zM340.0 331.8h1.1v1.1h-1.1zM337.9 333.9h1.1v1.1h-1.1zM338.5 339.3h1.1v1.1h-1.1zM338.1 334.3h1.1v1.1h-1.1zM342.0 324.0h1.1v1.1h-1.1zM342.2 333.1h1.1v1.1h-1.1z"/>
<path fill="#b8c060" d="M342.0 332.3h1.1v1.1h-1.1zM339.0 331.6h1.1v1.1h-1.1zM339.1 332.7h1.1v1.1h-1.1zM338.2 324.0h1.1v1.1h-1.1zM344.5 328.8h1.1v1.1h-1.1zM337.8 320.3h1.1v1.1h-1.1zM342.4 339.2h1.1v1.1h-1.1z"/>
<path fill="#6a8028" d="M343.9 335.1h1.1v1.1h-1.1zM340.7 327.9h1.1v1.1h-1.1zM338.6 321.4h1.1v1.1h-1.1zM342.9 328.8h1.1v1.1h-1.1zM338.8 338.3h1.1v1.1h-1.1zM340.3 322.9h1.1v1.1h-1.1zM341.4 328.1h1.1v1.1h-1.1zM342.3 332.8h1.1v1.1h-1.1zM340.2 334.5h1.1v1.1h-1.1zM338.2 325.4h1.1v1.1h-1.1z"/>
<path fill="#7a8a30" d="M106.8 451.6h1.1v1.1h-1.1zM106.4 448.2h1.1v1.1h-1.1zM106.2 444.7h1.1v1.1h-1.1zM107.4 455.0h1.1v1.1h-1.1zM110.8 442.8h1.1v1.1h-1.1zM112.1 443.1h1.1v1.1h-1.1zM104.2 454.8h1.1v1.1h-1.1zM108.5 457.0h1.1v1.1h-1.1zM113.0 443.7h1.1v1.1h-1.1zM109.7 457.5h1.1v1.1h-1.1z"/>
<path fill="#a0a0a0" d="M214.7 462.8h1.1v1.1h-1.1zM226.3 453.7h1.1v1.1h-1.1zM217.2 454.1h1.1v1.1h-1.1zM220.8 446.2h1.1v1.1h-1.1zM219.1 459.8h1.1v1.1h-1.1zM215.1 440.5h1.1v1.1h-1.1zM228.3 461.2h1.1v1.1h-1.1zM217.1 463.4h1.1v1.1h-1.1zM220.7 436.8h1.1v1.1h-1.1zM225.7 447.2h1.1v1.1h-1.1zM229.0 446.9h1.1v1.1h-1.1zM218.2 451.9h1.1v1.1h-1.1zM229.2 461.9h1.1v1.1h-1.1z"/>
<path fill="#9890a8" d="M344.6 408.8h1.4v1.4h-1.4z"/>
<path fill="#d04060" d="M345.3 412.3h1.4v1.4h-1.4zM346.3 419.3h1.4v1.4h-1.4z"/>
<path d="M434.00 115.60V115.59H434.75V115.56H435.50V115.53H436.25V115.50H437.00V115.46H437.75V115.44H438.50V115.40H439.25V115.37H440.00V115.34H440.75V115.32H441.50V115.28H442.25V115.26H443.00V115.24H443.75V115.21H444.50V115.18H445.25V115.17H446.00V115.12H446.75V115.09H447.50V115.04H448.25V115.06H449.00V115.02H449.75V114.35H450.50V113.63H451.25V113.08H452.00V111.80H452.75V110.10H453.50V108.96H454.25V107.67H455.00V105.76H455.75V105.08H456.50V105.12H457.25V105.74H458.00V106.26H458.75V106.11H459.50V105.10H460.25V105.14H461.00V107.21H461.75V109.02H462.50V109.60H463.25V110.79H464.00V108.65H464.75V101.54H465.50V94.04H466.25V86.26H467.00V82.81H467.75V78.47H468.50V67.94H469.25V59.80H470.00V45.78H470.75V37.61H471.50V28.24H472.25V33.74H473.00V44.72H473.75V50.06H474.50V56.23H475.25V65.65H476.00V74.76H476.75V83.83H477.50V93.69H478.25V101.23H479.00V106.66H479.75V111.09H480.50V112.67H481.25V114.09H482.00V114.26H482.75V114.46H483.50V114.60H484.25V114.78H485.00V115.02H485.75V115.16H486.50V115.34H487.25V115.51H488.00V115.60Z" fill="#afaaa9" stroke="#8f8a88" stroke-width="0.45"/>
<path d="M437.00 231.90V231.87H437.75V231.82H438.50V231.77H439.25V231.71H440.00V231.64H440.75V231.61H441.50V231.52H442.25V231.51H443.00V231.41H443.75V231.37H444.50V231.31H445.25V231.25H446.00V231.19H446.75V231.19H447.50V231.09H448.25V227.64H449.00V223.94H449.75V219.92H450.50V214.80H451.25V216.90H452.00V217.91H452.75V218.12H453.50V216.43H454.25V217.15H455.00V218.50H455.75V221.07H456.50V222.33H457.25V224.35H458.00V225.91H458.75V226.97H459.50V227.74H460.25V228.69H461.00V227.59H461.75V224.44H462.50V219.92H463.25V215.94H464.00V209.87H464.75V203.47H465.50V197.95H466.25V191.68H467.00V187.37H467.75V179.60H468.50V169.00H469.25V159.75H470.00V155.71H470.75V148.51H471.50V155.67H472.25V159.50H473.00V163.95H473.75V176.75H474.50V187.59H475.25V195.65H476.00V202.45H476.75V207.54H477.50V214.10H478.25V219.33H479.00V222.69H479.75V226.73H480.50V230.31H481.25V231.15H482.00V231.38H482.75V231.61H483.50V231.86H484.25V231.90Z" fill="#afaaa9" stroke="#8f8a88" stroke-width="0.45"/>
<path d="M469.50 348.80V342.46H470.25V329.63H471.00V322.49H471.75V312.83H472.50V305.60H473.25V297.60H474.00V286.92H474.75V274.22H475.50V272.27H476.25V266.66H477.00V266.48H477.75V274.91H478.50V272.72H479.25V280.34H480.00V288.22H480.75V304.32H481.50V315.81H482.25V326.05H483.00V338.50H483.75V348.80H484.50V348.80Z" fill="#afaaa9" stroke="#8f8a88" stroke-width="0.45"/>
<path d="M467.50 467.00V466.64H468.25V465.87H469.00V464.21H469.75V461.75H470.50V457.37H471.25V452.59H472.00V447.33H472.75V439.70H473.50V434.31H474.25V427.74H475.00V420.09H475.75V408.96H476.50V396.82H477.25V387.20H478.00V384.91H478.75V385.97H479.50V387.43H480.25V382.35H481.00V381.26H481.75V392.81H482.50V404.93H483.25V410.05H484.00V410.91H484.75V416.88H485.50V424.03H486.25V432.43H487.00V435.60H487.75V442.02H488.50V448.25H489.25V451.45H490.00V457.67H490.75V462.11H491.50V465.44H492.25V465.36H493.00V465.15H493.75V464.86H494.50V463.86H495.25V463.06H496.00V464.67H496.75V466.01H497.50V466.44H498.25V466.80H499.00V467.00Z" fill="#afaaa9" stroke="#8f8a88" stroke-width="0.45"/>
</g>
<rect x="48.7" y="21.2" width="93.9" height="93.4" fill="none" stroke="#2e2e2e" stroke-width="1.2"/>
<rect x="160.9" y="21.3" width="93.8" height="93.7" fill="none" stroke="#2e2e2e" stroke-width="1.2"/>
<rect x="274.4" y="21.3" width="93.6" height="93.8" fill="none" stroke="#2e2e2e" stroke-width="1.2"/>
<rect x="388.5" y="22.3" width="123.1" height="94.2" fill="none" stroke="#2e2e2e" stroke-width="1.2"/>
<rect x="49.0" y="138.0" width="93.5" height="93.5" fill="none" stroke="#2e2e2e" stroke-width="1.2"/>
<rect x="161.5" y="138.4" width="93.9" height="93.1" fill="none" stroke="#2e2e2e" stroke-width="1.2"/>
<rect x="273.8" y="138.4" width="93.6" height="93.4" fill="none" stroke="#2e2e2e" stroke-width="1.2"/>
<rect x="386.3" y="137.7" width="125.5" height="95.1" fill="none" stroke="#2e2e2e" stroke-width="1.2"/>
<rect x="48.5" y="255.3" width="93.8" height="93.9" fill="none" stroke="#2e2e2e" stroke-width="1.2"/>
<rect x="160.7" y="255.7" width="93.4" height="93.6" fill="none" stroke="#2e2e2e" stroke-width="1.2"/>
<rect x="271.7" y="255.2" width="93.6" height="93.1" fill="none" stroke="#2e2e2e" stroke-width="1.2"/>
<rect x="382.8" y="256.0" width="125.5" height="93.6" fill="none" stroke="#2e2e2e" stroke-width="1.2"/>
<rect x="49.5" y="373.0" width="93.4" height="93.8" fill="none" stroke="#2e2e2e" stroke-width="1.2"/>
<rect x="161.7" y="373.9" width="93.9" height="93.5" fill="none" stroke="#2e2e2e" stroke-width="1.2"/>
<rect x="274.5" y="373.6" width="93.7" height="93.4" fill="none" stroke="#2e2e2e" stroke-width="1.2"/>
<rect x="386.5" y="373.6" width="124.8" height="94.2" fill="none" stroke="#2e2e2e" stroke-width="1.2"/>
<path d="M48.7 114.6H44.3M48.7 107.6H46.4M48.7 100.5H46.4M48.7 95.8H46.4M48.7 91.2H44.3M48.7 84.2H46.4M48.7 77.2H46.4M48.7 72.4H46.4M48.7 67.9H44.3M48.7 60.9H46.4M48.7 53.8H46.4M48.7 49.1H46.4M48.7 44.5H44.3M48.7 37.5H46.4M48.7 30.5H46.4M48.7 25.7H46.4M48.7 21.2H44.3" stroke="#2e2e2e" stroke-width="1.1"/>
<text transform="translate(42.7 119.5) rotate(-90)" font-size="7" fill="#222">10<tspan font-size="5" dy="-2.5">0</tspan></text>
<text transform="translate(42.7 96.2) rotate(-90)" font-size="7" fill="#222">10<tspan font-size="5" dy="-2.5">1</tspan></text>
<text transform="translate(42.7 72.8) rotate(-90)" font-size="7" fill="#222">10<tspan font-size="5" dy="-2.5">2</tspan></text>
<text transform="translate(42.7 49.4) rotate(-90)" font-size="7" fill="#222">10<tspan font-size="5" dy="-2.5">3</tspan></text>
<text transform="translate(42.7 26.1) rotate(-90)" font-size="7" fill="#222">10<tspan font-size="5" dy="-2.5">4</tspan></text>
<path d="M49.0 231.5H44.6M49.0 224.5H46.7M49.0 217.4H46.7M49.0 212.7H46.7M49.0 208.1H44.6M49.0 201.1H46.7M49.0 194.1H46.7M49.0 189.3H46.7M49.0 184.8H44.6M49.0 177.7H46.7M49.0 170.7H46.7M49.0 165.9H46.7M49.0 161.4H44.6M49.0 154.3H46.7M49.0 147.3H46.7M49.0 142.5H46.7M49.0 138.0H44.6" stroke="#2e2e2e" stroke-width="1.1"/>
<text transform="translate(43.0 236.4) rotate(-90)" font-size="7" fill="#222">10<tspan font-size="5" dy="-2.5">0</tspan></text>
<text transform="translate(43.0 213.0) rotate(-90)" font-size="7" fill="#222">10<tspan font-size="5" dy="-2.5">1</tspan></text>
<text transform="translate(43.0 189.7) rotate(-90)" font-size="7" fill="#222">10<tspan font-size="5" dy="-2.5">2</tspan></text>
<text transform="translate(43.0 166.3) rotate(-90)" font-size="7" fill="#222">10<tspan font-size="5" dy="-2.5">3</tspan></text>
<text transform="translate(43.0 142.9) rotate(-90)" font-size="7" fill="#222">10<tspan font-size="5" dy="-2.5">4</tspan></text>
<path d="M48.5 349.2H44.1M48.5 342.1H46.2M48.5 335.1H46.2M48.5 330.3H46.2M48.5 325.7H44.1M48.5 318.7H46.2M48.5 311.6H46.2M48.5 306.8H46.2M48.5 302.2H44.1M48.5 295.2H46.2M48.5 288.1H46.2M48.5 283.3H46.2M48.5 278.8H44.1M48.5 271.7H46.2M48.5 264.6H46.2M48.5 259.8H46.2M48.5 255.3H44.1" stroke="#2e2e2e" stroke-width="1.1"/>
<text transform="translate(42.5 354.1) rotate(-90)" font-size="7" fill="#222">10<tspan font-size="5" dy="-2.5">0</tspan></text>
<text transform="translate(42.5 330.6) rotate(-90)" font-size="7" fill="#222">10<tspan font-size="5" dy="-2.5">1</tspan></text>
<text transform="translate(42.5 307.1) rotate(-90)" font-size="7" fill="#222">10<tspan font-size="5" dy="-2.5">2</tspan></text>
<text transform="translate(42.5 283.7) rotate(-90)" font-size="7" fill="#222">10<tspan font-size="5" dy="-2.5">3</tspan></text>
<text transform="translate(42.5 260.2) rotate(-90)" font-size="7" fill="#222">10<tspan font-size="5" dy="-2.5">4</tspan></text>
<path d="M49.5 466.8H45.1M49.5 459.7H47.2M49.5 452.7H47.2M49.5 447.9H47.2M49.5 443.4H45.1M49.5 436.3H47.2M49.5 429.2H47.2M49.5 424.4H47.2M49.5 419.9H45.1M49.5 412.8H47.2M49.5 405.8H47.2M49.5 401.0H47.2M49.5 396.4H45.1M49.5 389.4H47.2M49.5 382.3H47.2M49.5 377.5H47.2M49.5 373.0H45.1" stroke="#2e2e2e" stroke-width="1.1"/>
<text transform="translate(43.5 471.7) rotate(-90)" font-size="7" fill="#222">10<tspan font-size="5" dy="-2.5">0</tspan></text>
<text transform="translate(43.5 448.2) rotate(-90)" font-size="7" fill="#222">10<tspan font-size="5" dy="-2.5">1</tspan></text>
<text transform="translate(43.5 424.8) rotate(-90)" font-size="7" fill="#222">10<tspan font-size="5" dy="-2.5">2</tspan></text>
<text transform="translate(43.5 401.3) rotate(-90)" font-size="7" fill="#222">10<tspan font-size="5" dy="-2.5">3</tspan></text>
<text transform="translate(43.5 377.9) rotate(-90)" font-size="7" fill="#222">10<tspan font-size="5" dy="-2.5">4</tspan></text>
<path d="M49.5 466.8V471.2M56.5 466.8V469.0M61.6 466.8V469.0M65.4 466.8V469.0M68.5 466.8V469.0M72.8 466.8V471.2M79.9 466.8V469.0M85.0 466.8V469.0M88.8 466.8V469.0M91.8 466.8V469.0M96.2 466.8V471.2M103.2 466.8V469.0M108.3 466.8V469.0M112.1 466.8V469.0M115.2 466.8V469.0M119.6 466.8V471.2M126.6 466.8V469.0M131.7 466.8V469.0M135.5 466.8V469.0M138.5 466.8V469.0M142.9 466.8V471.2" stroke="#2e2e2e" stroke-width="1.1"/>
<text x="46.4" y="479.4" font-size="7" fill="#222">10<tspan font-size="5" dy="-2.5">0</tspan></text>
<text x="69.8" y="479.4" font-size="7" fill="#222">10<tspan font-size="5" dy="-2.5">1</tspan></text>
<text x="93.1" y="479.4" font-size="7" fill="#222">10<tspan font-size="5" dy="-2.5">2</tspan></text>
<text x="116.5" y="479.4" font-size="7" fill="#222">10<tspan font-size="5" dy="-2.5">3</tspan></text>
<text x="139.8" y="479.4" font-size="7" fill="#222">10<tspan font-size="5" dy="-2.5">4</tspan></text>
<path d="M161.7 467.4V471.8M168.8 467.4V469.6M173.9 467.4V469.6M177.7 467.4V469.6M180.8 467.4V469.6M185.2 467.4V471.8M192.2 467.4V469.6M197.3 467.4V469.6M201.2 467.4V469.6M204.3 467.4V469.6M208.6 467.4V471.8M215.7 467.4V469.6M220.8 467.4V469.6M224.6 467.4V469.6M227.7 467.4V469.6M232.1 467.4V471.8M239.2 467.4V469.6M244.3 467.4V469.6M248.1 467.4V469.6M251.2 467.4V469.6M255.6 467.4V471.8" stroke="#2e2e2e" stroke-width="1.1"/>
<text x="158.6" y="479.4" font-size="7" fill="#222">10<tspan font-size="5" dy="-2.5">0</tspan></text>
<text x="182.1" y="479.4" font-size="7" fill="#222">10<tspan font-size="5" dy="-2.5">1</tspan></text>
<text x="205.5" y="479.4" font-size="7" fill="#222">10<tspan font-size="5" dy="-2.5">2</tspan></text>
<text x="229.0" y="479.4" font-size="7" fill="#222">10<tspan font-size="5" dy="-2.5">3</tspan></text>
<text x="252.5" y="479.4" font-size="7" fill="#222">10<tspan font-size="5" dy="-2.5">4</tspan></text>
<path d="M274.5 467.0V471.4M281.6 467.0V469.2M286.6 467.0V469.2M290.5 467.0V469.2M293.5 467.0V469.2M297.9 467.0V471.4M305.0 467.0V469.2M310.1 467.0V469.2M313.9 467.0V469.2M317.0 467.0V469.2M321.4 467.0V471.4M328.4 467.0V469.2M333.5 467.0V469.2M337.3 467.0V469.2M340.4 467.0V469.2M344.8 467.0V471.4M351.8 467.0V469.2M356.9 467.0V469.2M360.7 467.0V469.2M363.8 467.0V469.2M368.2 467.0V471.4" stroke="#2e2e2e" stroke-width="1.1"/>
<text x="271.4" y="479.4" font-size="7" fill="#222">10<tspan font-size="5" dy="-2.5">0</tspan></text>
<text x="294.8" y="479.4" font-size="7" fill="#222">10<tspan font-size="5" dy="-2.5">1</tspan></text>
<text x="318.2" y="479.4" font-size="7" fill="#222">10<tspan font-size="5" dy="-2.5">2</tspan></text>
<text x="341.7" y="479.4" font-size="7" fill="#222">10<tspan font-size="5" dy="-2.5">3</tspan></text>
<text x="365.1" y="479.4" font-size="7" fill="#222">10<tspan font-size="5" dy="-2.5">4</tspan></text>
<path d="M387.1 467.8V470.0M395.2 467.8V470.0M401.0 467.8V470.0M405.5 467.8V470.0M409.1 467.8V470.0M412.2 467.8V470.0M414.8 467.8V470.0M417.2 467.8V470.0M419.3 467.8V472.2M433.1 467.8V470.0M441.2 467.8V470.0M447.0 467.8V470.0M451.5 467.8V470.0M455.1 467.8V470.0M458.2 467.8V470.0M460.8 467.8V470.0M463.2 467.8V470.0M465.3 467.8V472.2M479.1 467.8V470.0M487.2 467.8V470.0M493.0 467.8V470.0M497.5 467.8V470.0M501.1 467.8V470.0M504.2 467.8V470.0M506.8 467.8V470.0M509.2 467.8V470.0M511.3 467.8V472.2" stroke="#2e2e2e" stroke-width="1.1"/>
<text x="416.2" y="479.4" font-size="7" fill="#222">10<tspan font-size="5" dy="-2.5">2</tspan></text>
<text x="462.2" y="479.4" font-size="7" fill="#222">10<tspan font-size="5" dy="-2.5">3</tspan></text>
<text x="508.2" y="479.4" font-size="7" fill="#222">10<tspan font-size="5" dy="-2.5">4</tspan></text>
<text x="96.7" y="15.6" font-size="17.7" text-anchor="middle" font-weight="normal" fill="#111">Unstimulated</text>
<text x="211.3" y="15.6" font-size="17.7" text-anchor="middle" font-weight="normal" fill="#111">6 hours</text>
<text x="326.0" y="15.5" font-size="17.7" text-anchor="middle" font-weight="normal" fill="#111">48 hours</text>
<text x="450.2" y="15.5" font-size="17.7" text-anchor="middle" font-weight="normal" fill="#111">48 hours</text>
<text x="25.1" y="32.8" font-size="16.5" text-anchor="middle" font-weight="bold" fill="#111">A</text>
<text x="24.9" y="149.8" font-size="16.5" text-anchor="middle" font-weight="bold" fill="#111">B</text>
<text x="25.7" y="267.0" font-size="16.5" text-anchor="middle" font-weight="bold" fill="#111">C</text>
<text x="24.5" y="386.2" font-size="16.5" text-anchor="middle" font-weight="bold" fill="#111">D</text>
<text x="165.6" y="43.8" font-size="13.2" text-anchor="start" font-weight="normal" fill="#111">CMV-</text>
<text x="165.6" y="57.8" font-size="13.2" text-anchor="start" font-weight="normal" fill="#111">Specific</text>
<text x="165.6" y="71.7" font-size="13.2" text-anchor="start" font-weight="normal" fill="#111">27.4%</text>
<text x="166.6" y="152.8" font-size="13.2" text-anchor="start" font-weight="normal" fill="#111">HIV-</text>
<text x="166.6" y="166.7" font-size="13.2" text-anchor="start" font-weight="normal" fill="#111">Specific</text>
<text x="166.6" y="180.7" font-size="13.2" text-anchor="start" font-weight="normal" fill="#111">4.7%</text>
<text x="166.0" y="270.4" font-size="13.2" text-anchor="start" font-weight="normal" fill="#111">HIV-</text>
<text x="166.0" y="284.4" font-size="13.2" text-anchor="start" font-weight="normal" fill="#111">Specific</text>
<text x="166.0" y="298.3" font-size="13.2" text-anchor="start" font-weight="normal" fill="#111">3.4%</text>
<text x="165.4" y="385.8" font-size="13.2" text-anchor="start" font-weight="normal" fill="#111">HIV-</text>
<text x="165.4" y="399.8" font-size="13.2" text-anchor="start" font-weight="normal" fill="#111">Specific</text>
<text x="165.4" y="413.7" font-size="13.2" text-anchor="start" font-weight="normal" fill="#111">6.2%</text>
<text transform="translate(15.6 255) rotate(-90)" font-size="17" fill="#111">IFN-&#947;</text>
<text x="273.6" y="510.7" font-size="17.5" text-anchor="middle" font-weight="normal" fill="#111">CFSE</text>
</g>
</svg>
</body></html>
